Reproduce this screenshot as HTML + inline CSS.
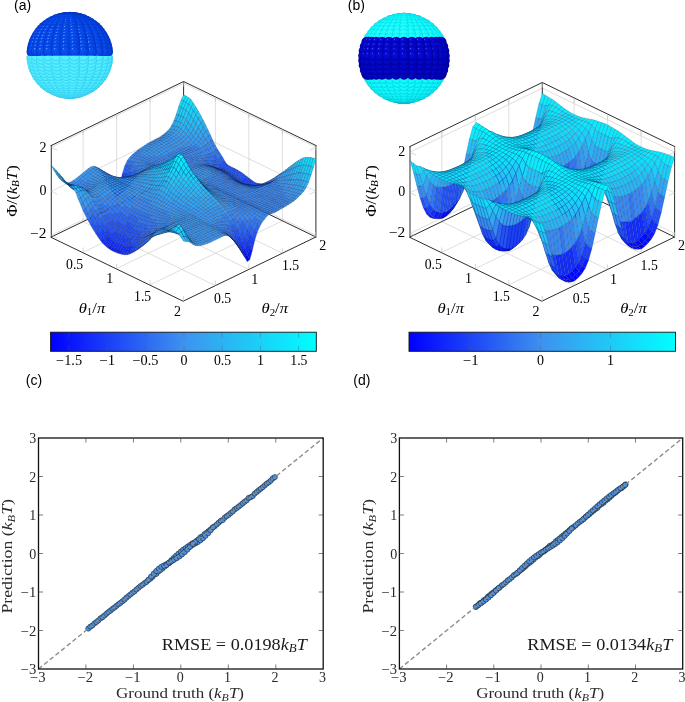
<!DOCTYPE html>
<html><head><meta charset="utf-8"><title>figure</title>
<style>html,body{margin:0;padding:0;background:#fff}svg{display:block}</style>
</head><body>
<svg width="685" height="702" viewBox="0 0 685 702">
<rect width="685" height="702" fill="#fff"/>
<text x="14.0" y="9.7" font-size="14" text-anchor="start" font-family='"Liberation Sans","DejaVu Sans",sans-serif' fill="#000">(a)</text>
<text x="347.8" y="9.7" font-size="14" text-anchor="start" font-family='"Liberation Sans","DejaVu Sans",sans-serif' fill="#000">(b)</text>
<text x="25.8" y="384.7" font-size="14" text-anchor="start" font-family='"Liberation Sans","DejaVu Sans",sans-serif' fill="#000">(c)</text>
<text x="353.3" y="384.7" font-size="14" text-anchor="start" font-family='"Liberation Sans","DejaVu Sans",sans-serif' fill="#000">(d)</text>
<g stroke="#c8c8c8" stroke-width="0.6" fill="none">
<path d="M83.1 252.4L215.4 188.4" />
<path d="M83.1 221.6L215.4 285.6" />
<path d="M83.1 221.6L83.1 130.1" />
<path d="M215.4 188.4L215.4 96.9" />
<path d="M116.6 268.6L248.9 204.6" />
<path d="M116.6 205.4L248.9 269.4" />
<path d="M116.6 205.4L116.6 113.9" />
<path d="M248.9 204.6L248.9 113.1" />
<path d="M150.1 284.8L282.4 220.8" />
<path d="M150.1 189.2L282.4 253.2" />
<path d="M150.1 189.2L150.1 97.7" />
<path d="M282.4 220.8L282.4 129.3" />
<path d="M51.3 235.2L183.6 171.3" />
<path d="M183.6 171.3L315.9 235.2" />
<path d="M51.3 191.2L183.6 127.3" />
<path d="M183.6 127.3L315.9 191.2" />
<path d="M51.3 147.2L183.6 83.3" />
<path d="M183.6 83.3L315.9 147.2" />
</g>
<g stroke="#222" stroke-width="0.95" fill="none" stroke-linecap="square">
<path d="M51.3 145.5L183.6 81.5L315.9 145.5"/>
<path d="M51.3 237.0L183.6 173.0L315.9 237.0L183.6 301.0z"/>
<path d="M51.3 237.0L51.3 145.5" />
<path d="M183.6 96.9L183.6 81.5" />
<path d="M315.9 237.0L315.9 145.5" />
</g>
<g stroke="#c2c2c2" stroke-width="0.65" fill="none">
<path d="M83.1 252.4v-5"/>
<path d="M215.4 285.6v-5"/>
<path d="M83.1 130.1v5"/>
<path d="M215.4 96.9v5"/>
<path d="M116.6 268.6v-5"/>
<path d="M248.9 269.4v-5"/>
<path d="M116.6 113.9v5"/>
<path d="M248.9 113.1v5"/>
<path d="M150.1 284.8v-5"/>
<path d="M282.4 253.2v-5"/>
<path d="M150.1 97.7v5"/>
<path d="M282.4 129.3v5"/>
<path d="M183.6 301.0v-5"/>
<path d="M315.9 237.0v-5"/>
<path d="M183.6 81.5v5"/>
<path d="M315.9 145.5v5"/>
<path d="M51.3 235.2L57.3 238.2" />
<path d="M315.9 235.2L309.9 238.2" />
<path d="M51.3 191.2L57.3 194.2" />
<path d="M315.9 191.2L309.9 194.2" />
<path d="M51.3 147.2L57.3 150.2" />
<path d="M315.9 147.2L309.9 150.2" />
</g>
<g stroke="#04184a" stroke-opacity="0.68" stroke-width="0.33" stroke-linejoin="round">
<g fill="#0cebfc"><path d="M181.1 100l2.5 1.1 2.5-5-2.5-1.4z"/></g>
<g fill="#13ddfa"><path d="M178.7 106.6l2.4 0.9 2.5-6.4-2.5-1.1z"/></g>
<g fill="#1bcff8"><path d="M176.2 114.5l2.5 0.6 2.4-7.6-2.4-0.9z"/></g>
<g fill="#2bb4f3"><path d="M173.8 120.9l2.4 0.2 2.5-6-2.5-0.6z"/><path d="M171.3 125.9l2.5 0.1 2.4-4.9-2.4-0.2z"/></g>
<g fill="#32a6f1"><path d="M168.9 129.4l2.4 0.1 2.5-3.5-2.5-0.1z"/><path d="M166.4 132.1l2.5 0 2.4-2.6-2.4-0.1z"/></g>
<g fill="#3a99ef"><path d="M164 134.1l2.4 0 2.5-2-2.5 0z"/><path d="M161.5 135.9l2.5 0 2.4-1.8-2.4 0z"/><path d="M159.1 137.4l2.4 0.1 2.5-1.6-2.5 0z"/><path d="M156.6 138.7l2.5 0.1 2.4-1.3-2.4-0.1z"/><path d="M154.2 140l2.4 0.2 2.5-1.4-2.5-0.1z"/><path d="M151.7 141.2l2.5 0.3 2.4-1.3-2.4-0.2z"/><path d="M149.3 142.5l2.4 0.4 2.5-1.4-2.5-0.3z"/><path d="M146.8 143.9l2.5 0.5 2.4-1.5-2.4-0.4z"/><path d="M144.4 145.6l2.4 0.4 2.5-1.6-2.5-0.5z"/><path d="M141.9 147.3l2.5 0.5 2.4-1.8-2.4-0.4z"/><path d="M139.5 149l2.4 0.5 2.5-1.7-2.5-0.5z"/></g>
<g fill="#3a89ef"><path d="M137 150.7l2.5 0.6 2.4-1.8-2.4-0.5z"/><path d="M134.6 152.7l2.4 0.6 2.5-2-2.5-0.6z"/><path d="M132.1 154.8l2.5 0.6 2.4-2.1-2.4-0.6z"/><path d="M129.7 157.3l2.4 0.6 2.5-2.5-2.5-0.6z"/><path d="M127.2 160.6l2.5 0.5 2.4-3.2-2.4-0.6z"/></g>
<g fill="#3277f1"><path d="M124.8 165.8l2.4 0.2 2.5-4.9-2.5-0.5z"/></g>
<g fill="#2b64f3"><path d="M122.3 173.8l2.5-0.1 2.4-7.7-2.4-0.2z"/></g>
<g fill="#1b40f8"><path d="M119.9 185.8l2.4-0.6 2.5-11.5-2.5 0.1z"/></g>
<g fill="#0c1bfc"><path d="M117.4 194.6l2.5-1.1 2.4-8.3-2.4 0.6z"/></g>
<g fill="#0409fe"><path d="M115 196.4l2.4-1 2.5-1.9-2.5 1.1z"/></g>
<g fill="#0c1bfc"><path d="M112.5 192.3l2.5-0.6 2.4 3.7-2.4 1z"/></g>
<g fill="#132efa"><path d="M110.1 188.3l2.4-0.2 2.5 3.6-2.5 0.6z"/></g>
<g fill="#1b40f8"><path d="M107.6 183.9l2.5 0.1 2.4 4.1-2.4 0.2z"/></g>
<g fill="#2352f5"><path d="M105.2 179.8l2.4 0.4 2.5 3.8-2.5-0.1z"/></g>
<g fill="#2b64f3"><path d="M102.7 175.7l2.5 0.7 2.4 3.8-2.4-0.4z"/></g>
<g fill="#3277f1"><path d="M100.3 171.8l2.4 0.9 2.5 3.7-2.5-0.7z"/></g>
<g fill="#3a89ef"><path d="M97.8 168.2l2.5 1.2 2.4 3.3-2.4-0.9z"/></g>
<g fill="#3a99ef"><path d="M95.4 166.5l2.4 1.4 2.5 1.5-2.5-1.2z"/><path d="M92.9 166.2l2.5 1.4 2.4 0.3-2.4-1.4z"/></g>
<g fill="#32a6f1"><path d="M90.5 167.1l2.4 1.6 2.5-1.1-2.5-1.4z"/><path d="M88 168.8l2.5 1.7 2.4-1.8-2.4-1.6z"/></g>
<g fill="#3a99ef"><path d="M85.6 170.8l2.4 1.8 2.5-2.1-2.5-1.7z"/><path d="M83.1 172.8l2.5 2 2.4-2.2-2.4-1.8z"/><path d="M80.7 174.8l2.4 2.1 2.5-2.1-2.5-2z"/><path d="M78.2 176.8l2.5 2.2 2.4-2.1-2.4-2.1z"/><path d="M75.8 178.7l2.4 2.3 2.5-2-2.5-2.2z"/><path d="M73.3 180.4l2.5 2.4 2.4-1.8-2.4-2.3z"/></g>
<g fill="#3a89ef"><path d="M70.9 182l2.4 2.4 2.5-1.6-2.5-2.4z"/><path d="M68.4 182.8l2.5 2.6 2.4-1-2.4-2.4z"/></g>
<g fill="#3a99ef"><path d="M66 182.6l2.4 2.7 2.5 0.1-2.5-2.6z"/><path d="M63.5 179.9l2.5 2.9 2.4 2.5-2.4-2.7z"/></g>
<g fill="#32a6f1"><path d="M61.1 176l2.4 3.2 2.5 3.6-2.5-2.9z"/></g>
<g fill="#2bb4f3"><path d="M58.6 173l2.5 3.6 2.4 2.6-2.4-3.2z"/></g>
<g fill="#23c2f5"><path d="M56.2 170.3l2.4 4 2.5 2.3-2.5-3.6z"/><path d="M53.7 167.8l2.5 4.5 2.4 2-2.4-4z"/></g>
<g fill="#1bcff8"><path d="M51.3 165.2l2.4 4.8 2.5 2.3-2.5-4.5z"/></g>
<g fill="#0cebfc"><path d="M183.6 101.1l2.5 1.3 2.4-4.8-2.4-1.5z"/></g>
<g fill="#13ddfa"><path d="M181.1 107.5l2.5 1.1 2.5-6.2-2.5-1.3z"/></g>
<g fill="#1bcff8"><path d="M178.7 115.1l2.4 0.8 2.5-7.3-2.5-1.1z"/></g>
<g fill="#23c2f5"><path d="M176.2 121.1l2.5 0.6 2.4-5.8-2.4-0.8z"/></g>
<g fill="#2bb4f3"><path d="M173.8 126l2.4 0.5 2.5-4.8-2.5-0.6z"/></g>
<g fill="#32a6f1"><path d="M171.3 129.5l2.5 0.3 2.4-3.3-2.4-0.5z"/><path d="M168.9 132.1l2.4 0.3 2.5-2.6-2.5-0.3z"/><path d="M166.4 134.1l2.5 0.4 2.4-2.1-2.4-0.3z"/></g>
<g fill="#3a99ef"><path d="M164 135.9l2.4 0.4 2.5-1.8-2.5-0.4z"/><path d="M161.5 137.5l2.5 0.4 2.4-1.6-2.4-0.4z"/><path d="M159.1 138.8l2.4 0.5 2.5-1.4-2.5-0.4z"/><path d="M156.6 140.2l2.5 0.5 2.4-1.4-2.4-0.5z"/><path d="M154.2 141.5l2.4 0.6 2.5-1.4-2.5-0.5z"/><path d="M151.7 142.9l2.5 0.6 2.4-1.4-2.4-0.6z"/><path d="M149.3 144.4l2.4 0.6 2.5-1.5-2.5-0.6z"/><path d="M146.8 146l2.5 0.7 2.4-1.7-2.4-0.6z"/><path d="M144.4 147.8l2.4 0.7 2.5-1.8-2.5-0.7z"/><path d="M141.9 149.5l2.5 0.8 2.4-1.8-2.4-0.7z"/><path d="M139.5 151.3l2.4 0.8 2.5-1.8-2.5-0.8z"/></g>
<g fill="#3a89ef"><path d="M137 153.3l2.5 0.7 2.4-1.9-2.4-0.8z"/><path d="M134.6 155.4l2.4 0.6 2.5-2-2.5-0.7z"/><path d="M132.1 157.9l2.5 0.6 2.4-2.5-2.4-0.6z"/><path d="M129.7 161.1l2.4 0.4 2.5-3-2.5-0.6z"/></g>
<g fill="#3277f1"><path d="M127.2 166l2.5 0.2 2.4-4.7-2.4-0.4z"/></g>
<g fill="#2b64f3"><path d="M124.8 173.7l2.4-0.3 2.5-7.2-2.5-0.2z"/></g>
<g fill="#1b40f8"><path d="M122.3 185.2l2.5-0.9 2.4-10.9-2.4 0.3z"/></g>
<g fill="#132efa"><path d="M119.9 193.5l2.4-1.4 2.5-7.8-2.5 0.9z"/></g>
<g fill="#0c1bfc"><path d="M117.4 195.4l2.5-1.3 2.4-2-2.4 1.4z"/><path d="M115 191.7l2.4-1 2.5 3.4-2.5 1.3z"/></g>
<g fill="#132efa"><path d="M112.5 188.1l2.5-0.6 2.4 3.2-2.4 1z"/></g>
<g fill="#1b40f8"><path d="M110.1 184l2.4-0.1 2.5 3.6-2.5 0.6z"/></g>
<g fill="#2352f5"><path d="M107.6 180.2l2.5 0.2 2.4 3.5-2.4 0.1z"/></g>
<g fill="#2b64f3"><path d="M105.2 176.4l2.4 0.6 2.5 3.4-2.5-0.2z"/></g>
<g fill="#3277f1"><path d="M102.7 172.7l2.5 1 2.4 3.3-2.4-0.6z"/></g>
<g fill="#3a89ef"><path d="M100.3 169.4l2.4 1.4 2.5 2.9-2.5-1z"/></g>
<g fill="#3a99ef"><path d="M97.8 167.9l2.5 1.5 2.4 1.4-2.4-1.4z"/><path d="M95.4 167.6l2.4 1.7 2.5 0.1-2.5-1.5z"/><path d="M92.9 168.7l2.5 1.7 2.4-1.1-2.4-1.7z"/><path d="M90.5 170.5l2.4 1.8 2.5-1.9-2.5-1.7z"/><path d="M88 172.6l2.5 1.8 2.4-2.1-2.4-1.8z"/><path d="M85.6 174.8l2.4 1.8 2.5-2.2-2.5-1.8z"/><path d="M83.1 176.9l2.5 1.9 2.4-2.2-2.4-1.8z"/><path d="M80.7 179l2.4 1.9 2.5-2.1-2.5-1.9z"/></g>
<g fill="#3a89ef"><path d="M78.2 181l2.5 2 2.4-2.1-2.4-1.9z"/><path d="M75.8 182.8l2.4 2 2.5-1.8-2.5-2z"/><path d="M73.3 184.4l2.5 2.1 2.4-1.7-2.4-2z"/><path d="M70.9 185.4l2.4 2.2 2.5-1.1-2.5-2.1z"/><path d="M68.4 185.3l2.5 2.3 2.4 0-2.4-2.2z"/></g>
<g fill="#3a99ef"><path d="M66 182.8l2.4 2.5 2.5 2.3-2.5-2.3z"/></g>
<g fill="#32a6f1"><path d="M63.5 179.2l2.5 2.7 2.4 3.4-2.4-2.5z"/></g>
<g fill="#2bb4f3"><path d="M61.1 176.6l2.4 3 2.5 2.3-2.5-2.7z"/><path d="M58.6 174.3l2.5 3.3 2.4 2-2.4-3z"/></g>
<g fill="#23c2f5"><path d="M56.2 172.3l2.4 3.7 2.5 1.6-2.5-3.3z"/></g>
<g fill="#1bcff8"><path d="M53.7 170l2.5 4.1 2.4 1.9-2.4-3.7z"/></g>
<g fill="#0cebfc"><path d="M186.1 102.4l2.4 1.7 2.5-4.6-2.5-1.9z"/></g>
<g fill="#13ddfa"><path d="M183.6 108.6l2.5 1.6 2.4-6.1-2.4-1.7z"/></g>
<g fill="#1bcff8"><path d="M181.1 115.9l2.5 1.3 2.5-7-2.5-1.6z"/></g>
<g fill="#23c2f5"><path d="M178.7 121.7l2.4 1 2.5-5.5-2.5-1.3z"/></g>
<g fill="#2bb4f3"><path d="M176.2 126.5l2.5 0.9 2.4-4.7-2.4-1z"/></g>
<g fill="#32a6f1"><path d="M173.8 129.8l2.4 0.8 2.5-3.2-2.5-0.9z"/><path d="M171.3 132.4l2.5 0.8 2.4-2.6-2.4-0.8z"/><path d="M168.9 134.5l2.4 0.7 2.5-2-2.5-0.8z"/></g>
<g fill="#3a99ef"><path d="M166.4 136.3l2.5 0.7 2.4-1.8-2.4-0.7z"/><path d="M164 137.9l2.4 0.7 2.5-1.6-2.5-0.7z"/><path d="M161.5 139.3l2.5 0.7 2.4-1.4-2.4-0.7z"/><path d="M159.1 140.7l2.4 0.7 2.5-1.4-2.5-0.7z"/><path d="M156.6 142.1l2.5 0.8 2.4-1.5-2.4-0.7z"/><path d="M154.2 143.5l2.4 0.8 2.5-1.4-2.5-0.8z"/><path d="M151.7 145l2.5 0.9 2.4-1.6-2.4-0.8z"/><path d="M149.3 146.7l2.4 0.9 2.5-1.7-2.5-0.9z"/><path d="M146.8 148.5l2.5 0.9 2.4-1.8-2.4-0.9z"/><path d="M144.4 150.3l2.4 0.9 2.5-1.8-2.5-0.9z"/><path d="M141.9 152.1l2.5 0.9 2.4-1.8-2.4-0.9z"/><path d="M139.5 154l2.4 0.8 2.5-1.8-2.5-0.9z"/></g>
<g fill="#3a89ef"><path d="M137 156l2.5 0.8 2.4-2-2.4-0.8z"/><path d="M134.6 158.5l2.4 0.6 2.5-2.3-2.5-0.8z"/><path d="M132.1 161.5l2.5 0.4 2.4-2.8-2.4-0.6z"/></g>
<g fill="#3277f1"><path d="M129.7 166.2l2.4 0 2.5-4.3-2.5-0.4z"/></g>
<g fill="#2b64f3"><path d="M127.2 173.4l2.5-0.5 2.4-6.7-2.4 0z"/></g>
<g fill="#2352f5"><path d="M124.8 184.3l2.4-1.3 2.5-10.1-2.5 0.5z"/></g>
<g fill="#132efa"><path d="M122.3 192.1l2.5-1.9 2.4-7.2-2.4 1.3z"/></g>
<g fill="#0c1bfc"><path d="M119.9 194.1l2.4-1.9 2.5-2-2.5 1.9z"/></g>
<g fill="#132efa"><path d="M117.4 190.7l2.5-1.4 2.4 2.9-2.4 1.9z"/></g>
<g fill="#1b40f8"><path d="M115 187.5l2.4-1 2.5 2.8-2.5 1.4z"/></g>
<g fill="#2352f5"><path d="M112.5 183.9l2.5-0.5 2.4 3.1-2.4 1z"/><path d="M110.1 180.4l2.4 0.1 2.5 2.9-2.5 0.5z"/></g>
<g fill="#2b64f3"><path d="M107.6 177l2.5 0.5 2.4 3-2.4-0.1z"/></g>
<g fill="#3277f1"><path d="M105.2 173.7l2.4 1 2.5 2.8-2.5-0.5z"/></g>
<g fill="#3a89ef"><path d="M102.7 170.8l2.5 1.4 2.4 2.5-2.4-1z"/></g>
<g fill="#3a99ef"><path d="M100.3 169.4l2.4 1.8 2.5 1-2.5-1.4z"/><path d="M97.8 169.3l2.5 1.8 2.4 0.1-2.4-1.8z"/><path d="M95.4 170.4l2.4 1.8 2.5-1.1-2.5-1.8z"/><path d="M92.9 172.3l2.5 1.8 2.4-1.9-2.4-1.8z"/><path d="M90.5 174.4l2.4 1.8 2.5-2.1-2.5-1.8z"/><path d="M88 176.6l2.5 1.7 2.4-2.1-2.4-1.8z"/><path d="M85.6 178.8l2.4 1.7 2.5-2.2-2.5-1.7z"/><path d="M83.1 180.9l2.5 1.7 2.4-2.1-2.4-1.7z"/></g>
<g fill="#3a89ef"><path d="M80.7 183l2.4 1.7 2.5-2.1-2.5-1.7z"/><path d="M78.2 184.8l2.5 1.8 2.4-1.9-2.4-1.7z"/><path d="M75.8 186.5l2.4 1.8 2.5-1.7-2.5-1.8z"/><path d="M73.3 187.6l2.5 1.8 2.4-1.1-2.4-1.8z"/><path d="M70.9 187.6l2.4 1.9 2.5-0.1-2.5-1.8z"/></g>
<g fill="#3a99ef"><path d="M68.4 185.3l2.5 2.1 2.4 2.1-2.4-1.9z"/><path d="M66 181.9l2.4 2.3 2.5 3.2-2.5-2.1z"/></g>
<g fill="#32a6f1"><path d="M63.5 179.6l2.5 2.5 2.4 2.1-2.4-2.3z"/></g>
<g fill="#2bb4f3"><path d="M61.1 177.6l2.4 2.9 2.5 1.6-2.5-2.5z"/><path d="M58.6 176l2.5 3.3 2.4 1.2-2.4-2.9z"/></g>
<g fill="#23c2f5"><path d="M56.2 174.1l2.4 3.5 2.5 1.7-2.5-3.3z"/></g>
<g fill="#13ddfa"><path d="M188.5 104.1l2.5 3.2 2.4-4.2-2.4-3.6z"/><path d="M186.1 110.2l2.4 2.9 2.5-5.8-2.5-3.2z"/></g>
<g fill="#1bcff8"><path d="M183.6 117.2l2.5 2.5 2.4-6.6-2.4-2.9z"/></g>
<g fill="#23c2f5"><path d="M181.1 122.7l2.5 2.3 2.5-5.3-2.5-2.5z"/></g>
<g fill="#2bb4f3"><path d="M178.7 127.4l2.4 2 2.5-4.4-2.5-2.3z"/></g>
<g fill="#32a6f1"><path d="M176.2 130.6l2.5 1.8 2.4-3-2.4-2z"/><path d="M173.8 133.2l2.4 1.7 2.5-2.5-2.5-1.8z"/><path d="M171.3 135.2l2.5 1.6 2.4-1.9-2.4-1.7z"/></g>
<g fill="#3a99ef"><path d="M168.9 137l2.4 1.6 2.5-1.8-2.5-1.6z"/><path d="M166.4 138.6l2.5 1.6 2.4-1.6-2.4-1.6z"/><path d="M164 140l2.4 1.6 2.5-1.4-2.5-1.6z"/><path d="M161.5 141.4l2.5 1.5 2.4-1.3-2.4-1.6z"/><path d="M159.1 142.9l2.4 1.5 2.5-1.5-2.5-1.5z"/><path d="M156.6 144.3l2.5 1.5 2.4-1.4-2.4-1.5z"/><path d="M154.2 145.9l2.4 1.4 2.5-1.5-2.5-1.5z"/><path d="M151.7 147.6l2.5 1.4 2.4-1.7-2.4-1.4z"/><path d="M149.3 149.4l2.4 1.4 2.5-1.8-2.5-1.4z"/><path d="M146.8 151.2l2.5 1.3 2.4-1.7-2.4-1.4z"/><path d="M144.4 153l2.4 1.3 2.5-1.8-2.5-1.3z"/><path d="M141.9 154.8l2.5 1.2 2.4-1.7-2.4-1.3z"/></g>
<g fill="#3a89ef"><path d="M139.5 156.8l2.4 1 2.5-1.8-2.5-1.2z"/><path d="M137 159.1l2.5 0.8 2.4-2.1-2.4-1z"/><path d="M134.6 161.9l2.4 0.5 2.5-2.5-2.5-0.8z"/><path d="M132.1 166.2l2.5 0.1 2.4-3.9-2.4-0.5z"/></g>
<g fill="#3277f1"><path d="M129.7 172.9l2.4-0.6 2.5-6-2.5-0.1z"/></g>
<g fill="#2352f5"><path d="M127.2 183l2.5-1.6 2.4-9.1-2.4 0.6z"/></g>
<g fill="#1b40f8"><path d="M124.8 190.2l2.4-2.5 2.5-6.3-2.5 1.6z"/></g>
<g fill="#132efa"><path d="M122.3 192.2l2.5-2.4 2.4-2.1-2.4 2.5z"/><path d="M119.9 189.3l2.4-1.9 2.5 2.4-2.5 2.4z"/></g>
<g fill="#1b40f8"><path d="M117.4 186.5l2.5-1.4 2.4 2.3-2.4 1.9z"/></g>
<g fill="#2352f5"><path d="M115 183.4l2.4-0.9 2.5 2.6-2.5 1.4z"/></g>
<g fill="#2b64f3"><path d="M112.5 180.5l2.5-0.4 2.4 2.4-2.4 0.9z"/></g>
<g fill="#3277f1"><path d="M110.1 177.5l2.4 0.2 2.5 2.4-2.5 0.4z"/><path d="M107.6 174.7l2.5 0.8 2.4 2.2-2.4-0.2z"/></g>
<g fill="#3a89ef"><path d="M105.2 172.2l2.4 1.3 2.5 2-2.5-0.8z"/></g>
<g fill="#3a99ef"><path d="M102.7 171.2l2.5 1.6 2.4 0.7-2.4-1.3z"/><path d="M100.3 171.1l2.4 1.7 2.5 0-2.5-1.6z"/><path d="M97.8 172.2l2.5 1.6 2.4-1-2.4-1.7z"/><path d="M95.4 174.1l2.4 1.4 2.5-1.7-2.5-1.6z"/><path d="M92.9 176.2l2.5 1.3 2.4-2-2.4-1.4z"/><path d="M90.5 178.3l2.4 1.2 2.5-2-2.5-1.3z"/><path d="M88 180.5l2.5 1 2.4-2-2.4-1.2z"/></g>
<g fill="#3a89ef"><path d="M85.6 182.6l2.4 1 2.5-2.1-2.5-1z"/><path d="M83.1 184.7l2.5 0.9 2.4-2-2.4-1z"/><path d="M80.7 186.6l2.4 0.9 2.5-1.9-2.5-0.9z"/><path d="M78.2 188.3l2.5 0.9 2.4-1.7-2.4-0.9z"/><path d="M75.8 189.4l2.4 0.9 2.5-1.1-2.5-0.9z"/><path d="M73.3 189.5l2.5 0.9 2.4-0.1-2.4-0.9z"/></g>
<g fill="#3a99ef"><path d="M70.9 187.4l2.4 1 2.5 2-2.5-0.9z"/><path d="M68.4 184.2l2.5 1.3 2.4 2.9-2.4-1z"/></g>
<g fill="#32a6f1"><path d="M66 182.1l2.4 1.6 2.5 1.8-2.5-1.3z"/></g>
<g fill="#2bb4f3"><path d="M63.5 180.5l2.5 1.8 2.4 1.4-2.4-1.6z"/><path d="M61.1 179.3l2.4 2.2 2.5 0.8-2.5-1.8z"/></g>
<g fill="#23c2f5"><path d="M58.6 177.6l2.5 2.5 2.4 1.4-2.4-2.2z"/></g>
<g fill="#13ddfa"><path d="M191 107.3l2.4 3.6 2.5-3.8-2.5-4z"/></g>
<g fill="#1bcff8"><path d="M188.5 113.1l2.5 3.4 2.4-5.6-2.4-3.6z"/></g>
<g fill="#23c2f5"><path d="M186.1 119.7l2.4 3 2.5-6.2-2.5-3.4z"/></g>
<g fill="#2bb4f3"><path d="M183.6 125l2.5 2.5 2.4-4.8-2.4-3z"/><path d="M181.1 129.4l2.5 2.3 2.5-4.2-2.5-2.5z"/></g>
<g fill="#32a6f1"><path d="M178.7 132.4l2.4 2.2 2.5-2.9-2.5-2.3z"/><path d="M176.2 134.9l2.5 2 2.4-2.3-2.4-2.2z"/></g>
<g fill="#3a99ef"><path d="M173.8 136.8l2.4 2 2.5-1.9-2.5-2z"/><path d="M171.3 138.6l2.5 1.9 2.4-1.7-2.4-2z"/><path d="M168.9 140.2l2.4 1.8 2.5-1.5-2.5-1.9z"/><path d="M166.4 141.6l2.5 1.8 2.4-1.4-2.4-1.8z"/><path d="M164 142.9l2.4 1.8 2.5-1.3-2.5-1.8z"/><path d="M161.5 144.4l2.5 1.7 2.4-1.4-2.4-1.8z"/><path d="M159.1 145.8l2.4 1.7 2.5-1.4-2.5-1.7z"/><path d="M156.6 147.3l2.5 1.7 2.4-1.5-2.4-1.7z"/><path d="M154.2 149l2.4 1.7 2.5-1.7-2.5-1.7z"/><path d="M151.7 150.8l2.5 1.6 2.4-1.7-2.4-1.7z"/><path d="M149.3 152.5l2.4 1.5 2.5-1.6-2.5-1.6z"/><path d="M146.8 154.3l2.5 1.4 2.4-1.7-2.4-1.5z"/><path d="M144.4 156l2.4 1.3 2.5-1.6-2.5-1.4z"/></g>
<g fill="#3a89ef"><path d="M141.9 157.8l2.5 1.1 2.4-1.6-2.4-1.3z"/><path d="M139.5 159.9l2.4 0.8 2.5-1.8-2.5-1.1z"/><path d="M137 162.4l2.5 0.5 2.4-2.2-2.4-0.8z"/><path d="M134.6 166.3l2.4 0 2.5-3.4-2.5-0.5z"/></g>
<g fill="#3277f1"><path d="M132.1 172.3l2.5-0.8 2.4-5.2-2.4 0z"/></g>
<g fill="#2b64f3"><path d="M129.7 181.4l2.4-1.8 2.5-8.1-2.5 0.8z"/></g>
<g fill="#1b40f8"><path d="M127.2 187.7l2.5-2.6 2.4-5.5-2.4 1.8z"/><path d="M124.8 189.8l2.4-2.7 2.5-2-2.5 2.6z"/><path d="M122.3 187.4l2.5-2.2 2.4 1.9-2.4 2.7z"/></g>
<g fill="#2352f5"><path d="M119.9 185.1l2.4-1.7 2.5 1.8-2.5 2.2z"/></g>
<g fill="#2b64f3"><path d="M117.4 182.5l2.5-1 2.4 1.9-2.4 1.7z"/><path d="M115 180.1l2.4-0.4 2.5 1.8-2.5 1z"/></g>
<g fill="#3277f1"><path d="M112.5 177.7l2.5 0.1 2.4 1.9-2.4 0.4z"/></g>
<g fill="#3a89ef"><path d="M110.1 175.5l2.4 0.7 2.5 1.6-2.5-0.1z"/><path d="M107.6 173.5l2.5 1.4 2.4 1.3-2.4-0.7z"/></g>
<g fill="#3a99ef"><path d="M105.2 172.8l2.4 1.6 2.5 0.5-2.5-1.4z"/><path d="M102.7 172.8l2.5 1.6 2.4 0-2.4-1.6z"/><path d="M100.3 173.8l2.4 1.6 2.5-1-2.5-1.6z"/><path d="M97.8 175.5l2.5 1.4 2.4-1.5-2.4-1.6z"/><path d="M95.4 177.5l2.4 1.2 2.5-1.8-2.5-1.4z"/><path d="M92.9 179.5l2.5 1 2.4-1.8-2.4-1.2z"/><path d="M90.5 181.5l2.4 0.9 2.5-1.9-2.5-1z"/><path d="M88 183.6l2.5 0.7 2.4-1.9-2.4-0.9z"/></g>
<g fill="#3a89ef"><path d="M85.6 185.6l2.4 0.6 2.5-1.9-2.5-0.7z"/><path d="M83.1 187.5l2.5 0.5 2.4-1.8-2.4-0.6z"/><path d="M80.7 189.2l2.4 0.5 2.5-1.7-2.5-0.5z"/><path d="M78.2 190.3l2.5 0.5 2.4-1.1-2.4-0.5z"/><path d="M75.8 190.4l2.4 0.6 2.5-0.2-2.5-0.5z"/></g>
<g fill="#3a99ef"><path d="M73.3 188.4l2.5 0.7 2.4 1.9-2.4-0.6z"/><path d="M70.9 185.5l2.4 0.8 2.5 2.8-2.5-0.7z"/></g>
<g fill="#32a6f1"><path d="M68.4 183.7l2.5 1.1 2.4 1.5-2.4-0.8z"/></g>
<g fill="#2bb4f3"><path d="M66 182.3l2.4 1.4 2.5 1.1-2.5-1.1z"/><path d="M63.5 181.5l2.5 1.8 2.4 0.4-2.4-1.4z"/></g>
<g fill="#23c2f5"><path d="M61.1 180.1l2.4 2 2.5 1.2-2.5-1.8z"/></g>
<g fill="#1bcff8"><path d="M193.4 110.9l2.5 3.7 2.4-3.5-2.4-4z"/><path d="M191 116.5l2.4 3.5 2.5-5.4-2.5-3.7z"/></g>
<g fill="#23c2f5"><path d="M188.5 122.7l2.5 3.1 2.4-5.8-2.4-3.5z"/></g>
<g fill="#2bb4f3"><path d="M186.1 127.5l2.4 2.8 2.5-4.5-2.5-3.1z"/></g>
<g fill="#32a6f1"><path d="M183.6 131.7l2.5 2.6 2.4-4-2.4-2.8z"/><path d="M181.1 134.6l2.5 2.4 2.5-2.7-2.5-2.6z"/></g>
<g fill="#3a99ef"><path d="M178.7 136.9l2.4 2.3 2.5-2.2-2.5-2.4z"/><path d="M176.2 138.8l2.5 2.1 2.4-1.7-2.4-2.3z"/><path d="M173.8 140.5l2.4 2.1 2.5-1.7-2.5-2.1z"/><path d="M171.3 142l2.5 2.1 2.4-1.5-2.4-2.1z"/><path d="M168.9 143.4l2.4 2 2.5-1.3-2.5-2.1z"/><path d="M166.4 144.7l2.5 1.9 2.4-1.2-2.4-2z"/><path d="M164 146.1l2.4 1.9 2.5-1.4-2.5-1.9z"/><path d="M161.5 147.5l2.5 1.8 2.4-1.3-2.4-1.9z"/><path d="M159.1 149l2.4 1.8 2.5-1.5-2.5-1.8z"/><path d="M156.6 150.7l2.5 1.7 2.4-1.6-2.4-1.8z"/><path d="M154.2 152.4l2.4 1.7 2.5-1.7-2.5-1.7z"/><path d="M151.7 154l2.5 1.6 2.4-1.5-2.4-1.7z"/><path d="M149.3 155.7l2.4 1.5 2.5-1.6-2.5-1.6z"/></g>
<g fill="#3a89ef"><path d="M146.8 157.3l2.5 1.3 2.4-1.4-2.4-1.5z"/><path d="M144.4 158.9l2.4 1.1 2.5-1.4-2.5-1.3z"/><path d="M141.9 160.7l2.5 0.9 2.4-1.6-2.4-1.1z"/><path d="M139.5 162.9l2.4 0.4 2.5-1.7-2.5-0.9z"/><path d="M137 166.3l2.5-0.2 2.4-2.8-2.4-0.4z"/></g>
<g fill="#3277f1"><path d="M134.6 171.5l2.4-0.9 2.5-4.5-2.5 0.2z"/></g>
<g fill="#2b64f3"><path d="M132.1 179.6l2.5-2.1 2.4-6.9-2.4 0.9z"/></g>
<g fill="#2352f5"><path d="M129.7 185.1l2.4-3.2 2.5-4.4-2.5 2.1z"/><path d="M127.2 187.1l2.5-3.1 2.4-2.1-2.4 3.2z"/><path d="M124.8 185.2l2.4-2.6 2.5 1.4-2.5 3.1z"/></g>
<g fill="#2b64f3"><path d="M122.3 183.4l2.5-2 2.4 1.2-2.4 2.6z"/><path d="M119.9 181.5l2.4-1.3 2.5 1.2-2.5 2z"/></g>
<g fill="#3277f1"><path d="M117.4 179.7l2.5-0.7 2.4 1.2-2.4 1.3z"/><path d="M115 177.8l2.4 0 2.5 1.2-2.5 0.7z"/></g>
<g fill="#3a89ef"><path d="M112.5 176.2l2.5 0.6 2.4 1-2.4 0z"/><path d="M110.1 174.9l2.4 1.2 2.5 0.7-2.5-0.6z"/></g>
<g fill="#3a99ef"><path d="M107.6 174.4l2.5 1.6 2.4 0.1-2.4-1.2z"/><path d="M105.2 174.4l2.4 1.7 2.5-0.1-2.5-1.6z"/><path d="M102.7 175.4l2.5 1.5 2.4-0.8-2.4-1.7z"/><path d="M100.3 176.9l2.4 1.3 2.5-1.3-2.5-1.5z"/><path d="M97.8 178.7l2.5 1.1 2.4-1.6-2.4-1.3z"/><path d="M95.4 180.5l2.4 0.9 2.5-1.6-2.5-1.1z"/><path d="M92.9 182.4l2.5 0.7 2.4-1.7-2.4-0.9z"/><path d="M90.5 184.3l2.4 0.6 2.5-1.8-2.5-0.7z"/></g>
<g fill="#3a89ef"><path d="M88 186.2l2.5 0.5 2.4-1.8-2.4-0.6z"/><path d="M85.6 188l2.4 0.5 2.5-1.8-2.5-0.5z"/><path d="M83.1 189.7l2.5 0.4 2.4-1.6-2.4-0.5z"/><path d="M80.7 190.8l2.4 0.4 2.5-1.1-2.5-0.4z"/><path d="M78.2 191l2.5 0.4 2.4-0.2-2.4-0.4z"/></g>
<g fill="#3a99ef"><path d="M75.8 189.1l2.4 0.5 2.5 1.8-2.5-0.4z"/><path d="M73.3 186.3l2.5 0.7 2.4 2.6-2.4-0.5z"/></g>
<g fill="#32a6f1"><path d="M70.9 184.8l2.4 0.8 2.5 1.4-2.5-0.7z"/></g>
<g fill="#2bb4f3"><path d="M68.4 183.7l2.5 1 2.4 0.9-2.4-0.8z"/><path d="M66 183.3l2.4 1.3 2.5 0.1-2.5-1z"/><path d="M63.5 182.1l2.5 1.6 2.4 0.9-2.4-1.3z"/></g>
<g fill="#1bcff8"><path d="M195.9 114.6l2.4 4.1 2.5-3.2-2.5-4.4z"/></g>
<g fill="#23c2f5"><path d="M193.4 120l2.5 3.8 2.4-5.1-2.4-4.1z"/></g>
<g fill="#2bb4f3"><path d="M191 125.8l2.4 3.5 2.5-5.5-2.5-3.8z"/><path d="M188.5 130.3l2.5 3.1 2.4-4.1-2.4-3.5z"/></g>
<g fill="#32a6f1"><path d="M186.1 134.3l2.4 2.9 2.5-3.8-2.5-3.1z"/></g>
<g fill="#3a99ef"><path d="M183.6 137l2.5 2.7 2.4-2.5-2.4-2.9z"/><path d="M181.1 139.2l2.5 2.6 2.5-2.1-2.5-2.7z"/><path d="M178.7 140.9l2.4 2.5 2.5-1.6-2.5-2.6z"/><path d="M176.2 142.6l2.5 2.4 2.4-1.6-2.4-2.5z"/><path d="M173.8 144.1l2.4 2.3 2.5-1.4-2.5-2.4z"/><path d="M171.3 145.4l2.5 2.2 2.4-1.2-2.4-2.3z"/><path d="M168.9 146.6l2.4 2.2 2.5-1.2-2.5-2.2z"/><path d="M166.4 148l2.5 2.1 2.4-1.3-2.4-2.2z"/><path d="M164 149.3l2.4 2.1 2.5-1.3-2.5-2.1z"/><path d="M161.5 150.8l2.5 2 2.4-1.4-2.4-2.1z"/><path d="M159.1 152.4l2.4 2 2.5-1.6-2.5-2z"/><path d="M156.6 154.1l2.5 1.9 2.4-1.6-2.4-2z"/><path d="M154.2 155.6l2.4 1.8 2.5-1.4-2.5-1.9z"/></g>
<g fill="#3a89ef"><path d="M151.7 157.2l2.5 1.6 2.4-1.4-2.4-1.8z"/><path d="M149.3 158.6l2.4 1.5 2.5-1.3-2.5-1.6z"/><path d="M146.8 160l2.5 1.2 2.4-1.1-2.4-1.5z"/><path d="M144.4 161.6l2.4 0.9 2.5-1.3-2.5-1.2z"/><path d="M141.9 163.3l2.5 0.5 2.4-1.3-2.4-0.9z"/><path d="M139.5 166.1l2.4-0.1 2.5-2.2-2.5-0.5z"/><path d="M137 170.6l2.5-1 2.4-3.6-2.4 0.1z"/></g>
<g fill="#3277f1"><path d="M134.6 177.5l2.4-2.2 2.5-5.7-2.5 1z"/></g>
<g fill="#2b64f3"><path d="M132.1 181.9l2.5-3.2 2.4-3.4-2.4 2.2z"/><path d="M129.7 184l2.4-3.3 2.5-2-2.5 3.2z"/><path d="M127.2 182.6l2.5-2.7 2.4 0.8-2.4 3.3z"/><path d="M124.8 181.4l2.4-2.1 2.5 0.6-2.5 2.7z"/></g>
<g fill="#3277f1"><path d="M122.3 180.2l2.5-1.5 2.4 0.6-2.4 2.1z"/><path d="M119.9 179l2.4-0.9 2.5 0.6-2.5 1.5z"/></g>
<g fill="#3a89ef"><path d="M117.4 177.8l2.5-0.2 2.4 0.5-2.4 0.9z"/><path d="M115 176.8l2.4 0.5 2.5 0.3-2.5 0.2z"/><path d="M112.5 176.1l2.5 1 2.4 0.2-2.4-0.5z"/></g>
<g fill="#3a99ef"><path d="M110.1 176l2.4 1.4 2.5-0.3-2.5-1z"/><path d="M107.6 176.1l2.5 1.4 2.4-0.1-2.4-1.4z"/><path d="M105.2 176.9l2.4 1.2 2.5-0.6-2.5-1.4z"/><path d="M102.7 178.2l2.5 1.1 2.4-1.2-2.4-1.2z"/><path d="M100.3 179.8l2.4 0.8 2.5-1.3-2.5-1.1z"/><path d="M97.8 181.4l2.5 0.6 2.4-1.4-2.4-0.8z"/><path d="M95.4 183.1l2.4 0.4 2.5-1.5-2.5-0.6z"/><path d="M92.9 184.9l2.5 0.2 2.4-1.6-2.4-0.4z"/><path d="M90.5 186.7l2.4 0.2 2.5-1.8-2.5-0.2z"/><path d="M88 188.5l2.5 0 2.4-1.6-2.4-0.2z"/></g>
<g fill="#3a89ef"><path d="M85.6 190.1l2.4 0 2.5-1.6-2.5 0z"/><path d="M83.1 191.2l2.5-0.1 2.4-1-2.4 0z"/></g>
<g fill="#3a99ef"><path d="M80.7 191.4l2.4-0.1 2.5-0.2-2.5 0.1z"/><path d="M78.2 189.6l2.5 0 2.4 1.7-2.4 0.1z"/></g>
<g fill="#32a6f1"><path d="M75.8 187l2.4 0.1 2.5 2.5-2.5 0z"/><path d="M73.3 185.6l2.5 0.3 2.4 1.2-2.4-0.1z"/></g>
<g fill="#2bb4f3"><path d="M70.9 184.7l2.4 0.5 2.5 0.7-2.5-0.3z"/><path d="M68.4 184.6l2.5 0.8 2.4-0.2-2.4-0.5z"/><path d="M66 183.7l2.4 0.9 2.5 0.8-2.5-0.8z"/></g>
<g fill="#23c2f5"><path d="M198.3 118.7l2.5 4.3 2.4-2.9-2.4-4.6z"/><path d="M195.9 123.8l2.4 4 2.5-4.8-2.5-4.3z"/></g>
<g fill="#2bb4f3"><path d="M193.4 129.3l2.5 3.6 2.4-5.1-2.4-4z"/></g>
<g fill="#32a6f1"><path d="M191 133.4l2.4 3.3 2.5-3.8-2.5-3.6z"/></g>
<g fill="#3a99ef"><path d="M188.5 137.2l2.5 3.1 2.4-3.6-2.4-3.3z"/><path d="M186.1 139.7l2.4 2.9 2.5-2.3-2.5-3.1z"/><path d="M183.6 141.8l2.5 2.7 2.4-1.9-2.4-2.9z"/><path d="M181.1 143.4l2.5 2.7 2.5-1.6-2.5-2.7z"/><path d="M178.7 145l2.4 2.6 2.5-1.5-2.5-2.7z"/><path d="M176.2 146.4l2.5 2.4 2.4-1.2-2.4-2.6z"/><path d="M173.8 147.6l2.4 2.4 2.5-1.2-2.5-2.4z"/><path d="M171.3 148.8l2.5 2.3 2.4-1.1-2.4-2.4z"/><path d="M168.9 150.1l2.4 2.2 2.5-1.2-2.5-2.3z"/><path d="M166.4 151.4l2.5 2.2 2.4-1.3-2.4-2.2z"/><path d="M164 152.8l2.4 2.1 2.5-1.3-2.5-2.2z"/><path d="M161.5 154.4l2.5 2 2.4-1.5-2.4-2.1z"/></g>
<g fill="#3a89ef"><path d="M159.1 156l2.4 1.9 2.5-1.5-2.5-2z"/><path d="M156.6 157.4l2.5 1.8 2.4-1.3-2.4-1.9z"/><path d="M154.2 158.8l2.4 1.7 2.5-1.3-2.5-1.8z"/><path d="M151.7 160.1l2.5 1.5 2.4-1.1-2.4-1.7z"/><path d="M149.3 161.2l2.4 1.4 2.5-1-2.5-1.5z"/><path d="M146.8 162.5l2.5 1 2.4-0.9-2.4-1.4z"/><path d="M144.4 163.8l2.4 0.6 2.5-0.9-2.5-1z"/><path d="M141.9 166l2.5 0.1 2.4-1.7-2.4-0.6z"/><path d="M139.5 169.6l2.4-0.7 2.5-2.8-2.5-0.1z"/></g>
<g fill="#3277f1"><path d="M137 175.3l2.5-1.8 2.4-4.6-2.4 0.7z"/><path d="M134.6 178.7l2.4-2.7 2.5-2.5-2.5 1.8z"/><path d="M132.1 180.7l2.5-2.8 2.4-1.9-2.4 2.7z"/><path d="M129.7 179.9l2.4-2.3 2.5 0.3-2.5 2.8z"/><path d="M127.2 179.3l2.5-1.9 2.4 0.2-2.4 2.3z"/><path d="M124.8 178.7l2.4-1.3 2.5 0-2.5 1.9z"/></g>
<g fill="#3a89ef"><path d="M122.3 178.1l2.5-0.7 2.4 0-2.4 1.3z"/><path d="M119.9 177.6l2.4-0.2 2.5 0-2.5 0.7z"/><path d="M117.4 177.3l2.5 0.3 2.4-0.2-2.4 0.2z"/><path d="M115 177.1l2.4 1 2.5-0.5-2.5-0.3z"/></g>
<g fill="#3a99ef"><path d="M112.5 177.4l2.5 1.2 2.4-0.5-2.4-1z"/><path d="M110.1 177.5l2.4 1.2 2.5-0.1-2.5-1.2z"/><path d="M107.6 178.1l2.5 1.1 2.4-0.5-2.4-1.2z"/><path d="M105.2 179.3l2.4 0.8 2.5-0.9-2.5-1.1z"/><path d="M102.7 180.6l2.5 0.6 2.4-1.1-2.4-0.8z"/><path d="M100.3 182l2.4 0.5 2.5-1.3-2.5-0.6z"/><path d="M97.8 183.5l2.5 0.3 2.4-1.3-2.4-0.5z"/><path d="M95.4 185.1l2.4 0.2 2.5-1.5-2.5-0.3z"/><path d="M92.9 186.9l2.5 0 2.4-1.6-2.4-0.2z"/><path d="M90.5 188.5l2.4 0 2.5-1.6-2.5 0z"/><path d="M88 190.1l2.5-0.1 2.4-1.5-2.4 0z"/><path d="M85.6 191.1l2.4-0.1 2.5-1-2.5 0.1z"/><path d="M83.1 191.3l2.5-0.1 2.4-0.2-2.4 0.1z"/><path d="M80.7 189.6l2.4-0.1 2.5 1.7-2.5 0.1z"/></g>
<g fill="#32a6f1"><path d="M78.2 187.1l2.5 0 2.4 2.4-2.4 0.1z"/></g>
<g fill="#2bb4f3"><path d="M75.8 185.9l2.4 0.2 2.5 1-2.5 0z"/><path d="M73.3 185.2l2.5 0.4 2.4 0.5-2.4-0.2z"/><path d="M70.9 185.4l2.4 0.6 2.5-0.4-2.5-0.4z"/></g>
<g fill="#23c2f5"><path d="M68.4 184.6l2.5 0.8 2.4 0.6-2.4-0.6z"/></g>
<g fill="#2bb4f3"><path d="M200.8 123l2.4 4.3 2.5-2.3-2.5-4.9z"/><path d="M198.3 127.8l2.5 4 2.4-4.5-2.4-4.3z"/></g>
<g fill="#32a6f1"><path d="M195.9 132.9l2.4 3.4 2.5-4.5-2.5-4z"/><path d="M193.4 136.7l2.5 2.8 2.4-3.2-2.4-3.4z"/></g>
<g fill="#3a99ef"><path d="M191 140.3l2.4 2.5 2.5-3.3-2.5-2.8z"/><path d="M188.5 142.6l2.5 2.2 2.4-2-2.4-2.5z"/><path d="M186.1 144.5l2.4 2.1 2.5-1.8-2.5-2.2z"/><path d="M183.6 146.1l2.5 1.9 2.4-1.4-2.4-2.1z"/></g>
<g fill="#3a89ef"><path d="M181.1 147.6l2.5 1.8 2.5-1.4-2.5-1.9z"/><path d="M178.7 148.8l2.4 1.9 2.5-1.3-2.5-1.8z"/><path d="M176.2 150l2.5 1.8 2.4-1.1-2.4-1.9z"/><path d="M173.8 151.1l2.4 1.8 2.5-1.1-2.5-1.8z"/><path d="M171.3 152.3l2.5 1.7 2.4-1.1-2.4-1.8z"/><path d="M168.9 153.6l2.4 1.6 2.5-1.2-2.5-1.7z"/><path d="M166.4 154.9l2.5 1.6 2.4-1.3-2.4-1.6z"/><path d="M164 156.4l2.4 1.6 2.5-1.5-2.5-1.6z"/><path d="M161.5 157.9l2.5 1.6 2.4-1.5-2.4-1.6z"/><path d="M159.1 159.2l2.4 1.5 2.5-1.2-2.5-1.6z"/><path d="M156.6 160.5l2.5 1.4 2.4-1.2-2.4-1.5z"/><path d="M154.2 161.6l2.4 1.3 2.5-1-2.5-1.4z"/><path d="M151.7 162.6l2.5 1 2.4-0.7-2.4-1.3z"/><path d="M149.3 163.5l2.4 0.9 2.5-0.8-2.5-1z"/><path d="M146.8 164.4l2.5 0.6 2.4-0.6-2.4-0.9z"/><path d="M144.4 166.1l2.4 0.1 2.5-1.2-2.5-0.6z"/><path d="M141.9 168.9l2.5-0.7 2.4-2-2.4-0.1z"/><path d="M139.5 173.5l2.4-1.6 2.5-3.7-2.5 0.7z"/></g>
<g fill="#3277f1"><path d="M137 176l2.5-2.6 2.4-1.5-2.4 1.6z"/><path d="M134.6 177.9l2.4-2.5 2.5-2-2.5 2.6z"/><path d="M132.1 177.6l2.5-2.1 2.4-0.1-2.4 2.5z"/></g>
<g fill="#3a89ef"><path d="M129.7 177.4l2.4-1.5 2.5-0.4-2.5 2.1z"/><path d="M127.2 177.4l2.5-1 2.4-0.5-2.4 1.5z"/><path d="M124.8 177.4l2.4-0.5 2.5-0.5-2.5 1z"/><path d="M122.3 177.4l2.5 0 2.4-0.5-2.4 0.5z"/><path d="M119.9 177.6l2.4 0.6 2.5-0.8-2.5 0z"/></g>
<g fill="#3a99ef"><path d="M117.4 178.1l2.5 1 2.4-0.9-2.4-0.6z"/><path d="M115 178.6l2.4 1.3 2.5-0.8-2.5-1z"/><path d="M112.5 178.7l2.5 1.3 2.4-0.1-2.4-1.3z"/><path d="M110.1 179.2l2.4 1.3 2.5-0.5-2.5-1.3z"/><path d="M107.6 180.1l2.5 1.2 2.4-0.8-2.4-1.3z"/><path d="M105.2 181.2l2.4 1.1 2.5-1-2.5-1.2z"/><path d="M102.7 182.5l2.5 0.9 2.4-1.1-2.4-1.1z"/><path d="M100.3 183.8l2.4 0.8 2.5-1.2-2.5-0.9z"/><path d="M97.8 185.3l2.5 0.7 2.4-1.4-2.4-0.8z"/><path d="M95.4 186.9l2.4 0.7 2.5-1.6-2.5-0.7z"/><path d="M92.9 188.5l2.5 0.6 2.4-1.5-2.4-0.7z"/><path d="M90.5 190l2.4 0.6 2.5-1.5-2.5-0.6z"/><path d="M88 191l2.5 0.6 2.4-1-2.4-0.6z"/><path d="M85.6 191.2l2.4 0.7 2.5-0.3-2.5-0.6z"/><path d="M83.1 189.5l2.5 0.9 2.4 1.5-2.4-0.7z"/></g>
<g fill="#32a6f1"><path d="M80.7 187.1l2.4 1.1 2.5 2.2-2.5-0.9z"/></g>
<g fill="#2bb4f3"><path d="M78.2 186.1l2.5 1.5 2.4 0.6-2.4-1.1z"/><path d="M75.8 185.6l2.4 1.9 2.5 0.1-2.5-1.5z"/><path d="M73.3 186l2.5 2.6 2.4-1.1-2.4-1.9z"/><path d="M70.9 185.4l2.4 2.9 2.5 0.3-2.5-2.6z"/><path d="M203.2 127.3l2.5 4.3 2.4-1.6-2.4-5z"/></g>
<g fill="#32a6f1"><path d="M200.8 131.8l2.4 3.8 2.5-4-2.5-4.3z"/><path d="M198.3 136.3l2.5 3.1 2.4-3.8-2.4-3.8z"/></g>
<g fill="#3a99ef"><path d="M195.9 139.5l2.4 2.5 2.5-2.6-2.5-3.1z"/><path d="M193.4 142.8l2.5 2 2.4-2.8-2.4-2.5z"/><path d="M191 144.8l2.4 1.8 2.5-1.8-2.5-2z"/></g>
<g fill="#3a89ef"><path d="M188.5 146.6l2.5 1.6 2.4-1.6-2.4-1.8z"/><path d="M186.1 148l2.4 1.5 2.5-1.3-2.5-1.6z"/><path d="M183.6 149.4l2.5 1.5 2.4-1.4-2.4-1.5z"/><path d="M181.1 150.7l2.5 1.3 2.5-1.1-2.5-1.5z"/><path d="M178.7 151.8l2.4 1.3 2.5-1.1-2.5-1.3z"/><path d="M176.2 152.9l2.5 1.3 2.4-1.1-2.4-1.3z"/><path d="M173.8 154l2.4 1.4 2.5-1.2-2.5-1.3z"/><path d="M171.3 155.2l2.5 1.3 2.4-1.1-2.4-1.4z"/><path d="M168.9 156.5l2.4 1.3 2.5-1.3-2.5-1.3z"/><path d="M166.4 158l2.5 1.3 2.4-1.5-2.4-1.3z"/><path d="M164 159.5l2.4 1.2 2.5-1.4-2.5-1.3z"/><path d="M161.5 160.7l2.5 1.3 2.4-1.3-2.4-1.2z"/><path d="M159.1 161.9l2.4 1.2 2.5-1.1-2.5-1.3z"/><path d="M156.6 162.9l2.5 1.1 2.4-0.9-2.4-1.2z"/><path d="M154.2 163.6l2.4 1 2.5-0.6-2.5-1.1z"/><path d="M151.7 164.4l2.5 0.8 2.4-0.6-2.4-1z"/></g>
<g fill="#3a99ef"><path d="M149.3 165l2.4 0.5 2.5-0.3-2.5-0.8z"/><path d="M146.8 166.2l2.5 0.1 2.4-0.8-2.4-0.5z"/><path d="M144.4 168.2l2.4-0.5 2.5-1.4-2.5-0.1z"/></g>
<g fill="#3a89ef"><path d="M141.9 171.9l2.5-1.4 2.4-2.8-2.4 0.5z"/><path d="M139.5 173.4l2.4-2.1 2.5-0.8-2.5 1.4z"/><path d="M137 175.4l2.5-2.1 2.4-2-2.4 2.1z"/><path d="M134.6 175.5l2.4-1.7 2.5-0.5-2.5 2.1z"/><path d="M132.1 175.9l2.5-1.2 2.4-0.9-2.4 1.7z"/><path d="M129.7 176.4l2.4-0.7 2.5-1-2.5 1.2z"/><path d="M127.2 176.9l2.5-0.2 2.4-1-2.4 0.7z"/></g>
<g fill="#3a99ef"><path d="M124.8 177.4l2.4 0.3 2.5-1-2.5 0.2z"/><path d="M122.3 178.2l2.5 0.7 2.4-1.2-2.4-0.3z"/><path d="M119.9 179.1l2.4 1.2 2.5-1.4-2.5-0.7z"/><path d="M117.4 179.9l2.5 1.4 2.4-1-2.4-1.2z"/><path d="M115 180l2.4 1.5 2.5-0.2-2.5-1.4z"/><path d="M112.5 180.5l2.5 1.4 2.4-0.4-2.4-1.5z"/><path d="M110.1 181.3l2.4 1.4 2.5-0.8-2.5-1.4z"/><path d="M107.6 182.3l2.5 1.3 2.4-0.9-2.4-1.4z"/><path d="M105.2 183.4l2.4 1.2 2.5-1-2.5-1.3z"/><path d="M102.7 184.6l2.5 1.2 2.4-1.2-2.4-1.2z"/><path d="M100.3 186l2.4 1.2 2.5-1.4-2.5-1.2z"/><path d="M97.8 187.6l2.5 1.1 2.4-1.5-2.4-1.2z"/><path d="M95.4 189.1l2.4 1.2 2.5-1.6-2.5-1.1z"/><path d="M92.9 190.6l2.5 1.2 2.4-1.5-2.4-1.2z"/><path d="M90.5 191.6l2.4 1.3 2.5-1.1-2.5-1.2z"/><path d="M88 191.9l2.5 1.4 2.4-0.4-2.4-1.3z"/><path d="M85.6 190.4l2.4 1.6 2.5 1.3-2.5-1.4z"/></g>
<g fill="#32a6f1"><path d="M83.1 188.2l2.5 2 2.4 1.8-2.4-1.6z"/><path d="M80.7 187.6l2.4 2.5 2.5 0.1-2.5-2z"/></g>
<g fill="#2bb4f3"><path d="M78.2 187.5l2.5 3 2.4-0.4-2.4-2.5z"/><path d="M75.8 188.6l2.4 3.8 2.5-1.9-2.5-3z"/><path d="M73.3 188.3l2.5 4.3 2.4-0.2-2.4-3.8z"/></g>
<g fill="#32a6f1"><path d="M205.7 131.6l2.4 4.4 2.5-0.7-2.5-5.3z"/><path d="M203.2 135.6l2.5 3.8 2.4-3.4-2.4-4.4z"/></g>
<g fill="#3a99ef"><path d="M200.8 139.4l2.4 2.7 2.5-2.7-2.5-3.8z"/><path d="M198.3 142l2.5 1.9 2.4-1.8-2.4-2.7z"/><path d="M195.9 144.8l2.4 1.5 2.5-2.4-2.5-1.9z"/></g>
<g fill="#3a89ef"><path d="M193.4 146.6l2.5 1.2 2.4-1.5-2.4-1.5z"/><path d="M191 148.2l2.4 0.9 2.5-1.3-2.5-1.2z"/><path d="M188.5 149.5l2.5 0.9 2.4-1.3-2.4-0.9z"/><path d="M186.1 150.9l2.4 0.7 2.5-1.2-2.5-0.9z"/><path d="M183.6 152l2.5 0.8 2.4-1.2-2.4-0.7z"/><path d="M181.1 153.1l2.5 0.8 2.5-1.1-2.5-0.8z"/><path d="M178.7 154.2l2.4 0.8 2.5-1.1-2.5-0.8z"/><path d="M176.2 155.4l2.5 0.7 2.4-1.1-2.4-0.8z"/><path d="M173.8 156.5l2.4 0.9 2.5-1.3-2.5-0.7z"/><path d="M171.3 157.8l2.5 0.9 2.4-1.3-2.4-0.9z"/><path d="M168.9 159.3l2.4 0.8 2.5-1.4-2.5-0.9z"/><path d="M166.4 160.7l2.5 0.9 2.4-1.5-2.4-0.8z"/><path d="M164 162l2.4 0.9 2.5-1.3-2.5-0.9z"/><path d="M161.5 163.1l2.5 0.9 2.4-1.1-2.4-0.9z"/><path d="M159.1 164l2.4 0.9 2.5-0.9-2.5-0.9z"/><path d="M156.6 164.6l2.5 0.8 2.4-0.5-2.4-0.9z"/></g>
<g fill="#3a99ef"><path d="M154.2 165.2l2.4 0.6 2.5-0.4-2.5-0.8z"/><path d="M151.7 165.5l2.5 0.5 2.4-0.2-2.4-0.6z"/><path d="M149.3 166.3l2.4 0.1 2.5-0.4-2.5-0.5z"/><path d="M146.8 167.7l2.5-0.3 2.4-1-2.4-0.1z"/><path d="M144.4 170.5l2.4-1 2.5-2.1-2.5 0.3z"/><path d="M141.9 171.3l2.5-1.5 2.4-0.3-2.4 1z"/><path d="M139.5 173.3l2.4-1.5 2.5-2-2.5 1.5z"/><path d="M137 173.8l2.5-1.1 2.4-0.9-2.4 1.5z"/><path d="M134.6 174.7l2.4-0.7 2.5-1.3-2.5 1.1z"/><path d="M132.1 175.7l2.5-0.3 2.4-1.4-2.4 0.7z"/><path d="M129.7 176.7l2.4 0 2.5-1.3-2.5 0.3z"/><path d="M127.2 177.7l2.5 0.3 2.4-1.3-2.4 0z"/><path d="M124.8 178.9l2.4 0.7 2.5-1.6-2.5-0.3z"/><path d="M122.3 180.3l2.5 1 2.4-1.7-2.4-0.7z"/><path d="M119.9 181.3l2.4 1.2 2.5-1.2-2.5-1z"/><path d="M117.4 181.5l2.5 1.4 2.4-0.4-2.4-1.2z"/><path d="M115 181.9l2.4 1.6 2.5-0.6-2.5-1.4z"/><path d="M112.5 182.7l2.5 1.7 2.4-0.9-2.4-1.6z"/><path d="M110.1 183.6l2.4 1.7 2.5-0.9-2.5-1.7z"/><path d="M107.6 184.6l2.5 1.7 2.4-1-2.4-1.7z"/><path d="M105.2 185.8l2.4 1.7 2.5-1.2-2.5-1.7z"/><path d="M102.7 187.2l2.5 1.7 2.4-1.4-2.4-1.7z"/><path d="M100.3 188.7l2.4 1.8 2.5-1.6-2.5-1.7z"/><path d="M97.8 190.3l2.5 1.8 2.4-1.6-2.4-1.8z"/><path d="M95.4 191.8l2.4 1.9 2.5-1.6-2.5-1.8z"/><path d="M92.9 192.9l2.5 2 2.4-1.2-2.4-1.9z"/><path d="M90.5 193.3l2.4 2.2 2.5-0.6-2.5-2z"/><path d="M88 192l2.5 2.6 2.4 0.9-2.4-2.2z"/></g>
<g fill="#32a6f1"><path d="M85.6 190.2l2.4 3 2.5 1.4-2.5-2.6z"/><path d="M83.1 190.1l2.5 3.7 2.4-0.6-2.4-3z"/><path d="M80.7 190.5l2.4 4.6 2.5-1.3-2.5-3.7z"/><path d="M78.2 192.4l2.5 5.7 2.4-3-2.4-4.6z"/><path d="M75.8 192.6l2.4 6.4 2.5-0.9-2.5-5.7z"/></g>
<g fill="#3a99ef"><path d="M208.1 136l2.5 4.6 2.4 0.2-2.4-5.5z"/><path d="M205.7 139.4l2.4 4 2.5-2.8-2.5-4.6z"/><path d="M203.2 142.1l2.5 3.2 2.4-1.9-2.4-4z"/><path d="M200.8 143.9l2.4 2.4 2.5-1-2.5-3.2z"/><path d="M198.3 146.3l2.5 2 2.4-2-2.4-2.4z"/></g>
<g fill="#3a89ef"><path d="M195.9 147.8l2.4 1.6 2.5-1.1-2.5-2z"/><path d="M193.4 149.1l2.5 1.4 2.4-1.1-2.4-1.6z"/><path d="M191 150.4l2.4 1.2 2.5-1.1-2.5-1.4z"/><path d="M188.5 151.6l2.5 1.2 2.4-1.2-2.4-1.2z"/><path d="M186.1 152.8l2.4 1.1 2.5-1.1-2.5-1.2z"/><path d="M183.6 153.9l2.5 1 2.4-1-2.4-1.1z"/><path d="M181.1 155l2.5 1 2.5-1.1-2.5-1z"/><path d="M178.7 156.1l2.4 1.1 2.5-1.2-2.5-1z"/><path d="M176.2 157.4l2.5 1 2.4-1.2-2.4-1.1z"/><path d="M173.8 158.7l2.4 1 2.5-1.3-2.5-1z"/><path d="M171.3 160.1l2.5 1.1 2.4-1.5-2.4-1z"/><path d="M168.9 161.6l2.4 1.1 2.5-1.5-2.5-1.1z"/><path d="M166.4 162.9l2.5 1 2.4-1.2-2.4-1.1z"/><path d="M164 164l2.4 1 2.5-1.1-2.5-1z"/><path d="M161.5 164.9l2.5 0.9 2.4-0.8-2.4-1z"/><path d="M159.1 165.4l2.4 0.9 2.5-0.5-2.5-0.9z"/></g>
<g fill="#3a99ef"><path d="M156.6 165.8l2.5 0.8 2.4-0.3-2.4-0.9z"/><path d="M154.2 166l2.4 0.6 2.5 0-2.5-0.8z"/><path d="M151.7 166.4l2.5 0.4 2.4-0.2-2.4-0.6z"/><path d="M149.3 167.4l2.4 0 2.5-0.6-2.5-0.4z"/><path d="M146.8 169.5l2.5-0.6 2.4-1.5-2.4 0z"/><path d="M144.4 169.8l2.4-1.1 2.5 0.2-2.5 0.6z"/><path d="M141.9 171.8l2.5-1.1 2.4-2-2.4 1.1z"/><path d="M139.5 172.7l2.4-0.8 2.5-1.2-2.5 1.1z"/><path d="M137 174l2.5-0.5 2.4-1.6-2.4 0.8z"/><path d="M134.6 175.4l2.4-0.3 2.5-1.6-2.5 0.5z"/><path d="M132.1 176.7l2.5 0 2.4-1.6-2.4 0.3z"/><path d="M129.7 178l2.4 0.2 2.5-1.5-2.5 0z"/><path d="M127.2 179.6l2.5 0.5 2.4-1.9-2.4-0.2z"/><path d="M124.8 181.3l2.4 0.7 2.5-1.9-2.5-0.5z"/><path d="M122.3 182.5l2.5 1 2.4-1.5-2.4-0.7z"/><path d="M119.9 182.9l2.4 1.2 2.5-0.6-2.5-1z"/><path d="M117.4 183.5l2.5 1.3 2.4-0.7-2.4-1.2z"/><path d="M115 184.4l2.4 1.4 2.5-1-2.5-1.3z"/><path d="M112.5 185.3l2.5 1.4 2.4-0.9-2.4-1.4z"/><path d="M110.1 186.3l2.4 1.5 2.5-1.1-2.5-1.4z"/><path d="M107.6 187.5l2.5 1.5 2.4-1.2-2.4-1.5z"/><path d="M105.2 188.9l2.4 1.5 2.5-1.4-2.5-1.5z"/><path d="M102.7 190.5l2.5 1.5 2.4-1.6-2.4-1.5z"/><path d="M100.3 192.1l2.4 1.6 2.5-1.7-2.5-1.5z"/><path d="M97.8 193.7l2.5 1.7 2.4-1.7-2.4-1.6z"/><path d="M95.4 194.9l2.4 1.8 2.5-1.3-2.5-1.7z"/><path d="M92.9 195.5l2.5 2 2.4-0.8-2.4-1.8z"/><path d="M90.5 194.6l2.4 2.4 2.5 0.5-2.5-2z"/><path d="M88 193.2l2.5 2.8 2.4 1-2.4-2.4z"/></g>
<g fill="#32a6f1"><path d="M85.6 193.8l2.4 3.5 2.5-1.3-2.5-2.8z"/><path d="M83.1 195.1l2.5 4.1 2.4-1.9-2.4-3.5z"/></g>
<g fill="#3a99ef"><path d="M80.7 198.1l2.4 5.2 2.5-4.1-2.5-4.1z"/><path d="M78.2 199l2.5 5.8 2.4-1.5-2.4-5.2z"/></g>
<g fill="#3a89ef"><path d="M210.6 140.6l2.4 5 2.5 0.1-2.5-4.9z"/><path d="M208.1 143.4l2.5 4.9 2.4-2.7-2.4-5z"/><path d="M205.7 145.3l2.4 4.6 2.5-1.6-2.5-4.9z"/><path d="M203.2 146.3l2.5 4.2 2.4-0.6-2.4-4.6z"/><path d="M200.8 148.3l2.4 3.8 2.5-1.6-2.5-4.2z"/><path d="M198.3 149.4l2.5 3.4 2.4-0.7-2.4-3.8z"/><path d="M195.9 150.5l2.4 3 2.5-0.7-2.5-3.4z"/><path d="M193.4 151.6l2.5 2.6 2.4-0.7-2.4-3z"/><path d="M191 152.8l2.4 2.2 2.5-0.8-2.5-2.6z"/><path d="M188.5 153.9l2.5 1.9 2.4-0.8-2.4-2.2z"/><path d="M186.1 154.9l2.4 1.7 2.5-0.8-2.5-1.9z"/><path d="M183.6 156l2.5 1.5 2.4-0.9-2.4-1.7z"/><path d="M181.1 157.2l2.5 1.3 2.5-1-2.5-1.5z"/><path d="M178.7 158.4l2.4 1.3 2.5-1.2-2.5-1.3z"/><path d="M176.2 159.7l2.5 1.2 2.4-1.2-2.4-1.3z"/><path d="M173.8 161.2l2.4 1.2 2.5-1.5-2.5-1.2z"/><path d="M171.3 162.7l2.5 1.1 2.4-1.4-2.4-1.2z"/><path d="M168.9 163.9l2.4 1.1 2.5-1.2-2.5-1.1z"/><path d="M166.4 165l2.5 1.1 2.4-1.1-2.4-1.1z"/><path d="M164 165.8l2.4 1 2.5-0.7-2.5-1.1z"/><path d="M161.5 166.3l2.5 0.9 2.4-0.4-2.4-1z"/></g>
<g fill="#3a99ef"><path d="M159.1 166.6l2.4 0.9 2.5-0.3-2.5-0.9z"/><path d="M156.6 166.6l2.5 0.7 2.4 0.2-2.4-0.9z"/><path d="M154.2 166.8l2.4 0.5 2.5 0-2.5-0.7z"/><path d="M151.7 167.4l2.5 0.1 2.4-0.2-2.4-0.5z"/><path d="M149.3 168.9l2.4-0.5 2.5-0.9-2.5-0.1z"/></g>
<g fill="#32a6f1"><path d="M146.8 168.7l2.5-1 2.4 0.7-2.4 0.5z"/><path d="M144.4 170.7l2.4-0.9 2.5-2.1-2.5 1z"/><path d="M141.9 171.9l2.5-0.7 2.4-1.4-2.4 0.9z"/></g>
<g fill="#3a99ef"><path d="M139.5 173.5l2.4-0.4 2.5-1.9-2.5 0.7z"/><path d="M137 175.1l2.5-0.1 2.4-1.9-2.4 0.4z"/><path d="M134.6 176.7l2.4 0 2.5-1.7-2.5 0.1z"/><path d="M132.1 178.2l2.5 0.3 2.4-1.8-2.4 0z"/><path d="M129.7 180.1l2.4 0.5 2.5-2.1-2.5-0.3z"/><path d="M127.2 182l2.5 0.8 2.4-2.2-2.4-0.5z"/><path d="M124.8 183.5l2.4 1 2.5-1.7-2.5-0.8z"/><path d="M122.3 184.1l2.5 1.2 2.4-0.8-2.4-1z"/><path d="M119.9 184.8l2.4 1.5 2.5-1-2.5-1.2z"/><path d="M117.4 185.8l2.5 1.6 2.4-1.1-2.4-1.5z"/><path d="M115 186.7l2.4 1.9 2.5-1.2-2.5-1.6z"/><path d="M112.5 187.8l2.5 2 2.4-1.2-2.4-1.9z"/><path d="M110.1 189l2.4 2.2 2.5-1.4-2.5-2z"/><path d="M107.6 190.4l2.5 2.5 2.4-1.7-2.4-2.2z"/><path d="M105.2 192l2.4 2.8 2.5-1.9-2.5-2.5z"/><path d="M102.7 193.7l2.5 3 2.4-1.9-2.4-2.8z"/><path d="M100.3 195.4l2.4 3.4 2.5-2.1-2.5-3z"/></g>
<g fill="#3a89ef"><path d="M97.8 196.7l2.5 3.8 2.4-1.7-2.4-3.4z"/><path d="M95.4 197.5l2.4 4.1 2.5-1.1-2.5-3.8z"/></g>
<g fill="#3a99ef"><path d="M92.9 197l2.5 4.6 2.4 0-2.4-4.1z"/><path d="M90.5 196l2.4 5 2.5 0.6-2.5-4.6z"/><path d="M88 197.3l2.5 5.3 2.4-1.6-2.4-5z"/><path d="M85.6 199.2l2.4 5.7 2.5-2.3-2.5-5.3z"/><path d="M83.1 203.3l2.5 5.8 2.4-4.2-2.4-5.7z"/></g>
<g fill="#3a89ef"><path d="M80.7 204.8l2.4 6 2.5-1.7-2.5-5.8z"/><path d="M213 145.6l2.5 4.1 2.4 0.1-2.4-4.1z"/><path d="M210.6 148.3l2.4 4 2.5-2.6-2.5-4.1z"/><path d="M208.1 149.9l2.5 3.8 2.4-1.4-2.4-4z"/><path d="M205.7 150.5l2.4 3.6 2.5-0.4-2.5-3.8z"/><path d="M203.2 152.1l2.5 3.2 2.4-1.2-2.4-3.6z"/><path d="M200.8 152.8l2.4 2.8 2.5-0.3-2.5-3.2z"/><path d="M198.3 153.5l2.5 2.5 2.4-0.4-2.4-2.8z"/><path d="M195.9 154.2l2.4 2.2 2.5-0.4-2.5-2.5z"/><path d="M193.4 155l2.5 2 2.4-0.6-2.4-2.2z"/><path d="M191 155.8l2.4 1.7 2.5-0.5-2.5-2z"/><path d="M188.5 156.6l2.5 1.6 2.4-0.7-2.4-1.7z"/><path d="M186.1 157.5l2.4 1.4 2.5-0.7-2.5-1.6z"/><path d="M183.6 158.5l2.5 1.3 2.4-0.9-2.4-1.4z"/><path d="M181.1 159.7l2.5 1.2 2.5-1.1-2.5-1.3z"/><path d="M178.7 160.9l2.4 1.2 2.5-1.2-2.5-1.2z"/><path d="M176.2 162.4l2.5 1.1 2.4-1.4-2.4-1.2z"/><path d="M173.8 163.8l2.4 1.1 2.5-1.4-2.5-1.1z"/><path d="M171.3 165l2.5 1.1 2.4-1.2-2.4-1.1z"/><path d="M168.9 166.1l2.4 1 2.5-1-2.5-1.1z"/><path d="M166.4 166.8l2.5 1.1 2.4-0.8-2.4-1z"/></g>
<g fill="#3a99ef"><path d="M164 167.2l2.4 1 2.5-0.3-2.5-1.1z"/><path d="M161.5 167.5l2.5 0.8 2.4-0.1-2.4-1z"/><path d="M159.1 167.3l2.4 0.7 2.5 0.3-2.5-0.8z"/><path d="M156.6 167.3l2.5 0.4 2.4 0.3-2.4-0.7z"/></g>
<g fill="#32a6f1"><path d="M154.2 167.5l2.4 0.1 2.5 0.1-2.5-0.4z"/><path d="M151.7 168.4l2.5-0.4 2.4-0.4-2.4-0.1z"/><path d="M149.3 167.7l2.4-0.9 2.5 1.2-2.5 0.4z"/><path d="M146.8 169.8l2.5-0.9 2.4-2.1-2.4 0.9z"/><path d="M144.4 171.2l2.4-0.6 2.5-1.7-2.5 0.9z"/><path d="M141.9 173.1l2.5-0.3 2.4-2.2-2.4 0.6z"/><path d="M139.5 175l2.4-0.1 2.5-2.1-2.5 0.3z"/><path d="M137 176.7l2.5 0.2 2.4-2-2.4 0.1z"/></g>
<g fill="#3a99ef"><path d="M134.6 178.5l2.4 0.4 2.5-2-2.5-0.2z"/><path d="M132.1 180.6l2.5 0.6 2.4-2.3-2.4-0.4z"/><path d="M129.7 182.8l2.4 0.7 2.5-2.3-2.5-0.6z"/><path d="M127.2 184.5l2.5 1 2.4-2-2.4-0.7z"/><path d="M124.8 185.3l2.4 1.2 2.5-1-2.5-1z"/><path d="M122.3 186.3l2.5 1.4 2.4-1.2-2.4-1.2z"/><path d="M119.9 187.4l2.4 1.6 2.5-1.3-2.5-1.4z"/><path d="M117.4 188.6l2.5 1.7 2.4-1.3-2.4-1.6z"/><path d="M115 189.8l2.4 1.9 2.5-1.4-2.5-1.7z"/><path d="M112.5 191.2l2.5 2.1 2.4-1.6-2.4-1.9z"/><path d="M110.1 192.9l2.4 2.2 2.5-1.8-2.5-2.1z"/></g>
<g fill="#3a89ef"><path d="M107.6 194.8l2.5 2.4 2.4-2.1-2.4-2.2z"/><path d="M105.2 196.7l2.4 2.7 2.5-2.2-2.5-2.4z"/><path d="M102.7 198.8l2.5 2.9 2.4-2.3-2.4-2.7z"/><path d="M100.3 200.5l2.4 3.2 2.5-2-2.5-2.9z"/><path d="M97.8 201.6l2.5 3.6 2.4-1.5-2.4-3.2z"/><path d="M95.4 201.6l2.4 3.9 2.5-0.3-2.5-3.6z"/><path d="M92.9 201l2.5 4.2 2.4 0.3-2.4-3.9z"/><path d="M90.5 202.6l2.4 4.5 2.5-1.9-2.5-4.2z"/><path d="M88 204.9l2.5 4.7 2.4-2.5-2.4-4.5z"/><path d="M85.6 209.1l2.4 4.9 2.5-4.4-2.5-4.7z"/></g>
<g fill="#3277f1"><path d="M83.1 210.8l2.5 5 2.4-1.8-2.4-4.9z"/><path d="M215.5 149.7l2.4 3.8 2.5 0-2.5-3.7z"/><path d="M213 152.3l2.5 3.7 2.4-2.5-2.4-3.8z"/><path d="M210.6 153.7l2.4 3.5 2.5-1.2-2.5-3.7z"/><path d="M208.1 154.1l2.5 3.2 2.4-0.1-2.4-3.5z"/><path d="M205.7 155.3l2.4 2.9 2.5-0.9-2.5-3.2z"/><path d="M203.2 155.6l2.5 2.7 2.4-0.1-2.4-2.9z"/></g>
<g fill="#3a89ef"><path d="M200.8 156l2.4 2.4 2.5-0.1-2.5-2.7z"/><path d="M198.3 156.4l2.5 2.1 2.4-0.1-2.4-2.4z"/><path d="M195.9 157l2.4 1.8 2.5-0.3-2.5-2.1z"/><path d="M193.4 157.5l2.5 1.7 2.4-0.4-2.4-1.8z"/><path d="M191 158.2l2.4 1.5 2.5-0.5-2.5-1.7z"/><path d="M188.5 158.9l2.5 1.4 2.4-0.6-2.4-1.5z"/><path d="M186.1 159.8l2.4 1.3 2.5-0.8-2.5-1.4z"/><path d="M183.6 160.9l2.5 1.2 2.4-1-2.4-1.3z"/><path d="M181.1 162.1l2.5 1.2 2.5-1.2-2.5-1.2z"/><path d="M178.7 163.5l2.4 1.2 2.5-1.4-2.5-1.2z"/><path d="M176.2 164.9l2.5 1.2 2.4-1.4-2.4-1.2z"/><path d="M173.8 166.1l2.4 1.1 2.5-1.1-2.5-1.2z"/><path d="M171.3 167.1l2.5 1.1 2.4-1-2.4-1.1z"/><path d="M168.9 167.9l2.4 1 2.5-0.7-2.5-1.1z"/></g>
<g fill="#3a99ef"><path d="M166.4 168.2l2.5 0.9 2.4-0.2-2.4-1z"/><path d="M164 168.3l2.4 0.9 2.5-0.1-2.5-0.9z"/><path d="M161.5 168l2.5 0.7 2.4 0.5-2.4-0.9z"/><path d="M159.1 167.7l2.4 0.6 2.5 0.4-2.5-0.7z"/></g>
<g fill="#32a6f1"><path d="M156.6 167.6l2.5 0.2 2.4 0.5-2.4-0.6z"/><path d="M154.2 168l2.4-0.3 2.5 0.1-2.5-0.2z"/><path d="M151.7 166.8l2.5-0.7 2.4 1.6-2.4 0.3z"/></g>
<g fill="#2bb4f3"><path d="M149.3 168.9l2.4-0.7 2.5-2.1-2.5 0.7z"/></g>
<g fill="#32a6f1"><path d="M146.8 170.6l2.5-0.4 2.4-2-2.4 0.7z"/><path d="M144.4 172.8l2.4-0.2 2.5-2.4-2.5 0.4z"/><path d="M141.9 174.9l2.5 0 2.4-2.3-2.4 0.2z"/><path d="M139.5 176.9l2.4 0.2 2.5-2.2-2.5 0z"/><path d="M137 178.9l2.5 0.4 2.4-2.2-2.4-0.2z"/></g>
<g fill="#3a99ef"><path d="M134.6 181.2l2.4 0.6 2.5-2.5-2.5-0.4z"/><path d="M132.1 183.5l2.5 0.8 2.4-2.5-2.4-0.6z"/><path d="M129.7 185.5l2.4 0.9 2.5-2.1-2.5-0.8z"/><path d="M127.2 186.5l2.5 1.2 2.4-1.3-2.4-0.9z"/><path d="M124.8 187.7l2.4 1.4 2.5-1.4-2.5-1.2z"/><path d="M122.3 189l2.5 1.5 2.4-1.4-2.4-1.4z"/><path d="M119.9 190.3l2.4 1.7 2.5-1.5-2.5-1.5z"/><path d="M117.4 191.7l2.5 1.8 2.4-1.5-2.4-1.7z"/><path d="M115 193.3l2.4 1.9 2.5-1.7-2.5-1.8z"/></g>
<g fill="#3a89ef"><path d="M112.5 195.1l2.5 2.1 2.4-2-2.4-1.9z"/><path d="M110.1 197.2l2.4 2.3 2.5-2.3-2.5-2.1z"/><path d="M107.6 199.4l2.5 2.5 2.4-2.4-2.4-2.3z"/><path d="M105.2 201.7l2.4 2.8 2.5-2.6-2.5-2.5z"/><path d="M102.7 203.7l2.5 3 2.4-2.2-2.4-2.8z"/></g>
<g fill="#3277f1"><path d="M100.3 205.2l2.4 3.3 2.5-1.8-2.5-3z"/><path d="M97.8 205.5l2.5 3.5 2.4-0.5-2.4-3.3z"/></g>
<g fill="#3a89ef"><path d="M95.4 205.2l2.4 3.9 2.5-0.1-2.5-3.5z"/><path d="M92.9 207.1l2.5 4.2 2.4-2.2-2.4-3.9z"/></g>
<g fill="#3277f1"><path d="M90.5 209.6l2.4 4.4 2.5-2.7-2.5-4.2z"/><path d="M88 214l2.5 4.5 2.4-4.5-2.4-4.4z"/><path d="M85.6 215.8l2.4 4.6 2.5-1.9-2.5-4.5z"/><path d="M217.9 153.5l2.5 3.9 2.4 0-2.4-3.9z"/><path d="M215.5 156l2.4 3.8 2.5-2.4-2.5-3.9z"/></g>
<g fill="#2b64f3"><path d="M213 157.2l2.5 3.7 2.4-1.1-2.4-3.8z"/></g>
<g fill="#3277f1"><path d="M210.6 157.3l2.4 3.5 2.5 0.1-2.5-3.7z"/><path d="M208.1 158.2l2.5 3.2 2.4-0.6-2.4-3.5z"/><path d="M205.7 158.3l2.4 2.8 2.5 0.3-2.5-3.2z"/><path d="M203.2 158.4l2.5 2.5 2.4 0.2-2.4-2.8z"/><path d="M200.8 158.5l2.4 2.2 2.5 0.2-2.5-2.5z"/></g>
<g fill="#3a89ef"><path d="M198.3 158.8l2.5 2 2.4-0.1-2.4-2.2z"/><path d="M195.9 159.2l2.4 1.8 2.5-0.2-2.5-2z"/><path d="M193.4 159.7l2.5 1.6 2.4-0.3-2.4-1.8z"/><path d="M191 160.3l2.4 1.5 2.5-0.5-2.5-1.6z"/><path d="M188.5 161.1l2.5 1.4 2.4-0.7-2.4-1.5z"/><path d="M186.1 162.1l2.4 1.3 2.5-0.9-2.5-1.4z"/><path d="M183.6 163.3l2.5 1.3 2.4-1.2-2.4-1.3z"/><path d="M181.1 164.7l2.5 1.2 2.5-1.3-2.5-1.3z"/><path d="M178.7 166.1l2.4 1.2 2.5-1.4-2.5-1.2z"/><path d="M176.2 167.2l2.5 1.1 2.4-1-2.4-1.2z"/><path d="M173.8 168.2l2.4 1.1 2.5-1-2.5-1.1z"/><path d="M171.3 168.9l2.5 1 2.4-0.6-2.4-1.1z"/></g>
<g fill="#3a99ef"><path d="M168.9 169.1l2.4 1 2.5-0.2-2.5-1z"/><path d="M166.4 169.2l2.5 0.9 2.4 0-2.4-1z"/><path d="M164 168.7l2.4 0.8 2.5 0.6-2.5-0.9z"/></g>
<g fill="#32a6f1"><path d="M161.5 168.3l2.5 0.5 2.4 0.7-2.4-0.8z"/><path d="M159.1 167.8l2.4 0.2 2.5 0.8-2.5-0.5z"/><path d="M156.6 167.7l2.5-0.3 2.4 0.6-2.4-0.2z"/></g>
<g fill="#2bb4f3"><path d="M154.2 166.1l2.4-0.7 2.5 2-2.5 0.3z"/><path d="M151.7 168.2l2.5-0.7 2.4-2.1-2.4 0.7z"/><path d="M149.3 170.2l2.4-0.5 2.5-2.2-2.5 0.7z"/></g>
<g fill="#32a6f1"><path d="M146.8 172.6l2.5-0.3 2.4-2.6-2.4 0.5z"/><path d="M144.4 174.9l2.4 0 2.5-2.6-2.5 0.3z"/><path d="M141.9 177.1l2.5 0.1 2.4-2.3-2.4 0z"/><path d="M139.5 179.3l2.4 0.3 2.5-2.4-2.5-0.1z"/></g>
<g fill="#3a99ef"><path d="M137 181.8l2.5 0.5 2.4-2.7-2.4-0.3z"/><path d="M134.6 184.3l2.4 0.7 2.5-2.7-2.5-0.5z"/><path d="M132.1 186.4l2.5 0.9 2.4-2.3-2.4-0.7z"/><path d="M129.7 187.7l2.4 1.1 2.5-1.5-2.5-0.9z"/><path d="M127.2 189.1l2.5 1.2 2.4-1.5-2.4-1.1z"/><path d="M124.8 190.5l2.4 1.5 2.5-1.7-2.5-1.2z"/><path d="M122.3 192l2.5 1.6 2.4-1.6-2.4-1.5z"/><path d="M119.9 193.5l2.4 1.8 2.5-1.7-2.5-1.6z"/></g>
<g fill="#3a89ef"><path d="M117.4 195.2l2.5 1.9 2.4-1.8-2.4-1.8z"/><path d="M115 197.2l2.4 2 2.5-2.1-2.5-1.9z"/><path d="M112.5 199.5l2.5 2.2 2.4-2.5-2.4-2z"/><path d="M110.1 201.9l2.4 2.4 2.5-2.6-2.5-2.2z"/><path d="M107.6 204.5l2.5 2.6 2.4-2.8-2.4-2.4z"/></g>
<g fill="#3277f1"><path d="M105.2 206.7l2.4 2.9 2.5-2.5-2.5-2.6z"/><path d="M102.7 208.5l2.5 3.1 2.4-2-2.4-2.9z"/><path d="M100.3 209l2.4 3.5 2.5-0.9-2.5-3.1z"/><path d="M97.8 209.1l2.5 3.8 2.4-0.4-2.4-3.5z"/><path d="M95.4 211.3l2.4 4 2.5-2.4-2.5-3.8z"/><path d="M92.9 214l2.5 4.2 2.4-2.9-2.4-4z"/></g>
<g fill="#2b64f3"><path d="M90.5 218.5l2.4 4.3 2.5-4.6-2.5-4.2z"/><path d="M88 220.4l2.5 4.4 2.4-2-2.4-4.3z"/><path d="M220.4 157.4l2.4 4.7 2.5 0-2.5-4.7z"/><path d="M217.9 159.8l2.5 4.7 2.4-2.4-2.4-4.7z"/><path d="M215.5 160.9l2.4 4.4 2.5-0.8-2.5-4.7z"/><path d="M213 160.8l2.5 4.1 2.4 0.4-2.4-4.4z"/><path d="M210.6 161.4l2.4 3.7 2.5-0.2-2.5-4.1z"/></g>
<g fill="#3277f1"><path d="M208.1 161.1l2.5 3.4 2.4 0.6-2.4-3.7z"/><path d="M205.7 160.9l2.4 3 2.5 0.6-2.5-3.4z"/><path d="M203.2 160.7l2.5 2.7 2.4 0.5-2.4-3z"/><path d="M200.8 160.8l2.4 2.5 2.5 0.1-2.5-2.7z"/></g>
<g fill="#3a89ef"><path d="M198.3 161l2.5 2.2 2.4 0.1-2.4-2.5z"/><path d="M195.9 161.3l2.4 1.9 2.5 0-2.5-2.2z"/><path d="M193.4 161.8l2.5 1.8 2.4-0.4-2.4-1.9z"/><path d="M191 162.5l2.4 1.7 2.5-0.6-2.5-1.8z"/><path d="M188.5 163.4l2.5 1.6 2.4-0.8-2.4-1.7z"/><path d="M186.1 164.6l2.4 1.4 2.5-1-2.5-1.6z"/><path d="M183.6 165.9l2.5 1.4 2.4-1.3-2.4-1.4z"/><path d="M181.1 167.3l2.5 1.3 2.5-1.3-2.5-1.4z"/><path d="M178.7 168.3l2.4 1.4 2.5-1.1-2.5-1.3z"/><path d="M176.2 169.3l2.5 1.3 2.4-0.9-2.4-1.4z"/><path d="M173.8 169.9l2.4 1.2 2.5-0.5-2.5-1.3z"/></g>
<g fill="#3a99ef"><path d="M171.3 170.1l2.5 1.1 2.4-0.1-2.4-1.2z"/><path d="M168.9 170.1l2.4 1 2.5 0.1-2.5-1.1z"/><path d="M166.4 169.5l2.5 0.8 2.4 0.8-2.4-1z"/></g>
<g fill="#32a6f1"><path d="M164 168.8l2.4 0.6 2.5 0.9-2.5-0.8z"/><path d="M161.5 168l2.5 0.2 2.4 1.2-2.4-0.6z"/><path d="M159.1 167.4l2.4-0.3 2.5 1.1-2.5-0.2z"/></g>
<g fill="#2bb4f3"><path d="M156.6 165.4l2.5-0.7 2.4 2.4-2.4 0.3z"/><path d="M154.2 167.5l2.4-0.7 2.5-2.1-2.5 0.7z"/><path d="M151.7 169.7l2.5-0.5 2.4-2.4-2.4 0.7z"/><path d="M149.3 172.3l2.4-0.2 2.5-2.9-2.5 0.5z"/><path d="M146.8 174.9l2.5-0.1 2.4-2.7-2.4 0.2z"/></g>
<g fill="#32a6f1"><path d="M144.4 177.2l2.4 0.1 2.5-2.5-2.5 0.1z"/><path d="M141.9 179.6l2.5 0.2 2.4-2.5-2.4-0.1z"/><path d="M139.5 182.3l2.4 0.4 2.5-2.9-2.5-0.2z"/></g>
<g fill="#3a99ef"><path d="M137 185l2.5 0.6 2.4-2.9-2.4-0.4z"/><path d="M134.6 187.3l2.4 0.8 2.5-2.5-2.5-0.6z"/><path d="M132.1 188.8l2.5 0.9 2.4-1.6-2.4-0.8z"/><path d="M129.7 190.3l2.4 1.1 2.5-1.7-2.5-0.9z"/><path d="M127.2 192l2.5 1.2 2.4-1.8-2.4-1.1z"/><path d="M124.8 193.6l2.4 1.4 2.5-1.8-2.5-1.2z"/></g>
<g fill="#3a89ef"><path d="M122.3 195.3l2.5 1.5 2.4-1.8-2.4-1.4z"/><path d="M119.9 197.1l2.4 1.6 2.5-1.9-2.5-1.5z"/><path d="M117.4 199.2l2.5 1.9 2.4-2.4-2.4-1.6z"/><path d="M115 201.7l2.4 2 2.5-2.6-2.5-1.9z"/><path d="M112.5 204.3l2.5 2.3 2.4-2.9-2.4-2z"/></g>
<g fill="#3277f1"><path d="M110.1 207.1l2.4 2.5 2.5-3-2.5-2.3z"/><path d="M107.6 209.6l2.5 2.7 2.4-2.7-2.4-2.5z"/><path d="M105.2 211.6l2.4 3 2.5-2.3-2.5-2.7z"/><path d="M102.7 212.5l2.5 3.3 2.4-1.2-2.4-3z"/><path d="M100.3 212.9l2.4 3.6 2.5-0.7-2.5-3.3z"/><path d="M97.8 215.3l2.5 3.9 2.4-2.7-2.4-3.6z"/></g>
<g fill="#2b64f3"><path d="M95.4 218.2l2.4 4.1 2.5-3.1-2.5-3.9z"/><path d="M92.9 222.8l2.5 4.2 2.4-4.7-2.4-4.1z"/></g>
<g fill="#2352f5"><path d="M90.5 224.8l2.4 4.3 2.5-2.1-2.5-4.2z"/><path d="M222.8 162.1l2.5 3 2.4-0.1-2.4-2.9z"/><path d="M220.4 164.5l2.4 2.9 2.5-2.3-2.5-3z"/><path d="M217.9 165.3l2.5 2.8 2.4-0.7-2.4-2.9z"/></g>
<g fill="#2b64f3"><path d="M215.5 164.9l2.4 2.6 2.5 0.6-2.5-2.8z"/><path d="M213 165.1l2.5 2.4 2.4 0-2.4-2.6z"/><path d="M210.6 164.5l2.4 2.2 2.5 0.8-2.5-2.4z"/></g>
<g fill="#3277f1"><path d="M208.1 163.9l2.5 2 2.4 0.8-2.4-2.2z"/><path d="M205.7 163.4l2.4 1.8 2.5 0.7-2.5-2z"/><path d="M203.2 163.3l2.5 1.5 2.4 0.4-2.4-1.8z"/></g>
<g fill="#3a89ef"><path d="M200.8 163.2l2.4 1.4 2.5 0.2-2.5-1.5z"/><path d="M198.3 163.2l2.5 1.4 2.4 0-2.4-1.4z"/><path d="M195.9 163.6l2.4 1.2 2.5-0.2-2.5-1.4z"/><path d="M193.4 164.2l2.5 1.2 2.4-0.6-2.4-1.2z"/><path d="M191 165l2.4 1.1 2.5-0.7-2.5-1.2z"/><path d="M188.5 166l2.5 1.2 2.4-1.1-2.4-1.1z"/><path d="M186.1 167.3l2.4 1.1 2.5-1.2-2.5-1.2z"/><path d="M183.6 168.6l2.5 1.1 2.4-1.3-2.4-1.1z"/><path d="M181.1 169.7l2.5 1 2.5-1-2.5-1.1z"/><path d="M178.7 170.6l2.4 1 2.5-0.9-2.5-1z"/><path d="M176.2 171.1l2.5 1 2.4-0.5-2.4-1z"/></g>
<g fill="#3a99ef"><path d="M173.8 171.2l2.4 1 2.5-0.1-2.5-1z"/><path d="M171.3 171.1l2.5 0.9 2.4 0.2-2.4-1z"/><path d="M168.9 170.3l2.4 0.7 2.5 1-2.5-0.9z"/></g>
<g fill="#32a6f1"><path d="M166.4 169.4l2.5 0.5 2.4 1.1-2.4-0.7z"/><path d="M164 168.2l2.4 0.2 2.5 1.5-2.5-0.5z"/></g>
<g fill="#2bb4f3"><path d="M161.5 167.1l2.5-0.4 2.4 1.7-2.4-0.2z"/><path d="M159.1 164.7l2.4-0.8 2.5 2.8-2.5 0.4z"/></g>
<g fill="#23c2f5"><path d="M156.6 166.8l2.5-0.8 2.4-2.1-2.4 0.8z"/></g>
<g fill="#2bb4f3"><path d="M154.2 169.2l2.4-0.5 2.5-2.7-2.5 0.8z"/><path d="M151.7 172.1l2.5-0.3 2.4-3.1-2.4 0.5z"/><path d="M149.3 174.8l2.4-0.1 2.5-2.9-2.5 0.3z"/></g>
<g fill="#32a6f1"><path d="M146.8 177.3l2.5 0.2 2.4-2.8-2.4 0.1z"/><path d="M144.4 179.8l2.4 0.4 2.5-2.7-2.5-0.2z"/><path d="M141.9 182.7l2.5 0.6 2.4-3.1-2.4-0.4z"/></g>
<g fill="#3a99ef"><path d="M139.5 185.6l2.4 0.8 2.5-3.1-2.5-0.6z"/><path d="M137 188.1l2.5 0.9 2.4-2.6-2.4-0.8z"/><path d="M134.6 189.7l2.4 1.1 2.5-1.8-2.5-0.9z"/><path d="M132.1 191.4l2.5 1.4 2.4-2-2.4-1.1z"/><path d="M129.7 193.2l2.4 1.5 2.5-1.9-2.5-1.4z"/><path d="M127.2 195l2.5 1.6 2.4-1.9-2.4-1.5z"/></g>
<g fill="#3a89ef"><path d="M124.8 196.8l2.4 1.7 2.5-1.9-2.5-1.6z"/><path d="M122.3 198.7l2.5 1.9 2.4-2.1-2.4-1.7z"/><path d="M119.9 201.1l2.4 2 2.5-2.5-2.5-1.9z"/><path d="M117.4 203.7l2.5 2.2 2.4-2.8-2.4-2z"/></g>
<g fill="#3277f1"><path d="M115 206.6l2.4 2.3 2.5-3-2.5-2.2z"/><path d="M112.5 209.6l2.5 2.4 2.4-3.1-2.4-2.3z"/><path d="M110.1 212.3l2.4 2.7 2.5-3-2.5-2.4z"/></g>
<g fill="#2b64f3"><path d="M107.6 214.6l2.5 2.9 2.4-2.5-2.4-2.7z"/><path d="M105.2 215.8l2.4 3.2 2.5-1.5-2.5-2.9z"/><path d="M102.7 216.5l2.5 3.4 2.4-0.9-2.4-3.2z"/><path d="M100.3 219.2l2.4 3.6 2.5-2.9-2.5-3.4z"/><path d="M97.8 222.3l2.5 3.7 2.4-3.2-2.4-3.6z"/></g>
<g fill="#2352f5"><path d="M95.4 227l2.4 3.9 2.5-4.9-2.5-3.7z"/><path d="M92.9 229.1l2.5 4 2.4-2.2-2.4-3.9z"/><path d="M225.3 165.1l2.4 1.3 2.5-0.2-2.5-1.2z"/><path d="M222.8 167.4l2.5 1.4 2.4-2.4-2.4-1.3z"/><path d="M220.4 168.1l2.4 1.3 2.5-0.6-2.5-1.4z"/><path d="M217.9 167.5l2.5 1.3 2.4 0.6-2.4-1.3z"/></g>
<g fill="#2b64f3"><path d="M215.5 167.5l2.4 1.2 2.5 0.1-2.5-1.3z"/><path d="M213 166.7l2.5 1 2.4 1-2.4-1.2z"/><path d="M210.6 165.9l2.4 0.9 2.5 0.9-2.5-1z"/></g>
<g fill="#3277f1"><path d="M208.1 165.2l2.5 0.9 2.4 0.7-2.4-0.9z"/><path d="M205.7 164.8l2.4 0.9 2.5 0.4-2.5-0.9z"/></g>
<g fill="#3a89ef"><path d="M203.2 164.6l2.5 0.8 2.4 0.3-2.4-0.9z"/><path d="M200.8 164.6l2.4 0.7 2.5 0.1-2.5-0.8z"/><path d="M198.3 164.8l2.5 0.7 2.4-0.2-2.4-0.7z"/><path d="M195.9 165.4l2.4 0.7 2.5-0.6-2.5-0.7z"/><path d="M193.4 166.1l2.5 0.8 2.4-0.8-2.4-0.7z"/><path d="M191 167.2l2.4 0.7 2.5-1-2.5-0.8z"/><path d="M188.5 168.4l2.5 0.8 2.4-1.3-2.4-0.7z"/><path d="M186.1 169.7l2.4 0.8 2.5-1.3-2.5-0.8z"/><path d="M183.6 170.7l2.5 0.8 2.4-1-2.4-0.8z"/><path d="M181.1 171.6l2.5 0.8 2.5-0.9-2.5-0.8z"/></g>
<g fill="#3a99ef"><path d="M178.7 172.1l2.4 0.8 2.5-0.5-2.5-0.8z"/><path d="M176.2 172.2l2.5 0.7 2.4 0-2.4-0.8z"/><path d="M173.8 172l2.4 0.6 2.5 0.3-2.5-0.7z"/><path d="M171.3 171l2.5 0.6 2.4 1-2.4-0.6z"/></g>
<g fill="#32a6f1"><path d="M168.9 169.9l2.4 0.4 2.5 1.3-2.5-0.6z"/><path d="M166.4 168.4l2.5 0 2.4 1.9-2.4-0.4z"/></g>
<g fill="#2bb4f3"><path d="M164 166.7l2.4-0.5 2.5 2.2-2.5 0z"/></g>
<g fill="#23c2f5"><path d="M161.5 163.9l2.5-1 2.4 3.3-2.4 0.5z"/><path d="M159.1 166l2.4-0.9 2.5-2.2-2.5 1z"/><path d="M156.6 168.7l2.5-0.7 2.4-2.9-2.4 0.9z"/></g>
<g fill="#2bb4f3"><path d="M154.2 171.8l2.4-0.3 2.5-3.5-2.5 0.7z"/><path d="M151.7 174.7l2.5 0 2.4-3.2-2.4 0.3z"/><path d="M149.3 177.5l2.4 0.2 2.5-3-2.5 0z"/></g>
<g fill="#32a6f1"><path d="M146.8 180.2l2.5 0.4 2.4-2.9-2.4-0.2z"/><path d="M144.4 183.3l2.4 0.6 2.5-3.3-2.5-0.4z"/><path d="M141.9 186.4l2.5 0.9 2.4-3.4-2.4-0.6z"/></g>
<g fill="#3a99ef"><path d="M139.5 189l2.4 1.1 2.5-2.8-2.5-0.9z"/><path d="M137 190.8l2.5 1.4 2.4-2.1-2.4-1.1z"/><path d="M134.6 192.8l2.4 1.5 2.5-2.1-2.5-1.4z"/><path d="M132.1 194.7l2.5 1.7 2.4-2.1-2.4-1.5z"/></g>
<g fill="#3a89ef"><path d="M129.7 196.6l2.4 1.9 2.5-2.1-2.5-1.7z"/><path d="M127.2 198.5l2.5 2 2.4-2-2.4-1.9z"/><path d="M124.8 200.6l2.4 2.1 2.5-2.2-2.5-2z"/><path d="M122.3 203.1l2.5 2.1 2.4-2.5-2.4-2.1z"/><path d="M119.9 205.9l2.4 2.2 2.5-2.9-2.5-2.1z"/></g>
<g fill="#3277f1"><path d="M117.4 208.9l2.5 2.4 2.4-3.2-2.4-2.2z"/><path d="M115 212l2.4 2.6 2.5-3.3-2.5-2.4z"/></g>
<g fill="#2b64f3"><path d="M112.5 215l2.5 2.7 2.4-3.1-2.4-2.6z"/><path d="M110.1 217.5l2.4 2.9 2.5-2.7-2.5-2.7z"/><path d="M107.6 219l2.5 3 2.4-1.6-2.4-2.9z"/><path d="M105.2 219.9l2.4 3.3 2.5-1.2-2.5-3z"/><path d="M102.7 222.8l2.5 3.4 2.4-3-2.4-3.3z"/></g>
<g fill="#2352f5"><path d="M100.3 226l2.4 3.6 2.5-3.4-2.5-3.4z"/><path d="M97.8 230.9l2.5 3.7 2.4-5-2.4-3.6z"/></g>
<g fill="#1b40f8"><path d="M95.4 233.1l2.4 3.7 2.5-2.2-2.5-3.7z"/></g>
<g fill="#2352f5"><path d="M227.7 166.4l2.5 1.4 2.4-0.3-2.4-1.3z"/><path d="M225.3 168.8l2.4 1.3 2.5-2.3-2.5-1.4z"/><path d="M222.8 169.4l2.5 1.3 2.4-0.6-2.4-1.3z"/><path d="M220.4 168.8l2.4 1.2 2.5 0.7-2.5-1.3z"/></g>
<g fill="#2b64f3"><path d="M217.9 168.7l2.5 1.2 2.4 0.1-2.4-1.2z"/><path d="M215.5 167.7l2.4 1.1 2.5 1.1-2.5-1.2z"/><path d="M213 166.8l2.5 1.1 2.4 0.9-2.4-1.1z"/></g>
<g fill="#3277f1"><path d="M210.6 166.1l2.4 1 2.5 0.8-2.5-1.1z"/><path d="M208.1 165.7l2.5 0.9 2.4 0.5-2.4-1z"/></g>
<g fill="#3a89ef"><path d="M205.7 165.4l2.4 0.9 2.5 0.3-2.5-0.9z"/><path d="M203.2 165.3l2.5 0.9 2.4 0.1-2.4-0.9z"/><path d="M200.8 165.5l2.4 0.8 2.5-0.1-2.5-0.9z"/><path d="M198.3 166.1l2.5 0.8 2.4-0.6-2.4-0.8z"/><path d="M195.9 166.9l2.4 0.8 2.5-0.8-2.5-0.8z"/><path d="M193.4 167.9l2.5 0.8 2.4-1-2.4-0.8z"/><path d="M191 169.2l2.4 0.8 2.5-1.3-2.5-0.8z"/><path d="M188.5 170.5l2.5 0.9 2.4-1.4-2.4-0.8z"/><path d="M186.1 171.5l2.4 0.9 2.5-1-2.5-0.9z"/></g>
<g fill="#3a99ef"><path d="M183.6 172.4l2.5 0.9 2.4-0.9-2.4-0.9z"/><path d="M181.1 172.9l2.5 0.9 2.5-0.5-2.5-0.9z"/><path d="M178.7 172.9l2.4 0.8 2.5 0.1-2.5-0.9z"/><path d="M176.2 172.6l2.5 0.7 2.4 0.4-2.4-0.8z"/><path d="M173.8 171.6l2.4 0.5 2.5 1.2-2.5-0.7z"/></g>
<g fill="#32a6f1"><path d="M171.3 170.3l2.5 0.3 2.4 1.5-2.4-0.5z"/></g>
<g fill="#2bb4f3"><path d="M168.9 168.4l2.4-0.1 2.5 2.3-2.5-0.3z"/><path d="M166.4 166.2l2.5-0.7 2.4 2.8-2.4 0.1z"/></g>
<g fill="#23c2f5"><path d="M164 162.9l2.4-1.1 2.5 3.7-2.5 0.7z"/></g>
<g fill="#1bcff8"><path d="M161.5 165.1l2.5-1.1 2.4-2.2-2.4 1.1z"/></g>
<g fill="#23c2f5"><path d="M159.1 168l2.4-0.8 2.5-3.2-2.5 1.1z"/><path d="M156.6 171.5l2.5-0.4 2.4-3.9-2.4 0.8z"/></g>
<g fill="#2bb4f3"><path d="M154.2 174.7l2.4-0.2 2.5-3.4-2.5 0.4z"/><path d="M151.7 177.7l2.5 0 2.4-3.2-2.4 0.2z"/><path d="M149.3 180.6l2.4 0.3 2.5-3.2-2.5 0z"/></g>
<g fill="#32a6f1"><path d="M146.8 183.9l2.5 0.6 2.4-3.6-2.4-0.3z"/><path d="M144.4 187.3l2.4 0.7 2.5-3.5-2.5-0.6z"/></g>
<g fill="#3a99ef"><path d="M141.9 190.1l2.5 1 2.4-3.1-2.4-0.7z"/><path d="M139.5 192.2l2.4 1.2 2.5-2.3-2.5-1z"/><path d="M137 194.3l2.5 1.5 2.4-2.4-2.4-1.2z"/><path d="M134.6 196.4l2.4 1.6 2.5-2.2-2.5-1.5z"/></g>
<g fill="#3a89ef"><path d="M132.1 198.5l2.5 1.7 2.4-2.2-2.4-1.6z"/><path d="M129.7 200.5l2.4 1.9 2.5-2.2-2.5-1.7z"/><path d="M127.2 202.7l2.5 1.9 2.4-2.2-2.4-1.9z"/><path d="M124.8 205.2l2.4 2.1 2.5-2.7-2.5-1.9z"/></g>
<g fill="#3277f1"><path d="M122.3 208.1l2.5 2.2 2.4-3-2.4-2.1z"/><path d="M119.9 211.3l2.4 2.2 2.5-3.2-2.5-2.2z"/></g>
<g fill="#2b64f3"><path d="M117.4 214.6l2.5 2.3 2.4-3.4-2.4-2.2z"/><path d="M115 217.7l2.4 2.4 2.5-3.2-2.5-2.3z"/><path d="M112.5 220.4l2.5 2.6 2.4-2.9-2.4-2.4z"/></g>
<g fill="#2352f5"><path d="M110.1 222l2.4 2.8 2.5-1.8-2.5-2.6z"/><path d="M107.6 223.2l2.5 2.9 2.4-1.3-2.4-2.8z"/><path d="M105.2 226.2l2.4 3.1 2.5-3.2-2.5-2.9z"/><path d="M102.7 229.6l2.5 3.2 2.4-3.5-2.4-3.1z"/></g>
<g fill="#1b40f8"><path d="M100.3 234.6l2.4 3.3 2.5-5.1-2.5-3.2z"/><path d="M97.8 236.8l2.5 3.4 2.4-2.3-2.4-3.3z"/></g>
<g fill="#2352f5"><path d="M230.2 167.8l2.4 1.3 2.5-0.4-2.5-1.2z"/><path d="M227.7 170.1l2.5 1.4 2.4-2.4-2.4-1.3z"/><path d="M225.3 170.7l2.4 1.4 2.5-0.6-2.5-1.4z"/><path d="M222.8 170l2.5 1.3 2.4 0.8-2.4-1.4z"/></g>
<g fill="#2b64f3"><path d="M220.4 169.9l2.4 1.2 2.5 0.2-2.5-1.3z"/><path d="M217.9 168.8l2.5 1.2 2.4 1.1-2.4-1.2z"/></g>
<g fill="#3277f1"><path d="M215.5 167.9l2.4 1.1 2.5 1-2.5-1.2z"/><path d="M213 167.1l2.5 1 2.4 0.9-2.4-1.1z"/><path d="M210.6 166.6l2.4 1 2.5 0.5-2.5-1z"/></g>
<g fill="#3a89ef"><path d="M208.1 166.3l2.5 0.9 2.4 0.4-2.4-1z"/><path d="M205.7 166.2l2.4 0.9 2.5 0.1-2.5-0.9z"/><path d="M203.2 166.3l2.5 1 2.4-0.2-2.4-0.9z"/><path d="M200.8 166.9l2.4 0.9 2.5-0.5-2.5-1z"/><path d="M198.3 167.7l2.5 0.9 2.4-0.8-2.4-0.9z"/></g>
<g fill="#3a99ef"><path d="M195.9 168.7l2.4 1 2.5-1.1-2.5-0.9z"/><path d="M193.4 170l2.5 1 2.4-1.3-2.4-1z"/><path d="M191 171.4l2.4 0.9 2.5-1.3-2.5-1z"/><path d="M188.5 172.4l2.5 0.9 2.4-1-2.4-0.9z"/><path d="M186.1 173.3l2.4 0.9 2.5-0.9-2.5-0.9z"/><path d="M183.6 173.8l2.5 0.9 2.4-0.5-2.4-0.9z"/><path d="M181.1 173.7l2.5 0.8 2.5 0.2-2.5-0.9z"/><path d="M178.7 173.3l2.4 0.8 2.5 0.4-2.5-0.8z"/></g>
<g fill="#32a6f1"><path d="M176.2 172.1l2.5 0.6 2.4 1.4-2.4-0.8z"/><path d="M173.8 170.6l2.4 0.3 2.5 1.8-2.5-0.6z"/></g>
<g fill="#2bb4f3"><path d="M171.3 168.3l2.5-0.2 2.4 2.8-2.4-0.3z"/></g>
<g fill="#23c2f5"><path d="M168.9 165.5l2.4-0.7 2.5 3.3-2.5 0.2z"/></g>
<g fill="#1bcff8"><path d="M166.4 161.8l2.5-1.3 2.4 4.3-2.4 0.7z"/><path d="M164 164l2.4-1.3 2.5-2.2-2.5 1.3z"/><path d="M161.5 167.2l2.5-0.9 2.4-3.6-2.4 1.3z"/></g>
<g fill="#23c2f5"><path d="M159.1 171.1l2.4-0.6 2.5-4.2-2.5 0.9z"/><path d="M156.6 174.5l2.5-0.3 2.4-3.7-2.4 0.6z"/></g>
<g fill="#2bb4f3"><path d="M154.2 177.7l2.4 0 2.5-3.5-2.5 0.3z"/><path d="M151.7 180.9l2.5 0.2 2.4-3.4-2.4 0z"/></g>
<g fill="#32a6f1"><path d="M149.3 184.5l2.4 0.4 2.5-3.8-2.5-0.2z"/><path d="M146.8 188l2.5 0.7 2.4-3.8-2.4-0.4z"/></g>
<g fill="#3a99ef"><path d="M144.4 191.1l2.4 0.9 2.5-3.3-2.5-0.7z"/><path d="M141.9 193.4l2.5 1.1 2.4-2.5-2.4-0.9z"/><path d="M139.5 195.8l2.4 1.3 2.5-2.6-2.5-1.1z"/></g>
<g fill="#3a89ef"><path d="M137 198l2.5 1.5 2.4-2.4-2.4-1.3z"/><path d="M134.6 200.2l2.4 1.6 2.5-2.3-2.5-1.5z"/><path d="M132.1 202.4l2.5 1.7 2.4-2.3-2.4-1.6z"/><path d="M129.7 204.6l2.4 1.8 2.5-2.3-2.5-1.7z"/><path d="M127.2 207.3l2.5 1.8 2.4-2.7-2.4-1.8z"/></g>
<g fill="#3277f1"><path d="M124.8 210.3l2.4 1.9 2.5-3.1-2.5-1.8z"/><path d="M122.3 213.5l2.5 2 2.4-3.3-2.4-1.9z"/></g>
<g fill="#2b64f3"><path d="M119.9 216.9l2.4 2.1 2.5-3.5-2.5-2z"/><path d="M117.4 220.1l2.5 2.2 2.4-3.3-2.4-2.1z"/></g>
<g fill="#2352f5"><path d="M115 223l2.4 2.3 2.5-3-2.5-2.2z"/><path d="M112.5 224.8l2.5 2.5 2.4-2-2.4-2.3z"/><path d="M110.1 226.1l2.4 2.6 2.5-1.4-2.5-2.5z"/><path d="M107.6 229.3l2.5 2.7 2.4-3.3-2.4-2.6z"/></g>
<g fill="#1b40f8"><path d="M105.2 232.8l2.4 2.8 2.5-3.6-2.5-2.7z"/><path d="M102.7 237.9l2.5 2.9 2.4-5.2-2.4-2.8z"/></g>
<g fill="#132efa"><path d="M100.3 240.2l2.4 3 2.5-2.4-2.5-2.9z"/></g>
<g fill="#2352f5"><path d="M232.6 169.1l2.5 1.5 2.4-0.5-2.4-1.4z"/><path d="M230.2 171.5l2.4 1.5 2.5-2.4-2.5-1.5z"/><path d="M227.7 172.1l2.5 1.4 2.4-0.5-2.4-1.5z"/><path d="M225.3 171.3l2.4 1.4 2.5 0.8-2.5-1.4z"/></g>
<g fill="#2b64f3"><path d="M222.8 171.1l2.5 1.3 2.4 0.3-2.4-1.4z"/><path d="M220.4 170l2.4 1.2 2.5 1.2-2.5-1.3z"/></g>
<g fill="#3277f1"><path d="M217.9 169l2.5 1.1 2.4 1.1-2.4-1.2z"/><path d="M215.5 168.1l2.4 1.1 2.5 0.9-2.5-1.1z"/><path d="M213 167.6l2.5 1.1 2.4 0.5-2.4-1.1z"/></g>
<g fill="#3a89ef"><path d="M210.6 167.2l2.4 1.1 2.5 0.4-2.5-1.1z"/><path d="M208.1 167.1l2.5 1 2.4 0.2-2.4-1.1z"/><path d="M205.7 167.3l2.4 1 2.5-0.2-2.5-1z"/><path d="M203.2 167.8l2.5 1 2.4-0.5-2.4-1z"/></g>
<g fill="#3a99ef"><path d="M200.8 168.6l2.4 1 2.5-0.8-2.5-1z"/><path d="M198.3 169.7l2.5 1 2.4-1.1-2.4-1z"/><path d="M195.9 171l2.4 1 2.5-1.3-2.5-1z"/><path d="M193.4 172.3l2.5 1 2.4-1.3-2.4-1z"/><path d="M191 173.3l2.4 1 2.5-1-2.5-1z"/><path d="M188.5 174.2l2.5 1 2.4-0.9-2.4-1z"/><path d="M186.1 174.7l2.4 0.9 2.5-0.4-2.5-1z"/><path d="M183.6 174.5l2.5 0.9 2.4 0.2-2.4-0.9z"/><path d="M181.1 174.1l2.5 0.7 2.5 0.6-2.5-0.9z"/></g>
<g fill="#32a6f1"><path d="M178.7 172.7l2.4 0.6 2.5 1.5-2.5-0.7z"/><path d="M176.2 170.9l2.5 0.3 2.4 2.1-2.4-0.6z"/></g>
<g fill="#2bb4f3"><path d="M173.8 168.1l2.4-0.1 2.5 3.2-2.5-0.3z"/></g>
<g fill="#23c2f5"><path d="M171.3 164.8l2.5-0.7 2.4 3.9-2.4 0.1z"/></g>
<g fill="#1bcff8"><path d="M168.9 160.5l2.4-1.2 2.5 4.8-2.5 0.7z"/></g>
<g fill="#13ddfa"><path d="M166.4 162.7l2.5-1.2 2.4-2.2-2.4 1.2z"/></g>
<g fill="#1bcff8"><path d="M164 166.3l2.4-0.9 2.5-3.9-2.5 1.2z"/><path d="M161.5 170.5l2.5-0.6 2.4-4.5-2.4 0.9z"/></g>
<g fill="#23c2f5"><path d="M159.1 174.2l2.4-0.3 2.5-4-2.5 0.6z"/><path d="M156.6 177.7l2.5-0.1 2.4-3.7-2.4 0.3z"/></g>
<g fill="#2bb4f3"><path d="M154.2 181.1l2.4 0.2 2.5-3.7-2.5 0.1z"/></g>
<g fill="#32a6f1"><path d="M151.7 184.9l2.5 0.4 2.4-4-2.4-0.2z"/><path d="M149.3 188.7l2.4 0.6 2.5-4-2.5-0.4z"/></g>
<g fill="#3a99ef"><path d="M146.8 192l2.5 0.9 2.4-3.6-2.4-0.6z"/><path d="M144.4 194.5l2.4 1.1 2.5-2.7-2.5-0.9z"/><path d="M141.9 197.1l2.5 1.3 2.4-2.8-2.4-1.1z"/></g>
<g fill="#3a89ef"><path d="M139.5 199.5l2.4 1.4 2.5-2.5-2.5-1.3z"/><path d="M137 201.8l2.5 1.5 2.4-2.4-2.4-1.4z"/><path d="M134.6 204.1l2.4 1.6 2.5-2.4-2.5-1.5z"/><path d="M132.1 206.4l2.5 1.6 2.4-2.3-2.4-1.6z"/></g>
<g fill="#3277f1"><path d="M129.7 209.1l2.4 1.7 2.5-2.8-2.5-1.6z"/><path d="M127.2 212.2l2.5 1.8 2.4-3.2-2.4-1.7z"/><path d="M124.8 215.5l2.4 1.8 2.5-3.3-2.5-1.8z"/></g>
<g fill="#2b64f3"><path d="M122.3 219l2.5 1.9 2.4-3.6-2.4-1.8z"/><path d="M119.9 222.3l2.4 2 2.5-3.4-2.5-1.9z"/></g>
<g fill="#2352f5"><path d="M117.4 225.3l2.5 2.1 2.4-3.1-2.4-2z"/><path d="M115 227.3l2.4 2.2 2.5-2.1-2.5-2.1z"/><path d="M112.5 228.7l2.5 2.4 2.4-1.6-2.4-2.2z"/><path d="M110.1 232l2.4 2.5 2.5-3.4-2.5-2.4z"/></g>
<g fill="#1b40f8"><path d="M107.6 235.6l2.5 2.6 2.4-3.7-2.4-2.5z"/></g>
<g fill="#132efa"><path d="M105.2 240.8l2.4 2.6 2.5-5.2-2.5-2.6z"/><path d="M102.7 243.2l2.5 2.6 2.4-2.4-2.4-2.6z"/></g>
<g fill="#2352f5"><path d="M235.1 170.6l2.4 1.5 2.5-0.6-2.5-1.4z"/><path d="M232.6 173l2.5 1.5 2.4-2.4-2.4-1.5z"/><path d="M230.2 173.5l2.4 1.5 2.5-0.5-2.5-1.5z"/><path d="M227.7 172.7l2.5 1.5 2.4 0.8-2.4-1.5z"/></g>
<g fill="#2b64f3"><path d="M225.3 172.4l2.4 1.4 2.5 0.4-2.5-1.5z"/><path d="M222.8 171.2l2.5 1.4 2.4 1.2-2.4-1.4z"/><path d="M220.4 170.1l2.4 1.3 2.5 1.2-2.5-1.4z"/></g>
<g fill="#3277f1"><path d="M217.9 169.2l2.5 1.3 2.4 0.9-2.4-1.3z"/><path d="M215.5 168.7l2.4 1.2 2.5 0.6-2.5-1.3z"/></g>
<g fill="#3a89ef"><path d="M213 168.3l2.5 1.2 2.4 0.4-2.4-1.2z"/><path d="M210.6 168.1l2.4 1.2 2.5 0.2-2.5-1.2z"/><path d="M208.1 168.3l2.5 1.2 2.4-0.2-2.4-1.2z"/><path d="M205.7 168.8l2.4 1.2 2.5-0.5-2.5-1.2z"/></g>
<g fill="#3a99ef"><path d="M203.2 169.6l2.5 1.2 2.4-0.8-2.4-1.2z"/><path d="M200.8 170.7l2.4 1.2 2.5-1.1-2.5-1.2z"/><path d="M198.3 172l2.5 1.2 2.4-1.3-2.4-1.2z"/><path d="M195.9 173.3l2.4 1.2 2.5-1.3-2.5-1.2z"/><path d="M193.4 174.3l2.5 1.2 2.4-1-2.4-1.2z"/><path d="M191 175.2l2.4 1.1 2.5-0.8-2.5-1.2z"/><path d="M188.5 175.6l2.5 1 2.4-0.3-2.4-1.1z"/><path d="M186.1 175.4l2.4 1 2.5 0.2-2.5-1z"/><path d="M183.6 174.8l2.5 0.8 2.4 0.8-2.4-1z"/></g>
<g fill="#32a6f1"><path d="M181.1 173.3l2.5 0.6 2.5 1.7-2.5-0.8z"/><path d="M178.7 171.2l2.4 0.3 2.5 2.4-2.5-0.6z"/></g>
<g fill="#2bb4f3"><path d="M176.2 168l2.5 0 2.4 3.5-2.4-0.3z"/></g>
<g fill="#23c2f5"><path d="M173.8 164.1l2.4-0.7 2.5 4.6-2.5 0z"/></g>
<g fill="#13ddfa"><path d="M171.3 159.3l2.5-1.3 2.4 5.4-2.4 0.7z"/><path d="M168.9 161.5l2.4-1.2 2.5-2.3-2.5 1.3z"/><path d="M166.4 165.4l2.5-0.9 2.4-4.2-2.4 1.2z"/></g>
<g fill="#1bcff8"><path d="M164 169.9l2.4-0.6 2.5-4.8-2.5 0.9z"/></g>
<g fill="#23c2f5"><path d="M161.5 173.9l2.5-0.4 2.4-4.2-2.4 0.6z"/><path d="M159.1 177.6l2.4-0.1 2.5-4-2.5 0.4z"/></g>
<g fill="#2bb4f3"><path d="M156.6 181.3l2.5 0.1 2.4-3.9-2.4 0.1z"/><path d="M154.2 185.3l2.4 0.3 2.5-4.2-2.5-0.1z"/></g>
<g fill="#32a6f1"><path d="M151.7 189.3l2.5 0.5 2.4-4.2-2.4-0.3z"/></g>
<g fill="#3a99ef"><path d="M149.3 192.9l2.4 0.7 2.5-3.8-2.5-0.5z"/><path d="M146.8 195.6l2.5 0.9 2.4-2.9-2.4-0.7z"/><path d="M144.4 198.4l2.4 1.1 2.5-3-2.5-0.9z"/></g>
<g fill="#3a89ef"><path d="M141.9 200.9l2.5 1.3 2.4-2.7-2.4-1.1z"/><path d="M139.5 203.3l2.4 1.3 2.5-2.4-2.5-1.3z"/><path d="M137 205.7l2.5 1.3 2.4-2.4-2.4-1.3z"/><path d="M134.6 208l2.4 1.4 2.5-2.4-2.5-1.3z"/></g>
<g fill="#3277f1"><path d="M132.1 210.8l2.5 1.4 2.4-2.8-2.4-1.4z"/><path d="M129.7 214l2.4 1.4 2.5-3.2-2.5-1.4z"/></g>
<g fill="#2b64f3"><path d="M127.2 217.3l2.5 1.5 2.4-3.4-2.4-1.4z"/><path d="M124.8 220.9l2.4 1.5 2.5-3.6-2.5-1.5z"/><path d="M122.3 224.3l2.5 1.5 2.4-3.4-2.4-1.5z"/></g>
<g fill="#2352f5"><path d="M119.9 227.4l2.4 1.5 2.5-3.1-2.5-1.5z"/><path d="M117.4 229.5l2.5 1.6 2.4-2.2-2.4-1.5z"/><path d="M115 231.1l2.4 1.7 2.5-1.7-2.5-1.6z"/></g>
<g fill="#1b40f8"><path d="M112.5 234.5l2.5 1.8 2.4-3.5-2.4-1.7z"/><path d="M110.1 238.2l2.4 1.8 2.5-3.7-2.5-1.8z"/></g>
<g fill="#132efa"><path d="M107.6 243.4l2.5 1.9 2.4-5.3-2.4-1.8z"/><path d="M105.2 245.8l2.4 1.9 2.5-2.4-2.5-1.9z"/></g>
<g fill="#2352f5"><path d="M237.5 172.1l2.5 1.6 2.4-0.6-2.4-1.6z"/><path d="M235.1 174.5l2.4 1.7 2.5-2.5-2.5-1.6z"/><path d="M232.6 175l2.5 1.7 2.4-0.5-2.4-1.7z"/><path d="M230.2 174.2l2.4 1.6 2.5 0.9-2.5-1.7z"/></g>
<g fill="#2b64f3"><path d="M227.7 173.8l2.5 1.6 2.4 0.4-2.4-1.6z"/><path d="M225.3 172.6l2.4 1.5 2.5 1.3-2.5-1.6z"/><path d="M222.8 171.4l2.5 1.5 2.4 1.2-2.4-1.5z"/></g>
<g fill="#3277f1"><path d="M220.4 170.5l2.4 1.4 2.5 1-2.5-1.5z"/><path d="M217.9 169.9l2.5 1.4 2.4 0.6-2.4-1.4z"/></g>
<g fill="#3a89ef"><path d="M215.5 169.5l2.4 1.4 2.5 0.4-2.5-1.4z"/><path d="M213 169.3l2.5 1.4 2.4 0.2-2.4-1.4z"/><path d="M210.6 169.5l2.4 1.3 2.5-0.1-2.5-1.4z"/><path d="M208.1 170l2.5 1.3 2.4-0.5-2.4-1.3z"/></g>
<g fill="#3a99ef"><path d="M205.7 170.8l2.4 1.3 2.5-0.8-2.5-1.3z"/><path d="M203.2 171.9l2.5 1.2 2.4-1-2.4-1.3z"/><path d="M200.8 173.2l2.4 1.2 2.5-1.3-2.5-1.2z"/><path d="M198.3 174.5l2.5 1.3 2.4-1.4-2.4-1.2z"/><path d="M195.9 175.5l2.4 1.2 2.5-0.9-2.5-1.3z"/><path d="M193.4 176.3l2.5 1.1 2.4-0.7-2.4-1.2z"/><path d="M191 176.6l2.4 1.1 2.5-0.3-2.5-1.1z"/><path d="M188.5 176.4l2.5 0.9 2.4 0.4-2.4-1.1z"/><path d="M186.1 175.6l2.4 0.9 2.5 0.8-2.5-0.9z"/></g>
<g fill="#32a6f1"><path d="M183.6 173.9l2.5 0.7 2.4 1.9-2.4-0.9z"/></g>
<g fill="#2bb4f3"><path d="M181.1 171.5l2.5 0.4 2.5 2.7-2.5-0.7z"/></g>
<g fill="#23c2f5"><path d="M178.7 168l2.4-0.2 2.5 4.1-2.5-0.4z"/></g>
<g fill="#1bcff8"><path d="M176.2 163.4l2.5-0.9 2.4 5.3-2.4 0.2z"/></g>
<g fill="#13ddfa"><path d="M173.8 158l2.4-1.4 2.5 5.9-2.5 0.9z"/></g>
<g fill="#0cebfc"><path d="M171.3 160.3l2.5-1.5 2.4-2.2-2.4 1.4z"/></g>
<g fill="#13ddfa"><path d="M168.9 164.5l2.4-1.2 2.5-4.5-2.5 1.5z"/></g>
<g fill="#1bcff8"><path d="M166.4 169.3l2.5-0.8 2.4-5.2-2.4 1.2z"/><path d="M164 173.5l2.4-0.6 2.5-4.4-2.5 0.8z"/></g>
<g fill="#23c2f5"><path d="M161.5 177.5l2.5-0.4 2.4-4.2-2.4 0.6z"/><path d="M159.1 181.4l2.4-0.1 2.5-4.2-2.5 0.4z"/></g>
<g fill="#2bb4f3"><path d="M156.6 185.6l2.5 0.2 2.4-4.5-2.4 0.1z"/></g>
<g fill="#32a6f1"><path d="M154.2 189.8l2.4 0.4 2.5-4.4-2.5-0.2z"/><path d="M151.7 193.6l2.5 0.5 2.4-3.9-2.4-0.4z"/></g>
<g fill="#3a99ef"><path d="M149.3 196.5l2.4 0.8 2.5-3.2-2.5-0.5z"/><path d="M146.8 199.5l2.5 0.9 2.4-3.1-2.4-0.8z"/></g>
<g fill="#3a89ef"><path d="M144.4 202.2l2.4 1.1 2.5-2.9-2.5-0.9z"/><path d="M141.9 204.6l2.5 1.2 2.4-2.5-2.4-1.1z"/><path d="M139.5 207l2.4 1.2 2.5-2.4-2.5-1.2z"/><path d="M137 209.4l2.5 1.3 2.4-2.5-2.4-1.2z"/></g>
<g fill="#3277f1"><path d="M134.6 212.2l2.4 1.3 2.5-2.8-2.5-1.3z"/><path d="M132.1 215.4l2.5 1.3 2.4-3.2-2.4-1.3z"/></g>
<g fill="#2b64f3"><path d="M129.7 218.8l2.4 1.3 2.5-3.4-2.5-1.3z"/><path d="M127.2 222.4l2.5 1.3 2.4-3.6-2.4-1.3z"/></g>
<g fill="#2352f5"><path d="M124.8 225.8l2.4 1.4 2.5-3.5-2.5-1.3z"/><path d="M122.3 228.9l2.5 1.4 2.4-3.1-2.4-1.4z"/><path d="M119.9 231.1l2.4 1.5 2.5-2.3-2.5-1.4z"/><path d="M117.4 232.8l2.5 1.6 2.4-1.8-2.4-1.5z"/></g>
<g fill="#1b40f8"><path d="M115 236.3l2.4 1.6 2.5-3.5-2.5-1.6z"/><path d="M112.5 240l2.5 1.7 2.4-3.8-2.4-1.6z"/></g>
<g fill="#132efa"><path d="M110.1 245.3l2.4 1.6 2.5-5.2-2.5-1.7z"/></g>
<g fill="#0c1bfc"><path d="M107.6 247.7l2.5 1.7 2.4-2.5-2.4-1.6z"/></g>
<g fill="#2352f5"><path d="M240 173.7l2.4 1.9 2.5-0.7-2.5-1.8z"/><path d="M237.5 176.2l2.5 1.9 2.4-2.5-2.4-1.9z"/><path d="M235.1 176.7l2.4 1.9 2.5-0.5-2.5-1.9z"/><path d="M232.6 175.8l2.5 1.9 2.4 0.9-2.4-1.9z"/><path d="M230.2 175.4l2.4 1.7 2.5 0.6-2.5-1.9z"/></g>
<g fill="#2b64f3"><path d="M227.7 174.1l2.5 1.7 2.4 1.3-2.4-1.7z"/><path d="M225.3 172.9l2.4 1.7 2.5 1.2-2.5-1.7z"/></g>
<g fill="#3277f1"><path d="M222.8 171.9l2.5 1.6 2.4 1.1-2.4-1.7z"/><path d="M220.4 171.3l2.4 1.5 2.5 0.7-2.5-1.6z"/></g>
<g fill="#3a89ef"><path d="M217.9 170.9l2.5 1.5 2.4 0.4-2.4-1.5z"/><path d="M215.5 170.7l2.4 1.4 2.5 0.3-2.5-1.5z"/><path d="M213 170.8l2.5 1.4 2.4-0.1-2.4-1.4z"/><path d="M210.6 171.3l2.4 1.4 2.5-0.5-2.5-1.4z"/></g>
<g fill="#3a99ef"><path d="M208.1 172.1l2.5 1.4 2.4-0.8-2.4-1.4z"/><path d="M205.7 173.1l2.4 1.4 2.5-1-2.5-1.4z"/><path d="M203.2 174.4l2.5 1.4 2.4-1.3-2.4-1.4z"/><path d="M200.8 175.8l2.4 1.3 2.5-1.3-2.5-1.4z"/><path d="M198.3 176.7l2.5 1.3 2.4-0.9-2.4-1.3z"/><path d="M195.9 177.4l2.4 1.3 2.5-0.7-2.5-1.3z"/><path d="M193.4 177.7l2.5 1.1 2.4-0.1-2.4-1.3z"/><path d="M191 177.3l2.4 1 2.5 0.5-2.5-1.1z"/><path d="M188.5 176.5l2.5 0.7 2.4 1.1-2.4-1z"/></g>
<g fill="#32a6f1"><path d="M186.1 174.6l2.4 0.4 2.5 2.2-2.5-0.7z"/></g>
<g fill="#2bb4f3"><path d="M183.6 171.9l2.5-0.1 2.4 3.2-2.4-0.4z"/></g>
<g fill="#23c2f5"><path d="M181.1 167.8l2.5-0.7 2.5 4.7-2.5 0.1z"/></g>
<g fill="#1bcff8"><path d="M178.7 162.5l2.4-1.7 2.5 6.3-2.5 0.7z"/></g>
<g fill="#0cebfc"><path d="M176.2 156.6l2.5-2.6 2.4 6.8-2.4 1.7z"/><path d="M173.8 158.8l2.4-2.5 2.5-2.3-2.5 2.6z"/><path d="M171.3 163.3l2.5-2.1 2.4-4.9-2.4 2.5z"/></g>
<g fill="#13ddfa"><path d="M168.9 168.5l2.4-1.6 2.5-5.7-2.5 2.1z"/></g>
<g fill="#1bcff8"><path d="M166.4 172.9l2.5-1.2 2.4-4.8-2.4 1.6z"/><path d="M164 177.1l2.4-0.9 2.5-4.5-2.5 1.2z"/></g>
<g fill="#23c2f5"><path d="M161.5 181.3l2.5-0.6 2.4-4.5-2.4 0.9z"/></g>
<g fill="#2bb4f3"><path d="M159.1 185.8l2.4-0.3 2.5-4.8-2.5 0.6z"/></g>
<g fill="#32a6f1"><path d="M156.6 190.2l2.5 0 2.4-4.7-2.4 0.3z"/><path d="M154.2 194.1l2.4 0.3 2.5-4.2-2.5 0z"/></g>
<g fill="#3a99ef"><path d="M151.7 197.3l2.5 0.6 2.4-3.5-2.4-0.3z"/><path d="M149.3 200.4l2.4 0.9 2.5-3.4-2.5-0.6z"/></g>
<g fill="#3a89ef"><path d="M146.8 203.3l2.5 0.9 2.4-2.9-2.4-0.9z"/><path d="M144.4 205.8l2.4 1.1 2.5-2.7-2.5-0.9z"/><path d="M141.9 208.2l2.5 1.2 2.4-2.5-2.4-1.1z"/><path d="M139.5 210.7l2.4 1.1 2.5-2.4-2.5-1.2z"/></g>
<g fill="#3277f1"><path d="M137 213.5l2.5 1.1 2.4-2.8-2.4-1.1z"/><path d="M134.6 216.7l2.4 1.1 2.5-3.2-2.5-1.1z"/></g>
<g fill="#2b64f3"><path d="M132.1 220.1l2.5 1.1 2.4-3.4-2.4-1.1z"/><path d="M129.7 223.7l2.4 1.2 2.5-3.7-2.5-1.1z"/></g>
<g fill="#2352f5"><path d="M127.2 227.2l2.5 1.2 2.4-3.5-2.4-1.2z"/><path d="M124.8 230.3l2.4 1.2 2.5-3.1-2.5-1.2z"/><path d="M122.3 232.6l2.5 1.3 2.4-2.4-2.4-1.2z"/><path d="M119.9 234.4l2.4 1.4 2.5-1.9-2.5-1.3z"/></g>
<g fill="#1b40f8"><path d="M117.4 237.9l2.5 1.4 2.4-3.5-2.4-1.4z"/><path d="M115 241.7l2.4 1.4 2.5-3.8-2.5-1.4z"/></g>
<g fill="#132efa"><path d="M112.5 246.9l2.5 1.5 2.4-5.3-2.4-1.4z"/></g>
<g fill="#0c1bfc"><path d="M110.1 249.4l2.4 1.5 2.5-2.5-2.5-1.5z"/></g>
<g fill="#2352f5"><path d="M242.4 175.6l2.5 2 2.4-0.8-2.4-1.9z"/><path d="M240 178.1l2.4 1.9 2.5-2.4-2.5-2z"/><path d="M237.5 178.6l2.5 1.9 2.4-0.5-2.4-1.9z"/><path d="M235.1 177.7l2.4 1.8 2.5 1-2.5-1.9z"/><path d="M232.6 177.1l2.5 1.8 2.4 0.6-2.4-1.8z"/></g>
<g fill="#2b64f3"><path d="M230.2 175.8l2.4 1.7 2.5 1.4-2.5-1.8z"/><path d="M227.7 174.6l2.5 1.6 2.4 1.3-2.4-1.7z"/></g>
<g fill="#3277f1"><path d="M225.3 173.5l2.4 1.7 2.5 1-2.5-1.6z"/><path d="M222.8 172.8l2.5 1.7 2.4 0.7-2.4-1.7z"/></g>
<g fill="#3a89ef"><path d="M220.4 172.4l2.4 1.5 2.5 0.6-2.5-1.7z"/><path d="M217.9 172.1l2.5 1.6 2.4 0.2-2.4-1.5z"/><path d="M215.5 172.2l2.4 1.6 2.5-0.1-2.5-1.6z"/><path d="M213 172.7l2.5 1.5 2.4-0.4-2.4-1.6z"/><path d="M210.6 173.5l2.4 1.5 2.5-0.8-2.5-1.5z"/></g>
<g fill="#3a99ef"><path d="M208.1 174.5l2.5 1.5 2.4-1-2.4-1.5z"/><path d="M205.7 175.8l2.4 1.4 2.5-1.2-2.5-1.5z"/><path d="M203.2 177.1l2.5 1.4 2.4-1.3-2.4-1.4z"/><path d="M200.8 178l2.4 1.3 2.5-0.8-2.5-1.4z"/><path d="M198.3 178.7l2.5 1.3 2.4-0.7-2.4-1.3z"/><path d="M195.9 178.8l2.4 1.3 2.5-0.1-2.5-1.3z"/><path d="M193.4 178.3l2.5 1.2 2.4 0.6-2.4-1.3z"/><path d="M191 177.2l2.4 1.2 2.5 1.1-2.5-1.2z"/></g>
<g fill="#32a6f1"><path d="M188.5 175l2.5 1.1 2.4 2.3-2.4-1.2z"/></g>
<g fill="#2bb4f3"><path d="M186.1 171.8l2.4 1 2.5 3.3-2.5-1.1z"/></g>
<g fill="#23c2f5"><path d="M183.6 167.1l2.5 0.8 2.4 4.9-2.4-1z"/></g>
<g fill="#1bcff8"><path d="M181.1 160.8l2.5 0.6 2.5 6.5-2.5-0.8z"/></g>
<g fill="#0cebfc"><path d="M178.7 154l2.4 0.5 2.5 6.9-2.5-0.6z"/></g>
<g fill="#04f8fe"><path d="M176.2 156.3l2.5 0.4 2.4-2.2-2.4-0.5z"/></g>
<g fill="#0cebfc"><path d="M173.8 161.2l2.4 0.5 2.5-5-2.5-0.4z"/></g>
<g fill="#13ddfa"><path d="M171.3 166.9l2.5 0.5 2.4-5.7-2.4-0.5z"/><path d="M168.9 171.7l2.4 0.6 2.5-4.9-2.5-0.5z"/></g>
<g fill="#1bcff8"><path d="M166.4 176.2l2.5 0.7 2.4-4.6-2.4-0.6z"/></g>
<g fill="#23c2f5"><path d="M164 180.7l2.4 0.7 2.5-4.5-2.5-0.7z"/></g>
<g fill="#2bb4f3"><path d="M161.5 185.5l2.5 0.7 2.4-4.8-2.4-0.7z"/><path d="M159.1 190.2l2.4 0.8 2.5-4.8-2.5-0.7z"/></g>
<g fill="#32a6f1"><path d="M156.6 194.4l2.5 0.9 2.4-4.3-2.4-0.8z"/></g>
<g fill="#3a99ef"><path d="M154.2 197.9l2.4 0.9 2.5-3.5-2.5-0.9z"/><path d="M151.7 201.3l2.5 0.9 2.4-3.4-2.4-0.9z"/><path d="M149.3 204.2l2.4 1 2.5-3-2.5-0.9z"/></g>
<g fill="#3a89ef"><path d="M146.8 206.9l2.5 1 2.4-2.7-2.4-1z"/><path d="M144.4 209.4l2.4 1 2.5-2.5-2.5-1z"/><path d="M141.9 211.8l2.5 1 2.4-2.4-2.4-1z"/></g>
<g fill="#3277f1"><path d="M139.5 214.6l2.4 1 2.5-2.8-2.5-1z"/><path d="M137 217.8l2.5 1 2.4-3.2-2.4-1z"/></g>
<g fill="#2b64f3"><path d="M134.6 221.2l2.4 1 2.5-3.4-2.5-1z"/><path d="M132.1 224.9l2.5 1 2.4-3.7-2.4-1z"/></g>
<g fill="#2352f5"><path d="M129.7 228.4l2.4 1 2.5-3.5-2.5-1z"/><path d="M127.2 231.5l2.5 1.1 2.4-3.2-2.4-1z"/><path d="M124.8 233.9l2.4 1.1 2.5-2.4-2.5-1.1z"/></g>
<g fill="#1b40f8"><path d="M122.3 235.8l2.5 1.1 2.4-1.9-2.4-1.1z"/><path d="M119.9 239.3l2.4 1.2 2.5-3.6-2.5-1.1z"/><path d="M117.4 243.1l2.5 1.3 2.4-3.9-2.4-1.2z"/></g>
<g fill="#132efa"><path d="M115 248.4l2.4 1.2 2.5-5.2-2.5-1.3z"/></g>
<g fill="#0c1bfc"><path d="M112.5 250.9l2.5 1.2 2.4-2.5-2.4-1.2z"/></g>
<g fill="#2352f5"><path d="M244.9 177.6l2.4 1.9 2.5-0.8-2.5-1.9z"/></g>
<g fill="#1b40f8"><path d="M242.4 180l2.5 2 2.4-2.5-2.4-1.9z"/><path d="M240 180.5l2.4 1.9 2.5-0.4-2.5-2z"/></g>
<g fill="#2352f5"><path d="M237.5 179.5l2.5 1.9 2.4 1-2.4-1.9z"/><path d="M235.1 178.9l2.4 1.9 2.5 0.6-2.5-1.9z"/></g>
<g fill="#2b64f3"><path d="M232.6 177.5l2.5 1.8 2.4 1.5-2.4-1.9z"/><path d="M230.2 176.2l2.4 1.8 2.5 1.3-2.5-1.8z"/></g>
<g fill="#3277f1"><path d="M227.7 175.2l2.5 1.7 2.4 1.1-2.4-1.8z"/><path d="M225.3 174.5l2.4 1.6 2.5 0.8-2.5-1.7z"/><path d="M222.8 173.9l2.5 1.7 2.4 0.5-2.4-1.6z"/></g>
<g fill="#3a89ef"><path d="M220.4 173.7l2.4 1.6 2.5 0.3-2.5-1.7z"/><path d="M217.9 173.8l2.5 1.5 2.4 0-2.4-1.6z"/><path d="M215.5 174.2l2.4 1.6 2.5-0.5-2.5-1.5z"/><path d="M213 175l2.5 1.5 2.4-0.7-2.4-1.6z"/><path d="M210.6 176l2.4 1.5 2.5-1-2.5-1.5z"/><path d="M208.1 177.2l2.5 1.5 2.4-1.2-2.4-1.5z"/><path d="M205.7 178.5l2.4 1.4 2.5-1.2-2.5-1.5z"/><path d="M203.2 179.3l2.5 1.4 2.4-0.8-2.4-1.4z"/></g>
<g fill="#3a99ef"><path d="M200.8 180l2.4 1.3 2.5-0.6-2.5-1.4z"/><path d="M198.3 180.1l2.5 1.4 2.4-0.2-2.4-1.3z"/><path d="M195.9 179.5l2.4 1.5 2.5 0.5-2.5-1.4z"/><path d="M193.4 178.4l2.5 1.6 2.4 1-2.4-1.5z"/></g>
<g fill="#32a6f1"><path d="M191 176.1l2.4 1.7 2.5 2.2-2.5-1.6z"/></g>
<g fill="#2bb4f3"><path d="M188.5 172.8l2.5 1.9 2.4 3.1-2.4-1.7z"/></g>
<g fill="#23c2f5"><path d="M186.1 167.9l2.4 2.1 2.5 4.7-2.5-1.9z"/></g>
<g fill="#1bcff8"><path d="M183.6 161.4l2.5 2.5 2.4 6.1-2.4-2.1z"/></g>
<g fill="#0cebfc"><path d="M181.1 154.5l2.5 2.7 2.5 6.7-2.5-2.5z"/></g>
<g fill="#04f8fe"><path d="M178.7 156.7l2.4 2.7 2.5-2.2-2.5-2.7z"/></g>
<g fill="#0cebfc"><path d="M176.2 161.7l2.5 2.5 2.4-4.8-2.4-2.7z"/></g>
<g fill="#13ddfa"><path d="M173.8 167.4l2.4 2.3 2.5-5.5-2.5-2.5z"/><path d="M171.3 172.3l2.5 2.1 2.4-4.7-2.4-2.3z"/></g>
<g fill="#1bcff8"><path d="M168.9 176.9l2.4 1.9 2.5-4.4-2.5-2.1z"/></g>
<g fill="#23c2f5"><path d="M166.4 181.4l2.5 1.8 2.4-4.4-2.4-1.9z"/></g>
<g fill="#2bb4f3"><path d="M164 186.2l2.4 1.7 2.5-4.7-2.5-1.8z"/><path d="M161.5 191l2.5 1.5 2.4-4.6-2.4-1.7z"/></g>
<g fill="#32a6f1"><path d="M159.1 195.3l2.4 1.3 2.5-4.1-2.5-1.5z"/></g>
<g fill="#3a99ef"><path d="M156.6 198.8l2.5 1.2 2.4-3.4-2.4-1.3z"/><path d="M154.2 202.2l2.4 1.1 2.5-3.3-2.5-1.2z"/><path d="M151.7 205.2l2.5 1 2.4-2.9-2.4-1.1z"/></g>
<g fill="#3a89ef"><path d="M149.3 207.9l2.4 1 2.5-2.7-2.5-1z"/><path d="M146.8 210.4l2.5 0.9 2.4-2.4-2.4-1z"/><path d="M144.4 212.8l2.4 0.9 2.5-2.4-2.5-0.9z"/></g>
<g fill="#3277f1"><path d="M141.9 215.6l2.5 0.9 2.4-2.8-2.4-0.9z"/><path d="M139.5 218.8l2.4 0.9 2.5-3.2-2.5-0.9z"/><path d="M137 222.2l2.5 0.9 2.4-3.4-2.4-0.9z"/></g>
<g fill="#2b64f3"><path d="M134.6 225.9l2.4 0.8 2.5-3.6-2.5-0.9z"/><path d="M132.1 229.4l2.5 0.8 2.4-3.5-2.4-0.8z"/></g>
<g fill="#2352f5"><path d="M129.7 232.6l2.4 0.8 2.5-3.2-2.5-0.8z"/><path d="M127.2 235l2.5 0.8 2.4-2.4-2.4-0.8z"/><path d="M124.8 236.9l2.4 0.9 2.5-2-2.5-0.8z"/></g>
<g fill="#1b40f8"><path d="M122.3 240.5l2.5 0.9 2.4-3.6-2.4-0.9z"/><path d="M119.9 244.4l2.4 0.9 2.5-3.9-2.5-0.9z"/></g>
<g fill="#132efa"><path d="M117.4 249.6l2.5 1 2.4-5.3-2.4-0.9z"/></g>
<g fill="#0c1bfc"><path d="M115 252.1l2.4 0.9 2.5-2.4-2.5-1z"/></g>
<g fill="#1b40f8"><path d="M247.3 179.5l2.5 2 2.4-0.9-2.4-1.9z"/><path d="M244.9 182l2.4 2 2.5-2.5-2.5-2z"/><path d="M242.4 182.4l2.5 2 2.4-0.4-2.4-2z"/></g>
<g fill="#2352f5"><path d="M240 181.4l2.4 2 2.5 1-2.5-2z"/><path d="M237.5 180.8l2.5 1.8 2.4 0.8-2.4-2z"/><path d="M235.1 179.3l2.4 1.9 2.5 1.4-2.5-1.8z"/></g>
<g fill="#2b64f3"><path d="M232.6 178l2.5 1.8 2.4 1.4-2.4-1.9z"/></g>
<g fill="#3277f1"><path d="M230.2 176.9l2.4 1.8 2.5 1.1-2.5-1.8z"/><path d="M227.7 176.1l2.5 1.8 2.4 0.8-2.4-1.8z"/><path d="M225.3 175.6l2.4 1.7 2.5 0.6-2.5-1.8z"/></g>
<g fill="#3a89ef"><path d="M222.8 175.3l2.5 1.7 2.4 0.3-2.4-1.7z"/><path d="M220.4 175.3l2.4 1.7 2.5 0-2.5-1.7z"/><path d="M217.9 175.8l2.5 1.6 2.4-0.4-2.4-1.7z"/><path d="M215.5 176.5l2.4 1.6 2.5-0.7-2.5-1.6z"/><path d="M213 177.5l2.5 1.5 2.4-0.9-2.4-1.6z"/><path d="M210.6 178.7l2.4 1.5 2.5-1.2-2.5-1.5z"/><path d="M208.1 179.9l2.5 1.5 2.4-1.2-2.4-1.5z"/><path d="M205.7 180.7l2.4 1.5 2.5-0.8-2.5-1.5z"/></g>
<g fill="#3a99ef"><path d="M203.2 181.3l2.5 1.5 2.4-0.6-2.4-1.5z"/><path d="M200.8 181.5l2.4 1.5 2.5-0.2-2.5-1.5z"/><path d="M198.3 181l2.5 1.6 2.4 0.4-2.4-1.5z"/><path d="M195.9 180l2.4 1.8 2.5 0.8-2.5-1.6z"/></g>
<g fill="#32a6f1"><path d="M193.4 177.8l2.5 2.1 2.4 1.9-2.4-1.8z"/></g>
<g fill="#2bb4f3"><path d="M191 174.7l2.4 2.5 2.5 2.7-2.5-2.1z"/></g>
<g fill="#23c2f5"><path d="M188.5 170l2.5 3.1 2.4 4.1-2.4-2.5z"/></g>
<g fill="#1bcff8"><path d="M186.1 163.9l2.4 3.8 2.5 5.4-2.5-3.1z"/></g>
<g fill="#0cebfc"><path d="M183.6 157.2l2.5 4.6 2.4 5.9-2.4-3.8z"/><path d="M181.1 159.4l2.5 4.6 2.5-2.2-2.5-4.6z"/><path d="M178.7 164.2l2.4 4.1 2.5-4.3-2.5-4.6z"/></g>
<g fill="#13ddfa"><path d="M176.2 169.7l2.5 3.7 2.4-5.1-2.4-4.1z"/></g>
<g fill="#1bcff8"><path d="M173.8 174.4l2.4 3.3 2.5-4.3-2.5-3.7z"/><path d="M171.3 178.8l2.5 3 2.4-4.1-2.4-3.3z"/></g>
<g fill="#23c2f5"><path d="M168.9 183.2l2.4 2.6 2.5-4-2.5-3z"/></g>
<g fill="#2bb4f3"><path d="M166.4 187.9l2.5 2.3 2.4-4.4-2.4-2.6z"/><path d="M164 192.5l2.4 2 2.5-4.3-2.5-2.3z"/></g>
<g fill="#32a6f1"><path d="M161.5 196.6l2.5 1.8 2.4-3.9-2.4-2z"/></g>
<g fill="#3a99ef"><path d="M159.1 200l2.4 1.4 2.5-3-2.5-1.8z"/><path d="M156.6 203.3l2.5 1.2 2.4-3.1-2.4-1.4z"/><path d="M154.2 206.2l2.4 1.1 2.5-2.8-2.5-1.2z"/></g>
<g fill="#3a89ef"><path d="M151.7 208.9l2.5 0.9 2.4-2.5-2.4-1.1z"/><path d="M149.3 211.3l2.4 0.9 2.5-2.4-2.5-0.9z"/><path d="M146.8 213.7l2.5 0.9 2.4-2.4-2.4-0.9z"/></g>
<g fill="#3277f1"><path d="M144.4 216.5l2.4 0.9 2.5-2.8-2.5-0.9z"/><path d="M141.9 219.7l2.5 0.8 2.4-3.1-2.4-0.9z"/><path d="M139.5 223.1l2.4 0.7 2.5-3.3-2.5-0.8z"/></g>
<g fill="#2b64f3"><path d="M137 226.7l2.5 0.7 2.4-3.6-2.4-0.7z"/><path d="M134.6 230.2l2.4 0.7 2.5-3.5-2.5-0.7z"/></g>
<g fill="#2352f5"><path d="M132.1 233.4l2.5 0.7 2.4-3.2-2.4-0.7z"/><path d="M129.7 235.8l2.4 0.8 2.5-2.5-2.5-0.7z"/><path d="M127.2 237.8l2.5 0.8 2.4-2-2.4-0.8z"/></g>
<g fill="#1b40f8"><path d="M124.8 241.4l2.4 0.8 2.5-3.6-2.5-0.8z"/><path d="M122.3 245.3l2.5 0.8 2.4-3.9-2.4-0.8z"/></g>
<g fill="#132efa"><path d="M119.9 250.6l2.4 0.7 2.5-5.2-2.5-0.8z"/></g>
<g fill="#0c1bfc"><path d="M117.4 253l2.5 0.8 2.4-2.5-2.4-0.7z"/></g>
<g fill="#1b40f8"><path d="M249.8 181.5l2.4 1.6 2.5-0.9-2.5-1.6z"/><path d="M247.3 184l2.5 1.7 2.4-2.6-2.4-1.6z"/><path d="M244.9 184.4l2.4 1.6 2.5-0.3-2.5-1.7z"/><path d="M242.4 183.4l2.5 1.6 2.4 1-2.4-1.6z"/></g>
<g fill="#2352f5"><path d="M240 182.6l2.4 1.7 2.5 0.7-2.5-1.6z"/><path d="M237.5 181.2l2.5 1.6 2.4 1.5-2.4-1.7z"/></g>
<g fill="#2b64f3"><path d="M235.1 179.8l2.4 1.6 2.5 1.4-2.5-1.6z"/><path d="M232.6 178.7l2.5 1.6 2.4 1.1-2.4-1.6z"/></g>
<g fill="#3277f1"><path d="M230.2 177.9l2.4 1.6 2.5 0.8-2.5-1.6z"/><path d="M227.7 177.3l2.5 1.6 2.4 0.6-2.4-1.6z"/></g>
<g fill="#3a89ef"><path d="M225.3 177l2.4 1.5 2.5 0.4-2.5-1.6z"/><path d="M222.8 177l2.5 1.5 2.4 0-2.4-1.5z"/><path d="M220.4 177.4l2.4 1.5 2.5-0.4-2.5-1.5z"/><path d="M217.9 178.1l2.5 1.5 2.4-0.7-2.4-1.5z"/><path d="M215.5 179l2.4 1.5 2.5-0.9-2.5-1.5z"/><path d="M213 180.2l2.5 1.5 2.4-1.2-2.4-1.5z"/><path d="M210.6 181.4l2.4 1.5 2.5-1.2-2.5-1.5z"/><path d="M208.1 182.2l2.5 1.4 2.4-0.7-2.4-1.5z"/><path d="M205.7 182.8l2.4 1.4 2.5-0.6-2.5-1.4z"/></g>
<g fill="#3a99ef"><path d="M203.2 183l2.5 1.5 2.4-0.3-2.4-1.4z"/><path d="M200.8 182.6l2.4 1.6 2.5 0.3-2.5-1.5z"/><path d="M198.3 181.8l2.5 1.7 2.4 0.7-2.4-1.6z"/></g>
<g fill="#32a6f1"><path d="M195.9 179.9l2.4 2 2.5 1.6-2.5-1.7z"/><path d="M193.4 177.2l2.5 2.4 2.4 2.3-2.4-2z"/></g>
<g fill="#2bb4f3"><path d="M191 173.1l2.4 2.9 2.5 3.6-2.5-2.4z"/></g>
<g fill="#1bcff8"><path d="M188.5 167.7l2.5 3.6 2.4 4.7-2.4-2.9z"/></g>
<g fill="#13ddfa"><path d="M186.1 161.8l2.4 4.2 2.5 5.3-2.5-3.6z"/></g>
<g fill="#0cebfc"><path d="M183.6 164l2.5 4.2 2.4-2.2-2.4-4.2z"/></g>
<g fill="#13ddfa"><path d="M181.1 168.3l2.5 3.8 2.5-3.9-2.5-4.2z"/></g>
<g fill="#1bcff8"><path d="M178.7 173.4l2.4 3.4 2.5-4.7-2.5-3.8z"/><path d="M176.2 177.7l2.5 3.1 2.4-4-2.4-3.4z"/></g>
<g fill="#23c2f5"><path d="M173.8 181.8l2.4 2.7 2.5-3.7-2.5-3.1z"/><path d="M171.3 185.8l2.5 2.5 2.4-3.8-2.4-2.7z"/></g>
<g fill="#2bb4f3"><path d="M168.9 190.2l2.4 2.1 2.5-4-2.5-2.5z"/></g>
<g fill="#32a6f1"><path d="M166.4 194.5l2.5 1.9 2.4-4.1-2.4-2.1z"/><path d="M164 198.4l2.4 1.6 2.5-3.6-2.5-1.9z"/></g>
<g fill="#3a99ef"><path d="M161.5 201.4l2.5 1.4 2.4-2.8-2.4-1.6z"/><path d="M159.1 204.5l2.4 1.2 2.5-2.9-2.5-1.4z"/><path d="M156.6 207.3l2.5 1 2.4-2.6-2.4-1.2z"/></g>
<g fill="#3a89ef"><path d="M154.2 209.8l2.4 0.9 2.5-2.4-2.5-1z"/><path d="M151.7 212.2l2.5 0.9 2.4-2.4-2.4-0.9z"/><path d="M149.3 214.6l2.4 0.8 2.5-2.3-2.5-0.9z"/></g>
<g fill="#3277f1"><path d="M146.8 217.4l2.5 0.8 2.4-2.8-2.4-0.8z"/><path d="M144.4 220.5l2.4 0.8 2.5-3.1-2.5-0.8z"/><path d="M141.9 223.8l2.5 0.8 2.4-3.3-2.4-0.8z"/></g>
<g fill="#2b64f3"><path d="M139.5 227.4l2.4 0.7 2.5-3.5-2.5-0.8z"/><path d="M137 230.9l2.5 0.7 2.4-3.5-2.4-0.7z"/></g>
<g fill="#2352f5"><path d="M134.6 234.1l2.4 0.6 2.5-3.1-2.5-0.7z"/><path d="M132.1 236.6l2.5 0.6 2.4-2.5-2.4-0.6z"/><path d="M129.7 238.6l2.4 0.7 2.5-2.1-2.5-0.6z"/></g>
<g fill="#1b40f8"><path d="M127.2 242.2l2.5 0.7 2.4-3.6-2.4-0.7z"/><path d="M124.8 246.1l2.4 0.6 2.5-3.8-2.5-0.7z"/></g>
<g fill="#132efa"><path d="M122.3 251.3l2.5 0.6 2.4-5.2-2.4-0.6z"/><path d="M119.9 253.8l2.4 0.6 2.5-2.5-2.5-0.6z"/></g>
<g fill="#1b40f8"><path d="M252.2 183.1l2.5 1 2.4-0.9-2.4-1z"/><path d="M249.8 185.7l2.4 1 2.5-2.6-2.5-1z"/><path d="M247.3 186l2.5 1.1 2.4-0.4-2.4-1z"/><path d="M244.9 185l2.4 1.2 2.5 0.9-2.5-1.1z"/></g>
<g fill="#2352f5"><path d="M242.4 184.3l2.5 1.1 2.4 0.8-2.4-1.2z"/><path d="M240 182.8l2.4 1.2 2.5 1.4-2.5-1.1z"/></g>
<g fill="#2b64f3"><path d="M237.5 181.4l2.5 1.2 2.4 1.4-2.4-1.2z"/><path d="M235.1 180.3l2.4 1.2 2.5 1.1-2.5-1.2z"/></g>
<g fill="#3277f1"><path d="M232.6 179.5l2.5 1.3 2.4 0.7-2.4-1.2z"/><path d="M230.2 178.9l2.4 1.3 2.5 0.6-2.5-1.3z"/></g>
<g fill="#3a89ef"><path d="M227.7 178.5l2.5 1.4 2.4 0.3-2.4-1.3z"/><path d="M225.3 178.5l2.4 1.4 2.5 0-2.5-1.4z"/><path d="M222.8 178.9l2.5 1.4 2.4-0.4-2.4-1.4z"/><path d="M220.4 179.6l2.4 1.4 2.5-0.7-2.5-1.4z"/><path d="M217.9 180.5l2.5 1.4 2.4-0.9-2.4-1.4z"/><path d="M215.5 181.7l2.4 1.4 2.5-1.2-2.5-1.4z"/><path d="M213 182.9l2.5 1.3 2.4-1.1-2.4-1.4z"/><path d="M210.6 183.6l2.4 1.4 2.5-0.8-2.5-1.3z"/><path d="M208.1 184.2l2.5 1.3 2.4-0.5-2.4-1.4z"/></g>
<g fill="#3a99ef"><path d="M205.7 184.5l2.4 1.4 2.5-0.4-2.5-1.3z"/><path d="M203.2 184.2l2.5 1.5 2.4 0.2-2.4-1.4z"/><path d="M200.8 183.5l2.4 1.7 2.5 0.5-2.5-1.5z"/></g>
<g fill="#32a6f1"><path d="M198.3 181.9l2.5 1.9 2.4 1.4-2.4-1.7z"/><path d="M195.9 179.6l2.4 2.1 2.5 2.1-2.5-1.9z"/></g>
<g fill="#2bb4f3"><path d="M193.4 176l2.5 2.6 2.4 3.1-2.4-2.1z"/></g>
<g fill="#23c2f5"><path d="M191 171.3l2.4 3.3 2.5 4-2.5-2.6z"/></g>
<g fill="#1bcff8"><path d="M188.5 166l2.5 3.8 2.4 4.8-2.4-3.3z"/></g>
<g fill="#13ddfa"><path d="M186.1 168.2l2.4 3.7 2.5-2.1-2.5-3.8z"/><path d="M183.6 172.1l2.5 3.5 2.4-3.7-2.4-3.7z"/></g>
<g fill="#1bcff8"><path d="M181.1 176.8l2.5 3 2.5-4.2-2.5-3.5z"/></g>
<g fill="#23c2f5"><path d="M178.7 180.8l2.4 2.7 2.5-3.7-2.5-3z"/><path d="M176.2 184.5l2.5 2.6 2.4-3.6-2.4-2.7z"/></g>
<g fill="#2bb4f3"><path d="M173.8 188.3l2.4 2.3 2.5-3.5-2.5-2.6z"/><path d="M171.3 192.3l2.5 2.1 2.4-3.8-2.4-2.3z"/></g>
<g fill="#32a6f1"><path d="M168.9 196.4l2.4 1.9 2.5-3.9-2.5-2.1z"/><path d="M166.4 200l2.5 1.6 2.4-3.3-2.4-1.9z"/></g>
<g fill="#3a99ef"><path d="M164 202.8l2.4 1.4 2.5-2.6-2.5-1.6z"/><path d="M161.5 205.7l2.5 1.2 2.4-2.7-2.4-1.4z"/><path d="M159.1 208.3l2.4 1.1 2.5-2.5-2.5-1.2z"/></g>
<g fill="#3a89ef"><path d="M156.6 210.7l2.5 1 2.4-2.3-2.4-1.1z"/><path d="M154.2 213.1l2.4 0.9 2.5-2.3-2.5-1z"/><path d="M151.7 215.4l2.5 0.9 2.4-2.3-2.4-0.9z"/><path d="M149.3 218.2l2.4 0.8 2.5-2.7-2.5-0.9z"/></g>
<g fill="#3277f1"><path d="M146.8 221.3l2.5 0.7 2.4-3-2.4-0.8z"/><path d="M144.4 224.6l2.4 0.7 2.5-3.3-2.5-0.7z"/></g>
<g fill="#2b64f3"><path d="M141.9 228.1l2.5 0.6 2.4-3.4-2.4-0.7z"/><path d="M139.5 231.6l2.4 0.5 2.5-3.4-2.5-0.6z"/></g>
<g fill="#2352f5"><path d="M137 234.7l2.5 0.5 2.4-3.1-2.4-0.5z"/><path d="M134.6 237.2l2.4 0.5 2.5-2.5-2.5-0.5z"/><path d="M132.1 239.3l2.5 0.4 2.4-2-2.4-0.5z"/><path d="M129.7 242.9l2.4 0.4 2.5-3.6-2.5-0.4z"/></g>
<g fill="#1b40f8"><path d="M127.2 246.7l2.5 0.4 2.4-3.8-2.4-0.4z"/></g>
<g fill="#132efa"><path d="M124.8 251.9l2.4 0.4 2.5-5.2-2.5-0.4z"/><path d="M122.3 254.4l2.5 0.3 2.4-2.4-2.4-0.4z"/></g>
<g fill="#1b40f8"><path d="M254.7 184.1l2.4 0.6 2.5-1.1-2.5-0.4z"/><path d="M252.2 186.7l2.5 0.6 2.4-2.6-2.4-0.6z"/><path d="M249.8 187.1l2.4 0.7 2.5-0.5-2.5-0.6z"/><path d="M247.3 186.2l2.5 0.7 2.4 0.9-2.4-0.7z"/></g>
<g fill="#2352f5"><path d="M244.9 185.4l2.4 0.8 2.5 0.7-2.5-0.7z"/><path d="M242.4 184l2.5 0.9 2.4 1.3-2.4-0.8z"/></g>
<g fill="#2b64f3"><path d="M240 182.6l2.4 1 2.5 1.3-2.5-0.9z"/><path d="M237.5 181.5l2.5 1.1 2.4 1-2.4-1z"/></g>
<g fill="#3277f1"><path d="M235.1 180.8l2.4 1.1 2.5 0.7-2.5-1.1z"/><path d="M232.6 180.2l2.5 1.3 2.4 0.4-2.4-1.1z"/></g>
<g fill="#3a89ef"><path d="M230.2 179.9l2.4 1.3 2.5 0.3-2.5-1.3z"/><path d="M227.7 179.9l2.5 1.4 2.4-0.1-2.4-1.3z"/><path d="M225.3 180.3l2.4 1.4 2.5-0.4-2.5-1.4z"/><path d="M222.8 181l2.5 1.4 2.4-0.7-2.4-1.4z"/><path d="M220.4 181.9l2.4 1.4 2.5-0.9-2.5-1.4z"/><path d="M217.9 183.1l2.5 1.3 2.4-1.1-2.4-1.4z"/><path d="M215.5 184.2l2.4 1.4 2.5-1.2-2.5-1.3z"/><path d="M213 185l2.5 1.3 2.4-0.7-2.4-1.4z"/><path d="M210.6 185.5l2.4 1.4 2.5-0.6-2.5-1.3z"/></g>
<g fill="#3a99ef"><path d="M208.1 185.9l2.5 1.4 2.4-0.4-2.4-1.4z"/><path d="M205.7 185.7l2.4 1.5 2.5 0.1-2.5-1.4z"/><path d="M203.2 185.2l2.5 1.6 2.4 0.4-2.4-1.5z"/></g>
<g fill="#32a6f1"><path d="M200.8 183.8l2.4 1.8 2.5 1.2-2.5-1.6z"/><path d="M198.3 181.7l2.5 2.1 2.4 1.8-2.4-1.8z"/></g>
<g fill="#2bb4f3"><path d="M195.9 178.6l2.4 2.5 2.5 2.7-2.5-2.1z"/></g>
<g fill="#23c2f5"><path d="M193.4 174.6l2.5 3 2.4 3.5-2.4-2.5z"/></g>
<g fill="#1bcff8"><path d="M191 169.8l2.4 3.5 2.5 4.3-2.5-3z"/><path d="M188.5 171.9l2.5 3.6 2.4-2.2-2.4-3.5z"/><path d="M186.1 175.6l2.4 3.2 2.5-3.3-2.5-3.6z"/><path d="M183.6 179.8l2.5 2.9 2.4-3.9-2.4-3.2z"/></g>
<g fill="#23c2f5"><path d="M181.1 183.5l2.5 2.7 2.5-3.5-2.5-2.9z"/></g>
<g fill="#2bb4f3"><path d="M178.7 187.1l2.4 2.4 2.5-3.3-2.5-2.7z"/><path d="M176.2 190.6l2.5 2.2 2.4-3.3-2.4-2.4z"/><path d="M173.8 194.4l2.4 2 2.5-3.6-2.5-2.2z"/></g>
<g fill="#32a6f1"><path d="M171.3 198.3l2.5 1.7 2.4-3.6-2.4-2z"/><path d="M168.9 201.6l2.4 1.6 2.5-3.2-2.5-1.7z"/></g>
<g fill="#3a99ef"><path d="M166.4 204.2l2.5 1.3 2.4-2.3-2.4-1.6z"/><path d="M164 206.9l2.4 1.1 2.5-2.5-2.5-1.3z"/><path d="M161.5 209.4l2.5 1 2.4-2.4-2.4-1.1z"/></g>
<g fill="#3a89ef"><path d="M159.1 211.7l2.4 1 2.5-2.3-2.5-1z"/><path d="M156.6 214l2.5 0.9 2.4-2.2-2.4-1z"/><path d="M154.2 216.3l2.4 0.8 2.5-2.2-2.5-0.9z"/><path d="M151.7 219l2.5 0.7 2.4-2.6-2.4-0.8z"/></g>
<g fill="#3277f1"><path d="M149.3 222l2.4 0.7 2.5-3-2.5-0.7z"/><path d="M146.8 225.3l2.5 0.5 2.4-3.1-2.4-0.7z"/></g>
<g fill="#2b64f3"><path d="M144.4 228.7l2.4 0.5 2.5-3.4-2.5-0.5z"/><path d="M141.9 232.1l2.5 0.3 2.4-3.2-2.4-0.5z"/><path d="M139.5 235.2l2.4 0.3 2.5-3.1-2.5-0.3z"/></g>
<g fill="#2352f5"><path d="M137 237.7l2.5 0.2 2.4-2.4-2.4-0.3z"/><path d="M134.6 239.7l2.4 0.2 2.5-2-2.5-0.2z"/><path d="M132.1 243.3l2.5 0.1 2.4-3.5-2.4-0.2z"/></g>
<g fill="#1b40f8"><path d="M129.7 247.1l2.4 0 2.5-3.7-2.5-0.1z"/></g>
<g fill="#132efa"><path d="M127.2 252.3l2.5 0 2.4-5.2-2.4 0z"/><path d="M124.8 254.7l2.4 0 2.5-2.4-2.5 0z"/></g>
<g fill="#2352f5"><path d="M257.1 184.7l2.5 0.2 2.4-1.1-2.4-0.2z"/></g>
<g fill="#1b40f8"><path d="M254.7 187.3l2.4 0.4 2.5-2.8-2.5-0.2z"/><path d="M252.2 187.8l2.5 0.4 2.4-0.5-2.4-0.4z"/></g>
<g fill="#2352f5"><path d="M249.8 186.9l2.4 0.5 2.5 0.8-2.5-0.4z"/><path d="M247.3 186.2l2.5 0.7 2.4 0.5-2.4-0.5z"/><path d="M244.9 184.9l2.4 0.7 2.5 1.3-2.5-0.7z"/></g>
<g fill="#2b64f3"><path d="M242.4 183.6l2.5 0.9 2.4 1.1-2.4-0.7z"/><path d="M240 182.6l2.4 1 2.5 0.9-2.5-0.9z"/></g>
<g fill="#3277f1"><path d="M237.5 181.9l2.5 1.2 2.4 0.5-2.4-1z"/><path d="M235.1 181.5l2.4 1.2 2.5 0.4-2.5-1.2z"/></g>
<g fill="#3a89ef"><path d="M232.6 181.2l2.5 1.3 2.4 0.2-2.4-1.2z"/><path d="M230.2 181.3l2.4 1.3 2.5-0.1-2.5-1.3z"/><path d="M227.7 181.7l2.5 1.4 2.4-0.5-2.4-1.3z"/><path d="M225.3 182.4l2.4 1.4 2.5-0.7-2.5-1.4z"/><path d="M222.8 183.3l2.5 1.4 2.4-0.9-2.4-1.4z"/><path d="M220.4 184.4l2.4 1.4 2.5-1.1-2.5-1.4z"/><path d="M217.9 185.6l2.5 1.4 2.4-1.2-2.4-1.4z"/><path d="M215.5 186.3l2.4 1.4 2.5-0.7-2.5-1.4z"/><path d="M213 186.9l2.5 1.3 2.4-0.5-2.4-1.4z"/></g>
<g fill="#3a99ef"><path d="M210.6 187.3l2.4 1.4 2.5-0.5-2.5-1.3z"/><path d="M208.1 187.2l2.5 1.5 2.4 0-2.4-1.4z"/><path d="M205.7 186.8l2.4 1.6 2.5 0.3-2.5-1.5z"/><path d="M203.2 185.6l2.5 1.8 2.4 1-2.4-1.6z"/></g>
<g fill="#32a6f1"><path d="M200.8 183.8l2.4 2.1 2.5 1.5-2.5-1.8z"/></g>
<g fill="#2bb4f3"><path d="M198.3 181.1l2.5 2.4 2.4 2.4-2.4-2.1z"/><path d="M195.9 177.6l2.4 2.9 2.5 3-2.5-2.4z"/></g>
<g fill="#23c2f5"><path d="M193.4 173.3l2.5 3.4 2.4 3.8-2.4-2.9z"/></g>
<g fill="#1bcff8"><path d="M191 175.5l2.4 3.3 2.5-2.1-2.5-3.4z"/><path d="M188.5 178.8l2.5 3.1 2.4-3.1-2.4-3.3z"/></g>
<g fill="#23c2f5"><path d="M186.1 182.7l2.4 2.8 2.5-3.6-2.5-3.1z"/><path d="M183.6 186.2l2.5 2.5 2.4-3.2-2.4-2.8z"/></g>
<g fill="#2bb4f3"><path d="M181.1 189.5l2.5 2.3 2.5-3.1-2.5-2.5z"/><path d="M178.7 192.8l2.4 2 2.5-3-2.5-2.3z"/></g>
<g fill="#32a6f1"><path d="M176.2 196.4l2.5 1.8 2.4-3.4-2.4-2z"/><path d="M173.8 200l2.4 1.7 2.5-3.5-2.5-1.8z"/></g>
<g fill="#3a99ef"><path d="M171.3 203.2l2.5 1.5 2.4-3-2.4-1.7z"/><path d="M168.9 205.5l2.4 1.3 2.5-2.1-2.5-1.5z"/><path d="M166.4 208l2.5 1.1 2.4-2.3-2.4-1.3z"/><path d="M164 210.4l2.4 1 2.5-2.3-2.5-1.1z"/></g>
<g fill="#3a89ef"><path d="M161.5 212.7l2.5 0.8 2.4-2.1-2.4-1z"/><path d="M159.1 214.9l2.4 0.7 2.5-2.1-2.5-0.8z"/><path d="M156.6 217.1l2.5 0.7 2.4-2.2-2.4-0.7z"/><path d="M154.2 219.7l2.4 0.6 2.5-2.5-2.5-0.7z"/></g>
<g fill="#3277f1"><path d="M151.7 222.7l2.5 0.4 2.4-2.8-2.4-0.6z"/><path d="M149.3 225.8l2.4 0.3 2.5-3-2.5-0.4z"/><path d="M146.8 229.2l2.5 0.1 2.4-3.2-2.4-0.3z"/></g>
<g fill="#2b64f3"><path d="M144.4 232.4l2.4 0 2.5-3.1-2.5-0.1z"/><path d="M141.9 235.5l2.5-0.2 2.4-2.9-2.4 0z"/></g>
<g fill="#2352f5"><path d="M139.5 237.9l2.4-0.3 2.5-2.3-2.5 0.2z"/><path d="M137 239.9l2.5-0.3 2.4-2-2.4 0.3z"/><path d="M134.6 243.4l2.4-0.4 2.5-3.4-2.5 0.3z"/></g>
<g fill="#1b40f8"><path d="M132.1 247.1l2.5-0.4 2.4-3.7-2.4 0.4z"/><path d="M129.7 252.3l2.4-0.6 2.5-5-2.5 0.4z"/></g>
<g fill="#132efa"><path d="M127.2 254.7l2.5-0.6 2.4-2.4-2.4 0.6z"/></g>
<g fill="#2352f5"><path d="M259.6 184.9l2.4-0.5 2.5-1.3-2.5 0.7z"/><path d="M257.1 187.7l2.5-0.5 2.4-2.8-2.4 0.5z"/><path d="M254.7 188.2l2.4-0.3 2.5-0.7-2.5 0.5z"/><path d="M252.2 187.4l2.5-0.1 2.4 0.6-2.4 0.3z"/><path d="M249.8 186.9l2.4 0 2.5 0.4-2.5 0.1z"/></g>
<g fill="#2b64f3"><path d="M247.3 185.6l2.5 0.3 2.4 1-2.4 0z"/><path d="M244.9 184.5l2.4 0.5 2.5 0.9-2.5-0.3z"/></g>
<g fill="#3277f1"><path d="M242.4 183.6l2.5 0.7 2.4 0.7-2.4-0.5z"/><path d="M240 183.1l2.4 0.8 2.5 0.4-2.5-0.7z"/><path d="M237.5 182.7l2.5 1 2.4 0.2-2.4-0.8z"/></g>
<g fill="#3a89ef"><path d="M235.1 182.5l2.4 1.1 2.5 0.1-2.5-1z"/><path d="M232.6 182.6l2.5 1.2 2.4-0.2-2.4-1.1z"/><path d="M230.2 183.1l2.4 1.2 2.5-0.5-2.5-1.2z"/><path d="M227.7 183.8l2.5 1.3 2.4-0.8-2.4-1.2z"/><path d="M225.3 184.7l2.4 1.3 2.5-0.9-2.5-1.3z"/><path d="M222.8 185.8l2.5 1.4 2.4-1.2-2.4-1.3z"/><path d="M220.4 187l2.4 1.3 2.5-1.1-2.5-1.4z"/><path d="M217.9 187.7l2.5 1.3 2.4-0.7-2.4-1.3z"/><path d="M215.5 188.2l2.4 1.3 2.5-0.5-2.5-1.3z"/><path d="M213 188.7l2.5 1.3 2.4-0.5-2.4-1.3z"/></g>
<g fill="#3a99ef"><path d="M210.6 188.7l2.4 1.4 2.5-0.1-2.5-1.3z"/><path d="M208.1 188.4l2.5 1.6 2.4 0.1-2.4-1.4z"/><path d="M205.7 187.4l2.4 1.7 2.5 0.9-2.5-1.6z"/></g>
<g fill="#32a6f1"><path d="M203.2 185.9l2.5 2 2.4 1.2-2.4-1.7z"/><path d="M200.8 183.5l2.4 2.4 2.5 2-2.5-2z"/></g>
<g fill="#2bb4f3"><path d="M198.3 180.5l2.5 2.8 2.4 2.6-2.4-2.4z"/></g>
<g fill="#23c2f5"><path d="M195.9 176.7l2.4 3.2 2.5 3.4-2.5-2.8z"/></g>
<g fill="#1bcff8"><path d="M193.4 178.8l2.5 3.2 2.4-2.1-2.4-3.2z"/></g>
<g fill="#23c2f5"><path d="M191 181.9l2.4 2.9 2.5-2.8-2.5-3.2z"/><path d="M188.5 185.5l2.5 2.6 2.4-3.3-2.4-2.9z"/></g>
<g fill="#2bb4f3"><path d="M186.1 188.7l2.4 2.5 2.5-3.1-2.5-2.6z"/><path d="M183.6 191.8l2.5 2.2 2.4-2.8-2.4-2.5z"/><path d="M181.1 194.8l2.5 2 2.5-2.8-2.5-2.2z"/></g>
<g fill="#32a6f1"><path d="M178.7 198.2l2.4 1.9 2.5-3.3-2.5-2z"/><path d="M176.2 201.7l2.5 1.6 2.4-3.2-2.4-1.9z"/></g>
<g fill="#3a99ef"><path d="M173.8 204.7l2.4 1.4 2.5-2.8-2.5-1.6z"/><path d="M171.3 206.8l2.5 1.3 2.4-2-2.4-1.4z"/><path d="M168.9 209.1l2.4 1.1 2.5-2.1-2.5-1.3z"/><path d="M166.4 211.4l2.5 0.9 2.4-2.1-2.4-1.1z"/></g>
<g fill="#3a89ef"><path d="M164 213.5l2.4 0.8 2.5-2-2.5-0.9z"/><path d="M161.5 215.6l2.5 0.7 2.4-2-2.4-0.8z"/><path d="M159.1 217.8l2.4 0.6 2.5-2.1-2.5-0.7z"/><path d="M156.6 220.3l2.5 0.4 2.4-2.3-2.4-0.6z"/><path d="M154.2 223.1l2.4 0.3 2.5-2.7-2.5-0.4z"/></g>
<g fill="#3277f1"><path d="M151.7 226.1l2.5 0.1 2.4-2.8-2.4-0.3z"/><path d="M149.3 229.3l2.4-0.1 2.5-3-2.5-0.1z"/></g>
<g fill="#2b64f3"><path d="M146.8 232.4l2.5-0.3 2.4-2.9-2.4 0.1z"/><path d="M144.4 235.3l2.4-0.5 2.5-2.7-2.5 0.3z"/><path d="M141.9 237.6l2.5-0.6 2.4-2.2-2.4 0.5z"/><path d="M139.5 239.6l2.4-0.8 2.5-1.8-2.5 0.6z"/></g>
<g fill="#2352f5"><path d="M137 243l2.5-0.9 2.4-3.3-2.4 0.8z"/><path d="M134.6 246.7l2.4-1.1 2.5-3.5-2.5 0.9z"/></g>
<g fill="#1b40f8"><path d="M132.1 251.7l2.5-1.1 2.4-5-2.4 1.1z"/><path d="M129.7 254.1l2.4-1.2 2.5-2.3-2.5 1.1z"/></g>
<g fill="#2352f5"><path d="M262 184.4l2.5-1 2.4-1.4-2.4 1.1z"/><path d="M259.6 187.2l2.4-0.8 2.5-3-2.5 1z"/><path d="M257.1 187.9l2.5-0.7 2.4-0.8-2.4 0.8z"/><path d="M254.7 187.3l2.4-0.5 2.5 0.4-2.5 0.7z"/><path d="M252.2 186.9l2.5-0.3 2.4 0.2-2.4 0.5z"/></g>
<g fill="#2b64f3"><path d="M249.8 185.9l2.4-0.1 2.5 0.8-2.5 0.3z"/><path d="M247.3 185l2.5 0.2 2.4 0.6-2.4 0.1z"/></g>
<g fill="#3277f1"><path d="M244.9 184.3l2.4 0.4 2.5 0.5-2.5-0.2z"/><path d="M242.4 183.9l2.5 0.6 2.4 0.2-2.4-0.4z"/><path d="M240 183.7l2.4 0.8 2.5 0-2.5-0.6z"/></g>
<g fill="#3a89ef"><path d="M237.5 183.6l2.5 0.9 2.4 0-2.4-0.8z"/><path d="M235.1 183.8l2.4 1.1 2.5-0.4-2.5-0.9z"/><path d="M232.6 184.3l2.5 1.2 2.4-0.6-2.4-1.1z"/><path d="M230.2 185.1l2.4 1.2 2.5-0.8-2.5-1.2z"/><path d="M227.7 186l2.5 1.3 2.4-1-2.4-1.2z"/><path d="M225.3 187.2l2.4 1.2 2.5-1.1-2.5-1.3z"/><path d="M222.8 188.3l2.5 1.3 2.4-1.2-2.4-1.2z"/><path d="M220.4 189l2.4 1.3 2.5-0.7-2.5-1.3z"/><path d="M217.9 189.5l2.5 1.3 2.4-0.5-2.4-1.3z"/><path d="M215.5 190l2.4 1.3 2.5-0.5-2.5-1.3z"/></g>
<g fill="#3a99ef"><path d="M213 190.1l2.5 1.4 2.4-0.2-2.4-1.3z"/><path d="M210.6 190l2.4 1.5 2.5 0-2.5-1.4z"/><path d="M208.1 189.1l2.5 1.7 2.4 0.7-2.4-1.5z"/></g>
<g fill="#32a6f1"><path d="M205.7 187.9l2.4 1.9 2.5 1-2.5-1.7z"/><path d="M203.2 185.9l2.5 2.2 2.4 1.7-2.4-1.9z"/></g>
<g fill="#2bb4f3"><path d="M200.8 183.3l2.4 2.6 2.5 2.2-2.5-2.2z"/></g>
<g fill="#23c2f5"><path d="M198.3 179.9l2.5 3 2.4 3-2.4-2.6z"/><path d="M195.9 182l2.4 3 2.5-2.1-2.5-3z"/><path d="M193.4 184.8l2.5 2.8 2.4-2.6-2.4-3z"/></g>
<g fill="#2bb4f3"><path d="M191 188.1l2.4 2.6 2.5-3.1-2.5-2.8z"/><path d="M188.5 191.2l2.5 2.3 2.4-2.8-2.4-2.6z"/><path d="M186.1 194l2.4 2.2 2.5-2.7-2.5-2.3z"/></g>
<g fill="#32a6f1"><path d="M183.6 196.8l2.5 2 2.4-2.6-2.4-2.2z"/><path d="M181.1 200.1l2.5 1.7 2.5-3-2.5-2z"/><path d="M178.7 203.3l2.4 1.6 2.5-3.1-2.5-1.7z"/></g>
<g fill="#3a99ef"><path d="M176.2 206.1l2.5 1.5 2.4-2.7-2.4-1.6z"/><path d="M173.8 208.1l2.4 1.2 2.5-1.7-2.5-1.5z"/><path d="M171.3 210.2l2.5 1.1 2.4-2-2.4-1.2z"/><path d="M168.9 212.3l2.4 1 2.5-2-2.5-1.1z"/><path d="M166.4 214.3l2.5 0.9 2.4-1.9-2.4-1z"/></g>
<g fill="#3a89ef"><path d="M164 216.3l2.4 0.8 2.5-1.9-2.5-0.9z"/><path d="M161.5 218.4l2.5 0.6 2.4-1.9-2.4-0.8z"/><path d="M159.1 220.7l2.4 0.5 2.5-2.2-2.5-0.6z"/><path d="M156.6 223.4l2.5 0.3 2.4-2.5-2.4-0.5z"/></g>
<g fill="#3277f1"><path d="M154.2 226.2l2.4 0.1 2.5-2.6-2.5-0.3z"/><path d="M151.7 229.2l2.5-0.1 2.4-2.8-2.4-0.1z"/><path d="M149.3 232.1l2.4-0.3 2.5-2.7-2.5 0.1z"/></g>
<g fill="#2b64f3"><path d="M146.8 234.8l2.5-0.5 2.4-2.5-2.4 0.3z"/><path d="M144.4 237l2.4-0.7 2.5-2-2.5 0.5z"/><path d="M141.9 238.8l2.5-0.9 2.4-1.6-2.4 0.7z"/><path d="M139.5 242.1l2.4-1.1 2.5-3.1-2.5 0.9z"/></g>
<g fill="#2352f5"><path d="M137 245.6l2.5-1.1 2.4-3.5-2.4 1.1z"/><path d="M134.6 250.6l2.4-1.3 2.5-4.8-2.5 1.1z"/></g>
<g fill="#1b40f8"><path d="M132.1 252.9l2.5-1.3 2.4-2.3-2.4 1.3z"/></g>
<g fill="#2b64f3"><path d="M264.5 183.4l2.4-1.1 2.5-1.4-2.5 1.1z"/><path d="M262 186.4l2.5-0.9 2.4-3.2-2.4 1.1z"/></g>
<g fill="#2352f5"><path d="M259.6 187.2l2.4-0.7 2.5-1-2.5 0.9z"/></g>
<g fill="#2b64f3"><path d="M257.1 186.8l2.5-0.5 2.4 0.2-2.4 0.7z"/><path d="M254.7 186.6l2.4-0.3 2.5 0-2.5 0.5z"/><path d="M252.2 185.8l2.5 0 2.4 0.5-2.4 0.3z"/></g>
<g fill="#3277f1"><path d="M249.8 185.2l2.4 0.2 2.5 0.4-2.5 0z"/><path d="M247.3 184.7l2.5 0.5 2.4 0.2-2.4-0.2z"/><path d="M244.9 184.5l2.4 0.7 2.5 0-2.5-0.5z"/><path d="M242.4 184.5l2.5 0.8 2.4-0.1-2.4-0.7z"/></g>
<g fill="#3a89ef"><path d="M240 184.5l2.4 1.1 2.5-0.3-2.5-0.8z"/><path d="M237.5 184.9l2.5 1.1 2.4-0.4-2.4-1.1z"/><path d="M235.1 185.5l2.4 1.2 2.5-0.7-2.5-1.1z"/><path d="M232.6 186.3l2.5 1.2 2.4-0.8-2.4-1.2z"/><path d="M230.2 187.3l2.4 1.3 2.5-1.1-2.5-1.2z"/><path d="M227.7 188.4l2.5 1.3 2.4-1.1-2.4-1.3z"/><path d="M225.3 189.6l2.4 1.3 2.5-1.2-2.5-1.3z"/><path d="M222.8 190.3l2.5 1.3 2.4-0.7-2.4-1.3z"/><path d="M220.4 190.8l2.4 1.3 2.5-0.5-2.5-1.3z"/><path d="M217.9 191.3l2.5 1.4 2.4-0.6-2.4-1.3z"/></g>
<g fill="#3a99ef"><path d="M215.5 191.5l2.4 1.5 2.5-0.3-2.5-1.4z"/><path d="M213 191.5l2.5 1.5 2.4 0-2.4-1.5z"/><path d="M210.6 190.8l2.4 1.7 2.5 0.5-2.5-1.5z"/></g>
<g fill="#32a6f1"><path d="M208.1 189.8l2.5 1.8 2.4 0.9-2.4-1.7z"/><path d="M205.7 188.1l2.4 2.1 2.5 1.4-2.5-1.8z"/></g>
<g fill="#2bb4f3"><path d="M203.2 185.9l2.5 2.6 2.4 1.7-2.4-2.1z"/><path d="M200.8 182.9l2.4 2.9 2.5 2.7-2.5-2.6z"/></g>
<g fill="#23c2f5"><path d="M198.3 185l2.5 2.9 2.4-2.1-2.4-2.9z"/><path d="M195.9 187.6l2.4 2.7 2.5-2.4-2.5-2.9z"/></g>
<g fill="#2bb4f3"><path d="M193.4 190.7l2.5 2.4 2.4-2.8-2.4-2.7z"/><path d="M191 193.5l2.4 2.3 2.5-2.7-2.5-2.4z"/><path d="M188.5 196.2l2.5 2 2.4-2.4-2.4-2.3z"/></g>
<g fill="#32a6f1"><path d="M186.1 198.8l2.4 1.9 2.5-2.5-2.5-2z"/><path d="M183.6 201.8l2.5 1.8 2.4-2.9-2.4-1.9z"/><path d="M181.1 204.9l2.5 1.6 2.5-2.9-2.5-1.8z"/></g>
<g fill="#3a99ef"><path d="M178.7 207.6l2.4 1.3 2.5-2.4-2.5-1.6z"/><path d="M176.2 209.3l2.5 1.2 2.4-1.6-2.4-1.3z"/><path d="M173.8 211.3l2.4 1 2.5-1.8-2.5-1.2z"/><path d="M171.3 213.3l2.5 0.9 2.4-1.9-2.4-1z"/><path d="M168.9 215.2l2.4 0.8 2.5-1.8-2.5-0.9z"/></g>
<g fill="#3a89ef"><path d="M166.4 217.1l2.5 0.6 2.4-1.7-2.4-0.8z"/><path d="M164 219l2.4 0.5 2.5-1.8-2.5-0.6z"/><path d="M161.5 221.2l2.5 0.4 2.4-2.1-2.4-0.5z"/><path d="M159.1 223.7l2.4 0.2 2.5-2.3-2.5-0.4z"/><path d="M156.6 226.3l2.5 0 2.4-2.4-2.4-0.2z"/></g>
<g fill="#3277f1"><path d="M154.2 229.1l2.4-0.2 2.5-2.6-2.5 0z"/><path d="M151.7 231.8l2.5-0.5 2.4-2.4-2.4 0.2z"/><path d="M149.3 234.3l2.4-0.8 2.5-2.2-2.5 0.5z"/><path d="M146.8 236.3l2.5-1 2.4-1.8-2.4 0.8z"/></g>
<g fill="#2b64f3"><path d="M144.4 237.9l2.4-1.1 2.5-1.5-2.5 1z"/><path d="M141.9 241l2.5-1.2 2.4-3-2.4 1.1z"/><path d="M139.5 244.5l2.4-1.5 2.5-3.2-2.5 1.2z"/></g>
<g fill="#2352f5"><path d="M137 249.3l2.5-1.5 2.4-4.8-2.4 1.5z"/><path d="M134.6 251.6l2.4-1.6 2.5-2.2-2.5 1.5z"/></g>
<g fill="#2b64f3"><path d="M266.9 182.3l2.5-1.3 2.4-1.5-2.4 1.4z"/><path d="M264.5 185.5l2.4-1.1 2.5-3.4-2.5 1.3z"/><path d="M262 186.5l2.5-1 2.4-1.1-2.4 1.1z"/><path d="M259.6 186.3l2.4-0.7 2.5-0.1-2.5 1z"/><path d="M257.1 186.3l2.5-0.4 2.4-0.3-2.4 0.7z"/><path d="M254.7 185.8l2.4-0.2 2.5 0.3-2.5 0.4z"/></g>
<g fill="#3277f1"><path d="M252.2 185.4l2.5 0.1 2.4 0.1-2.4 0.2z"/><path d="M249.8 185.2l2.4 0.3 2.5 0-2.5-0.1z"/><path d="M247.3 185.2l2.5 0.6 2.4-0.3-2.4-0.3z"/><path d="M244.9 185.3l2.4 0.8 2.5-0.3-2.5-0.6z"/></g>
<g fill="#3a89ef"><path d="M242.4 185.6l2.5 0.9 2.4-0.4-2.4-0.8z"/><path d="M240 186l2.4 1.1 2.5-0.6-2.5-0.9z"/><path d="M237.5 186.7l2.5 1.1 2.4-0.7-2.4-1.1z"/><path d="M235.1 187.5l2.4 1.3 2.5-1-2.5-1.1z"/><path d="M232.6 188.6l2.5 1.2 2.4-1-2.4-1.3z"/><path d="M230.2 189.7l2.4 1.3 2.5-1.2-2.5-1.2z"/><path d="M227.7 190.9l2.5 1.3 2.4-1.2-2.4-1.3z"/><path d="M225.3 191.6l2.4 1.3 2.5-0.7-2.5-1.3z"/><path d="M222.8 192.1l2.5 1.3 2.4-0.5-2.4-1.3z"/><path d="M220.4 192.7l2.4 1.3 2.5-0.6-2.5-1.3z"/></g>
<g fill="#3a99ef"><path d="M217.9 193l2.5 1.4 2.4-0.4-2.4-1.3z"/><path d="M215.5 193l2.4 1.5 2.5-0.1-2.5-1.4z"/><path d="M213 192.5l2.5 1.6 2.4 0.4-2.4-1.5z"/><path d="M210.6 191.6l2.4 1.9 2.5 0.6-2.5-1.6z"/></g>
<g fill="#32a6f1"><path d="M208.1 190.2l2.5 2.1 2.4 1.2-2.4-1.9z"/><path d="M205.7 188.5l2.4 2.4 2.5 1.4-2.5-2.1z"/></g>
<g fill="#2bb4f3"><path d="M203.2 185.8l2.5 2.8 2.4 2.3-2.4-2.4z"/><path d="M200.8 187.9l2.4 2.8 2.5-2.1-2.5-2.8z"/><path d="M198.3 190.3l2.5 2.5 2.4-2.1-2.4-2.8z"/><path d="M195.9 193.1l2.4 2.4 2.5-2.7-2.5-2.5z"/><path d="M193.4 195.8l2.5 2.1 2.4-2.4-2.4-2.4z"/></g>
<g fill="#32a6f1"><path d="M191 198.2l2.4 2 2.5-2.3-2.5-2.1z"/><path d="M188.5 200.7l2.5 1.9 2.4-2.4-2.4-2z"/><path d="M186.1 203.6l2.4 1.6 2.5-2.6-2.5-1.9z"/></g>
<g fill="#3a99ef"><path d="M183.6 206.5l2.5 1.5 2.4-2.8-2.4-1.6z"/><path d="M181.1 208.9l2.5 1.4 2.5-2.3-2.5-1.5z"/><path d="M178.7 210.5l2.4 1.2 2.5-1.4-2.5-1.4z"/><path d="M176.2 212.3l2.5 1 2.4-1.6-2.4-1.2z"/><path d="M173.8 214.2l2.4 0.9 2.5-1.8-2.5-1z"/><path d="M171.3 216l2.5 0.7 2.4-1.6-2.4-0.9z"/><path d="M168.9 217.7l2.4 0.7 2.5-1.7-2.5-0.7z"/></g>
<g fill="#3a89ef"><path d="M166.4 219.5l2.5 0.5 2.4-1.6-2.4-0.7z"/><path d="M164 221.6l2.4 0.3 2.5-1.9-2.5-0.5z"/><path d="M161.5 223.9l2.5 0.1 2.4-2.1-2.4-0.3z"/><path d="M159.1 226.3l2.4-0.1 2.5-2.2-2.5-0.1z"/><path d="M156.6 228.9l2.5-0.4 2.4-2.3-2.4 0.1z"/></g>
<g fill="#3277f1"><path d="M154.2 231.3l2.4-0.6 2.5-2.2-2.5 0.4z"/><path d="M151.7 233.5l2.5-0.8 2.4-2-2.4 0.6z"/><path d="M149.3 235.3l2.4-1 2.5-1.6-2.5 0.8z"/><path d="M146.8 236.8l2.5-1.2 2.4-1.3-2.4 1z"/><path d="M144.4 239.8l2.4-1.4 2.5-2.8-2.5 1.2z"/></g>
<g fill="#2b64f3"><path d="M141.9 243l2.5-1.5 2.4-3.1-2.4 1.4z"/><path d="M139.5 247.8l2.4-1.7 2.5-4.6-2.5 1.5z"/></g>
<g fill="#2352f5"><path d="M137 250l2.5-1.8 2.4-2.1-2.4 1.7z"/></g>
<g fill="#3277f1"><path d="M269.4 181l2.4-1.4 2.5-1.7-2.5 1.6z"/></g>
<g fill="#2b64f3"><path d="M266.9 184.4l2.5-1.3 2.4-3.5-2.4 1.4z"/><path d="M264.5 185.5l2.4-1.1 2.5-1.3-2.5 1.3z"/><path d="M262 185.6l2.5-0.9 2.4-0.3-2.4 1.1z"/></g>
<g fill="#3277f1"><path d="M259.6 185.9l2.4-0.6 2.5-0.6-2.5 0.9z"/><path d="M257.1 185.6l2.5-0.3 2.4 0-2.4 0.6z"/><path d="M254.7 185.5l2.4-0.1 2.5-0.1-2.5 0.3z"/><path d="M252.2 185.5l2.5 0.3 2.4-0.4-2.4 0.1z"/><path d="M249.8 185.8l2.4 0.5 2.5-0.5-2.5-0.3z"/></g>
<g fill="#3a89ef"><path d="M247.3 186.1l2.5 0.7 2.4-0.5-2.4-0.5z"/><path d="M244.9 186.5l2.4 0.9 2.5-0.6-2.5-0.7z"/><path d="M242.4 187.1l2.5 1 2.4-0.7-2.4-0.9z"/><path d="M240 187.8l2.4 1.2 2.5-0.9-2.5-1z"/><path d="M237.5 188.8l2.5 1.2 2.4-1-2.4-1.2z"/><path d="M235.1 189.8l2.4 1.3 2.5-1.1-2.5-1.2z"/><path d="M232.6 191l2.5 1.3 2.4-1.2-2.4-1.3z"/><path d="M230.2 192.2l2.4 1.3 2.5-1.2-2.5-1.3z"/><path d="M227.7 192.9l2.5 1.2 2.4-0.6-2.4-1.3z"/><path d="M225.3 193.4l2.4 1.2 2.5-0.5-2.5-1.2z"/><path d="M222.8 194l2.5 1.3 2.4-0.7-2.4-1.2z"/></g>
<g fill="#3a99ef"><path d="M220.4 194.4l2.4 1.3 2.5-0.4-2.5-1.3z"/><path d="M217.9 194.5l2.5 1.4 2.4-0.2-2.4-1.3z"/><path d="M215.5 194.1l2.4 1.6 2.5 0.2-2.5-1.4z"/><path d="M213 193.5l2.5 1.7 2.4 0.5-2.4-1.6z"/></g>
<g fill="#32a6f1"><path d="M210.6 192.3l2.4 2.1 2.5 0.8-2.5-1.7z"/><path d="M208.1 190.9l2.5 2.4 2.4 1.1-2.4-2.1z"/></g>
<g fill="#2bb4f3"><path d="M205.7 188.6l2.4 2.7 2.5 2-2.5-2.4z"/><path d="M203.2 190.7l2.5 2.6 2.4-2-2.4-2.7z"/><path d="M200.8 192.8l2.4 2.5 2.5-2-2.5-2.6z"/><path d="M198.3 195.5l2.5 2.2 2.4-2.4-2.4-2.5z"/></g>
<g fill="#32a6f1"><path d="M195.9 197.9l2.4 2.1 2.5-2.3-2.5-2.2z"/><path d="M193.4 200.2l2.5 2 2.4-2.2-2.4-2.1z"/><path d="M191 202.6l2.4 1.7 2.5-2.1-2.5-2z"/><path d="M188.5 205.2l2.5 1.7 2.4-2.6-2.4-1.7z"/></g>
<g fill="#3a99ef"><path d="M186.1 208l2.4 1.5 2.5-2.6-2.5-1.7z"/><path d="M183.6 210.3l2.5 1.4 2.4-2.2-2.4-1.5z"/><path d="M181.1 211.7l2.5 1.2 2.5-1.2-2.5-1.4z"/><path d="M178.7 213.3l2.4 1.1 2.5-1.5-2.5-1.2z"/><path d="M176.2 215.1l2.5 0.9 2.4-1.6-2.4-1.1z"/><path d="M173.8 216.7l2.4 0.8 2.5-1.5-2.5-0.9z"/><path d="M171.3 218.4l2.5 0.6 2.4-1.5-2.4-0.8z"/><path d="M168.9 220l2.4 0.5 2.5-1.5-2.5-0.6z"/></g>
<g fill="#3a89ef"><path d="M166.4 221.9l2.5 0.4 2.4-1.8-2.4-0.5z"/><path d="M164 224l2.4 0.1 2.5-1.8-2.5-0.4z"/><path d="M161.5 226.2l2.5-0.1 2.4-2-2.4-0.1z"/><path d="M159.1 228.5l2.4-0.3 2.5-2.1-2.5 0.1z"/><path d="M156.6 230.7l2.5-0.6 2.4-1.9-2.4 0.3z"/><path d="M154.2 232.7l2.4-0.9 2.5-1.7-2.5 0.6z"/></g>
<g fill="#3277f1"><path d="M151.7 234.3l2.5-1.1 2.4-1.4-2.4 0.9z"/><path d="M149.3 235.6l2.4-1.3 2.5-1.1-2.5 1.1z"/><path d="M146.8 238.4l2.5-1.5 2.4-2.6-2.4 1.3z"/><path d="M144.4 241.5l2.4-1.7 2.5-2.9-2.5 1.5z"/></g>
<g fill="#2b64f3"><path d="M141.9 246.1l2.5-1.8 2.4-4.5-2.4 1.7z"/><path d="M139.5 248.2l2.4-1.8 2.5-2.1-2.5 1.8z"/></g>
<g fill="#3277f1"><path d="M271.8 179.6l2.5-1.5 2.4-1.8-2.4 1.6z"/><path d="M269.4 183.1l2.4-1.4 2.5-3.6-2.5 1.5z"/><path d="M266.9 184.4l2.5-1.2 2.4-1.5-2.4 1.4z"/><path d="M264.5 184.7l2.4-0.9 2.5-0.6-2.5 1.2z"/><path d="M262 185.3l2.5-0.6 2.4-0.9-2.4 0.9z"/><path d="M259.6 185.3l2.4-0.3 2.5-0.3-2.5 0.6z"/><path d="M257.1 185.4l2.5 0 2.4-0.4-2.4 0.3z"/><path d="M254.7 185.8l2.4 0.2 2.5-0.6-2.5 0z"/></g>
<g fill="#3a89ef"><path d="M252.2 186.3l2.5 0.5 2.4-0.8-2.4-0.2z"/><path d="M249.8 186.8l2.4 0.8 2.5-0.8-2.5-0.5z"/><path d="M247.3 187.4l2.5 0.9 2.4-0.7-2.4-0.8z"/><path d="M244.9 188.1l2.4 1 2.5-0.8-2.5-0.9z"/><path d="M242.4 189l2.5 1.1 2.4-1-2.4-1z"/><path d="M240 190l2.4 1.2 2.5-1.1-2.5-1.1z"/><path d="M237.5 191.1l2.5 1.2 2.4-1.1-2.4-1.2z"/><path d="M235.1 192.3l2.4 1.3 2.5-1.3-2.5-1.2z"/><path d="M232.6 193.5l2.5 1.3 2.4-1.2-2.4-1.3z"/><path d="M230.2 194.1l2.4 1.3 2.5-0.6-2.5-1.3z"/><path d="M227.7 194.6l2.5 1.3 2.4-0.5-2.4-1.3z"/><path d="M225.3 195.3l2.4 1.3 2.5-0.7-2.5-1.3z"/><path d="M222.8 195.7l2.5 1.4 2.4-0.5-2.4-1.3z"/></g>
<g fill="#3a99ef"><path d="M220.4 195.9l2.4 1.5 2.5-0.3-2.5-1.4z"/><path d="M217.9 195.7l2.5 1.6 2.4 0.1-2.4-1.5z"/><path d="M215.5 195.2l2.4 1.8 2.5 0.3-2.5-1.6z"/></g>
<g fill="#32a6f1"><path d="M213 194.4l2.5 1.9 2.4 0.7-2.4-1.8z"/><path d="M210.6 193.3l2.4 2.3 2.5 0.7-2.5-1.9z"/></g>
<g fill="#2bb4f3"><path d="M208.1 191.3l2.5 2.5 2.4 1.8-2.4-2.3z"/><path d="M205.7 193.3l2.4 2.6 2.5-2.1-2.5-2.5z"/><path d="M203.2 195.3l2.5 2.4 2.4-1.8-2.4-2.6z"/></g>
<g fill="#32a6f1"><path d="M200.8 197.7l2.4 2.2 2.5-2.2-2.5-2.4z"/><path d="M198.3 200l2.5 2 2.4-2.1-2.4-2.2z"/><path d="M195.9 202.2l2.4 1.9 2.5-2.1-2.5-2z"/><path d="M193.4 204.3l2.5 1.8 2.4-2-2.4-1.9z"/><path d="M191 206.9l2.4 1.6 2.5-2.4-2.5-1.8z"/></g>
<g fill="#3a99ef"><path d="M188.5 209.5l2.5 1.4 2.4-2.4-2.4-1.6z"/><path d="M186.1 211.7l2.4 1.3 2.5-2.1-2.5-1.4z"/><path d="M183.6 212.9l2.5 1.2 2.4-1.1-2.4-1.3z"/><path d="M181.1 214.4l2.5 1 2.5-1.3-2.5-1.2z"/><path d="M178.7 216l2.4 0.9 2.5-1.5-2.5-1z"/><path d="M176.2 217.5l2.5 0.8 2.4-1.4-2.4-0.9z"/><path d="M173.8 219l2.4 0.6 2.5-1.3-2.5-0.8z"/><path d="M171.3 220.5l2.5 0.5 2.4-1.4-2.4-0.6z"/><path d="M168.9 222.3l2.4 0.2 2.5-1.5-2.5-0.5z"/><path d="M166.4 224.1l2.5 0.1 2.4-1.7-2.4-0.2z"/></g>
<g fill="#3a89ef"><path d="M164 226.1l2.4-0.2 2.5-1.7-2.5-0.1z"/><path d="M161.5 228.2l2.5-0.5 2.4-1.8-2.4 0.2z"/><path d="M159.1 230.1l2.4-0.7 2.5-1.7-2.5 0.5z"/><path d="M156.6 231.8l2.5-0.9 2.4-1.5-2.4 0.7z"/><path d="M154.2 233.2l2.4-1.2 2.5-1.1-2.5 0.9z"/><path d="M151.7 234.3l2.5-1.4 2.4-0.9-2.4 1.2z"/><path d="M149.3 236.9l2.4-1.6 2.5-2.4-2.5 1.4z"/><path d="M146.8 239.8l2.5-1.8 2.4-2.7-2.4 1.6z"/></g>
<g fill="#3277f1"><path d="M144.4 244.3l2.4-1.9 2.5-4.4-2.5 1.8z"/><path d="M141.9 246.4l2.5-2 2.4-2-2.4 1.9z"/></g>
<g fill="#3a89ef"><path d="M274.3 178.1l2.4-1.6 2.5-1.9-2.5 1.7z"/><path d="M271.8 181.7l2.5-1.4 2.4-3.8-2.4 1.6z"/></g>
<g fill="#3277f1"><path d="M269.4 183.2l2.4-1.1 2.5-1.8-2.5 1.4z"/><path d="M266.9 183.8l2.5-0.9 2.4-0.8-2.4 1.1z"/><path d="M264.5 184.7l2.4-0.7 2.5-1.1-2.5 0.9z"/><path d="M262 185l2.5-0.4 2.4-0.6-2.4 0.7z"/></g>
<g fill="#3a89ef"><path d="M259.6 185.4l2.4 0 2.5-0.8-2.5 0.4z"/><path d="M257.1 186l2.5 0.3 2.4-0.9-2.4 0z"/><path d="M254.7 186.8l2.4 0.6 2.5-1.1-2.5-0.3z"/><path d="M252.2 187.6l2.5 0.7 2.4-0.9-2.4-0.6z"/><path d="M249.8 188.3l2.4 0.9 2.5-0.9-2.5-0.7z"/><path d="M247.3 189.1l2.5 1.1 2.4-1-2.4-0.9z"/><path d="M244.9 190.1l2.4 1.2 2.5-1.1-2.5-1.1z"/><path d="M242.4 191.2l2.5 1.2 2.4-1.1-2.4-1.2z"/><path d="M240 192.3l2.4 1.4 2.5-1.3-2.5-1.2z"/><path d="M237.5 193.6l2.5 1.3 2.4-1.2-2.4-1.4z"/><path d="M235.1 194.8l2.4 1.3 2.5-1.2-2.5-1.3z"/><path d="M232.6 195.4l2.5 1.3 2.4-0.6-2.4-1.3z"/><path d="M230.2 195.9l2.4 1.3 2.5-0.5-2.5-1.3z"/><path d="M227.7 196.6l2.5 1.3 2.4-0.7-2.4-1.3z"/><path d="M225.3 197.1l2.4 1.4 2.5-0.6-2.5-1.3z"/></g>
<g fill="#3a99ef"><path d="M222.8 197.4l2.5 1.5 2.4-0.4-2.4-1.4z"/><path d="M220.4 197.3l2.4 1.6 2.5 0-2.5-1.5z"/><path d="M217.9 197l2.5 1.7 2.4 0.2-2.4-1.6z"/><path d="M215.5 196.3l2.4 2 2.5 0.4-2.5-1.7z"/></g>
<g fill="#32a6f1"><path d="M213 195.6l2.5 2.2 2.4 0.5-2.4-2z"/><path d="M210.6 193.8l2.4 2.5 2.5 1.5-2.5-2.2z"/><path d="M208.1 195.9l2.5 2.4 2.4-2-2.4-2.5z"/><path d="M205.7 197.7l2.4 2.2 2.5-1.6-2.5-2.4z"/><path d="M203.2 199.9l2.5 2.1 2.4-2.1-2.4-2.2z"/><path d="M200.8 202l2.4 2 2.5-2-2.5-2.1z"/><path d="M198.3 204.1l2.5 1.8 2.4-1.9-2.4-2z"/><path d="M195.9 206.1l2.4 1.6 2.5-1.8-2.5-1.8z"/></g>
<g fill="#3a99ef"><path d="M193.4 208.5l2.5 1.5 2.4-2.3-2.4-1.6z"/><path d="M191 210.9l2.4 1.4 2.5-2.3-2.5-1.5z"/><path d="M188.5 213l2.5 1.2 2.4-1.9-2.4-1.4z"/><path d="M186.1 214.1l2.4 1.1 2.5-1-2.5-1.2z"/><path d="M183.6 215.4l2.5 0.9 2.4-1.1-2.4-1.1z"/><path d="M181.1 216.9l2.5 0.8 2.5-1.4-2.5-0.9z"/><path d="M178.7 218.3l2.4 0.6 2.5-1.2-2.5-0.8z"/><path d="M176.2 219.6l2.5 0.6 2.4-1.3-2.4-0.6z"/><path d="M173.8 221l2.4 0.4 2.5-1.2-2.5-0.6z"/><path d="M171.3 222.5l2.5 0.2 2.4-1.3-2.4-0.4z"/><path d="M168.9 224.2l2.4 0 2.5-1.5-2.5-0.2z"/><path d="M166.4 225.9l2.5-0.3 2.4-1.4-2.4 0z"/><path d="M164 227.7l2.4-0.6 2.5-1.5-2.5 0.3z"/></g>
<g fill="#3a89ef"><path d="M161.5 229.4l2.5-0.9 2.4-1.4-2.4 0.6z"/><path d="M159.1 230.9l2.4-1.2 2.5-1.2-2.5 0.9z"/><path d="M156.6 232l2.5-1.4 2.4-0.9-2.4 1.2z"/><path d="M154.2 232.9l2.4-1.6 2.5-0.7-2.5 1.4z"/><path d="M151.7 235.3l2.5-1.9 2.4-2.1-2.4 1.6z"/><path d="M149.3 238l2.4-2 2.5-2.6-2.5 1.9z"/><path d="M146.8 242.4l2.5-2.2 2.4-4.2-2.4 2z"/></g>
<g fill="#3277f1"><path d="M144.4 244.4l2.4-2.3 2.5-1.9-2.5 2.2z"/></g>
<g fill="#3a99ef"><path d="M276.7 176.5l2.5-1.6 2.4-2.1-2.4 1.8z"/></g>
<g fill="#3a89ef"><path d="M274.3 180.3l2.4-1.5 2.5-3.9-2.5 1.6z"/><path d="M271.8 182.1l2.5-1.3 2.4-2-2.4 1.5z"/><path d="M269.4 182.9l2.4-1 2.5-1.1-2.5 1.3z"/><path d="M266.9 184l2.5-0.6 2.4-1.5-2.4 1z"/><path d="M264.5 184.6l2.4-0.3 2.5-0.9-2.5 0.6z"/><path d="M262 185.4l2.5 0 2.4-1.1-2.4 0.3z"/><path d="M259.6 186.3l2.4 0.4 2.5-1.3-2.5 0z"/><path d="M257.1 187.4l2.5 0.6 2.4-1.3-2.4-0.4z"/><path d="M254.7 188.3l2.4 0.9 2.5-1.2-2.5-0.6z"/><path d="M252.2 189.2l2.5 1.1 2.4-1.1-2.4-0.9z"/><path d="M249.8 190.2l2.4 1.2 2.5-1.1-2.5-1.1z"/><path d="M247.3 191.3l2.5 1.3 2.4-1.2-2.4-1.2z"/><path d="M244.9 192.4l2.4 1.4 2.5-1.2-2.5-1.3z"/><path d="M242.4 193.7l2.5 1.4 2.4-1.3-2.4-1.4z"/><path d="M240 194.9l2.4 1.5 2.5-1.3-2.5-1.4z"/><path d="M237.5 196.1l2.5 1.4 2.4-1.1-2.4-1.5z"/><path d="M235.1 196.7l2.4 1.5 2.5-0.7-2.5-1.4z"/><path d="M232.6 197.2l2.5 1.4 2.4-0.4-2.4-1.5z"/><path d="M230.2 197.9l2.4 1.5 2.5-0.8-2.5-1.4z"/><path d="M227.7 198.5l2.5 1.5 2.4-0.6-2.4-1.5z"/></g>
<g fill="#3a99ef"><path d="M225.3 198.9l2.4 1.5 2.5-0.4-2.5-1.5z"/><path d="M222.8 198.9l2.5 1.6 2.4-0.1-2.4-1.5z"/><path d="M220.4 198.7l2.4 1.8 2.5 0-2.5-1.6z"/><path d="M217.9 198.3l2.5 2 2.4 0.2-2.4-1.8z"/></g>
<g fill="#32a6f1"><path d="M215.5 197.8l2.4 2.2 2.5 0.3-2.5-2z"/><path d="M213 196.3l2.5 2.5 2.4 1.2-2.4-2.2z"/><path d="M210.6 198.3l2.4 2.5 2.5-2-2.5-2.5z"/><path d="M208.1 199.9l2.5 2.3 2.4-1.4-2.4-2.5z"/><path d="M205.7 202l2.4 2.1 2.5-1.9-2.5-2.3z"/><path d="M203.2 204l2.5 1.9 2.4-1.8-2.4-2.1z"/><path d="M200.8 205.9l2.4 1.7 2.5-1.7-2.5-1.9z"/><path d="M198.3 207.7l2.5 1.6 2.4-1.7-2.4-1.7z"/></g>
<g fill="#3a99ef"><path d="M195.9 210l2.4 1.5 2.5-2.2-2.5-1.6z"/><path d="M193.4 212.3l2.5 1.3 2.4-2.1-2.4-1.5z"/><path d="M191 214.2l2.4 1.2 2.5-1.8-2.5-1.3z"/><path d="M188.5 215.2l2.5 0.9 2.4-0.7-2.4-1.2z"/><path d="M186.1 216.3l2.4 0.8 2.5-1-2.5-0.9z"/><path d="M183.6 217.7l2.5 0.6 2.4-1.2-2.4-0.8z"/><path d="M181.1 218.9l2.5 0.5 2.5-1.1-2.5-0.6z"/><path d="M178.7 220.2l2.4 0.3 2.5-1.1-2.5-0.5z"/><path d="M176.2 221.4l2.5 0.1 2.4-1-2.4-0.3z"/><path d="M173.8 222.7l2.4-0.1 2.5-1.1-2.5-0.1z"/><path d="M171.3 224.2l2.5-0.4 2.4-1.2-2.4 0.1z"/><path d="M168.9 225.6l2.4-0.6 2.5-1.2-2.5 0.4z"/><path d="M166.4 227.1l2.5-0.9 2.4-1.2-2.4 0.6z"/><path d="M164 228.5l2.4-1.3 2.5-1-2.5 0.9z"/><path d="M161.5 229.7l2.5-1.7 2.4-0.8-2.4 1.3z"/><path d="M159.1 230.6l2.4-1.9 2.5-0.7-2.5 1.7z"/><path d="M156.6 231.3l2.5-2.2 2.4-0.4-2.4 1.9z"/><path d="M154.2 233.4l2.4-2.4 2.5-1.9-2.5 2.2z"/><path d="M151.7 236l2.5-2.7 2.4-2.3-2.4 2.4z"/></g>
<g fill="#3a89ef"><path d="M149.3 240.2l2.4-2.9 2.5-4-2.5 2.7z"/><path d="M146.8 242.1l2.5-2.9 2.4-1.9-2.4 2.9z"/></g>
<g fill="#3a99ef"><path d="M279.2 174.9l2.4-1.1 2.5-2.8-2.5 1.8z"/><path d="M276.7 178.8l2.5-0.6 2.4-4.4-2.4 1.1z"/></g>
<g fill="#3a89ef"><path d="M274.3 180.8l2.4 0 2.5-2.6-2.5 0.6z"/><path d="M271.8 181.9l2.5 0.6 2.4-1.7-2.4 0z"/><path d="M269.4 183.4l2.4 0.8 2.5-1.7-2.5-0.6z"/><path d="M266.9 184.3l2.5 1.1 2.4-1.2-2.4-0.8z"/><path d="M264.5 185.4l2.4 1.2 2.5-1.2-2.5-1.1z"/><path d="M262 186.7l2.5 1.3 2.4-1.4-2.4-1.2z"/><path d="M259.6 188l2.4 1.4 2.5-1.4-2.5-1.3z"/><path d="M257.1 189.2l2.5 1.4 2.4-1.2-2.4-1.4z"/><path d="M254.7 190.3l2.4 1.4 2.5-1.1-2.5-1.4z"/><path d="M252.2 191.4l2.5 1.5 2.4-1.2-2.4-1.4z"/><path d="M249.8 192.6l2.4 1.5 2.5-1.2-2.5-1.5z"/><path d="M247.3 193.8l2.5 1.5 2.4-1.2-2.4-1.5z"/><path d="M244.9 195.1l2.4 1.4 2.5-1.2-2.5-1.5z"/><path d="M242.4 196.4l2.5 1.3 2.4-1.2-2.4-1.4z"/><path d="M240 197.5l2.4 1.4 2.5-1.2-2.5-1.3z"/><path d="M237.5 198.2l2.5 1.3 2.4-0.6-2.4-1.4z"/><path d="M235.1 198.6l2.4 1.3 2.5-0.4-2.5-1.3z"/><path d="M232.6 199.4l2.5 1.3 2.4-0.8-2.4-1.3z"/><path d="M230.2 200l2.4 1.4 2.5-0.7-2.5-1.3z"/><path d="M227.7 200.4l2.5 1.5 2.4-0.5-2.4-1.4z"/></g>
<g fill="#3a99ef"><path d="M225.3 200.5l2.4 1.6 2.5-0.2-2.5-1.5z"/><path d="M222.8 200.5l2.5 1.7 2.4-0.1-2.4-1.6z"/><path d="M220.4 200.3l2.4 1.9 2.5 0-2.5-1.7z"/><path d="M217.9 200l2.5 2.3 2.4-0.1-2.4-1.9z"/></g>
<g fill="#32a6f1"><path d="M215.5 198.8l2.4 2.6 2.5 0.9-2.5-2.3z"/><path d="M213 200.8l2.5 2.6 2.4-2-2.4-2.6z"/><path d="M210.6 202.2l2.4 2.4 2.5-1.2-2.5-2.6z"/><path d="M208.1 204.1l2.5 2.2 2.4-1.7-2.4-2.4z"/><path d="M205.7 205.9l2.4 2.1 2.5-1.7-2.5-2.2z"/><path d="M203.2 207.6l2.5 1.9 2.4-1.5-2.4-2.1z"/></g>
<g fill="#3a99ef"><path d="M200.8 209.3l2.4 1.8 2.5-1.6-2.5-1.9z"/><path d="M198.3 211.5l2.5 1.6 2.4-2-2.4-1.8z"/><path d="M195.9 213.6l2.4 1.5 2.5-2-2.5-1.6z"/><path d="M193.4 215.4l2.5 1.3 2.4-1.6-2.4-1.5z"/><path d="M191 216.1l2.4 1.3 2.5-0.7-2.5-1.3z"/><path d="M188.5 217.1l2.5 1.2 2.4-0.9-2.4-1.3z"/><path d="M186.1 218.3l2.4 1.1 2.5-1.1-2.5-1.2z"/><path d="M183.6 219.4l2.5 1.1 2.4-1.1-2.4-1.1z"/><path d="M181.1 220.5l2.5 1 2.5-1-2.5-1.1z"/><path d="M178.7 221.5l2.4 1 2.5-1-2.5-1z"/><path d="M176.2 222.6l2.5 1 2.4-1.1-2.4-1z"/><path d="M173.8 223.8l2.4 0.9 2.5-1.1-2.5-1z"/><path d="M171.3 225l2.5 0.8 2.4-1.1-2.4-0.9z"/><path d="M168.9 226.2l2.4 0.7 2.5-1.1-2.5-0.8z"/><path d="M166.4 227.2l2.5 0.6 2.4-0.9-2.4-0.7z"/><path d="M164 228l2.4 0.6 2.5-0.8-2.5-0.6z"/><path d="M161.5 228.7l2.5 0.3 2.4-0.4-2.4-0.6z"/></g>
<g fill="#32a6f1"><path d="M159.1 229.1l2.4 0.1 2.5-0.2-2.5-0.3z"/><path d="M156.6 231l2.5-0.3 2.4-1.5-2.4-0.1z"/></g>
<g fill="#3a99ef"><path d="M154.2 233.3l2.4-0.7 2.5-1.9-2.5 0.3z"/><path d="M151.7 237.3l2.5-1.4 2.4-3.3-2.4 0.7z"/><path d="M149.3 239.2l2.4-1.9 2.5-1.4-2.5 1.4z"/></g>
<g fill="#32a6f1"><path d="M281.6 173.8l2.5-1.2 2.4-3.4-2.4 1.8z"/></g>
<g fill="#3a99ef"><path d="M279.2 178.2l2.4-0.7 2.5-4.9-2.5 1.2z"/><path d="M276.7 180.8l2.5-0.1 2.4-3.2-2.4 0.7z"/></g>
<g fill="#3a89ef"><path d="M274.3 182.5l2.4 0.4 2.5-2.2-2.5 0.1z"/><path d="M271.8 184.2l2.5 0.7 2.4-2-2.4-0.4z"/><path d="M269.4 185.4l2.4 0.9 2.5-1.4-2.5-0.7z"/><path d="M266.9 186.6l2.5 1.1 2.4-1.4-2.4-0.9z"/><path d="M264.5 188l2.4 1.1 2.5-1.4-2.5-1.1z"/><path d="M262 189.4l2.5 1.2 2.4-1.5-2.4-1.1z"/><path d="M259.6 190.6l2.4 1.2 2.5-1.2-2.5-1.2z"/><path d="M257.1 191.7l2.5 1.3 2.4-1.2-2.4-1.2z"/><path d="M254.7 192.9l2.4 1.2 2.5-1.1-2.5-1.3z"/><path d="M252.2 194.1l2.5 1.2 2.4-1.2-2.4-1.2z"/><path d="M249.8 195.3l2.4 1.2 2.5-1.2-2.5-1.2z"/><path d="M247.3 196.5l2.5 1.3 2.4-1.3-2.4-1.2z"/><path d="M244.9 197.7l2.4 1.3 2.5-1.2-2.5-1.3z"/><path d="M242.4 198.9l2.5 1.3 2.4-1.2-2.4-1.3z"/><path d="M240 199.5l2.4 1.3 2.5-0.6-2.5-1.3z"/><path d="M237.5 199.9l2.5 1.3 2.4-0.4-2.4-1.3z"/><path d="M235.1 200.7l2.4 1.3 2.5-0.8-2.5-1.3z"/><path d="M232.6 201.4l2.5 1.3 2.4-0.7-2.4-1.3z"/><path d="M230.2 201.9l2.4 1.4 2.5-0.6-2.5-1.3z"/></g>
<g fill="#3a99ef"><path d="M227.7 202.1l2.5 1.5 2.4-0.3-2.4-1.4z"/><path d="M225.3 202.2l2.4 1.8 2.5-0.4-2.5-1.5z"/><path d="M222.8 202.2l2.5 2 2.4-0.2-2.4-1.8z"/><path d="M220.4 202.3l2.4 2.3 2.5-0.4-2.5-2z"/></g>
<g fill="#32a6f1"><path d="M217.9 201.4l2.5 2.6 2.4 0.6-2.4-2.3z"/><path d="M215.5 203.4l2.4 2.5 2.5-1.9-2.5-2.6z"/><path d="M213 204.6l2.5 2.4 2.4-1.1-2.4-2.5z"/><path d="M210.6 206.3l2.4 2.1 2.5-1.4-2.5-2.4z"/></g>
<g fill="#3a99ef"><path d="M208.1 208l2.5 2 2.4-1.6-2.4-2.1z"/><path d="M205.7 209.5l2.4 1.9 2.5-1.4-2.5-2z"/><path d="M203.2 211.1l2.5 1.8 2.4-1.5-2.4-1.9z"/><path d="M200.8 213.1l2.4 1.6 2.5-1.8-2.5-1.8z"/><path d="M198.3 215.1l2.5 1.6 2.4-2-2.4-1.6z"/><path d="M195.9 216.7l2.4 1.5 2.5-1.5-2.5-1.6z"/><path d="M193.4 217.4l2.5 1.3 2.4-0.5-2.4-1.5z"/><path d="M191 218.3l2.4 1.2 2.5-0.8-2.5-1.3z"/><path d="M188.5 219.4l2.5 1.2 2.4-1.1-2.4-1.2z"/><path d="M186.1 220.5l2.4 1.1 2.5-1-2.5-1.2z"/><path d="M183.6 221.5l2.5 1.1 2.4-1-2.4-1.1z"/><path d="M181.1 222.5l2.5 1.1 2.5-1-2.5-1.1z"/><path d="M178.7 223.6l2.4 1.1 2.5-1.1-2.5-1.1z"/><path d="M176.2 224.7l2.5 1.1 2.4-1.1-2.4-1.1z"/><path d="M173.8 225.8l2.4 1 2.5-1-2.5-1.1z"/><path d="M171.3 226.9l2.5 1 2.4-1.1-2.4-1z"/><path d="M168.9 227.8l2.4 1 2.5-0.9-2.5-1z"/><path d="M166.4 228.6l2.5 0.8 2.4-0.6-2.4-1z"/></g>
<g fill="#32a6f1"><path d="M164 229l2.4 0.7 2.5-0.3-2.5-0.8z"/><path d="M161.5 229.2l2.5 0.5 2.4 0-2.4-0.7z"/><path d="M159.1 230.7l2.4 0.1 2.5-1.1-2.5-0.5z"/><path d="M156.6 232.6l2.5-0.3 2.4-1.5-2.4-0.1z"/><path d="M154.2 235.9l2.4-1 2.5-2.6-2.5 0.3z"/></g>
<g fill="#3a99ef"><path d="M151.7 237.3l2.5-1.4 2.4-1-2.4 1z"/></g>
<g fill="#32a6f1"><path d="M284.1 172.6l2.4-1.2 2.5-4.1-2.5 1.9z"/><path d="M281.6 177.5l2.5-0.7 2.4-5.4-2.4 1.2z"/></g>
<g fill="#3a99ef"><path d="M279.2 180.7l2.4-0.1 2.5-3.8-2.5 0.7z"/><path d="M276.7 182.9l2.5 0.4 2.4-2.7-2.4 0.1z"/></g>
<g fill="#3a89ef"><path d="M274.3 184.9l2.4 0.6 2.5-2.2-2.5-0.4z"/><path d="M271.8 186.3l2.5 0.8 2.4-1.6-2.4-0.6z"/><path d="M269.4 187.7l2.4 0.9 2.5-1.5-2.5-0.8z"/><path d="M266.9 189.1l2.5 1.1 2.4-1.6-2.4-0.9z"/><path d="M264.5 190.6l2.4 1.1 2.5-1.5-2.5-1.1z"/><path d="M262 191.8l2.5 1.2 2.4-1.3-2.4-1.1z"/><path d="M259.6 193l2.4 1.2 2.5-1.2-2.5-1.2z"/><path d="M257.1 194.1l2.5 1.3 2.4-1.2-2.4-1.2z"/><path d="M254.7 195.3l2.4 1.2 2.5-1.1-2.5-1.3z"/><path d="M252.2 196.5l2.5 1.2 2.4-1.2-2.4-1.2z"/><path d="M249.8 197.8l2.4 1.2 2.5-1.3-2.5-1.2z"/><path d="M247.3 199l2.5 1.2 2.4-1.2-2.4-1.2z"/><path d="M244.9 200.2l2.4 1.2 2.5-1.2-2.5-1.2z"/><path d="M242.4 200.8l2.5 1.1 2.4-0.5-2.4-1.2z"/><path d="M240 201.2l2.4 1.2 2.5-0.5-2.5-1.1z"/><path d="M237.5 202l2.5 1.2 2.4-0.8-2.4-1.2z"/><path d="M235.1 202.7l2.4 1.3 2.5-0.8-2.5-1.2z"/><path d="M232.6 203.3l2.5 1.4 2.4-0.7-2.4-1.3z"/></g>
<g fill="#3a99ef"><path d="M230.2 203.6l2.4 1.6 2.5-0.5-2.5-1.4z"/><path d="M227.7 204l2.5 1.7 2.4-0.5-2.4-1.6z"/><path d="M225.3 204.2l2.4 2 2.5-0.5-2.5-1.7z"/><path d="M222.8 204.6l2.5 2.3 2.4-0.7-2.4-2z"/><path d="M220.4 204l2.4 2.6 2.5 0.3-2.5-2.3z"/><path d="M217.9 205.9l2.5 2.6 2.4-1.9-2.4-2.6z"/><path d="M215.5 207l2.4 2.4 2.5-0.9-2.5-2.6z"/><path d="M213 208.4l2.5 2.3 2.4-1.3-2.4-2.4z"/><path d="M210.6 210l2.4 2.1 2.5-1.4-2.5-2.3z"/><path d="M208.1 211.4l2.5 2 2.4-1.3-2.4-2.1z"/><path d="M205.7 212.9l2.4 1.8 2.5-1.3-2.5-2z"/><path d="M203.2 214.7l2.5 1.8 2.4-1.8-2.4-1.8z"/><path d="M200.8 216.7l2.4 1.6 2.5-1.8-2.5-1.8z"/><path d="M198.3 218.2l2.5 1.5 2.4-1.4-2.4-1.6z"/><path d="M195.9 218.7l2.4 1.4 2.5-0.4-2.5-1.5z"/><path d="M193.4 219.5l2.5 1.3 2.4-0.7-2.4-1.4z"/><path d="M191 220.6l2.4 1.3 2.5-1.1-2.5-1.3z"/><path d="M188.5 221.6l2.5 1.3 2.4-1-2.4-1.3z"/><path d="M186.1 222.6l2.4 1.3 2.5-1-2.5-1.3z"/><path d="M183.6 223.6l2.5 1.3 2.4-1-2.4-1.3z"/><path d="M181.1 224.7l2.5 1.2 2.5-1-2.5-1.3z"/><path d="M178.7 225.8l2.4 1.2 2.5-1.1-2.5-1.2z"/><path d="M176.2 226.8l2.5 1.2 2.4-1-2.4-1.2z"/><path d="M173.8 227.9l2.4 1.1 2.5-1-2.5-1.2z"/><path d="M171.3 228.8l2.5 1 2.4-0.8-2.4-1.1z"/><path d="M168.9 229.4l2.4 0.9 2.5-0.5-2.5-1z"/></g>
<g fill="#32a6f1"><path d="M166.4 229.7l2.5 0.8 2.4-0.2-2.4-0.9z"/><path d="M164 229.7l2.4 0.7 2.5 0.1-2.5-0.8z"/><path d="M161.5 230.8l2.5 0.3 2.4-0.7-2.4-0.7z"/><path d="M159.1 232.3l2.4-0.1 2.5-1.1-2.5-0.3z"/><path d="M156.6 234.9l2.5-0.7 2.4-2-2.4 0.1z"/><path d="M154.2 235.9l2.4-1.1 2.5-0.6-2.5 0.7z"/></g>
<g fill="#2bb4f3"><path d="M286.5 171.4l2.5-1.2 2.4-4.8-2.4 1.9z"/></g>
<g fill="#32a6f1"><path d="M284.1 176.8l2.4-0.8 2.5-5.8-2.5 1.2z"/></g>
<g fill="#3a99ef"><path d="M281.6 180.6l2.5-0.3 2.4-4.3-2.4 0.8z"/><path d="M279.2 183.3l2.4 0.3 2.5-3.3-2.5 0.3z"/></g>
<g fill="#3a89ef"><path d="M276.7 185.5l2.5 0.5 2.4-2.4-2.4-0.3z"/><path d="M274.3 187.1l2.4 0.7 2.5-1.8-2.5-0.5z"/><path d="M271.8 188.6l2.5 0.9 2.4-1.7-2.4-0.7z"/><path d="M269.4 190.2l2.4 0.9 2.5-1.6-2.5-0.9z"/><path d="M266.9 191.7l2.5 1 2.4-1.6-2.4-0.9z"/><path d="M264.5 193l2.4 1.1 2.5-1.4-2.5-1z"/><path d="M262 194.2l2.5 1.1 2.4-1.2-2.4-1.1z"/><path d="M259.6 195.4l2.4 1.1 2.5-1.2-2.5-1.1z"/><path d="M257.1 196.5l2.5 1.2 2.4-1.2-2.4-1.1z"/><path d="M254.7 197.7l2.4 1.2 2.5-1.2-2.5-1.2z"/><path d="M252.2 199l2.5 1.1 2.4-1.2-2.4-1.2z"/><path d="M249.8 200.2l2.4 1.2 2.5-1.3-2.5-1.1z"/><path d="M247.3 201.4l2.5 1.1 2.4-1.1-2.4-1.2z"/><path d="M244.9 201.9l2.4 1.2 2.5-0.6-2.5-1.1z"/><path d="M242.4 202.4l2.5 1.1 2.4-0.4-2.4-1.2z"/><path d="M240 203.2l2.4 1.2 2.5-0.9-2.5-1.1z"/><path d="M237.5 204l2.5 1.3 2.4-0.9-2.4-1.2z"/><path d="M235.1 204.7l2.4 1.4 2.5-0.8-2.5-1.3z"/><path d="M232.6 205.2l2.5 1.5 2.4-0.6-2.4-1.4z"/></g>
<g fill="#3a99ef"><path d="M230.2 205.7l2.4 1.8 2.5-0.8-2.5-1.5z"/><path d="M227.7 206.2l2.5 2.1 2.4-0.8-2.4-1.8z"/><path d="M225.3 206.9l2.4 2.4 2.5-1-2.5-2.1z"/><path d="M222.8 206.6l2.5 2.8 2.4-0.1-2.4-2.4z"/><path d="M220.4 208.5l2.4 2.9 2.5-2-2.5-2.8z"/><path d="M217.9 209.4l2.5 2.7 2.4-0.7-2.4-2.9z"/><path d="M215.5 210.7l2.4 2.4 2.5-1-2.5-2.7z"/><path d="M213 212.1l2.5 2.3 2.4-1.3-2.4-2.4z"/><path d="M210.6 213.4l2.4 2.1 2.5-1.1-2.5-2.3z"/><path d="M208.1 214.7l2.5 2 2.4-1.2-2.4-2.1z"/><path d="M205.7 216.5l2.4 1.8 2.5-1.6-2.5-2z"/><path d="M203.2 218.3l2.5 1.7 2.4-1.7-2.4-1.8z"/><path d="M200.8 219.7l2.4 1.6 2.5-1.3-2.5-1.7z"/><path d="M198.3 220.1l2.5 1.5 2.4-0.3-2.4-1.6z"/><path d="M195.9 220.8l2.4 1.4 2.5-0.6-2.5-1.5z"/><path d="M193.4 221.9l2.5 1.3 2.4-1-2.4-1.4z"/><path d="M191 222.9l2.4 1.3 2.5-1-2.5-1.3z"/><path d="M188.5 223.9l2.5 1.2 2.4-0.9-2.4-1.3z"/><path d="M186.1 224.9l2.4 1.3 2.5-1.1-2.5-1.2z"/><path d="M183.6 225.9l2.5 1.3 2.4-1-2.4-1.3z"/><path d="M181.1 227l2.5 1.3 2.5-1.1-2.5-1.3z"/><path d="M178.7 228l2.4 1.2 2.5-0.9-2.5-1.3z"/><path d="M176.2 229l2.5 1.2 2.4-1-2.4-1.2z"/><path d="M173.8 229.8l2.4 1.1 2.5-0.7-2.5-1.2z"/><path d="M171.3 230.3l2.5 1.1 2.4-0.5-2.4-1.1z"/></g>
<g fill="#32a6f1"><path d="M168.9 230.5l2.4 1 2.5-0.1-2.5-1.1z"/><path d="M166.4 230.4l2.5 0.8 2.4 0.3-2.4-1z"/><path d="M164 231.1l2.4 0.4 2.5-0.3-2.5-0.8z"/><path d="M161.5 232.2l2.5 0 2.4-0.7-2.4-0.4z"/><path d="M159.1 234.2l2.4-0.6 2.5-1.4-2.5 0z"/><path d="M156.6 234.8l2.5-0.9 2.4-0.3-2.4 0.6z"/></g>
<g fill="#2bb4f3"><path d="M289 170.2l2.4-1.2 2.5-5.4-2.5 1.8z"/></g>
<g fill="#32a6f1"><path d="M286.5 176l2.5-0.8 2.4-6.2-2.4 1.2z"/><path d="M284.1 180.3l2.4-0.2 2.5-4.9-2.5 0.8z"/></g>
<g fill="#3a99ef"><path d="M281.6 183.6l2.5 0.3 2.4-3.8-2.4 0.2z"/><path d="M279.2 186l2.4 0.6 2.5-2.7-2.5-0.3z"/></g>
<g fill="#3a89ef"><path d="M276.7 187.8l2.5 0.8 2.4-2-2.4-0.6z"/><path d="M274.3 189.5l2.4 0.9 2.5-1.8-2.5-0.8z"/><path d="M271.8 191.1l2.5 1 2.4-1.7-2.4-0.9z"/><path d="M269.4 192.7l2.4 1 2.5-1.6-2.5-1z"/><path d="M266.9 194.1l2.5 1.1 2.4-1.5-2.4-1z"/><path d="M264.5 195.3l2.4 1.1 2.5-1.2-2.5-1.1z"/><path d="M262 196.5l2.5 1.1 2.4-1.2-2.4-1.1z"/><path d="M259.6 197.7l2.4 1.1 2.5-1.2-2.5-1.1z"/><path d="M257.1 198.9l2.5 1.2 2.4-1.3-2.4-1.1z"/><path d="M254.7 200.1l2.4 1.2 2.5-1.2-2.5-1.2z"/><path d="M252.2 201.4l2.5 1.1 2.4-1.2-2.4-1.2z"/><path d="M249.8 202.5l2.4 1.2 2.5-1.2-2.5-1.1z"/><path d="M247.3 203.1l2.5 1.2 2.4-0.6-2.4-1.2z"/><path d="M244.9 203.5l2.4 1.2 2.5-0.4-2.5-1.2z"/><path d="M242.4 204.4l2.5 1.2 2.4-0.9-2.4-1.2z"/><path d="M240 205.3l2.4 1.3 2.5-1-2.5-1.2z"/><path d="M237.5 206.1l2.5 1.4 2.4-0.9-2.4-1.3z"/><path d="M235.1 206.7l2.4 1.6 2.5-0.8-2.5-1.4z"/></g>
<g fill="#3a99ef"><path d="M232.6 207.5l2.5 1.8 2.4-1-2.4-1.6z"/><path d="M230.2 208.3l2.4 2.1 2.5-1.1-2.5-1.8z"/><path d="M227.7 209.3l2.5 2.6 2.4-1.5-2.4-2.1z"/><path d="M225.3 209.4l2.4 2.9 2.5-0.4-2.5-2.6z"/><path d="M222.8 211.4l2.5 2.9 2.4-2-2.4-2.9z"/><path d="M220.4 212.1l2.4 2.7 2.5-0.5-2.5-2.9z"/><path d="M217.9 213.1l2.5 2.5 2.4-0.8-2.4-2.7z"/><path d="M215.5 214.4l2.4 2.3 2.5-1.1-2.5-2.5z"/><path d="M213 215.5l2.5 2.2 2.4-1-2.4-2.3z"/><path d="M210.6 216.7l2.4 2 2.5-1-2.5-2.2z"/><path d="M208.1 218.3l2.5 1.8 2.4-1.4-2.4-2z"/><path d="M205.7 220l2.4 1.7 2.5-1.6-2.5-1.8z"/><path d="M203.2 221.3l2.5 1.5 2.4-1.1-2.4-1.7z"/><path d="M200.8 221.6l2.4 1.4 2.5-0.2-2.5-1.5z"/><path d="M198.3 222.2l2.5 1.4 2.4-0.6-2.4-1.4z"/><path d="M195.9 223.2l2.4 1.3 2.5-0.9-2.5-1.4z"/><path d="M193.4 224.2l2.5 1.2 2.4-0.9-2.4-1.3z"/><path d="M191 225.1l2.4 1.3 2.5-1-2.5-1.2z"/><path d="M188.5 226.2l2.5 1.2 2.4-1-2.4-1.3z"/><path d="M186.1 227.2l2.4 1.3 2.5-1.1-2.5-1.2z"/><path d="M183.6 228.3l2.5 1.2 2.4-1-2.4-1.3z"/><path d="M181.1 229.2l2.5 1.2 2.5-0.9-2.5-1.2z"/><path d="M178.7 230.2l2.4 1.1 2.5-0.9-2.5-1.2z"/><path d="M176.2 230.9l2.5 1.1 2.4-0.7-2.4-1.1z"/></g>
<g fill="#32a6f1"><path d="M173.8 231.4l2.4 1 2.5-0.4-2.5-1.1z"/><path d="M171.3 231.5l2.5 0.8 2.4 0.1-2.4-1z"/><path d="M168.9 231.2l2.4 0.6 2.5 0.5-2.5-0.8z"/><path d="M166.4 231.5l2.5 0.3 2.4 0-2.4-0.6z"/><path d="M164 232.2l2.4-0.2 2.5-0.2-2.5-0.3z"/></g>
<g fill="#2bb4f3"><path d="M161.5 233.6l2.5-0.7 2.4-0.9-2.4 0.2z"/><path d="M159.1 233.9l2.4-1.1 2.5 0.1-2.5 0.7z"/></g>
<g fill="#23c2f5"><path d="M291.4 169l2.5-1.1 2.4-6.1-2.4 1.8z"/></g>
<g fill="#2bb4f3"><path d="M289 175.2l2.4-0.7 2.5-6.6-2.5 1.1z"/></g>
<g fill="#32a6f1"><path d="M286.5 180.1l2.5-0.1 2.4-5.5-2.4 0.7z"/></g>
<g fill="#3a99ef"><path d="M284.1 183.9l2.4 0.3 2.5-4.2-2.5 0.1z"/><path d="M281.6 186.6l2.5 0.5 2.4-2.9-2.4-0.3z"/></g>
<g fill="#3a89ef"><path d="M279.2 188.6l2.4 0.8 2.5-2.3-2.5-0.5z"/><path d="M276.7 190.4l2.5 0.9 2.4-1.9-2.4-0.8z"/><path d="M274.3 192.1l2.4 1 2.5-1.8-2.5-0.9z"/><path d="M271.8 193.7l2.5 1.1 2.4-1.7-2.4-1z"/><path d="M269.4 195.2l2.4 1.1 2.5-1.5-2.5-1.1z"/><path d="M266.9 196.4l2.5 1.2 2.4-1.3-2.4-1.1z"/><path d="M264.5 197.6l2.4 1.2 2.5-1.2-2.5-1.2z"/><path d="M262 198.8l2.5 1.2 2.4-1.2-2.4-1.2z"/><path d="M259.6 200.1l2.4 1.1 2.5-1.2-2.5-1.2z"/><path d="M257.1 201.3l2.5 1.2 2.4-1.3-2.4-1.1z"/><path d="M254.7 202.5l2.4 1.2 2.5-1.2-2.5-1.2z"/><path d="M252.2 203.7l2.5 1.2 2.4-1.2-2.4-1.2z"/><path d="M249.8 204.3l2.4 1.1 2.5-0.5-2.5-1.2z"/><path d="M247.3 204.7l2.5 1.1 2.4-0.4-2.4-1.1z"/><path d="M244.9 205.6l2.4 1.2 2.5-1-2.5-1.1z"/><path d="M242.4 206.6l2.5 1.3 2.4-1.1-2.4-1.2z"/><path d="M240 207.5l2.4 1.5 2.5-1.1-2.5-1.3z"/><path d="M237.5 208.3l2.5 1.7 2.4-1-2.4-1.5z"/><path d="M235.1 209.3l2.4 1.9 2.5-1.2-2.5-1.7z"/><path d="M232.6 210.4l2.5 2.3 2.4-1.5-2.4-1.9z"/><path d="M230.2 211.9l2.4 2.8 2.5-2-2.5-2.3z"/><path d="M227.7 212.3l2.5 3.3 2.4-0.9-2.4-2.8z"/><path d="M225.3 214.3l2.4 3.3 2.5-2-2.5-3.3z"/><path d="M222.8 214.8l2.5 3 2.4-0.2-2.4-3.3z"/><path d="M220.4 215.6l2.4 2.7 2.5-0.5-2.5-3z"/></g>
<g fill="#3a99ef"><path d="M217.9 216.7l2.5 2.4 2.4-0.8-2.4-2.7z"/><path d="M215.5 217.7l2.4 2.1 2.5-0.7-2.5-2.4z"/><path d="M213 218.7l2.5 1.9 2.4-0.8-2.4-2.1z"/><path d="M210.6 220.1l2.4 1.6 2.5-1.1-2.5-1.9z"/><path d="M208.1 221.7l2.5 1.4 2.4-1.4-2.4-1.6z"/><path d="M205.7 222.8l2.4 1.3 2.5-1-2.5-1.4z"/><path d="M203.2 223l2.5 1.3 2.4-0.2-2.4-1.3z"/><path d="M200.8 223.6l2.4 1.2 2.5-0.5-2.5-1.3z"/><path d="M198.3 224.5l2.5 1.2 2.4-0.9-2.4-1.2z"/><path d="M195.9 225.4l2.4 1.3 2.5-1-2.5-1.2z"/><path d="M193.4 226.4l2.5 1.3 2.4-1-2.4-1.3z"/><path d="M191 227.4l2.4 1.3 2.5-1-2.5-1.3z"/><path d="M188.5 228.5l2.5 1.2 2.4-1-2.4-1.3z"/><path d="M186.1 229.5l2.4 1.2 2.5-1-2.5-1.2z"/><path d="M183.6 230.4l2.5 1.2 2.4-0.9-2.4-1.2z"/><path d="M181.1 231.3l2.5 1.2 2.5-0.9-2.5-1.2z"/><path d="M178.7 232l2.4 1.1 2.5-0.6-2.5-1.2z"/></g>
<g fill="#32a6f1"><path d="M176.2 232.4l2.5 1 2.4-0.3-2.4-1.1z"/><path d="M173.8 232.3l2.4 0.9 2.5 0.2-2.5-1z"/><path d="M171.3 231.8l2.5 0.6 2.4 0.8-2.4-0.9z"/><path d="M168.9 231.8l2.4-0.1 2.5 0.7-2.5-0.6z"/></g>
<g fill="#2bb4f3"><path d="M166.4 232l2.5-0.6 2.4 0.3-2.4 0.1z"/><path d="M164 232.9l2.4-1 2.5-0.5-2.5 0.6z"/><path d="M161.5 232.8l2.5-1 2.4 0.1-2.4 1z"/></g>
<g fill="#23c2f5"><path d="M293.9 167.9l2.4-1 2.5-6.6-2.5 1.5z"/></g>
<g fill="#2bb4f3"><path d="M291.4 174.5l2.5-0.6 2.4-7-2.4 1z"/></g>
<g fill="#32a6f1"><path d="M289 180l2.4-0.1 2.5-6-2.5 0.6z"/></g>
<g fill="#3a99ef"><path d="M286.5 184.2l2.5 0.3 2.4-4.6-2.4 0.1z"/><path d="M284.1 187.1l2.4 0.5 2.5-3.1-2.5-0.3z"/><path d="M281.6 189.4l2.5 0.6 2.4-2.4-2.4-0.5z"/></g>
<g fill="#3a89ef"><path d="M279.2 191.3l2.4 0.8 2.5-2.1-2.5-0.6z"/><path d="M276.7 193.1l2.5 0.9 2.4-1.9-2.4-0.8z"/><path d="M274.3 194.8l2.4 0.9 2.5-1.7-2.5-0.9z"/><path d="M271.8 196.3l2.5 1 2.4-1.6-2.4-0.9z"/><path d="M269.4 197.6l2.4 1 2.5-1.3-2.5-1z"/><path d="M266.9 198.8l2.5 1 2.4-1.2-2.4-1z"/><path d="M264.5 200l2.4 1.1 2.5-1.3-2.5-1z"/><path d="M262 201.2l2.5 1.1 2.4-1.2-2.4-1.1z"/><path d="M259.6 202.5l2.4 1.1 2.5-1.3-2.5-1.1z"/><path d="M257.1 203.7l2.5 1.1 2.4-1.2-2.4-1.1z"/><path d="M254.7 204.9l2.4 1.1 2.5-1.2-2.5-1.1z"/><path d="M252.2 205.4l2.5 1.1 2.4-0.5-2.4-1.1z"/><path d="M249.8 205.8l2.4 1.2 2.5-0.5-2.5-1.1z"/><path d="M247.3 206.8l2.5 1.2 2.4-1-2.4-1.2z"/><path d="M244.9 207.9l2.4 1.4 2.5-1.3-2.5-1.2z"/><path d="M242.4 209l2.5 1.5 2.4-1.2-2.4-1.4z"/><path d="M240 210l2.4 1.8 2.5-1.3-2.5-1.5z"/><path d="M237.5 211.2l2.5 2.2 2.4-1.6-2.4-1.8z"/><path d="M235.1 212.7l2.4 2.6 2.5-1.9-2.5-2.2z"/><path d="M232.6 214.7l2.5 3.3 2.4-2.7-2.4-2.6z"/><path d="M230.2 215.6l2.4 3.9 2.5-1.5-2.5-3.3z"/><path d="M227.7 217.6l2.5 3.8 2.4-1.9-2.4-3.9z"/><path d="M225.3 217.8l2.4 3.5 2.5 0.1-2.5-3.8z"/><path d="M222.8 218.3l2.5 3.2 2.4-0.2-2.4-3.5z"/><path d="M220.4 219.1l2.4 2.8 2.5-0.4-2.5-3.2z"/><path d="M217.9 219.8l2.5 2.4 2.4-0.3-2.4-2.8z"/><path d="M215.5 220.6l2.4 2.1 2.5-0.5-2.5-2.4z"/></g>
<g fill="#3a99ef"><path d="M213 221.7l2.5 1.8 2.4-0.8-2.4-2.1z"/><path d="M210.6 223.1l2.4 1.5 2.5-1.1-2.5-1.8z"/><path d="M208.1 224.1l2.5 1.3 2.4-0.8-2.4-1.5z"/><path d="M205.7 224.3l2.4 1.2 2.5-0.1-2.5-1.3z"/><path d="M203.2 224.8l2.5 1.3 2.4-0.6-2.4-1.2z"/><path d="M200.8 225.7l2.4 1.4 2.5-1-2.5-1.3z"/><path d="M198.3 226.7l2.5 1.4 2.4-1-2.4-1.4z"/><path d="M195.9 227.7l2.4 1.3 2.5-0.9-2.5-1.4z"/><path d="M193.4 228.7l2.5 1.4 2.4-1.1-2.4-1.3z"/><path d="M191 229.7l2.4 1.4 2.5-1-2.5-1.4z"/><path d="M188.5 230.7l2.5 1.4 2.4-1-2.4-1.4z"/><path d="M186.1 231.6l2.4 1.4 2.5-0.9-2.5-1.4z"/><path d="M183.6 232.5l2.5 1.3 2.4-0.8-2.4-1.4z"/><path d="M181.1 233.1l2.5 1.2 2.5-0.5-2.5-1.3z"/></g>
<g fill="#32a6f1"><path d="M178.7 233.4l2.4 1.2 2.5-0.3-2.5-1.2z"/><path d="M176.2 233.2l2.5 1 2.4 0.4-2.4-1.2z"/><path d="M173.8 232.4l2.4 0.4 2.5 1.4-2.5-1z"/></g>
<g fill="#2bb4f3"><path d="M171.3 231.7l2.5-0.5 2.4 1.6-2.4-0.4z"/><path d="M168.9 231.4l2.4-1.1 2.5 0.9-2.5 0.5z"/><path d="M166.4 231.9l2.5-1.2 2.4-0.4-2.4 1.1z"/></g>
<g fill="#23c2f5"><path d="M164 231.8l2.4-0.8 2.5-0.3-2.5 1.2z"/></g>
<g fill="#1bcff8"><path d="M296.3 166.9l2.5-1 2.4-7.1-2.4 1.5z"/></g>
<g fill="#23c2f5"><path d="M293.9 173.9l2.4-0.6 2.5-7.4-2.5 1z"/></g>
<g fill="#2bb4f3"><path d="M291.4 179.9l2.5-0.3 2.4-6.3-2.4 0.6z"/></g>
<g fill="#32a6f1"><path d="M289 184.5l2.4 0.1 2.5-5-2.5 0.3z"/></g>
<g fill="#3a99ef"><path d="M286.5 187.6l2.5 0.3 2.4-3.3-2.4-0.1z"/><path d="M284.1 190l2.4 0.4 2.5-2.5-2.5-0.3z"/><path d="M281.6 192.1l2.5 0.5 2.4-2.2-2.4-0.4z"/></g>
<g fill="#3a89ef"><path d="M279.2 194l2.4 0.6 2.5-2-2.5-0.5z"/><path d="M276.7 195.7l2.5 0.7 2.4-1.8-2.4-0.6z"/><path d="M274.3 197.3l2.4 0.7 2.5-1.6-2.5-0.7z"/><path d="M271.8 198.6l2.5 0.8 2.4-1.4-2.4-0.7z"/><path d="M269.4 199.8l2.4 0.9 2.5-1.3-2.5-0.8z"/><path d="M266.9 201.1l2.5 0.8 2.4-1.2-2.4-0.9z"/><path d="M264.5 202.3l2.4 0.9 2.5-1.3-2.5-0.8z"/><path d="M262 203.6l2.5 0.9 2.4-1.3-2.4-0.9z"/><path d="M259.6 204.8l2.4 0.9 2.5-1.2-2.5-0.9z"/><path d="M257.1 206l2.5 0.9 2.4-1.2-2.4-0.9z"/><path d="M254.7 206.5l2.4 1 2.5-0.6-2.5-0.9z"/><path d="M252.2 207l2.5 1 2.4-0.5-2.4-1z"/><path d="M249.8 208l2.4 1.2 2.5-1.2-2.5-1z"/><path d="M247.3 209.3l2.5 1.3 2.4-1.4-2.4-1.2z"/><path d="M244.9 210.5l2.4 1.6 2.5-1.5-2.5-1.3z"/><path d="M242.4 211.8l2.5 1.9 2.4-1.6-2.4-1.6z"/><path d="M240 213.4l2.4 2.3 2.5-2-2.5-1.9z"/><path d="M237.5 215.3l2.5 3 2.4-2.6-2.4-2.3z"/><path d="M235.1 218l2.4 3.9 2.5-3.6-2.5-3z"/></g>
<g fill="#3277f1"><path d="M232.6 219.5l2.5 4.6 2.4-2.2-2.4-3.9z"/><path d="M230.2 221.4l2.4 4.7 2.5-2-2.5-4.6z"/><path d="M227.7 221.3l2.5 4.2 2.4 0.6-2.4-4.7z"/></g>
<g fill="#3a89ef"><path d="M225.3 221.5l2.4 3.8 2.5 0.2-2.5-4.2z"/><path d="M222.8 221.9l2.5 3.3 2.4 0.1-2.4-3.8z"/><path d="M220.4 222.2l2.4 2.9 2.5 0.1-2.5-3.3z"/><path d="M217.9 222.7l2.5 2.4 2.4 0-2.4-2.9z"/><path d="M215.5 223.5l2.4 2.1 2.5-0.5-2.5-2.4z"/><path d="M213 224.6l2.5 1.6 2.4-0.6-2.4-2.1z"/><path d="M210.6 225.4l2.4 1.5 2.5-0.7-2.5-1.6z"/></g>
<g fill="#3a99ef"><path d="M208.1 225.5l2.5 1.5 2.4-0.1-2.4-1.5z"/><path d="M205.7 226.1l2.4 1.5 2.5-0.6-2.5-1.5z"/><path d="M203.2 227.1l2.5 1.5 2.4-1-2.4-1.5z"/><path d="M200.8 228.1l2.4 1.5 2.5-1-2.5-1.5z"/><path d="M198.3 229l2.5 1.6 2.4-1-2.4-1.5z"/><path d="M195.9 230.1l2.4 1.6 2.5-1.1-2.5-1.6z"/><path d="M193.4 231.1l2.5 1.6 2.4-1-2.4-1.6z"/><path d="M191 232.1l2.4 1.6 2.5-1-2.5-1.6z"/><path d="M188.5 233l2.5 1.6 2.4-0.9-2.4-1.6z"/><path d="M186.1 233.8l2.4 1.6 2.5-0.8-2.5-1.6z"/><path d="M183.6 234.3l2.5 1.6 2.4-0.5-2.4-1.6z"/></g>
<g fill="#32a6f1"><path d="M181.1 234.6l2.5 1.5 2.5-0.2-2.5-1.6z"/><path d="M178.7 234.2l2.4 1.2 2.5 0.7-2.5-1.5z"/><path d="M176.2 232.8l2.5 0.4 2.4 2.2-2.4-1.2z"/></g>
<g fill="#2bb4f3"><path d="M173.8 231.2l2.4-1 2.5 3-2.5-0.4z"/></g>
<g fill="#23c2f5"><path d="M171.3 230.3l2.5-2 2.4 1.9-2.4 1z"/><path d="M168.9 230.7l2.4-1.6 2.5-0.8-2.5 2z"/><path d="M166.4 231l2.5-0.6 2.4-1.3-2.4 1.6z"/></g>
<g fill="#1bcff8"><path d="M298.8 165.9l2.4-0.6 2.5-7.6-2.5 1.1z"/></g>
<g fill="#23c2f5"><path d="M296.3 173.3l2.5-0.4 2.4-7.6-2.4 0.6z"/></g>
<g fill="#2bb4f3"><path d="M293.9 179.6l2.4-0.1 2.5-6.6-2.5 0.4z"/></g>
<g fill="#32a6f1"><path d="M291.4 184.6l2.5 0.2 2.4-5.3-2.4 0.1z"/></g>
<g fill="#3a99ef"><path d="M289 187.9l2.4 0.4 2.5-3.5-2.5-0.2z"/><path d="M286.5 190.4l2.5 0.6 2.4-2.7-2.4-0.4z"/><path d="M284.1 192.6l2.4 0.6 2.5-2.2-2.5-0.6z"/></g>
<g fill="#3a89ef"><path d="M281.6 194.6l2.5 0.7 2.4-2.1-2.4-0.6z"/><path d="M279.2 196.4l2.4 0.8 2.5-1.9-2.5-0.7z"/><path d="M276.7 198l2.5 0.8 2.4-1.6-2.4-0.8z"/><path d="M274.3 199.4l2.4 0.8 2.5-1.4-2.5-0.8z"/><path d="M271.8 200.7l2.5 0.8 2.4-1.3-2.4-0.8z"/><path d="M269.4 201.9l2.4 0.9 2.5-1.3-2.5-0.8z"/><path d="M266.9 203.2l2.5 0.9 2.4-1.3-2.4-0.9z"/><path d="M264.5 204.5l2.4 0.9 2.5-1.3-2.5-0.9z"/><path d="M262 205.7l2.5 1 2.4-1.3-2.4-0.9z"/><path d="M259.6 206.9l2.4 1 2.5-1.2-2.5-1z"/><path d="M257.1 207.5l2.5 1 2.4-0.6-2.4-1z"/><path d="M254.7 208l2.4 1 2.5-0.5-2.5-1z"/><path d="M252.2 209.2l2.5 1.1 2.4-1.3-2.4-1z"/><path d="M249.8 210.6l2.4 1.4 2.5-1.7-2.5-1.1z"/><path d="M247.3 212.1l2.5 1.6 2.4-1.7-2.4-1.4z"/><path d="M244.9 213.7l2.4 2.1 2.5-2.1-2.5-1.6z"/><path d="M242.4 215.7l2.5 2.7 2.4-2.6-2.4-2.1z"/><path d="M240 218.3l2.4 3.5 2.5-3.4-2.5-2.7z"/></g>
<g fill="#3277f1"><path d="M237.5 221.9l2.5 4.5 2.4-4.6-2.4-3.5z"/><path d="M235.1 224.1l2.4 5.5 2.5-3.2-2.5-4.5z"/></g>
<g fill="#2b64f3"><path d="M232.6 226.1l2.5 5.5 2.4-2-2.4-5.5z"/><path d="M230.2 225.5l2.4 5 2.5 1.1-2.5-5.5z"/></g>
<g fill="#3277f1"><path d="M227.7 225.3l2.5 4.3 2.4 0.9-2.4-5z"/><path d="M225.3 225.2l2.4 3.7 2.5 0.7-2.5-4.3z"/></g>
<g fill="#3a89ef"><path d="M222.8 225.1l2.5 3.2 2.4 0.6-2.4-3.7z"/><path d="M220.4 225.1l2.4 2.7 2.5 0.5-2.5-3.2z"/><path d="M217.9 225.6l2.5 2.2 2.4 0-2.4-2.7z"/><path d="M215.5 226.2l2.4 1.7 2.5-0.1-2.5-2.2z"/><path d="M213 226.9l2.5 1.4 2.4-0.4-2.4-1.7z"/></g>
<g fill="#3a99ef"><path d="M210.6 227l2.4 1.4 2.5-0.1-2.5-1.4z"/><path d="M208.1 227.6l2.5 1.4 2.4-0.6-2.4-1.4z"/><path d="M205.7 228.6l2.4 1.4 2.5-1-2.5-1.4z"/><path d="M203.2 229.6l2.5 1.5 2.4-1.1-2.4-1.4z"/><path d="M200.8 230.6l2.4 1.5 2.5-1-2.5-1.5z"/><path d="M198.3 231.7l2.5 1.5 2.4-1.1-2.4-1.5z"/><path d="M195.9 232.7l2.4 1.6 2.5-1.1-2.5-1.5z"/><path d="M193.4 233.7l2.5 1.6 2.4-1-2.4-1.6z"/><path d="M191 234.6l2.4 1.5 2.5-0.8-2.5-1.6z"/><path d="M188.5 235.4l2.5 1.5 2.4-0.8-2.4-1.5z"/><path d="M186.1 235.9l2.4 1.5 2.5-0.5-2.5-1.5z"/><path d="M183.6 236.1l2.5 1.4 2.4-0.1-2.4-1.5z"/></g>
<g fill="#32a6f1"><path d="M181.1 235.4l2.5 1.1 2.5 1-2.5-1.4z"/><path d="M178.7 233.2l2.4 0.1 2.5 3.2-2.5-1.1z"/></g>
<g fill="#2bb4f3"><path d="M176.2 230.2l2.5-1.6 2.4 4.7-2.4-0.1z"/></g>
<g fill="#23c2f5"><path d="M173.8 228.3l2.4-2.6 2.5 2.9-2.5 1.6z"/></g>
<g fill="#1bcff8"><path d="M171.3 229.1l2.5-1.9 2.4-1.5-2.4 2.6z"/><path d="M168.9 230.4l2.4-0.5 2.5-2.7-2.5 1.9z"/></g>
<g fill="#13ddfa"><path d="M301.2 165.3l2.5-0.1 2.4-7.9-2.4 0.4z"/></g>
<g fill="#23c2f5"><path d="M298.8 172.9l2.4 0.1 2.5-7.8-2.5 0.1z"/></g>
<g fill="#2bb4f3"><path d="M296.3 179.5l2.5 0.3 2.4-6.8-2.4-0.1z"/></g>
<g fill="#32a6f1"><path d="M293.9 184.8l2.4 0.5 2.5-5.5-2.5-0.3z"/></g>
<g fill="#3a99ef"><path d="M291.4 188.3l2.5 0.6 2.4-3.6-2.4-0.5z"/><path d="M289 191l2.4 0.6 2.5-2.7-2.5-0.6z"/><path d="M286.5 193.2l2.5 0.8 2.4-2.4-2.4-0.6z"/><path d="M284.1 195.3l2.4 0.8 2.5-2.1-2.5-0.8z"/></g>
<g fill="#3a89ef"><path d="M281.6 197.2l2.5 0.8 2.4-1.9-2.4-0.8z"/><path d="M279.2 198.8l2.4 0.9 2.5-1.7-2.5-0.8z"/><path d="M276.7 200.2l2.5 0.9 2.4-1.4-2.4-0.9z"/><path d="M274.3 201.5l2.4 1 2.5-1.4-2.5-0.9z"/><path d="M271.8 202.8l2.5 1 2.4-1.3-2.4-1z"/><path d="M269.4 204.1l2.4 1 2.5-1.3-2.5-1z"/><path d="M266.9 205.4l2.5 1 2.4-1.3-2.4-1z"/><path d="M264.5 206.7l2.4 1 2.5-1.3-2.5-1z"/><path d="M262 207.9l2.5 1 2.4-1.2-2.4-1z"/><path d="M259.6 208.5l2.4 1.1 2.5-0.7-2.5-1z"/><path d="M257.1 209l2.5 1.1 2.4-0.5-2.4-1.1z"/><path d="M254.7 210.3l2.4 1.3 2.5-1.5-2.5-1.1z"/><path d="M252.2 212l2.5 1.5 2.4-1.9-2.4-1.3z"/><path d="M249.8 213.7l2.4 1.9 2.5-2.1-2.5-1.5z"/><path d="M247.3 215.8l2.5 2.4 2.4-2.6-2.4-1.9z"/><path d="M244.9 218.4l2.4 3.1 2.5-3.3-2.5-2.4z"/></g>
<g fill="#3277f1"><path d="M242.4 221.8l2.5 4.2 2.4-4.5-2.4-3.1z"/></g>
<g fill="#2b64f3"><path d="M240 226.4l2.4 5.6 2.5-6-2.5-4.2z"/><path d="M237.5 229.6l2.5 6.9 2.4-4.5-2.4-5.6z"/></g>
<g fill="#2352f5"><path d="M235.1 231.6l2.4 6.8 2.5-1.9-2.5-6.9z"/><path d="M232.6 230.5l2.5 6.1 2.4 1.8-2.4-6.8z"/></g>
<g fill="#2b64f3"><path d="M230.2 229.6l2.4 5.4 2.5 1.6-2.5-6.1z"/></g>
<g fill="#3277f1"><path d="M227.7 228.9l2.5 4.5 2.4 1.6-2.4-5.4z"/><path d="M225.3 228.3l2.4 3.8 2.5 1.3-2.5-4.5z"/><path d="M222.8 227.8l2.5 3.1 2.4 1.2-2.4-3.8z"/></g>
<g fill="#3a89ef"><path d="M220.4 227.8l2.4 2.4 2.5 0.7-2.5-3.1z"/><path d="M217.9 227.9l2.5 1.8 2.4 0.5-2.4-2.4z"/><path d="M215.5 228.3l2.4 1.5 2.5-0.1-2.5-1.8z"/></g>
<g fill="#3a99ef"><path d="M213 228.4l2.5 1.3 2.4 0.1-2.4-1.5z"/><path d="M210.6 229l2.4 1.4 2.5-0.7-2.5-1.3z"/><path d="M208.1 230l2.5 1.5 2.4-1.1-2.4-1.4z"/><path d="M205.7 231.1l2.4 1.4 2.5-1-2.5-1.5z"/><path d="M203.2 232.1l2.5 1.5 2.4-1.1-2.4-1.4z"/><path d="M200.8 233.2l2.4 1.5 2.5-1.1-2.5-1.5z"/><path d="M198.3 234.3l2.5 1.5 2.4-1.1-2.4-1.5z"/><path d="M195.9 235.3l2.4 1.4 2.5-0.9-2.5-1.5z"/><path d="M193.4 236.1l2.5 1.5 2.4-0.9-2.4-1.4z"/><path d="M191 236.9l2.4 1.5 2.5-0.8-2.5-1.5z"/><path d="M188.5 237.4l2.5 1.5 2.4-0.5-2.4-1.5z"/><path d="M186.1 237.5l2.4 1.4 2.5 0-2.5-1.5z"/></g>
<g fill="#32a6f1"><path d="M183.6 236.5l2.5 1.2 2.4 1.2-2.4-1.4z"/><path d="M181.1 233.3l2.5 0.6 2.5 3.8-2.5-1.2z"/></g>
<g fill="#23c2f5"><path d="M178.7 228.6l2.4-0.7 2.5 6-2.5-0.6z"/></g>
<g fill="#1bcff8"><path d="M176.2 225.7l2.5-1.4 2.4 3.6-2.4 0.7z"/><path d="M173.8 227.2l2.4-0.9 2.5-2-2.5 1.4z"/><path d="M171.3 229.9l2.5 0.1 2.4-3.7-2.4 0.9z"/></g>
<g fill="#13ddfa"><path d="M303.7 165.2l2.4 0.1 2.5-8-2.5 0z"/></g>
<g fill="#1bcff8"><path d="M301.2 173l2.5 0.3 2.4-8-2.4-0.1z"/></g>
<g fill="#2bb4f3"><path d="M298.8 179.8l2.4 0.5 2.5-7-2.5-0.3z"/></g>
<g fill="#32a6f1"><path d="M296.3 185.3l2.5 0.6 2.4-5.6-2.4-0.5z"/><path d="M293.9 188.9l2.4 0.6 2.5-3.6-2.5-0.6z"/></g>
<g fill="#3a99ef"><path d="M291.4 191.6l2.5 0.7 2.4-2.8-2.4-0.6z"/><path d="M289 194l2.4 0.7 2.5-2.4-2.5-0.7z"/><path d="M286.5 196.1l2.5 0.8 2.4-2.2-2.4-0.7z"/></g>
<g fill="#3a89ef"><path d="M284.1 198l2.4 0.8 2.5-1.9-2.5-0.8z"/><path d="M281.6 199.7l2.5 0.8 2.4-1.7-2.4-0.8z"/><path d="M279.2 201.1l2.4 0.9 2.5-1.5-2.5-0.8z"/><path d="M276.7 202.5l2.5 0.9 2.4-1.4-2.4-0.9z"/><path d="M274.3 203.8l2.4 0.9 2.5-1.3-2.5-0.9z"/><path d="M271.8 205.1l2.5 0.9 2.4-1.3-2.4-0.9z"/><path d="M269.4 206.4l2.4 1 2.5-1.4-2.5-0.9z"/><path d="M266.9 207.7l2.5 1 2.4-1.3-2.4-1z"/><path d="M264.5 208.9l2.4 1 2.5-1.2-2.5-1z"/><path d="M262 209.6l2.5 1 2.4-0.7-2.4-1z"/><path d="M259.6 210.1l2.4 1.1 2.5-0.6-2.5-1z"/><path d="M257.1 211.6l2.5 1.3 2.4-1.7-2.4-1.1z"/><path d="M254.7 213.5l2.4 1.6 2.5-2.2-2.5-1.3z"/><path d="M252.2 215.6l2.5 1.9 2.4-2.4-2.4-1.6z"/><path d="M249.8 218.2l2.4 2.4 2.5-3.1-2.5-1.9z"/></g>
<g fill="#3277f1"><path d="M247.3 221.5l2.5 3.2 2.4-4.1-2.4-2.4z"/><path d="M244.9 226l2.4 4.2 2.5-5.5-2.5-3.2z"/></g>
<g fill="#2b64f3"><path d="M242.4 232l2.5 5.6 2.4-7.4-2.4-4.2z"/></g>
<g fill="#2352f5"><path d="M240 236.5l2.4 6.9 2.5-5.8-2.5-5.6z"/></g>
<g fill="#1b40f8"><path d="M237.5 238.4l2.5 6.9 2.4-1.9-2.4-6.9z"/><path d="M235.1 236.6l2.4 6.1 2.5 2.6-2.5-6.9z"/></g>
<g fill="#2352f5"><path d="M232.6 235l2.5 5.4 2.4 2.3-2.4-6.1z"/></g>
<g fill="#2b64f3"><path d="M230.2 233.4l2.4 4.6 2.5 2.4-2.5-5.4z"/><path d="M227.7 232.1l2.5 3.8 2.4 2.1-2.4-4.6z"/></g>
<g fill="#3277f1"><path d="M225.3 230.9l2.4 3.1 2.5 1.9-2.5-3.8z"/><path d="M222.8 230.2l2.5 2.4 2.4 1.4-2.4-3.1z"/></g>
<g fill="#3a89ef"><path d="M220.4 229.7l2.4 1.8 2.5 1.1-2.5-2.4z"/><path d="M217.9 229.8l2.5 1.4 2.4 0.3-2.4-1.8z"/></g>
<g fill="#3a99ef"><path d="M215.5 229.7l2.4 1.4 2.5 0.1-2.5-1.4z"/><path d="M213 230.4l2.5 1.4 2.4-0.7-2.4-1.4z"/><path d="M210.6 231.5l2.4 1.4 2.5-1.1-2.5-1.4z"/><path d="M208.1 232.5l2.5 1.5 2.4-1.1-2.4-1.4z"/><path d="M205.7 233.6l2.4 1.5 2.5-1.1-2.5-1.5z"/><path d="M203.2 234.7l2.5 1.5 2.4-1.1-2.4-1.5z"/><path d="M200.8 235.8l2.4 1.5 2.5-1.1-2.5-1.5z"/><path d="M198.3 236.7l2.5 1.6 2.4-1-2.4-1.5z"/><path d="M195.9 237.6l2.4 1.5 2.5-0.8-2.5-1.6z"/><path d="M193.4 238.4l2.5 1.5 2.4-0.8-2.4-1.5z"/><path d="M191 238.9l2.4 1.5 2.5-0.5-2.5-1.5z"/><path d="M188.5 238.9l2.5 1.6 2.4-0.1-2.4-1.5z"/></g>
<g fill="#32a6f1"><path d="M186.1 237.7l2.4 1.6 2.5 1.2-2.5-1.6z"/><path d="M183.6 233.9l2.5 1.6 2.4 3.8-2.4-1.6z"/></g>
<g fill="#23c2f5"><path d="M181.1 227.9l2.5 1.7 2.5 5.9-2.5-1.6z"/></g>
<g fill="#1bcff8"><path d="M178.7 224.3l2.4 1.7 2.5 3.6-2.5-1.7z"/><path d="M176.2 226.3l2.5 1.6 2.4-1.9-2.4-1.7z"/><path d="M173.8 230l2.4 1.5 2.5-3.6-2.5-1.6z"/></g>
<g fill="#13ddfa"><path d="M306.1 165.3l2.5 0.5 2.4-8.2-2.4-0.3z"/></g>
<g fill="#1bcff8"><path d="M303.7 173.3l2.4 0.5 2.5-8-2.5-0.5z"/></g>
<g fill="#23c2f5"><path d="M301.2 180.3l2.5 0.6 2.4-7.1-2.4-0.5z"/></g>
<g fill="#32a6f1"><path d="M298.8 185.9l2.4 0.7 2.5-5.7-2.5-0.6z"/><path d="M296.3 189.5l2.5 0.7 2.4-3.6-2.4-0.7z"/></g>
<g fill="#3a99ef"><path d="M293.9 192.3l2.4 0.8 2.5-2.9-2.5-0.7z"/><path d="M291.4 194.7l2.5 0.8 2.4-2.4-2.4-0.8z"/><path d="M289 196.9l2.4 0.8 2.5-2.2-2.5-0.8z"/><path d="M286.5 198.8l2.5 0.8 2.4-1.9-2.4-0.8z"/></g>
<g fill="#3a89ef"><path d="M284.1 200.5l2.4 0.9 2.5-1.8-2.5-0.8z"/><path d="M281.6 202l2.5 0.9 2.4-1.5-2.4-0.9z"/><path d="M279.2 203.4l2.4 0.9 2.5-1.4-2.5-0.9z"/><path d="M276.7 204.7l2.5 0.9 2.4-1.3-2.4-0.9z"/><path d="M274.3 206l2.4 1 2.5-1.4-2.5-0.9z"/><path d="M271.8 207.4l2.5 1 2.4-1.4-2.4-1z"/><path d="M269.4 208.7l2.4 1 2.5-1.3-2.5-1z"/><path d="M266.9 209.9l2.5 1 2.4-1.2-2.4-1z"/><path d="M264.5 210.6l2.4 1 2.5-0.7-2.5-1z"/><path d="M262 211.2l2.5 1.1 2.4-0.7-2.4-1z"/><path d="M259.6 212.9l2.4 1.2 2.5-1.8-2.5-1.1z"/><path d="M257.1 215.1l2.5 1.4 2.4-2.4-2.4-1.2z"/><path d="M254.7 217.5l2.4 1.8 2.5-2.8-2.5-1.4z"/></g>
<g fill="#3277f1"><path d="M252.2 220.6l2.5 2.2 2.4-3.5-2.4-1.8z"/><path d="M249.8 224.7l2.4 2.8 2.5-4.7-2.5-2.2z"/></g>
<g fill="#2b64f3"><path d="M247.3 230.2l2.5 3.7 2.4-6.4-2.4-2.8z"/></g>
<g fill="#2352f5"><path d="M244.9 237.6l2.4 4.9 2.5-8.6-2.5-3.7z"/></g>
<g fill="#1b40f8"><path d="M242.4 243.4l2.5 5.9 2.4-6.8-2.4-4.9z"/></g>
<g fill="#132efa"><path d="M240 245.3l2.4 5.9 2.5-1.9-2.5-5.9z"/><path d="M237.5 242.7l2.5 5.3 2.4 3.2-2.4-5.9z"/></g>
<g fill="#1b40f8"><path d="M235.1 240.4l2.4 4.6 2.5 3-2.5-5.3z"/></g>
<g fill="#2352f5"><path d="M232.6 238l2.5 3.9 2.4 3.1-2.4-4.6z"/></g>
<g fill="#2b64f3"><path d="M230.2 235.9l2.4 3.3 2.5 2.7-2.5-3.9z"/></g>
<g fill="#3277f1"><path d="M227.7 234l2.5 2.8 2.4 2.4-2.4-3.3z"/><path d="M225.3 232.6l2.4 2.3 2.5 1.9-2.5-2.8z"/></g>
<g fill="#3a89ef"><path d="M222.8 231.5l2.5 1.7 2.4 1.7-2.4-2.3z"/><path d="M220.4 231.2l2.4 1.5 2.5 0.5-2.5-1.7z"/><path d="M217.9 231.1l2.5 1.4 2.4 0.2-2.4-1.5z"/></g>
<g fill="#3a99ef"><path d="M215.5 231.8l2.4 1.4 2.5-0.7-2.5-1.4z"/><path d="M213 232.9l2.5 1.4 2.4-1.1-2.4-1.4z"/><path d="M210.6 234l2.4 1.4 2.5-1.1-2.5-1.4z"/><path d="M208.1 235.1l2.5 1.5 2.4-1.2-2.4-1.4z"/><path d="M205.7 236.2l2.4 1.5 2.5-1.1-2.5-1.5z"/><path d="M203.2 237.3l2.5 1.5 2.4-1.1-2.4-1.5z"/><path d="M200.8 238.3l2.4 1.5 2.5-1-2.5-1.5z"/><path d="M198.3 239.1l2.5 1.6 2.4-0.9-2.4-1.5z"/><path d="M195.9 239.9l2.4 1.5 2.5-0.7-2.5-1.6z"/><path d="M193.4 240.4l2.5 1.5 2.4-0.5-2.4-1.5z"/><path d="M191 240.5l2.4 1.6 2.5-0.2-2.5-1.5z"/></g>
<g fill="#32a6f1"><path d="M188.5 239.3l2.5 1.9 2.4 0.9-2.4-1.6z"/><path d="M186.1 235.5l2.4 2.7 2.5 3-2.5-1.9z"/></g>
<g fill="#2bb4f3"><path d="M183.6 229.6l2.5 3.9 2.4 4.7-2.4-2.7z"/></g>
<g fill="#1bcff8"><path d="M181.1 226l2.5 4.6 2.5 2.9-2.5-3.9z"/><path d="M178.7 227.9l2.4 3.8 2.5-1.1-2.5-4.6z"/><path d="M176.2 231.5l2.5 2.6 2.4-2.4-2.4-3.8z"/></g>
<g fill="#13ddfa"><path d="M308.6 165.8l2.4 0.6 2.5-8.3-2.5-0.5z"/></g>
<g fill="#1bcff8"><path d="M306.1 173.8l2.5 0.7 2.4-8.1-2.4-0.6z"/></g>
<g fill="#23c2f5"><path d="M303.7 180.9l2.4 0.6 2.5-7-2.5-0.7z"/></g>
<g fill="#2bb4f3"><path d="M301.2 186.6l2.5 0.6 2.4-5.7-2.4-0.6z"/></g>
<g fill="#32a6f1"><path d="M298.8 190.2l2.4 0.6 2.5-3.6-2.5-0.6z"/></g>
<g fill="#3a99ef"><path d="M296.3 193.1l2.5 0.6 2.4-2.9-2.4-0.6z"/><path d="M293.9 195.5l2.4 0.7 2.5-2.5-2.5-0.6z"/><path d="M291.4 197.7l2.5 0.7 2.4-2.2-2.4-0.7z"/><path d="M289 199.6l2.4 0.8 2.5-2-2.5-0.7z"/></g>
<g fill="#3a89ef"><path d="M286.5 201.4l2.5 0.8 2.4-1.8-2.4-0.8z"/><path d="M284.1 202.9l2.4 0.8 2.5-1.5-2.5-0.8z"/><path d="M281.6 204.3l2.5 0.8 2.4-1.4-2.4-0.8z"/><path d="M279.2 205.6l2.4 0.9 2.5-1.4-2.5-0.8z"/><path d="M276.7 207l2.5 0.9 2.4-1.4-2.4-0.9z"/><path d="M274.3 208.4l2.4 0.9 2.5-1.4-2.5-0.9z"/><path d="M271.8 209.7l2.5 0.9 2.4-1.3-2.4-0.9z"/><path d="M269.4 210.9l2.4 1 2.5-1.3-2.5-0.9z"/><path d="M266.9 211.6l2.5 1 2.4-0.7-2.4-1z"/><path d="M264.5 212.3l2.4 1 2.5-0.7-2.5-1z"/><path d="M262 214.1l2.5 1.1 2.4-1.9-2.4-1z"/><path d="M259.6 216.5l2.4 1.4 2.5-2.7-2.5-1.1z"/><path d="M257.1 219.3l2.5 1.7 2.4-3.1-2.4-1.4z"/></g>
<g fill="#3277f1"><path d="M254.7 222.8l2.4 2.1 2.5-3.9-2.5-1.7z"/><path d="M252.2 227.5l2.5 2.6 2.4-5.2-2.4-2.1z"/></g>
<g fill="#2b64f3"><path d="M249.8 233.9l2.4 3.4 2.5-7.2-2.5-2.6z"/></g>
<g fill="#1b40f8"><path d="M247.3 242.5l2.5 4.5 2.4-9.7-2.4-3.4z"/></g>
<g fill="#132efa"><path d="M244.9 249.3l2.4 5.5 2.5-7.8-2.5-4.5z"/></g>
<g fill="#0c1bfc"><path d="M242.4 251.2l2.5 5.4 2.4-1.8-2.4-5.5z"/><path d="M240 248l2.4 4.9 2.5 3.7-2.5-5.4z"/></g>
<g fill="#132efa"><path d="M237.5 245l2.5 4.4 2.4 3.5-2.4-4.9z"/></g>
<g fill="#1b40f8"><path d="M235.1 241.9l2.4 3.8 2.5 3.7-2.5-4.4z"/></g>
<g fill="#2352f5"><path d="M232.6 239.2l2.5 3.2 2.4 3.3-2.4-3.8z"/></g>
<g fill="#2b64f3"><path d="M230.2 236.8l2.4 2.7 2.5 2.9-2.5-3.2z"/></g>
<g fill="#3277f1"><path d="M227.7 234.9l2.5 2.2 2.4 2.4-2.4-2.7z"/></g>
<g fill="#3a89ef"><path d="M225.3 233.2l2.4 1.7 2.5 2.2-2.5-2.2z"/><path d="M222.8 232.7l2.5 1.5 2.4 0.7-2.4-1.7z"/><path d="M220.4 232.5l2.4 1.4 2.5 0.3-2.5-1.5z"/></g>
<g fill="#3a99ef"><path d="M217.9 233.2l2.5 1.5 2.4-0.8-2.4-1.4z"/><path d="M215.5 234.3l2.4 1.5 2.5-1.1-2.5-1.5z"/><path d="M213 235.4l2.5 1.6 2.4-1.2-2.4-1.5z"/><path d="M210.6 236.6l2.4 1.5 2.5-1.1-2.5-1.6z"/><path d="M208.1 237.7l2.5 1.6 2.4-1.2-2.4-1.5z"/><path d="M205.7 238.8l2.4 1.6 2.5-1.1-2.5-1.6z"/><path d="M203.2 239.8l2.5 1.6 2.4-1-2.4-1.6z"/><path d="M200.8 240.7l2.4 1.6 2.5-0.9-2.5-1.6z"/><path d="M198.3 241.4l2.5 1.7 2.4-0.8-2.4-1.6z"/><path d="M195.9 241.9l2.4 1.7 2.5-0.5-2.5-1.7z"/><path d="M193.4 242.1l2.5 1.7 2.4-0.2-2.4-1.7z"/><path d="M191 241.2l2.4 2.1 2.5 0.5-2.5-1.7z"/></g>
<g fill="#32a6f1"><path d="M188.5 238.2l2.5 3.2 2.4 1.9-2.4-2.1z"/></g>
<g fill="#2bb4f3"><path d="M186.1 233.5l2.4 4.8 2.5 3.1-2.5-3.2z"/></g>
<g fill="#23c2f5"><path d="M183.6 230.6l2.5 5.7 2.4 2-2.4-4.8z"/><path d="M181.1 231.7l2.5 4.8 2.5-0.2-2.5-5.7z"/><path d="M178.7 234.1l2.4 3.3 2.5-0.9-2.5-4.8z"/></g>
<g fill="#0cebfc"><path d="M311 166.4l2.5 0.8 2.4-8.3-2.4-0.8z"/></g>
<g fill="#1bcff8"><path d="M308.6 174.5l2.4 0.7 2.5-8-2.5-0.8z"/></g>
<g fill="#23c2f5"><path d="M306.1 181.5l2.5 0.7 2.4-7-2.4-0.7z"/></g>
<g fill="#2bb4f3"><path d="M303.7 187.2l2.4 0.6 2.5-5.6-2.5-0.7z"/></g>
<g fill="#32a6f1"><path d="M301.2 190.8l2.5 0.5 2.4-3.5-2.4-0.6z"/><path d="M298.8 193.7l2.4 0.5 2.5-2.9-2.5-0.5z"/></g>
<g fill="#3a99ef"><path d="M296.3 196.2l2.5 0.4 2.4-2.4-2.4-0.5z"/><path d="M293.9 198.4l2.4 0.5 2.5-2.3-2.5-0.4z"/><path d="M291.4 200.4l2.5 0.5 2.4-2-2.4-0.5z"/><path d="M289 202.2l2.4 0.5 2.5-1.8-2.5-0.5z"/><path d="M286.5 203.7l2.5 0.6 2.4-1.6-2.4-0.5z"/></g>
<g fill="#3a89ef"><path d="M284.1 205.1l2.4 0.7 2.5-1.5-2.5-0.6z"/><path d="M281.6 206.5l2.5 0.7 2.4-1.4-2.4-0.7z"/><path d="M279.2 207.9l2.4 0.7 2.5-1.4-2.5-0.7z"/><path d="M276.7 209.3l2.5 0.7 2.4-1.4-2.4-0.7z"/><path d="M274.3 210.6l2.4 0.8 2.5-1.4-2.5-0.7z"/><path d="M271.8 211.9l2.5 0.8 2.4-1.3-2.4-0.8z"/><path d="M269.4 212.6l2.4 0.9 2.5-0.8-2.5-0.8z"/><path d="M266.9 213.3l2.5 0.9 2.4-0.7-2.4-0.9z"/><path d="M264.5 215.2l2.4 1.1 2.5-2.1-2.5-0.9z"/><path d="M262 217.9l2.5 1.3 2.4-2.9-2.4-1.1z"/><path d="M259.6 221l2.4 1.5 2.5-3.3-2.5-1.3z"/></g>
<g fill="#3277f1"><path d="M257.1 224.9l2.5 1.9 2.4-4.3-2.4-1.5z"/></g>
<g fill="#2b64f3"><path d="M254.7 230.1l2.4 2.5 2.5-5.8-2.5-1.9z"/></g>
<g fill="#2352f5"><path d="M252.2 237.3l2.5 3.2 2.4-7.9-2.4-2.5z"/></g>
<g fill="#1b40f8"><path d="M249.8 247l2.4 4.1 2.5-10.6-2.5-3.2z"/></g>
<g fill="#0c1bfc"><path d="M247.3 254.8l2.5 5 2.4-8.7-2.4-4.1z"/></g>
<g fill="#0409fe"><path d="M244.9 256.6l2.4 5 2.5-1.8-2.5-5z"/></g>
<g fill="#0c1bfc"><path d="M242.4 252.9l2.5 4.6 2.4 4.1-2.4-5z"/></g>
<g fill="#132efa"><path d="M240 249.4l2.4 4.1 2.5 4-2.5-4.6z"/></g>
<g fill="#1b40f8"><path d="M237.5 245.7l2.5 3.5 2.4 4.3-2.4-4.1z"/></g>
<g fill="#2352f5"><path d="M235.1 242.4l2.4 3.1 2.5 3.7-2.5-3.5z"/></g>
<g fill="#2b64f3"><path d="M232.6 239.5l2.5 2.7 2.4 3.3-2.4-3.1z"/></g>
<g fill="#3277f1"><path d="M230.2 237.1l2.4 2.1 2.5 3-2.5-2.7z"/><path d="M227.7 234.9l2.5 1.8 2.4 2.5-2.4-2.1z"/></g>
<g fill="#3a89ef"><path d="M225.3 234.2l2.4 1.5 2.5 1-2.5-1.8z"/><path d="M222.8 233.9l2.5 1.6 2.4 0.2-2.4-1.5z"/></g>
<g fill="#3a99ef"><path d="M220.4 234.7l2.4 1.6 2.5-0.8-2.5-1.6z"/><path d="M217.9 235.8l2.5 1.7 2.4-1.2-2.4-1.6z"/><path d="M215.5 237l2.4 1.7 2.5-1.2-2.5-1.7z"/><path d="M213 238.1l2.5 1.7 2.4-1.1-2.4-1.7z"/><path d="M210.6 239.3l2.4 1.7 2.5-1.2-2.5-1.7z"/><path d="M208.1 240.4l2.5 1.8 2.4-1.2-2.4-1.7z"/><path d="M205.7 241.4l2.4 1.8 2.5-1-2.5-1.8z"/><path d="M203.2 242.3l2.5 1.8 2.4-0.9-2.4-1.8z"/><path d="M200.8 243.1l2.4 1.9 2.5-0.9-2.5-1.8z"/><path d="M198.3 243.6l2.5 1.9 2.4-0.5-2.4-1.9z"/><path d="M195.9 243.8l2.4 2 2.5-0.3-2.5-1.9z"/><path d="M193.4 243.3l2.5 2.4 2.4 0.1-2.4-2z"/></g>
<g fill="#32a6f1"><path d="M191 241.4l2.4 3.3 2.5 1-2.5-2.4z"/><path d="M188.5 238.3l2.5 4.7 2.4 1.7-2.4-3.3z"/></g>
<g fill="#2bb4f3"><path d="M186.1 236.3l2.4 5.4 2.5 1.3-2.5-4.7z"/><path d="M183.6 236.5l2.5 4.9 2.4 0.3-2.4-5.4z"/></g>
<g fill="#23c2f5"><path d="M181.1 237.4l2.5 3.8 2.5 0.2-2.5-4.9z"/></g>
</g>
<text x="74.6" y="268.7" font-size="14" text-anchor="middle" font-family='"Liberation Serif","DejaVu Serif",serif' textLength="17.2" lengthAdjust="spacingAndGlyphs" >0.5</text>
<text x="109.8" y="283.0" font-size="14" text-anchor="middle" font-family='"Liberation Serif","DejaVu Serif",serif' >1</text>
<text x="142.6" y="300.9" font-size="14" text-anchor="middle" font-family='"Liberation Serif","DejaVu Serif",serif' textLength="17.2" lengthAdjust="spacingAndGlyphs" >1.5</text>
<text x="177.4" y="315.8" font-size="14" text-anchor="middle" font-family='"Liberation Serif","DejaVu Serif",serif' >2</text>
<text x="222.6" y="302.9" font-size="14" text-anchor="middle" font-family='"Liberation Serif","DejaVu Serif",serif' textLength="17.2" lengthAdjust="spacingAndGlyphs" >0.5</text>
<text x="254.8" y="283.9" font-size="14" text-anchor="middle" font-family='"Liberation Serif","DejaVu Serif",serif' >1</text>
<text x="290.5" y="269.6" font-size="14" text-anchor="middle" font-family='"Liberation Serif","DejaVu Serif",serif' textLength="17.2" lengthAdjust="spacingAndGlyphs" >1.5</text>
<text x="322.8" y="250.3" font-size="14" text-anchor="middle" font-family='"Liberation Serif","DejaVu Serif",serif' >2</text>
<text x="46.6" y="151.5" font-size="14" text-anchor="end" font-family='"Liberation Serif","DejaVu Serif",serif' >2</text>
<text x="46.6" y="195.3" font-size="14" text-anchor="end" font-family='"Liberation Serif","DejaVu Serif",serif' >0</text>
<text x="46.6" y="238.4" font-size="14" text-anchor="end" font-family='"Liberation Serif","DejaVu Serif",serif' textLength="16.4" lengthAdjust="spacingAndGlyphs" >−2</text>
<text x="92.0" y="312.6" font-size="14.5" text-anchor="middle" font-family='"Liberation Serif","DejaVu Serif",serif' textLength="26.6" lengthAdjust="spacingAndGlyphs" ><tspan font-style="italic">θ</tspan><tspan font-size="9.5" dy="2.6">1</tspan><tspan dy="-2.6">/</tspan><tspan font-style="italic">π</tspan></text>
<text x="274.8" y="312.9" font-size="14.5" text-anchor="middle" font-family='"Liberation Serif","DejaVu Serif",serif' textLength="26.6" lengthAdjust="spacingAndGlyphs" ><tspan font-style="italic">θ</tspan><tspan font-size="9.5" dy="2.6">2</tspan><tspan dy="-2.6">/</tspan><tspan font-style="italic">π</tspan></text>
<text transform="translate(17.0 191) rotate(-90)" font-size="14.5" text-anchor="middle" textLength="51.5" lengthAdjust="spacingAndGlyphs" font-family='"Liberation Serif","DejaVu Serif",serif'>Φ/(<tspan font-style="italic">k</tspan><tspan font-style="italic" font-size="9.5" dy="2.4">B</tspan><tspan font-style="italic" dy="-2.4">T</tspan>)</text>
<g stroke="#c8c8c8" stroke-width="0.6" fill="none">
<path d="M441.8 252.4L574.1 188.4" />
<path d="M441.8 221.6L574.1 285.6" />
<path d="M441.8 221.6L441.8 131.1" />
<path d="M574.1 188.4L574.1 97.9" />
<path d="M475.3 268.6L607.6 204.6" />
<path d="M475.3 205.4L607.6 269.4" />
<path d="M475.3 205.4L475.3 114.9" />
<path d="M607.6 204.6L607.6 114.1" />
<path d="M508.8 284.8L641.1 220.8" />
<path d="M508.8 189.2L641.1 253.2" />
<path d="M508.8 189.2L508.8 98.7" />
<path d="M641.1 220.8L641.1 130.3" />
<path d="M410.0 233.4L542.3 169.4" />
<path d="M542.3 169.4L674.6 233.4" />
<path d="M410.0 192.8L542.3 128.8" />
<path d="M542.3 128.8L674.6 192.8" />
<path d="M410.0 152.2L542.3 88.2" />
<path d="M542.3 88.2L674.6 152.2" />
</g>
<g stroke="#222" stroke-width="0.95" fill="none" stroke-linecap="square">
<path d="M410.0 146.5L542.3 82.5L674.6 146.5"/>
<path d="M410.0 237.0L542.3 173.0L674.6 237.0L542.3 301.0z"/>
<path d="M410.0 237.0L410.0 146.5" />
<path d="M542.3 95.4L542.3 82.5" />
<path d="M674.6 237.0L674.6 146.5" />
</g>
<g stroke="#c2c2c2" stroke-width="0.65" fill="none">
<path d="M441.8 252.4v-5"/>
<path d="M574.1 285.6v-5"/>
<path d="M441.8 131.1v5"/>
<path d="M574.1 97.9v5"/>
<path d="M475.3 268.6v-5"/>
<path d="M607.6 269.4v-5"/>
<path d="M475.3 114.9v5"/>
<path d="M607.6 114.1v5"/>
<path d="M508.8 284.8v-5"/>
<path d="M641.1 253.2v-5"/>
<path d="M508.8 98.7v5"/>
<path d="M641.1 130.3v5"/>
<path d="M542.3 301.0v-5"/>
<path d="M674.6 237.0v-5"/>
<path d="M542.3 82.5v5"/>
<path d="M674.6 146.5v5"/>
<path d="M410.0 233.4L416.0 236.3" />
<path d="M674.6 233.4L668.6 236.3" />
<path d="M410.0 192.8L416.0 195.7" />
<path d="M674.6 192.8L668.6 195.7" />
<path d="M410.0 152.2L416.0 155.1" />
<path d="M674.6 152.2L668.6 155.1" />
</g>
<g stroke="#04184a" stroke-opacity="0.55" stroke-width="0.33" stroke-linejoin="round">
<g fill="#0cebfc"><path d="M539 103.4l3.3 1.7 3.3-9.8-3.3-1.9z"/></g>
<g fill="#1bcff8"><path d="M535.7 117.6l3.3 1.3 3.3-13.8-3.3-1.7z"/></g>
<g fill="#32a6f1"><path d="M532.4 132.8l3.3 1 3.3-14.9-3.3-1.3z"/></g>
<g fill="#3277f1"><path d="M529.1 147.8l3.3 0.6 3.3-14.6-3.3-1z"/></g>
<g fill="#2352f5"><path d="M525.8 160.2l3.3 0.4 3.3-12.2-3.3-0.6z"/></g>
<g fill="#132efa"><path d="M522.5 169.1l3.3 0.1 3.3-8.6-3.3-0.4z"/></g>
<g fill="#0c1bfc"><path d="M519.1 174.9l3.4 0 3.3-5.7-3.3-0.1z"/></g>
<g fill="#0409fe"><path d="M515.8 178.9l3.3-0.1 3.4-3.9-3.4 0z"/><path d="M512.5 182.1l3.3-0.1 3.3-3.2-3.3 0.1z"/></g>
<g fill="#0000ff"><path d="M509.2 184.7l3.3-0.1 3.3-2.6-3.3 0.1z"/><path d="M505.9 185.1l3.3-0.1 3.3-0.4-3.3 0.1z"/></g>
<g fill="#0409fe"><path d="M502.6 184.9l3.3 0 3.3 0.1-3.3 0.1z"/><path d="M499.3 183.9l3.3 0 3.3 1-3.3 0z"/></g>
<g fill="#0c1bfc"><path d="M496 180.9l3.3 0.1 3.3 2.9-3.3 0z"/></g>
<g fill="#132efa"><path d="M492.7 174.6l3.3 0.3 3.3 6.1-3.3-0.1z"/></g>
<g fill="#2352f5"><path d="M489.4 164.6l3.3 0.7 3.3 9.6-3.3-0.3z"/></g>
<g fill="#3a89ef"><path d="M486.1 152.4l3.3 1 3.3 11.9-3.3-0.7z"/></g>
<g fill="#2bb4f3"><path d="M482.8 140l3.3 1.4 3.3 12-3.3-1z"/></g>
<g fill="#1bcff8"><path d="M479.4 128.9l3.4 1.7 3.3 10.8-3.3-1.4z"/></g>
<g fill="#0cebfc"><path d="M476.1 122.6l3.3 1.9 3.4 6.1-3.4-1.7z"/></g>
<g fill="#04f8fe"><path d="M472.8 126.7l3.3 1.8 3.3-4-3.3-1.9z"/></g>
<g fill="#0cebfc"><path d="M469.5 138.7l3.3 1.6 3.3-11.8-3.3-1.8z"/></g>
<g fill="#23c2f5"><path d="M466.2 153.8l3.3 1.2 3.3-14.7-3.3-1.6z"/></g>
<g fill="#3a99ef"><path d="M462.9 169.5l3.3 0.8 3.3-15.3-3.3-1.2z"/></g>
<g fill="#3277f1"><path d="M459.6 184.3l3.3 0.5 3.3-14.5-3.3-0.8z"/></g>
<g fill="#1b40f8"><path d="M456.3 196l3.3 0.3 3.3-11.5-3.3-0.5z"/></g>
<g fill="#132efa"><path d="M453 204l3.3 0 3.3-7.7-3.3-0.3z"/></g>
<g fill="#0c1bfc"><path d="M449.7 209.2l3.3 0 3.3-5.2-3.3 0z"/></g>
<g fill="#0409fe"><path d="M446.4 213l3.3-0.1 3.3-3.7-3.3 0z"/><path d="M443.1 216l3.3-0.1 3.3-3-3.3 0.1z"/></g>
<g fill="#0000ff"><path d="M439.7 218.2l3.4-0.1 3.3-2.2-3.3 0.1z"/><path d="M436.4 218.6l3.3-0.1 3.4-0.4-3.4 0.1z"/></g>
<g fill="#0409fe"><path d="M433.1 218.4l3.3 0 3.3 0.1-3.3 0.1z"/><path d="M429.8 217.3l3.3 0 3.3 1.1-3.3 0z"/></g>
<g fill="#0c1bfc"><path d="M426.5 214l3.3 0.2 3.3 3.1-3.3 0z"/></g>
<g fill="#132efa"><path d="M423.2 207.5l3.3 0.4 3.3 6.3-3.3-0.2z"/></g>
<g fill="#2352f5"><path d="M419.9 197.4l3.3 0.7 3.3 9.8-3.3-0.4z"/></g>
<g fill="#3a89ef"><path d="M416.6 185l3.3 1.3 3.3 11.8-3.3-0.7z"/></g>
<g fill="#2bb4f3"><path d="M413.3 172l3.3 2 3.3 12.3-3.3-1.3z"/></g>
<g fill="#13ddfa"><path d="M410 160.5l3.3 2.7 3.3 10.8-3.3-2z"/></g>
<g fill="#0cebfc"><path d="M542.3 105.1l3.3 1.1 3.3-8.8-3.3-2.1z"/></g>
<g fill="#1bcff8"><path d="M539 118.9l3.3-0.3 3.3-12.4-3.3-1.1z"/></g>
<g fill="#32a6f1"><path d="M535.7 133.8l3.3-1.8 3.3-13.4-3.3 0.3z"/></g>
<g fill="#3a89ef"><path d="M532.4 148.4l3.3-3.3 3.3-13.1-3.3 1.8z"/></g>
<g fill="#2352f5"><path d="M529.1 160.6l3.3-4.5 3.3-11-3.3 3.3z"/></g>
<g fill="#1b40f8"><path d="M525.8 169.2l3.3-5.3 3.3-7.8-3.3 4.5z"/></g>
<g fill="#132efa"><path d="M522.5 174.9l3.3-5.8 3.3-5.2-3.3 5.3z"/></g>
<g fill="#0c1bfc"><path d="M519.1 178.8l3.4-6 3.3-3.7-3.3 5.8z"/><path d="M515.8 182l3.3-6.2 3.4-3-3.4 6z"/></g>
<g fill="#0409fe"><path d="M512.5 184.6l3.3-6.4 3.3-2.4-3.3 6.2z"/><path d="M509.2 185l3.3-6.2 3.3-0.6-3.3 6.4z"/></g>
<g fill="#0c1bfc"><path d="M505.9 184.9l3.3-6 3.3-0.1-3.3 6.2z"/><path d="M502.6 183.9l3.3-5.7 3.3 0.7-3.3 6z"/></g>
<g fill="#132efa"><path d="M499.3 181l3.3-5.2 3.3 2.4-3.3 5.7z"/></g>
<g fill="#1b40f8"><path d="M496 174.9l3.3-4.3 3.3 5.2-3.3 5.2z"/></g>
<g fill="#2b64f3"><path d="M492.7 165.3l3.3-3.1 3.3 8.4-3.3 4.3z"/></g>
<g fill="#3a89ef"><path d="M489.4 153.4l3.3-1.6 3.3 10.4-3.3 3.1z"/></g>
<g fill="#2bb4f3"><path d="M486.1 141.4l3.3-0.1 3.3 10.5-3.3 1.6z"/></g>
<g fill="#1bcff8"><path d="M482.8 130.6l3.3 1.3 3.3 9.4-3.3 0.1z"/></g>
<g fill="#0cebfc"><path d="M479.4 124.5l3.4 2.2 3.3 5.2-3.3-1.3z"/></g>
<g fill="#04f8fe"><path d="M476.1 128.5l3.3 1.9 3.4-3.7-3.4-2.2z"/></g>
<g fill="#0cebfc"><path d="M472.8 140.3l3.3 0.7 3.3-10.6-3.3-1.9z"/></g>
<g fill="#23c2f5"><path d="M469.5 155l3.3-0.7 3.3-13.3-3.3-0.7z"/></g>
<g fill="#32a6f1"><path d="M466.2 170.3l3.3-2.2 3.3-13.8-3.3 0.7z"/></g>
<g fill="#3277f1"><path d="M462.9 184.8l3.3-3.7 3.3-13-3.3 2.2z"/></g>
<g fill="#2352f5"><path d="M459.6 196.3l3.3-4.8 3.3-10.4-3.3 3.7z"/></g>
<g fill="#132efa"><path d="M456.3 204l3.3-5.4 3.3-7.1-3.3 4.8z"/></g>
<g fill="#0c1bfc"><path d="M453 209.2l3.3-5.9 3.3-4.7-3.3 5.4z"/><path d="M449.7 212.9l3.3-6.1 3.3-3.5-3.3 5.9z"/><path d="M446.4 215.9l3.3-6.3 3.3-2.8-3.3 6.1z"/></g>
<g fill="#0409fe"><path d="M443.1 218.1l3.3-6.3 3.3-2.2-3.3 6.3z"/><path d="M439.7 218.5l3.4-6.2 3.3-0.5-3.3 6.3z"/></g>
<g fill="#0c1bfc"><path d="M436.4 218.4l3.3-6 3.4-0.1-3.4 6.2z"/><path d="M433.1 217.3l3.3-5.7 3.3 0.8-3.3 6z"/></g>
<g fill="#132efa"><path d="M429.8 214.2l3.3-5.1 3.3 2.5-3.3 5.7z"/></g>
<g fill="#1b40f8"><path d="M426.5 207.9l3.3-4.2 3.3 5.4-3.3 5.1z"/></g>
<g fill="#2b64f3"><path d="M423.2 198.1l3.3-2.8 3.3 8.4-3.3 4.2z"/></g>
<g fill="#3a89ef"><path d="M419.9 186.3l3.3-1.1 3.3 10.1-3.3 2.8z"/></g>
<g fill="#2bb4f3"><path d="M416.6 174l3.3 0.8 3.3 10.4-3.3 1.1z"/></g>
<g fill="#13ddfa"><path d="M413.3 163.2l3.3 2.5 3.3 9.1-3.3-0.8z"/></g>
<g fill="#0cebfc"><path d="M545.6 106.2l3.3-1.2 3.3-5.7-3.3-1.9z"/></g>
<g fill="#1bcff8"><path d="M542.3 118.6l3.3-6 3.3-7.6-3.3 1.2z"/></g>
<g fill="#23c2f5"><path d="M539 132l3.3-11.1 3.3-8.3-3.3 6z"/></g>
<g fill="#32a6f1"><path d="M535.7 145.1l3.3-16.2 3.3-8-3.3 11.1z"/></g>
<g fill="#3a89ef"><path d="M532.4 156.1l3.3-20.3 3.3-6.9-3.3 16.2z"/></g>
<g fill="#3277f1"><path d="M529.1 163.9l3.3-23 3.3-5.1-3.3 20.3z"/></g>
<g fill="#2b64f3"><path d="M525.8 169.1l3.3-24.6 3.3-3.6-3.3 23z"/><path d="M522.5 172.8l3.3-25.5 3.3-2.8-3.3 24.6z"/></g>
<g fill="#2352f5"><path d="M519.1 175.8l3.4-26.1 3.3-2.4-3.3 25.5z"/><path d="M515.8 178.2l3.3-26.5 3.4-2-3.4 26.1z"/><path d="M512.5 178.8l3.3-26.1 3.3-1-3.3 26.5z"/><path d="M509.2 178.9l3.3-25.4 3.3-0.8-3.3 26.1z"/></g>
<g fill="#2b64f3"><path d="M505.9 178.2l3.3-24.5 3.3-0.2-3.3 25.4z"/><path d="M502.6 175.8l3.3-22.8 3.3 0.7-3.3 24.5z"/></g>
<g fill="#3277f1"><path d="M499.3 170.6l3.3-19.9 3.3 2.3-3.3 22.8z"/></g>
<g fill="#3a89ef"><path d="M496 162.2l3.3-15.7 3.3 4.2-3.3 19.9z"/></g>
<g fill="#32a6f1"><path d="M492.7 151.8l3.3-10.6 3.3 5.3-3.3 15.7z"/></g>
<g fill="#23c2f5"><path d="M489.4 141.3l3.3-5.5 3.3 5.4-3.3 10.6z"/></g>
<g fill="#13ddfa"><path d="M486.1 131.9l3.3-0.8 3.3 4.7-3.3 5.5z"/></g>
<g fill="#0cebfc"><path d="M482.8 126.7l3.3 2.1 3.3 2.3-3.3 0.8z"/></g>
<g fill="#04f8fe"><path d="M479.4 130.4l3.4 1.2 3.3-2.8-3.3-2.1z"/></g>
<g fill="#0cebfc"><path d="M476.1 141l3.3-2.6 3.4-6.8-3.4-1.2z"/></g>
<g fill="#1bcff8"><path d="M472.8 154.3l3.3-7.5 3.3-8.4-3.3 2.6z"/></g>
<g fill="#2bb4f3"><path d="M469.5 168.1l3.3-12.7 3.3-8.6-3.3 7.5z"/></g>
<g fill="#3a99ef"><path d="M466.2 181.1l3.3-17.6 3.3-8.1-3.3 12.7z"/></g>
<g fill="#3a89ef"><path d="M462.9 191.5l3.3-21.3 3.3-6.7-3.3 17.6z"/></g>
<g fill="#3277f1"><path d="M459.6 198.6l3.3-23.6 3.3-4.8-3.3 21.3z"/></g>
<g fill="#2b64f3"><path d="M456.3 203.3l3.3-24.9 3.3-3.4-3.3 23.6z"/></g>
<g fill="#2352f5"><path d="M453 206.8l3.3-25.7 3.3-2.7-3.3 24.9z"/><path d="M449.7 209.6l3.3-26.2 3.3-2.3-3.3 25.7z"/><path d="M446.4 211.8l3.3-26.5 3.3-1.9-3.3 26.2z"/><path d="M443.1 212.3l3.3-26 3.3-1-3.3 26.5z"/><path d="M439.7 212.4l3.4-25.3 3.3-0.8-3.3 26z"/></g>
<g fill="#2b64f3"><path d="M436.4 211.6l3.3-24.2 3.4-0.3-3.4 25.3z"/><path d="M433.1 209.1l3.3-22.4 3.3 0.7-3.3 24.2z"/></g>
<g fill="#3277f1"><path d="M429.8 203.7l3.3-19.3 3.3 2.3-3.3 22.4z"/></g>
<g fill="#3a89ef"><path d="M426.5 195.3l3.3-14.9 3.3 4-3.3 19.3z"/></g>
<g fill="#32a6f1"><path d="M423.2 185.2l3.3-9.7 3.3 4.9-3.3 14.9z"/></g>
<g fill="#23c2f5"><path d="M419.9 174.8l3.3-4.3 3.3 5-3.3 9.7z"/></g>
<g fill="#13ddfa"><path d="M416.6 165.7l3.3 0.6 3.3 4.2-3.3 4.3z"/></g>
<g fill="#0cebfc"><path d="M548.9 105l3.3 0.6 3.3-4-3.3-2.3z"/></g>
<g fill="#13ddfa"><path d="M545.6 112.6l3.3-1.8 3.3-5.2-3.3-0.6z"/></g>
<g fill="#1bcff8"><path d="M542.3 120.9l3.3-4.7 3.3-5.4-3.3 1.8z"/></g>
<g fill="#23c2f5"><path d="M539 128.9l3.3-7.3 3.3-5.4-3.3 4.7z"/></g>
<g fill="#2bb4f3"><path d="M535.7 135.8l3.3-9.5 3.3-4.7-3.3 7.3z"/></g>
<g fill="#32a6f1"><path d="M532.4 140.9l3.3-11 3.3-3.6-3.3 9.5z"/><path d="M529.1 144.5l3.3-11.8 3.3-2.8-3.3 11z"/><path d="M525.8 147.3l3.3-12.3 3.3-2.3-3.3 11.8z"/><path d="M522.5 149.7l3.3-12.6 3.3-2.1-3.3 12.3z"/></g>
<g fill="#3a99ef"><path d="M519.1 151.7l3.4-12.8 3.3-1.8-3.3 12.6z"/><path d="M515.8 152.7l3.3-12.6 3.4-1.2-3.4 12.8z"/></g>
<g fill="#32a6f1"><path d="M512.5 153.5l3.3-12.3 3.3-1.1-3.3 12.6z"/><path d="M509.2 153.7l3.3-11.7 3.3-0.8-3.3 12.3z"/><path d="M505.9 153l3.3-10.8 3.3-0.2-3.3 11.7z"/></g>
<g fill="#2bb4f3"><path d="M502.6 150.7l3.3-9.3 3.3 0.8-3.3 10.8z"/><path d="M499.3 146.5l3.3-7 3.3 1.9-3.3 9.3z"/></g>
<g fill="#23c2f5"><path d="M496 141.2l3.3-4.3 3.3 2.6-3.3 7z"/></g>
<g fill="#13ddfa"><path d="M492.7 135.8l3.3-1.5 3.3 2.6-3.3 4.3z"/></g>
<g fill="#0cebfc"><path d="M489.4 131.1l3.3 1 3.3 2.2-3.3 1.5z"/></g>
<g fill="#04f8fe"><path d="M486.1 128.8l3.3 2.5 3.3 0.8-3.3-1z"/><path d="M482.8 131.6l3.3 2 3.3-2.3-3.3-2.5z"/></g>
<g fill="#0cebfc"><path d="M479.4 138.4l3.4 0 3.3-4.8-3.3-2z"/></g>
<g fill="#13ddfa"><path d="M476.1 146.8l3.3-2.7 3.4-5.7-3.4 0z"/></g>
<g fill="#1bcff8"><path d="M472.8 155.4l3.3-5.5 3.3-5.8-3.3 2.7z"/></g>
<g fill="#23c2f5"><path d="M469.5 163.5l3.3-8 3.3-5.6-3.3 5.5z"/></g>
<g fill="#2bb4f3"><path d="M466.2 170.2l3.3-10 3.3-4.7-3.3 8z"/></g>
<g fill="#32a6f1"><path d="M462.9 175l3.3-11.3 3.3-3.5-3.3 10z"/><path d="M459.6 178.4l3.3-12 3.3-2.7-3.3 11.3z"/><path d="M456.3 181.1l3.3-12.4 3.3-2.3-3.3 12z"/><path d="M453 183.4l3.3-12.7 3.3-2-3.3 12.4z"/></g>
<g fill="#3a99ef"><path d="M449.7 185.3l3.3-12.8 3.3-1.8-3.3 12.7z"/><path d="M446.4 186.3l3.3-12.5 3.3-1.3-3.3 12.8z"/></g>
<g fill="#32a6f1"><path d="M443.1 187.1l3.3-12.2 3.3-1.1-3.3 12.5z"/><path d="M439.7 187.4l3.4-11.6 3.3-0.9-3.3 12.2z"/><path d="M436.4 186.7l3.3-10.7 3.4-0.2-3.4 11.6z"/></g>
<g fill="#2bb4f3"><path d="M433.1 184.4l3.3-9 3.3 0.6-3.3 10.7z"/><path d="M429.8 180.4l3.3-6.6 3.3 1.6-3.3 9z"/></g>
<g fill="#23c2f5"><path d="M426.5 175.5l3.3-3.8 3.3 2.1-3.3 6.6z"/></g>
<g fill="#1bcff8"><path d="M423.2 170.5l3.3-1 3.3 2.2-3.3 3.8z"/></g>
<g fill="#13ddfa"><path d="M419.9 166.3l3.3 1.5 3.3 1.7-3.3 1z"/></g>
<g fill="#0cebfc"><path d="M552.2 105.6l3.3 1.8 3.3-3.2-3.3-2.6z"/><path d="M548.9 110.8l3.3 0.6 3.3-4-3.3-1.8z"/></g>
<g fill="#13ddfa"><path d="M545.6 116.2l3.3-0.6 3.3-4.2-3.3-0.6z"/></g>
<g fill="#1bcff8"><path d="M542.3 121.6l3.3-1.9 3.3-4.1-3.3 0.6z"/><path d="M539 126.3l3.3-2.9 3.3-3.7-3.3 1.9z"/></g>
<g fill="#23c2f5"><path d="M535.7 129.9l3.3-3.6 3.3-2.9-3.3 2.9z"/><path d="M532.4 132.7l3.3-4 3.3-2.4-3.3 3.6z"/><path d="M529.1 135l3.3-4.2 3.3-2.1-3.3 4z"/><path d="M525.8 137.1l3.3-4.4 3.3-1.9-3.3 4.2z"/><path d="M522.5 138.9l3.3-4.5 3.3-1.7-3.3 4.4z"/><path d="M519.1 140.1l3.4-4.3 3.3-1.4-3.3 4.5z"/><path d="M515.8 141.2l3.3-4.2 3.4-1.2-3.4 4.3z"/><path d="M512.5 142l3.3-4 3.3-1-3.3 4.2z"/><path d="M509.2 142.2l3.3-3.5 3.3-0.7-3.3 4z"/><path d="M505.9 141.4l3.3-2.8 3.3 0.1-3.3 3.5z"/></g>
<g fill="#1bcff8"><path d="M502.6 139.5l3.3-1.8 3.3 0.9-3.3 2.8z"/></g>
<g fill="#13ddfa"><path d="M499.3 136.9l3.3-0.5 3.3 1.3-3.3 1.8z"/><path d="M496 134.3l3.3 0.8 3.3 1.3-3.3 0.5z"/></g>
<g fill="#0cebfc"><path d="M492.7 132.1l3.3 1.9 3.3 1.1-3.3-0.8z"/></g>
<g fill="#04f8fe"><path d="M489.4 131.3l3.3 2.6 3.3 0.1-3.3-1.9z"/><path d="M486.1 133.6l3.3 2.4 3.3-2.1-3.3-2.6z"/></g>
<g fill="#0cebfc"><path d="M482.8 138.4l3.3 1.4 3.3-3.8-3.3-2.4z"/><path d="M479.4 144.1l3.4 0.2 3.3-4.5-3.3-1.4z"/></g>
<g fill="#13ddfa"><path d="M476.1 149.9l3.3-1 3.4-4.6-3.4-0.2z"/></g>
<g fill="#1bcff8"><path d="M472.8 155.5l3.3-2.2 3.3-4.4-3.3 1z"/><path d="M469.5 160.2l3.3-3.2 3.3-3.7-3.3 2.2z"/></g>
<g fill="#23c2f5"><path d="M466.2 163.7l3.3-3.8 3.3-2.9-3.3 3.2z"/><path d="M462.9 166.4l3.3-4.1 3.3-2.4-3.3 3.8z"/><path d="M459.6 168.7l3.3-4.3 3.3-2.1-3.3 4.1z"/><path d="M456.3 170.7l3.3-4.4 3.3-1.9-3.3 4.3z"/><path d="M453 172.5l3.3-4.4 3.3-1.8-3.3 4.4z"/><path d="M449.7 173.8l3.3-4.4 3.3-1.3-3.3 4.4z"/><path d="M446.4 174.9l3.3-4.2 3.3-1.3-3.3 4.4z"/><path d="M443.1 175.8l3.3-4 3.3-1.1-3.3 4.2z"/><path d="M439.7 176l3.4-3.4 3.3-0.8-3.3 4z"/><path d="M436.4 175.4l3.3-2.7 3.4-0.1-3.4 3.4z"/></g>
<g fill="#1bcff8"><path d="M433.1 173.8l3.3-1.6 3.3 0.5-3.3 2.7z"/><path d="M429.8 171.7l3.3-0.3 3.3 0.8-3.3 1.6z"/></g>
<g fill="#13ddfa"><path d="M426.5 169.5l3.3 1 3.3 0.9-3.3 0.3z"/></g>
<g fill="#0cebfc"><path d="M423.2 167.8l3.3 2.2 3.3 0.5-3.3-1z"/><path d="M555.5 107.4l3.3 2.1 3.3-2.7-3.3-2.6z"/><path d="M552.2 111.4l3.3 1.2 3.3-3.1-3.3-2.1z"/></g>
<g fill="#13ddfa"><path d="M548.9 115.6l3.3 0.3 3.3-3.3-3.3-1.2z"/><path d="M545.6 119.7l3.3-0.5 3.3-3.3-3.3-0.3z"/></g>
<g fill="#1bcff8"><path d="M542.3 123.4l3.3-1.3 3.3-2.9-3.3 0.5z"/><path d="M539 126.3l3.3-1.7 3.3-2.5-3.3 1.3z"/><path d="M535.7 128.7l3.3-2 3.3-2.1-3.3 1.7z"/><path d="M532.4 130.8l3.3-2.2 3.3-1.9-3.3 2z"/><path d="M529.1 132.7l3.3-2.3 3.3-1.8-3.3 2.2z"/><path d="M525.8 134.4l3.3-2.3 3.3-1.7-3.3 2.3z"/><path d="M522.5 135.8l3.3-2.3 3.3-1.4-3.3 2.3z"/><path d="M519.1 137l3.4-2.1 3.3-1.4-3.3 2.3z"/><path d="M515.8 138l3.3-1.9 3.4-1.2-3.4 2.1z"/><path d="M512.5 138.7l3.3-1.7 3.3-0.9-3.3 1.9z"/><path d="M509.2 138.6l3.3-1.2 3.3-0.4-3.3 1.7z"/><path d="M505.9 137.7l3.3-0.4 3.3 0.1-3.3 1.2z"/></g>
<g fill="#13ddfa"><path d="M502.6 136.4l3.3 0.5 3.3 0.4-3.3 0.4z"/><path d="M499.3 135.1l3.3 1.3 3.3 0.5-3.3-0.5z"/></g>
<g fill="#0cebfc"><path d="M496 134l3.3 2.1 3.3 0.3-3.3-1.3z"/><path d="M492.7 133.9l3.3 2.6 3.3-0.4-3.3-2.1z"/><path d="M489.4 136l3.3 2.5 3.3-2-3.3-2.6z"/><path d="M486.1 139.8l3.3 1.8 3.3-3.1-3.3-2.5z"/><path d="M482.8 144.3l3.3 0.9 3.3-3.6-3.3-1.8z"/></g>
<g fill="#13ddfa"><path d="M479.4 148.9l3.4 0 3.3-3.7-3.3-0.9z"/><path d="M476.1 153.3l3.3-0.8 3.4-3.6-3.4 0z"/></g>
<g fill="#1bcff8"><path d="M472.8 157l3.3-1.4 3.3-3.1-3.3 0.8z"/><path d="M469.5 159.9l3.3-1.8 3.3-2.5-3.3 1.4z"/><path d="M466.2 162.3l3.3-2 3.3-2.2-3.3 1.8z"/><path d="M462.9 164.4l3.3-2.2 3.3-1.9-3.3 2z"/><path d="M459.6 166.3l3.3-2.3 3.3-1.8-3.3 2.2z"/><path d="M456.3 168.1l3.3-2.3 3.3-1.8-3.3 2.3z"/><path d="M453 169.4l3.3-2.2 3.3-1.4-3.3 2.3z"/><path d="M449.7 170.7l3.3-2.1 3.3-1.4-3.3 2.2z"/><path d="M446.4 171.8l3.3-1.9 3.3-1.3-3.3 2.1z"/><path d="M443.1 172.6l3.3-1.7 3.3-1-3.3 1.9z"/><path d="M439.7 172.7l3.4-1.1 3.3-0.7-3.3 1.7z"/><path d="M436.4 172.2l3.3-0.3 3.4-0.3-3.4 1.1z"/></g>
<g fill="#13ddfa"><path d="M433.1 171.4l3.3 0.5 3.3 0-3.3 0.3z"/><path d="M429.8 170.5l3.3 1.5 3.3-0.1-3.3-0.5z"/></g>
<g fill="#0cebfc"><path d="M426.5 170l3.3 2.2 3.3-0.2-3.3-1.5z"/><path d="M558.8 109.5l3.3 2 3.4-2.2-3.4-2.5z"/><path d="M555.5 112.6l3.3 1.5 3.3-2.6-3.3-2z"/></g>
<g fill="#13ddfa"><path d="M552.2 115.9l3.3 0.8 3.3-2.6-3.3-1.5z"/><path d="M548.9 119.2l3.3 0.1 3.3-2.6-3.3-0.8z"/><path d="M545.6 122.1l3.3-0.4 3.3-2.4-3.3-0.1z"/><path d="M542.3 124.6l3.3-0.7 3.3-2.2-3.3 0.4z"/></g>
<g fill="#1bcff8"><path d="M539 126.7l3.3-0.9 3.3-1.9-3.3 0.7z"/><path d="M535.7 128.6l3.3-1 3.3-1.8-3.3 0.9z"/><path d="M532.4 130.4l3.3-1.1 3.3-1.7-3.3 1z"/><path d="M529.1 132.1l3.3-1.2 3.3-1.6-3.3 1.1z"/><path d="M525.8 133.5l3.3-1.1 3.3-1.5-3.3 1.2z"/><path d="M522.5 134.9l3.3-1.1 3.3-1.4-3.3 1.1z"/><path d="M519.1 136.1l3.4-0.9 3.3-1.4-3.3 1.1z"/><path d="M515.8 137l3.3-0.7 3.4-1.1-3.4 0.9z"/></g>
<g fill="#13ddfa"><path d="M512.5 137.4l3.3-0.3 3.3-0.8-3.3 0.7z"/><path d="M509.2 137.3l3.3 0.2 3.3-0.4-3.3 0.3z"/><path d="M505.9 136.9l3.3 0.8 3.3-0.2-3.3-0.2z"/></g>
<g fill="#0cebfc"><path d="M502.6 136.4l3.3 1.5 3.3-0.2-3.3-0.8z"/><path d="M499.3 136.1l3.3 2.1 3.3-0.3-3.3-1.5z"/><path d="M496 136.5l3.3 2.5 3.3-0.8-3.3-2.1z"/><path d="M492.7 138.5l3.3 2.4 3.3-1.9-3.3-2.5z"/><path d="M489.4 141.6l3.3 1.9 3.3-2.6-3.3-2.4z"/><path d="M486.1 145.2l3.3 1.3 3.3-3-3.3-1.9z"/></g>
<g fill="#13ddfa"><path d="M482.8 148.9l3.3 0.6 3.3-3-3.3-1.3z"/><path d="M479.4 152.5l3.4 0 3.3-3-3.3-0.6z"/><path d="M476.1 155.6l3.3-0.5 3.4-2.6-3.4 0z"/><path d="M472.8 158.1l3.3-0.8 3.3-2.2-3.3 0.5z"/></g>
<g fill="#1bcff8"><path d="M469.5 160.3l3.3-1 3.3-2-3.3 0.8z"/><path d="M466.2 162.2l3.3-1.1 3.3-1.8-3.3 1z"/><path d="M462.9 164l3.3-1.1 3.3-1.8-3.3 1.1z"/><path d="M459.6 165.8l3.3-1.2 3.3-1.7-3.3 1.1z"/><path d="M456.3 167.2l3.3-1.1 3.3-1.5-3.3 1.2z"/><path d="M453 168.6l3.3-1 3.3-1.5-3.3 1.1z"/><path d="M449.7 169.9l3.3-0.9 3.3-1.4-3.3 1z"/><path d="M446.4 170.9l3.3-0.6 3.3-1.3-3.3 0.9z"/></g>
<g fill="#13ddfa"><path d="M443.1 171.6l3.3-0.2 3.3-1.1-3.3 0.6z"/><path d="M439.7 171.9l3.4 0.3 3.3-0.8-3.3 0.2z"/><path d="M436.4 171.9l3.3 1 3.4-0.7-3.4-0.3z"/><path d="M433.1 172l3.3 1.6 3.3-0.7-3.3-1z"/><path d="M429.8 172.2l3.3 2.2 3.3-0.8-3.3-1.6z"/></g>
<g fill="#0cebfc"><path d="M562.1 111.5l3.4 2 3.3-2-3.3-2.2z"/></g>
<g fill="#13ddfa"><path d="M558.8 114.1l3.3 1.5 3.4-2.1-3.4-2z"/><path d="M555.5 116.7l3.3 1.1 3.3-2.2-3.3-1.5z"/><path d="M552.2 119.3l3.3 0.6 3.3-2.1-3.3-1.1z"/><path d="M548.9 121.7l3.3 0.3 3.3-2.1-3.3-0.6z"/><path d="M545.6 123.9l3.3 0 3.3-1.9-3.3-0.3z"/><path d="M542.3 125.8l3.3-0.1 3.3-1.8-3.3 0z"/><path d="M539 127.6l3.3-0.2 3.3-1.7-3.3 0.1z"/><path d="M535.7 129.3l3.3-0.3 3.3-1.6-3.3 0.2z"/><path d="M532.4 130.9l3.3-0.3 3.3-1.6-3.3 0.3z"/><path d="M529.1 132.4l3.3-0.3 3.3-1.5-3.3 0.3z"/><path d="M525.8 133.8l3.3-0.2 3.3-1.5-3.3 0.3z"/><path d="M522.5 135.2l3.3-0.2 3.3-1.4-3.3 0.2z"/><path d="M519.1 136.3l3.4 0 3.3-1.3-3.3 0.2z"/><path d="M515.8 137.1l3.3 0.3 3.4-1.1-3.4 0z"/><path d="M512.5 137.5l3.3 0.7 3.3-0.8-3.3-0.3z"/><path d="M509.2 137.7l3.3 1.1 3.3-0.6-3.3-0.7z"/></g>
<g fill="#0cebfc"><path d="M505.9 137.9l3.3 1.6 3.3-0.7-3.3-1.1z"/><path d="M502.6 138.2l3.3 2 3.3-0.7-3.3-1.6z"/><path d="M499.3 139l3.3 2.3 3.3-1.1-3.3-2z"/><path d="M496 140.9l3.3 2.2 3.3-1.8-3.3-2.3z"/><path d="M492.7 143.5l3.3 1.9 3.3-2.3-3.3-2.2z"/><path d="M489.4 146.5l3.3 1.4 3.3-2.5-3.3-1.9z"/><path d="M486.1 149.5l3.3 0.9 3.3-2.5-3.3-1.4z"/></g>
<g fill="#13ddfa"><path d="M482.8 152.5l3.3 0.4 3.3-2.5-3.3-0.9z"/><path d="M479.4 155.1l3.4 0.1 3.3-2.3-3.3-0.4z"/><path d="M476.1 157.3l3.3 0 3.4-2.1-3.4-0.1z"/><path d="M472.8 159.3l3.3-0.2 3.3-1.8-3.3 0z"/><path d="M469.5 161.1l3.3-0.2 3.3-1.8-3.3 0.2z"/><path d="M466.2 162.9l3.3-0.3 3.3-1.7-3.3 0.2z"/><path d="M462.9 164.6l3.3-0.3 3.3-1.7-3.3 0.3z"/><path d="M459.6 166.1l3.3-0.3 3.3-1.5-3.3 0.3z"/><path d="M456.3 167.6l3.3-0.2 3.3-1.6-3.3 0.3z"/><path d="M453 169l3.3-0.1 3.3-1.5-3.3 0.2z"/><path d="M449.7 170.3l3.3 0 3.3-1.4-3.3 0.1z"/><path d="M446.4 171.4l3.3 0.3 3.3-1.4-3.3 0z"/><path d="M443.1 172.2l3.3 0.7 3.3-1.2-3.3-0.3z"/><path d="M439.7 172.9l3.4 1.2 3.3-1.2-3.3-0.7z"/><path d="M436.4 173.6l3.3 1.7 3.4-1.2-3.4-1.2z"/><path d="M433.1 174.4l3.3 2.1 3.3-1.2-3.3-1.7z"/></g>
<g fill="#0cebfc"><path d="M565.5 113.5l3.3 1.7 3.3-1.7-3.3-2z"/></g>
<g fill="#13ddfa"><path d="M562.1 115.6l3.4 1.4 3.3-1.8-3.3-1.7z"/><path d="M558.8 117.8l3.3 1.1 3.4-1.9-3.4-1.4z"/><path d="M555.5 119.9l3.3 0.8 3.3-1.8-3.3-1.1z"/><path d="M552.2 122l3.3 0.5 3.3-1.8-3.3-0.8z"/><path d="M548.9 123.9l3.3 0.3 3.3-1.7-3.3-0.5z"/><path d="M545.6 125.7l3.3 0.2 3.3-1.7-3.3-0.3z"/><path d="M542.3 127.4l3.3 0.2 3.3-1.7-3.3-0.2z"/><path d="M539 129l3.3 0.2 3.3-1.6-3.3-0.2z"/><path d="M535.7 130.6l3.3 0.1 3.3-1.5-3.3-0.2z"/><path d="M532.4 132.1l3.3 0.2 3.3-1.6-3.3-0.1z"/><path d="M529.1 133.6l3.3 0.2 3.3-1.5-3.3-0.2z"/><path d="M525.8 135l3.3 0.3 3.3-1.5-3.3-0.2z"/><path d="M522.5 136.3l3.3 0.4 3.3-1.4-3.3-0.3z"/><path d="M519.1 137.4l3.4 0.5 3.3-1.2-3.3-0.4z"/><path d="M515.8 138.2l3.3 0.8 3.4-1.1-3.4-0.5z"/></g>
<g fill="#0cebfc"><path d="M512.5 138.8l3.3 1.2 3.3-1-3.3-0.8z"/><path d="M509.2 139.5l3.3 1.5 3.3-1-3.3-1.2z"/><path d="M505.9 140.2l3.3 1.8 3.3-1-3.3-1.5z"/><path d="M502.6 141.3l3.3 1.9 3.3-1.2-3.3-1.8z"/><path d="M499.3 143.1l3.3 1.9 3.3-1.8-3.3-1.9z"/><path d="M496 145.4l3.3 1.6 3.3-2-3.3-1.9z"/><path d="M492.7 147.9l3.3 1.3 3.3-2.2-3.3-1.6z"/><path d="M489.4 150.4l3.3 1.1 3.3-2.3-3.3-1.3z"/></g>
<g fill="#13ddfa"><path d="M486.1 152.9l3.3 0.8 3.3-2.2-3.3-1.1z"/><path d="M482.8 155.2l3.3 0.5 3.3-2-3.3-0.8z"/><path d="M479.4 157.3l3.4 0.3 3.3-1.9-3.3-0.5z"/><path d="M476.1 159.1l3.3 0.3 3.4-1.8-3.4-0.3z"/><path d="M472.8 160.9l3.3 0.1 3.3-1.6-3.3-0.3z"/><path d="M469.5 162.6l3.3 0.1 3.3-1.7-3.3-0.1z"/><path d="M466.2 164.3l3.3 0.1 3.3-1.7-3.3-0.1z"/><path d="M462.9 165.8l3.3 0.2 3.3-1.6-3.3-0.1z"/><path d="M459.6 167.4l3.3 0.2 3.3-1.6-3.3-0.2z"/><path d="M456.3 168.9l3.3 0.3 3.3-1.6-3.3-0.2z"/><path d="M453 170.3l3.3 0.4 3.3-1.5-3.3-0.3z"/><path d="M449.7 171.7l3.3 0.6 3.3-1.6-3.3-0.4z"/><path d="M446.4 172.9l3.3 0.9 3.3-1.5-3.3-0.6z"/><path d="M443.1 174.1l3.3 1.2 3.3-1.5-3.3-0.9z"/><path d="M439.7 175.3l3.4 1.5 3.3-1.5-3.3-1.2z"/><path d="M436.4 176.5l3.3 1.8 3.4-1.5-3.4-1.5z"/></g>
<g fill="#0cebfc"><path d="M568.8 115.2l3.3 1.6 3.3-1.7-3.3-1.6z"/></g>
<g fill="#13ddfa"><path d="M565.5 117l3.3 1.6 3.3-1.8-3.3-1.6z"/><path d="M562.1 118.9l3.4 1.5 3.3-1.8-3.3-1.6z"/><path d="M558.8 120.7l3.3 1.5 3.4-1.8-3.4-1.5z"/><path d="M555.5 122.5l3.3 1.4 3.3-1.7-3.3-1.5z"/><path d="M552.2 124.2l3.3 1.4 3.3-1.7-3.3-1.4z"/><path d="M548.9 125.9l3.3 1.4 3.3-1.7-3.3-1.4z"/><path d="M545.6 127.6l3.3 1.3 3.3-1.6-3.3-1.4z"/><path d="M542.3 129.2l3.3 1.3 3.3-1.6-3.3-1.3z"/><path d="M539 130.7l3.3 1.4 3.3-1.6-3.3-1.3z"/><path d="M535.7 132.3l3.3 1.3 3.3-1.5-3.3-1.4z"/><path d="M532.4 133.8l3.3 1.4 3.3-1.6-3.3-1.3z"/><path d="M529.1 135.3l3.3 1.4 3.3-1.5-3.3-1.4z"/><path d="M525.8 136.7l3.3 1.4 3.3-1.4-3.3-1.4z"/><path d="M522.5 137.9l3.3 1.4 3.3-1.2-3.3-1.4z"/></g>
<g fill="#0cebfc"><path d="M519.1 139l3.4 1.5 3.3-1.2-3.3-1.4z"/><path d="M515.8 140l3.3 1.5 3.4-1-3.4-1.5z"/><path d="M512.5 141l3.3 1.5 3.3-1-3.3-1.5z"/><path d="M509.2 142l3.3 1.6 3.3-1.1-3.3-1.5z"/><path d="M505.9 143.2l3.3 1.7 3.3-1.3-3.3-1.6z"/><path d="M502.6 145l3.3 1.6 3.3-1.7-3.3-1.7z"/><path d="M499.3 147l3.3 1.6 3.3-2-3.3-1.6z"/><path d="M496 149.2l3.3 1.6 3.3-2.2-3.3-1.6z"/><path d="M492.7 151.5l3.3 1.4 3.3-2.1-3.3-1.6z"/><path d="M489.4 153.7l3.3 1.4 3.3-2.2-3.3-1.4z"/></g>
<g fill="#13ddfa"><path d="M486.1 155.7l3.3 1.4 3.3-2-3.3-1.4z"/><path d="M482.8 157.6l3.3 1.4 3.3-1.9-3.3-1.4z"/><path d="M479.4 159.4l3.4 1.3 3.3-1.7-3.3-1.4z"/><path d="M476.1 161l3.3 1.4 3.4-1.7-3.4-1.3z"/><path d="M472.8 162.7l3.3 1.4 3.3-1.7-3.3-1.4z"/><path d="M469.5 164.4l3.3 1.4 3.3-1.7-3.3-1.4z"/><path d="M466.2 166l3.3 1.4 3.3-1.6-3.3-1.4z"/><path d="M462.9 167.6l3.3 1.3 3.3-1.5-3.3-1.4z"/><path d="M459.6 169.2l3.3 1.3 3.3-1.6-3.3-1.3z"/><path d="M456.3 170.7l3.3 1.4 3.3-1.6-3.3-1.3z"/><path d="M453 172.3l3.3 1.4 3.3-1.6-3.3-1.4z"/><path d="M449.7 173.8l3.3 1.4 3.3-1.5-3.3-1.4z"/><path d="M446.4 175.3l3.3 1.5 3.3-1.6-3.3-1.4z"/><path d="M443.1 176.8l3.3 1.5 3.3-1.5-3.3-1.5z"/><path d="M439.7 178.3l3.4 1.6 3.3-1.6-3.3-1.5z"/></g>
<g fill="#0cebfc"><path d="M572.1 116.8l3.3 1.5 3.3-1.9-3.3-1.3z"/></g>
<g fill="#13ddfa"><path d="M568.8 118.6l3.3 1.8 3.3-2.1-3.3-1.5z"/><path d="M565.5 120.4l3.3 2 3.3-2-3.3-1.8z"/><path d="M562.1 122.2l3.4 2.3 3.3-2.1-3.3-2z"/><path d="M558.8 123.9l3.3 2.6 3.4-2-3.4-2.3z"/><path d="M555.5 125.6l3.3 2.7 3.3-1.8-3.3-2.6z"/><path d="M552.2 127.3l3.3 2.8 3.3-1.8-3.3-2.7z"/><path d="M548.9 128.9l3.3 2.9 3.3-1.7-3.3-2.8z"/><path d="M545.6 130.5l3.3 2.9 3.3-1.6-3.3-2.9z"/><path d="M542.3 132.1l3.3 2.9 3.3-1.6-3.3-2.9z"/><path d="M539 133.6l3.3 2.9 3.3-1.5-3.3-2.9z"/><path d="M535.7 135.2l3.3 2.8 3.3-1.5-3.3-2.9z"/><path d="M532.4 136.7l3.3 2.8 3.3-1.5-3.3-2.8z"/><path d="M529.1 138.1l3.3 2.7 3.3-1.3-3.3-2.8z"/><path d="M525.8 139.3l3.3 2.6 3.3-1.1-3.3-2.7z"/><path d="M522.5 140.5l3.3 2.3 3.3-0.9-3.3-2.6z"/></g>
<g fill="#0cebfc"><path d="M519.1 141.5l3.4 2 3.3-0.7-3.3-2.3z"/><path d="M515.8 142.5l3.3 1.8 3.4-0.8-3.4-2z"/><path d="M512.5 143.6l3.3 1.5 3.3-0.8-3.3-1.8z"/><path d="M509.2 144.9l3.3 1.3 3.3-1.1-3.3-1.5z"/><path d="M505.9 146.6l3.3 1.4 3.3-1.8-3.3-1.3z"/><path d="M502.6 148.6l3.3 1.6 3.3-2.2-3.3-1.4z"/><path d="M499.3 150.8l3.3 1.8 3.3-2.4-3.3-1.6z"/><path d="M496 152.9l3.3 2.2 3.3-2.5-3.3-1.8z"/><path d="M492.7 155.1l3.3 2.4 3.3-2.4-3.3-2.2z"/></g>
<g fill="#13ddfa"><path d="M489.4 157.1l3.3 2.6 3.3-2.2-3.3-2.4z"/><path d="M486.1 159l3.3 2.7 3.3-2-3.3-2.6z"/><path d="M482.8 160.7l3.3 2.8 3.3-1.8-3.3-2.7z"/><path d="M479.4 162.4l3.4 2.9 3.3-1.8-3.3-2.8z"/><path d="M476.1 164.1l3.3 2.9 3.4-1.7-3.4-2.9z"/><path d="M472.8 165.8l3.3 2.9 3.3-1.7-3.3-2.9z"/><path d="M469.5 167.4l3.3 2.9 3.3-1.6-3.3-2.9z"/><path d="M466.2 168.9l3.3 2.9 3.3-1.5-3.3-2.9z"/><path d="M462.9 170.5l3.3 2.8 3.3-1.5-3.3-2.9z"/><path d="M459.6 172.1l3.3 2.7 3.3-1.5-3.3-2.8z"/><path d="M456.3 173.7l3.3 2.5 3.3-1.4-3.3-2.7z"/><path d="M453 175.2l3.3 2.3 3.3-1.3-3.3-2.5z"/><path d="M449.7 176.8l3.3 2 3.3-1.3-3.3-2.3z"/><path d="M446.4 178.3l3.3 1.7 3.3-1.2-3.3-2z"/><path d="M443.1 179.9l3.3 1.4 3.3-1.3-3.3-1.7z"/></g>
<g fill="#0cebfc"><path d="M575.4 118.3l3.3 1.3 3.3-2.1-3.3-1.1z"/></g>
<g fill="#13ddfa"><path d="M572.1 120.4l3.3 1.7 3.3-2.5-3.3-1.3z"/><path d="M568.8 122.4l3.3 2.2 3.3-2.5-3.3-1.7z"/><path d="M565.5 124.5l3.3 2.5 3.3-2.4-3.3-2.2z"/><path d="M562.1 126.5l3.4 2.9 3.3-2.4-3.3-2.5z"/><path d="M558.8 128.3l3.3 3.2 3.4-2.1-3.4-2.9z"/><path d="M555.5 130.1l3.3 3.2 3.3-1.8-3.3-3.2z"/><path d="M552.2 131.8l3.3 3.3 3.3-1.8-3.3-3.2z"/><path d="M548.9 133.4l3.3 3.4 3.3-1.7-3.3-3.3z"/><path d="M545.6 135l3.3 3.4 3.3-1.6-3.3-3.4z"/><path d="M542.3 136.5l3.3 3.4 3.3-1.5-3.3-3.4z"/><path d="M539 138l3.3 3.3 3.3-1.4-3.3-3.4z"/><path d="M535.7 139.5l3.3 3.2 3.3-1.4-3.3-3.3z"/><path d="M532.4 140.8l3.3 3.1 3.3-1.2-3.3-3.2z"/><path d="M529.1 141.9l3.3 2.8 3.3-0.8-3.3-3.1z"/><path d="M525.8 142.8l3.3 2.5 3.3-0.6-3.3-2.8z"/><path d="M522.5 143.5l3.3 2.1 3.3-0.3-3.3-2.5z"/></g>
<g fill="#0cebfc"><path d="M519.1 144.3l3.4 1.6 3.3-0.3-3.3-2.1z"/><path d="M515.8 145.1l3.3 1.2 3.4-0.4-3.4-1.6z"/><path d="M512.5 146.2l3.3 1 3.3-0.9-3.3-1.2z"/><path d="M509.2 148l3.3 1 3.3-1.8-3.3-1z"/><path d="M505.9 150.2l3.3 1.4 3.3-2.6-3.3-1z"/><path d="M502.6 152.6l3.3 1.8 3.3-2.8-3.3-1.4z"/><path d="M499.3 155.1l3.3 2.2 3.3-2.9-3.3-1.8z"/></g>
<g fill="#13ddfa"><path d="M496 157.5l3.3 2.7 3.3-2.9-3.3-2.2z"/><path d="M492.7 159.7l3.3 3 3.3-2.5-3.3-2.7z"/><path d="M489.4 161.7l3.3 3.2 3.3-2.2-3.3-3z"/><path d="M486.1 163.5l3.3 3.3 3.3-1.9-3.3-3.2z"/><path d="M482.8 165.3l3.3 3.3 3.3-1.8-3.3-3.3z"/><path d="M479.4 167l3.4 3.3 3.3-1.7-3.3-3.3z"/><path d="M476.1 168.7l3.3 3.4 3.4-1.8-3.4-3.3z"/><path d="M472.8 170.3l3.3 3.3 3.3-1.5-3.3-3.4z"/><path d="M469.5 171.8l3.3 3.3 3.3-1.5-3.3-3.3z"/><path d="M466.2 173.3l3.3 3.2 3.3-1.4-3.3-3.3z"/><path d="M462.9 174.8l3.3 3.1 3.3-1.4-3.3-3.2z"/><path d="M459.6 176.2l3.3 2.8 3.3-1.1-3.3-3.1z"/><path d="M456.3 177.5l3.3 2.4 3.3-0.9-3.3-2.8z"/><path d="M453 178.8l3.3 2 3.3-0.9-3.3-2.4z"/><path d="M449.7 180l3.3 1.6 3.3-0.8-3.3-2z"/><path d="M446.4 181.3l3.3 1.2 3.3-0.9-3.3-1.6z"/></g>
<g fill="#0cebfc"><path d="M578.7 119.6l3.3 1.2 3.3-2.6-3.3-0.7z"/><path d="M575.4 122.1l3.3 1.7 3.3-3-3.3-1.2z"/></g>
<g fill="#13ddfa"><path d="M572.1 124.6l3.3 2.3 3.3-3.1-3.3-1.7z"/><path d="M568.8 127l3.3 3 3.3-3.1-3.3-2.3z"/><path d="M565.5 129.4l3.3 3.4 3.3-2.8-3.3-3z"/><path d="M562.1 131.5l3.4 3.7 3.3-2.4-3.3-3.4z"/><path d="M558.8 133.3l3.3 3.9 3.4-2-3.4-3.7z"/></g>
<g fill="#1bcff8"><path d="M555.5 135.1l3.3 4 3.3-1.9-3.3-3.9z"/><path d="M552.2 136.8l3.3 4.1 3.3-1.8-3.3-4z"/><path d="M548.9 138.4l3.3 4.2 3.3-1.7-3.3-4.1z"/><path d="M545.6 139.9l3.3 4.1 3.3-1.4-3.3-4.2z"/><path d="M542.3 141.3l3.3 4.1 3.3-1.4-3.3-4.1z"/></g>
<g fill="#13ddfa"><path d="M539 142.7l3.3 3.9 3.3-1.2-3.3-4.1z"/><path d="M535.7 143.9l3.3 3.7 3.3-1-3.3-3.9z"/><path d="M532.4 144.7l3.3 3.4 3.3-0.5-3.3-3.7z"/><path d="M529.1 145.3l3.3 2.8 3.3 0-3.3-3.4z"/><path d="M525.8 145.6l3.3 2.2 3.3 0.3-3.3-2.8z"/></g>
<g fill="#0cebfc"><path d="M522.5 145.9l3.3 1.6 3.3 0.3-3.3-2.2z"/><path d="M519.1 146.3l3.4 1.1 3.3 0.1-3.3-1.6z"/><path d="M515.8 147.2l3.3 0.8 3.4-0.6-3.4-1.1z"/><path d="M512.5 149l3.3 0.9 3.3-1.9-3.3-0.8z"/><path d="M509.2 151.6l3.3 1.3 3.3-3-3.3-0.9z"/><path d="M505.9 154.4l3.3 1.9 3.3-3.4-3.3-1.3z"/></g>
<g fill="#13ddfa"><path d="M502.6 157.3l3.3 2.5 3.3-3.5-3.3-1.9z"/><path d="M499.3 160.2l3.3 3 3.3-3.4-3.3-2.5z"/><path d="M496 162.7l3.3 3.5 3.3-3-3.3-3z"/><path d="M492.7 164.9l3.3 3.8 3.3-2.5-3.3-3.5z"/><path d="M489.4 166.8l3.3 4 3.3-2.1-3.3-3.8z"/></g>
<g fill="#1bcff8"><path d="M486.1 168.6l3.3 4.1 3.3-1.9-3.3-4z"/><path d="M482.8 170.3l3.3 4.2 3.3-1.8-3.3-4.1z"/><path d="M479.4 172.1l3.4 4.1 3.3-1.7-3.3-4.2z"/><path d="M476.1 173.6l3.3 4.1 3.4-1.5-3.4-4.1z"/><path d="M472.8 175.1l3.3 4 3.3-1.4-3.3-4.1z"/><path d="M469.5 176.5l3.3 3.9 3.3-1.3-3.3-4z"/></g>
<g fill="#13ddfa"><path d="M466.2 177.9l3.3 3.6 3.3-1.1-3.3-3.9z"/><path d="M462.9 179l3.3 3.3 3.3-0.8-3.3-3.6z"/><path d="M459.6 179.9l3.3 2.8 3.3-0.4-3.3-3.3z"/><path d="M456.3 180.8l3.3 2.2 3.3-0.3-3.3-2.8z"/><path d="M453 181.6l3.3 1.6 3.3-0.2-3.3-2.2z"/><path d="M449.7 182.5l3.3 1.1 3.3-0.4-3.3-1.6z"/></g>
<g fill="#0cebfc"><path d="M582 120.8l3.3 1.1 3.3-3-3.3-0.7z"/><path d="M578.7 123.8l3.3 1.9 3.3-3.8-3.3-1.1z"/></g>
<g fill="#13ddfa"><path d="M575.4 126.9l3.3 2.7 3.3-3.9-3.3-1.9z"/><path d="M572.1 130l3.3 3.5 3.3-3.9-3.3-2.7z"/></g>
<g fill="#1bcff8"><path d="M568.8 132.8l3.3 4.2 3.3-3.5-3.3-3.5z"/><path d="M565.5 135.2l3.3 4.6 3.3-2.8-3.3-4.2z"/><path d="M562.1 137.2l3.4 4.9 3.3-2.3-3.3-4.6z"/><path d="M558.8 139.1l3.3 5 3.4-2-3.4-4.9z"/><path d="M555.5 140.9l3.3 5.1 3.3-1.9-3.3-5z"/><path d="M552.2 142.6l3.3 5.1 3.3-1.7-3.3-5.1z"/><path d="M548.9 144l3.3 5.1 3.3-1.4-3.3-5.1z"/><path d="M545.6 145.4l3.3 5 3.3-1.3-3.3-5.1z"/><path d="M542.3 146.6l3.3 4.9 3.3-1.1-3.3-5z"/><path d="M539 147.6l3.3 4.5 3.3-0.6-3.3-4.9z"/><path d="M535.7 148.1l3.3 4.1 3.3-0.1-3.3-4.5z"/></g>
<g fill="#13ddfa"><path d="M532.4 148.1l3.3 3.5 3.3 0.6-3.3-4.1z"/><path d="M529.1 147.8l3.3 2.7 3.3 1.1-3.3-3.5z"/></g>
<g fill="#0cebfc"><path d="M525.8 147.5l3.3 1.9 3.3 1.1-3.3-2.7z"/><path d="M522.5 147.4l3.3 1.1 3.3 0.9-3.3-1.9z"/><path d="M519.1 148l3.4 0.6 3.3-0.1-3.3-1.1z"/><path d="M515.8 149.9l3.3 0.7 3.4-2-3.4-0.6z"/><path d="M512.5 152.9l3.3 1.4 3.3-3.7-3.3-0.7z"/><path d="M509.2 156.3l3.3 2.2 3.3-4.2-3.3-1.4z"/></g>
<g fill="#13ddfa"><path d="M505.9 159.8l3.3 3 3.3-4.3-3.3-2.2z"/><path d="M502.6 163.2l3.3 3.8 3.3-4.2-3.3-3z"/></g>
<g fill="#1bcff8"><path d="M499.3 166.2l3.3 4.4 3.3-3.6-3.3-3.8z"/><path d="M496 168.7l3.3 4.7 3.3-2.8-3.3-4.4z"/><path d="M492.7 170.8l3.3 4.9 3.3-2.3-3.3-4.7z"/><path d="M489.4 172.7l3.3 5 3.3-2-3.3-4.9z"/><path d="M486.1 174.5l3.3 5.1 3.3-1.9-3.3-5z"/><path d="M482.8 176.2l3.3 5.2 3.3-1.8-3.3-5.1z"/><path d="M479.4 177.7l3.4 5.1 3.3-1.4-3.3-5.2z"/><path d="M476.1 179.1l3.3 5 3.4-1.3-3.4-5.1z"/><path d="M472.8 180.4l3.3 4.9 3.3-1.2-3.3-5z"/><path d="M469.5 181.5l3.3 4.6 3.3-0.8-3.3-4.9z"/><path d="M466.2 182.3l3.3 4 3.3-0.2-3.3-4.6z"/><path d="M462.9 182.7l3.3 3.3 3.3 0.3-3.3-4z"/></g>
<g fill="#13ddfa"><path d="M459.6 183l3.3 2.5 3.3 0.5-3.3-3.3z"/><path d="M456.3 183.2l3.3 1.7 3.3 0.6-3.3-2.5z"/><path d="M453 183.6l3.3 0.9 3.3 0.4-3.3-1.7z"/></g>
<g fill="#0cebfc"><path d="M585.3 121.9l3.3 1.3 3.3-3.7-3.3-0.6z"/><path d="M582 125.7l3.3 2.4 3.3-4.9-3.3-1.3z"/></g>
<g fill="#13ddfa"><path d="M578.7 129.6l3.3 3.6 3.3-5.1-3.3-2.4z"/></g>
<g fill="#1bcff8"><path d="M575.4 133.5l3.3 4.7 3.3-5-3.3-3.6z"/><path d="M572.1 137l3.3 5.6 3.3-4.4-3.3-4.7z"/></g>
<g fill="#23c2f5"><path d="M568.8 139.8l3.3 6.2 3.3-3.4-3.3-5.6z"/><path d="M565.5 142.1l3.3 6.6 3.3-2.7-3.3-6.2z"/><path d="M562.1 144.1l3.4 6.8 3.3-2.2-3.3-6.6z"/><path d="M558.8 146l3.3 6.9 3.4-2-3.4-6.8z"/><path d="M555.5 147.7l3.3 7.1 3.3-1.9-3.3-6.9z"/><path d="M552.2 149.1l3.3 6.9 3.3-1.2-3.3-7.1z"/><path d="M548.9 150.4l3.3 6.7 3.3-1.1-3.3-6.9z"/><path d="M545.6 151.5l3.3 6.5 3.3-0.9-3.3-6.7z"/><path d="M542.3 152.1l3.3 6.2 3.3-0.3-3.3-6.5z"/></g>
<g fill="#1bcff8"><path d="M539 152.2l3.3 5.5 3.3 0.6-3.3-6.2z"/><path d="M535.7 151.6l3.3 4.5 3.3 1.6-3.3-5.5z"/></g>
<g fill="#13ddfa"><path d="M532.4 150.5l3.3 3.4 3.3 2.2-3.3-4.5z"/><path d="M529.1 149.4l3.3 2.2 3.3 2.3-3.3-3.4z"/></g>
<g fill="#0cebfc"><path d="M525.8 148.5l3.3 1.2 3.3 1.9-3.3-2.2z"/><path d="M522.5 148.6l3.3 0.5 3.3 0.6-3.3-1.2z"/></g>
<g fill="#04f8fe"><path d="M519.1 150.6l3.4 0.8 3.3-2.3-3.3-0.5z"/></g>
<g fill="#0cebfc"><path d="M515.8 154.3l3.3 1.6 3.4-4.5-3.4-0.8z"/><path d="M512.5 158.5l3.3 2.7 3.3-5.3-3.3-1.6z"/></g>
<g fill="#13ddfa"><path d="M509.2 162.8l3.3 3.9 3.3-5.5-3.3-2.7z"/></g>
<g fill="#1bcff8"><path d="M505.9 167l3.3 5 3.3-5.3-3.3-3.9z"/><path d="M502.6 170.6l3.3 5.8 3.3-4.4-3.3-5z"/></g>
<g fill="#23c2f5"><path d="M499.3 173.4l3.3 6.4 3.3-3.4-3.3-5.8z"/><path d="M496 175.7l3.3 6.7 3.3-2.6-3.3-6.4z"/><path d="M492.7 177.7l3.3 6.9 3.3-2.2-3.3-6.7z"/><path d="M489.4 179.6l3.3 7 3.3-2-3.3-6.9z"/><path d="M486.1 181.4l3.3 7 3.3-1.8-3.3-7z"/><path d="M482.8 182.8l3.3 6.9 3.3-1.3-3.3-7z"/><path d="M479.4 184.1l3.4 6.7 3.3-1.1-3.3-6.9z"/><path d="M476.1 185.3l3.3 6.5 3.4-1-3.4-6.7z"/><path d="M472.8 186.1l3.3 6.1 3.3-0.4-3.3-6.5z"/><path d="M469.5 186.3l3.3 5.4 3.3 0.5-3.3-6.1z"/></g>
<g fill="#1bcff8"><path d="M466.2 186l3.3 4.4 3.3 1.3-3.3-5.4z"/><path d="M462.9 185.5l3.3 3.2 3.3 1.7-3.3-4.4z"/></g>
<g fill="#13ddfa"><path d="M459.6 184.9l3.3 2.1 3.3 1.7-3.3-3.2z"/></g>
<g fill="#0cebfc"><path d="M456.3 184.5l3.3 1.1 3.3 1.4-3.3-2.1z"/><path d="M588.6 123.2l3.3 2 3.3-5-3.3-0.7z"/></g>
<g fill="#13ddfa"><path d="M585.3 128.1l3.3 3.8 3.3-6.7-3.3-2z"/></g>
<g fill="#1bcff8"><path d="M582 133.2l3.3 5.9 3.3-7.2-3.3-3.8z"/><path d="M578.7 138.2l3.3 7.9 3.3-7-3.3-5.9z"/></g>
<g fill="#23c2f5"><path d="M575.4 142.6l3.3 9.5 3.3-6-3.3-7.9z"/></g>
<g fill="#2bb4f3"><path d="M572.1 146l3.3 10.7 3.3-4.6-3.3-9.5z"/><path d="M568.8 148.7l3.3 11.3 3.3-3.3-3.3-10.7z"/></g>
<g fill="#32a6f1"><path d="M565.5 150.9l3.3 11.7 3.3-2.6-3.3-11.3z"/><path d="M562.1 152.9l3.4 11.9 3.3-2.2-3.3-11.7z"/><path d="M558.8 154.8l3.3 12 3.4-2-3.4-11.9z"/><path d="M555.5 156l3.3 11.9 3.3-1.1-3.3-12z"/><path d="M552.2 157.1l3.3 11.6 3.3-0.8-3.3-11.9z"/></g>
<g fill="#2bb4f3"><path d="M548.9 158l3.3 11.2 3.3-0.5-3.3-11.6z"/><path d="M545.6 158.3l3.3 10.5 3.3 0.4-3.3-11.2z"/><path d="M542.3 157.7l3.3 9.4 3.3 1.7-3.3-10.5z"/></g>
<g fill="#23c2f5"><path d="M539 156.1l3.3 7.7 3.3 3.3-3.3-9.4z"/></g>
<g fill="#1bcff8"><path d="M535.7 153.9l3.3 5.7 3.3 4.2-3.3-7.7z"/></g>
<g fill="#13ddfa"><path d="M532.4 151.6l3.3 3.7 3.3 4.3-3.3-5.7z"/></g>
<g fill="#0cebfc"><path d="M529.1 149.7l3.3 1.8 3.3 3.8-3.3-3.7z"/></g>
<g fill="#04f8fe"><path d="M525.8 149.1l3.3 0.6 3.3 1.8-3.3-1.8z"/><path d="M522.5 151.4l3.3 1 3.3-2.7-3.3-0.6z"/></g>
<g fill="#0cebfc"><path d="M519.1 155.9l3.4 2.5 3.3-6-3.3-1z"/></g>
<g fill="#13ddfa"><path d="M515.8 161.2l3.3 4.5 3.4-7.3-3.4-2.5z"/></g>
<g fill="#1bcff8"><path d="M512.5 166.7l3.3 6.6 3.3-7.6-3.3-4.5z"/></g>
<g fill="#23c2f5"><path d="M509.2 172l3.3 8.4 3.3-7.1-3.3-6.6z"/><path d="M505.9 176.4l3.3 9.9 3.3-5.9-3.3-8.4z"/></g>
<g fill="#2bb4f3"><path d="M502.6 179.8l3.3 10.8 3.3-4.3-3.3-9.9z"/><path d="M499.3 182.4l3.3 11.4 3.3-3.2-3.3-10.8z"/></g>
<g fill="#32a6f1"><path d="M496 184.6l3.3 11.7 3.3-2.5-3.3-11.4z"/><path d="M492.7 186.6l3.3 11.9 3.3-2.2-3.3-11.7z"/><path d="M489.4 188.4l3.3 12 3.3-1.9-3.3-11.9z"/><path d="M486.1 189.7l3.3 11.8 3.3-1.1-3.3-12z"/><path d="M482.8 190.8l3.3 11.6 3.3-0.9-3.3-11.8z"/></g>
<g fill="#2bb4f3"><path d="M479.4 191.8l3.4 11.1 3.3-0.5-3.3-11.6z"/><path d="M476.1 192.2l3.3 10.3 3.4 0.4-3.4-11.1z"/><path d="M472.8 191.7l3.3 9.2 3.3 1.6-3.3-10.3z"/></g>
<g fill="#23c2f5"><path d="M469.5 190.4l3.3 7.5 3.3 3-3.3-9.2z"/></g>
<g fill="#1bcff8"><path d="M466.2 188.7l3.3 5.4 3.3 3.8-3.3-7.5z"/></g>
<g fill="#13ddfa"><path d="M462.9 187l3.3 3.3 3.3 3.8-3.3-5.4z"/><path d="M459.6 185.6l3.3 1.6 3.3 3.1-3.3-3.3z"/></g>
<g fill="#0cebfc"><path d="M591.9 125.2l3.3 4.4 3.3-8.2-3.3-1.2z"/></g>
<g fill="#13ddfa"><path d="M588.6 131.9l3.3 9.1 3.3-11.4-3.3-4.4z"/></g>
<g fill="#23c2f5"><path d="M585.3 139.1l3.3 14.2 3.3-12.3-3.3-9.1z"/></g>
<g fill="#32a6f1"><path d="M582 146.1l3.3 19.2 3.3-12-3.3-14.2z"/></g>
<g fill="#3a99ef"><path d="M578.7 152.1l3.3 23.3 3.3-10.1-3.3-19.2z"/></g>
<g fill="#3a89ef"><path d="M575.4 156.7l3.3 26 3.3-7.3-3.3-23.3z"/></g>
<g fill="#3277f1"><path d="M572.1 160l3.3 27.6 3.3-4.9-3.3-26z"/><path d="M568.8 162.6l3.3 28.4 3.3-3.4-3.3-27.6z"/></g>
<g fill="#2b64f3"><path d="M565.5 164.8l3.3 29.1 3.3-2.9-3.3-28.4z"/><path d="M562.1 166.8l3.4 29.5 3.3-2.4-3.3-29.1z"/><path d="M558.8 167.9l3.3 29 3.4-0.6-3.4-29.5z"/></g>
<g fill="#3277f1"><path d="M555.5 168.7l3.3 28.4 3.3-0.2-3.3-29z"/><path d="M552.2 169.2l3.3 27.5 3.3 0.4-3.3-28.4z"/><path d="M548.9 168.8l3.3 25.8 3.3 2.1-3.3-27.5z"/></g>
<g fill="#3a89ef"><path d="M545.6 167.1l3.3 22.9 3.3 4.6-3.3-25.8z"/></g>
<g fill="#3a99ef"><path d="M542.3 163.8l3.3 18.7 3.3 7.5-3.3-22.9z"/></g>
<g fill="#2bb4f3"><path d="M539 159.6l3.3 13.6 3.3 9.3-3.3-18.7z"/></g>
<g fill="#1bcff8"><path d="M535.7 155.3l3.3 8.5 3.3 9.4-3.3-13.6z"/></g>
<g fill="#13ddfa"><path d="M532.4 151.5l3.3 3.9 3.3 8.4-3.3-8.5z"/></g>
<g fill="#04f8fe"><path d="M529.1 149.7l3.3 1.1 3.3 4.6-3.3-3.9z"/><path d="M525.8 152.4l3.3 1.9 3.3-3.5-3.3-1.1z"/></g>
<g fill="#0cebfc"><path d="M522.5 158.4l3.3 5.7 3.3-9.8-3.3-1.9z"/></g>
<g fill="#13ddfa"><path d="M519.1 165.7l3.4 10.7 3.3-12.3-3.3-5.7z"/></g>
<g fill="#23c2f5"><path d="M515.8 173.3l3.3 15.8 3.4-12.7-3.4-10.7z"/></g>
<g fill="#32a6f1"><path d="M512.5 180.4l3.3 20.6 3.3-11.9-3.3-15.8z"/></g>
<g fill="#3a99ef"><path d="M509.2 186.3l3.3 24.3 3.3-9.6-3.3-20.6z"/></g>
<g fill="#3a89ef"><path d="M505.9 190.6l3.3 26.6 3.3-6.6-3.3-24.3z"/></g>
<g fill="#3277f1"><path d="M502.6 193.8l3.3 27.9 3.3-4.5-3.3-26.6z"/><path d="M499.3 196.3l3.3 28.7 3.3-3.3-3.3-27.9z"/></g>
<g fill="#2b64f3"><path d="M496 198.5l3.3 29.2 3.3-2.7-3.3-28.7z"/><path d="M492.7 200.4l3.3 29.4 3.3-2.1-3.3-29.2z"/><path d="M489.4 201.5l3.3 29 3.3-0.7-3.3-29.4z"/></g>
<g fill="#3277f1"><path d="M486.1 202.4l3.3 28.3 3.3-0.2-3.3-29z"/><path d="M482.8 202.9l3.3 27.2 3.3 0.6-3.3-28.3z"/><path d="M479.4 202.5l3.4 25.5 3.3 2.1-3.3-27.2z"/></g>
<g fill="#3a89ef"><path d="M476.1 200.9l3.3 22.3 3.4 4.8-3.4-25.5z"/></g>
<g fill="#3a99ef"><path d="M472.8 197.9l3.3 17.9 3.3 7.4-3.3-22.3z"/></g>
<g fill="#2bb4f3"><path d="M469.5 194.1l3.3 12.9 3.3 8.8-3.3-17.9z"/></g>
<g fill="#23c2f5"><path d="M466.2 190.3l3.3 7.8 3.3 8.9-3.3-12.9z"/></g>
<g fill="#13ddfa"><path d="M462.9 187.2l3.3 3.3 3.3 7.6-3.3-7.8z"/></g>
<g fill="#0cebfc"><path d="M595.2 129.6l3.3 2.7 3.3-9.7-3.3-1.2z"/></g>
<g fill="#1bcff8"><path d="M591.9 141l3.3 5 3.3-13.7-3.3-2.7z"/></g>
<g fill="#2bb4f3"><path d="M588.6 153.3l3.3 7.5 3.3-14.8-3.3-5z"/></g>
<g fill="#3a89ef"><path d="M585.3 165.3l3.3 9.9 3.3-14.4-3.3-7.5z"/></g>
<g fill="#2b64f3"><path d="M582 175.4l3.3 11.9 3.3-12.1-3.3-9.9z"/></g>
<g fill="#1b40f8"><path d="M578.7 182.7l3.3 13.1 3.3-8.5-3.3-11.9z"/></g>
<g fill="#132efa"><path d="M575.4 187.6l3.3 13.9 3.3-5.7-3.3-13.1z"/><path d="M572.1 191l3.3 14.4 3.3-3.9-3.3-13.9z"/></g>
<g fill="#0c1bfc"><path d="M568.8 193.9l3.3 14.7 3.3-3.2-3.3-14.4z"/><path d="M565.5 196.3l3.3 14.8 3.3-2.5-3.3-14.7z"/><path d="M562.1 196.9l3.4 14.6 3.3-0.4-3.3-14.8z"/><path d="M558.8 197.1l3.3 14.4 3.4 0-3.4-14.6z"/></g>
<g fill="#132efa"><path d="M555.5 196.7l3.3 13.8 3.3 1-3.3-14.4z"/><path d="M552.2 194.6l3.3 13 3.3 2.9-3.3-13.8z"/></g>
<g fill="#2352f5"><path d="M548.9 190l3.3 11.7 3.3 5.9-3.3-13z"/></g>
<g fill="#2b64f3"><path d="M545.6 182.5l3.3 9.6 3.3 9.6-3.3-11.7z"/></g>
<g fill="#3a99ef"><path d="M542.3 173.2l3.3 7.2 3.3 11.7-3.3-9.6z"/></g>
<g fill="#2bb4f3"><path d="M539 163.8l3.3 4.7 3.3 11.9-3.3-7.2z"/></g>
<g fill="#13ddfa"><path d="M535.7 155.4l3.3 2.5 3.3 10.6-3.3-4.7z"/></g>
<g fill="#0cebfc"><path d="M532.4 150.8l3.3 1 3.3 6.1-3.3-2.5z"/></g>
<g fill="#04f8fe"><path d="M529.1 154.3l3.3 1.5 3.3-4-3.3-1z"/></g>
<g fill="#0cebfc"><path d="M525.8 164.1l3.3 3.4 3.3-11.7-3.3-1.5z"/></g>
<g fill="#1bcff8"><path d="M522.5 176.4l3.3 5.7 3.3-14.6-3.3-3.4z"/></g>
<g fill="#32a6f1"><path d="M519.1 189.1l3.4 8.2 3.3-15.2-3.3-5.7z"/></g>
<g fill="#3a89ef"><path d="M515.8 201l3.3 10.6 3.4-14.3-3.4-8.2z"/></g>
<g fill="#2b64f3"><path d="M512.5 210.6l3.3 12.3 3.3-11.3-3.3-10.6z"/></g>
<g fill="#1b40f8"><path d="M509.2 217.2l3.3 13.5 3.3-7.8-3.3-12.3z"/></g>
<g fill="#132efa"><path d="M505.9 221.7l3.3 14.1 3.3-5.1-3.3-13.5z"/><path d="M502.6 225l3.3 14.5 3.3-3.7-3.3-14.1z"/></g>
<g fill="#0c1bfc"><path d="M499.3 227.7l3.3 14.7 3.3-2.9-3.3-14.5z"/><path d="M496 229.8l3.3 14.8 3.3-2.2-3.3-14.7z"/><path d="M492.7 230.5l3.3 14.6 3.3-0.5-3.3-14.8z"/><path d="M489.4 230.7l3.3 14.3 3.3 0.1-3.3-14.6z"/></g>
<g fill="#132efa"><path d="M486.1 230.1l3.3 13.8 3.3 1.1-3.3-14.3z"/><path d="M482.8 228l3.3 12.9 3.3 3-3.3-13.8z"/></g>
<g fill="#2352f5"><path d="M479.4 223.2l3.4 11.4 3.3 6.3-3.3-12.9z"/></g>
<g fill="#2b64f3"><path d="M476.1 215.8l3.3 9.3 3.4 9.5-3.4-11.4z"/></g>
<g fill="#3a99ef"><path d="M472.8 207l3.3 6.8 3.3 11.3-3.3-9.3z"/></g>
<g fill="#2bb4f3"><path d="M469.5 198.1l3.3 4.4 3.3 11.3-3.3-6.8z"/></g>
<g fill="#1bcff8"><path d="M466.2 190.5l3.3 2.2 3.3 9.8-3.3-4.4z"/></g>
<g fill="#0cebfc"><path d="M598.5 132.3l3.3 1.5 3.4-10-3.4-1.2z"/></g>
<g fill="#1bcff8"><path d="M595.2 146l3.3 1.9 3.3-14.1-3.3-1.5z"/></g>
<g fill="#32a6f1"><path d="M591.9 160.8l3.3 2.3 3.3-15.2-3.3-1.9z"/></g>
<g fill="#3277f1"><path d="M588.6 175.2l3.3 2.8 3.3-14.9-3.3-2.3z"/></g>
<g fill="#2352f5"><path d="M585.3 187.3l3.3 3.1 3.3-12.4-3.3-2.8z"/></g>
<g fill="#132efa"><path d="M582 195.8l3.3 3.4 3.3-8.8-3.3-3.1z"/></g>
<g fill="#0c1bfc"><path d="M578.7 201.5l3.3 3.5 3.3-5.8-3.3-3.4z"/></g>
<g fill="#0409fe"><path d="M575.4 205.4l3.3 3.6 3.3-4-3.3-3.5z"/><path d="M572.1 208.6l3.3 3.6 3.3-3.2-3.3-3.6z"/><path d="M568.8 211.1l3.3 3.7 3.3-2.6-3.3-3.6z"/><path d="M565.5 211.5l3.3 3.7 3.3-0.4-3.3-3.7z"/><path d="M562.1 211.5l3.4 3.6 3.3 0.1-3.3-3.7z"/><path d="M558.8 210.5l3.3 3.6 3.4 1-3.4-3.6z"/></g>
<g fill="#0c1bfc"><path d="M555.5 207.6l3.3 3.4 3.3 3.1-3.3-3.6z"/></g>
<g fill="#132efa"><path d="M552.2 201.7l3.3 3.1 3.3 6.2-3.3-3.4z"/></g>
<g fill="#2352f5"><path d="M548.9 192.1l3.3 2.8 3.3 9.9-3.3-3.1z"/></g>
<g fill="#3a89ef"><path d="M545.6 180.4l3.3 2.3 3.3 12.2-3.3-2.8z"/></g>
<g fill="#2bb4f3"><path d="M542.3 168.5l3.3 1.8 3.3 12.4-3.3-2.3z"/></g>
<g fill="#1bcff8"><path d="M539 157.9l3.3 1.4 3.3 11-3.3-1.8z"/></g>
<g fill="#0cebfc"><path d="M535.7 151.8l3.3 1.2 3.3 6.3-3.3-1.4z"/></g>
<g fill="#04f8fe"><path d="M532.4 155.8l3.3 1.3 3.3-4.1-3.3-1.2z"/></g>
<g fill="#0cebfc"><path d="M529.1 167.5l3.3 1.6 3.3-12-3.3-1.3z"/></g>
<g fill="#23c2f5"><path d="M525.8 182.1l3.3 2.1 3.3-15.1-3.3-1.6z"/></g>
<g fill="#3a99ef"><path d="M522.5 197.3l3.3 2.5 3.3-15.6-3.3-2.1z"/></g>
<g fill="#3277f1"><path d="M519.1 211.6l3.4 2.9 3.3-14.7-3.3-2.5z"/></g>
<g fill="#1b40f8"><path d="M515.8 222.9l3.3 3.3 3.4-11.7-3.4-2.9z"/></g>
<g fill="#132efa"><path d="M512.5 230.7l3.3 3.4 3.3-7.9-3.3-3.3z"/></g>
<g fill="#0c1bfc"><path d="M509.2 235.8l3.3 3.6 3.3-5.3-3.3-3.4z"/></g>
<g fill="#0409fe"><path d="M505.9 239.5l3.3 3.6 3.3-3.7-3.3-3.6z"/><path d="M502.6 242.4l3.3 3.7 3.3-3-3.3-3.6z"/></g>
<g fill="#0000ff"><path d="M499.3 244.6l3.3 3.7 3.3-2.2-3.3-3.7z"/></g>
<g fill="#0409fe"><path d="M496 245.1l3.3 3.6 3.3-0.4-3.3-3.7z"/><path d="M492.7 245l3.3 3.6 3.3 0.1-3.3-3.6z"/><path d="M489.4 243.9l3.3 3.5 3.3 1.2-3.3-3.6z"/></g>
<g fill="#0c1bfc"><path d="M486.1 240.9l3.3 3.3 3.3 3.2-3.3-3.5z"/></g>
<g fill="#132efa"><path d="M482.8 234.6l3.3 3.1 3.3 6.5-3.3-3.3z"/></g>
<g fill="#2352f5"><path d="M479.4 225.1l3.4 2.7 3.3 9.9-3.3-3.1z"/></g>
<g fill="#3a89ef"><path d="M476.1 213.8l3.3 2.3 3.4 11.7-3.4-2.7z"/></g>
<g fill="#2bb4f3"><path d="M472.8 202.5l3.3 1.8 3.3 11.8-3.3-2.3z"/></g>
<g fill="#1bcff8"><path d="M469.5 192.7l3.3 1.4 3.3 10.2-3.3-1.8z"/></g>
<g fill="#0cebfc"><path d="M601.8 133.8l3.4 1.6 3.3-10.1-3.3-1.5z"/></g>
<g fill="#1bcff8"><path d="M598.5 147.9l3.3 1.7 3.4-14.2-3.4-1.6z"/></g>
<g fill="#32a6f1"><path d="M595.2 163.1l3.3 1.8 3.3-15.3-3.3-1.7z"/></g>
<g fill="#3277f1"><path d="M591.9 178l3.3 1.9 3.3-15-3.3-1.8z"/></g>
<g fill="#2352f5"><path d="M588.6 190.4l3.3 2 3.3-12.5-3.3-1.9z"/></g>
<g fill="#132efa"><path d="M585.3 199.2l3.3 2 3.3-8.8-3.3-2z"/></g>
<g fill="#0c1bfc"><path d="M582 205l3.3 2.1 3.3-5.9-3.3-2z"/></g>
<g fill="#0409fe"><path d="M578.7 209l3.3 2.1 3.3-4-3.3-2.1z"/><path d="M575.4 212.2l3.3 2.1 3.3-3.2-3.3-2.1z"/></g>
<g fill="#0000ff"><path d="M572.1 214.8l3.3 2.1 3.3-2.6-3.3-2.1z"/><path d="M568.8 215.2l3.3 2 3.3-0.3-3.3-2.1z"/></g>
<g fill="#0409fe"><path d="M565.5 215.1l3.3 2 3.3 0.1-3.3-2z"/><path d="M562.1 214.1l3.4 2 3.3 1-3.3-2z"/></g>
<g fill="#0c1bfc"><path d="M558.8 211l3.3 2 3.4 3.1-3.4-2z"/></g>
<g fill="#132efa"><path d="M555.5 204.8l3.3 1.9 3.3 6.3-3.3-2z"/></g>
<g fill="#2352f5"><path d="M552.2 194.9l3.3 1.8 3.3 10-3.3-1.9z"/></g>
<g fill="#3a89ef"><path d="M548.9 182.7l3.3 1.7 3.3 12.3-3.3-1.8z"/></g>
<g fill="#2bb4f3"><path d="M545.6 170.3l3.3 1.7 3.3 12.4-3.3-1.7z"/></g>
<g fill="#1bcff8"><path d="M542.3 159.3l3.3 1.6 3.3 11.1-3.3-1.7z"/></g>
<g fill="#0cebfc"><path d="M539 153l3.3 1.6 3.3 6.3-3.3-1.6z"/></g>
<g fill="#04f8fe"><path d="M535.7 157.1l3.3 1.6 3.3-4.1-3.3-1.6z"/></g>
<g fill="#0cebfc"><path d="M532.4 169.1l3.3 1.6 3.3-12-3.3-1.6z"/></g>
<g fill="#23c2f5"><path d="M529.1 184.2l3.3 1.7 3.3-15.2-3.3-1.6z"/></g>
<g fill="#3a99ef"><path d="M525.8 199.8l3.3 1.8 3.3-15.7-3.3-1.7z"/></g>
<g fill="#3277f1"><path d="M522.5 214.5l3.3 1.9 3.3-14.8-3.3-1.8z"/></g>
<g fill="#1b40f8"><path d="M519.1 226.2l3.4 2 3.3-11.8-3.3-1.9z"/></g>
<g fill="#0c1bfc"><path d="M515.8 234.1l3.3 2 3.4-7.9-3.4-2z"/></g>
<g fill="#0409fe"><path d="M512.5 239.4l3.3 2 3.3-5.3-3.3-2z"/><path d="M509.2 243.1l3.3 2 3.3-3.7-3.3-2z"/></g>
<g fill="#0000ff"><path d="M505.9 246.1l3.3 2.1 3.3-3.1-3.3-2z"/><path d="M502.6 248.3l3.3 2.1 3.3-2.2-3.3-2.1z"/><path d="M499.3 248.7l3.3 2.1 3.3-0.4-3.3-2.1z"/></g>
<g fill="#0409fe"><path d="M496 248.6l3.3 2 3.3 0.2-3.3-2.1z"/><path d="M492.7 247.4l3.3 2 3.3 1.2-3.3-2z"/></g>
<g fill="#0c1bfc"><path d="M489.4 244.2l3.3 2 3.3 3.2-3.3-2z"/></g>
<g fill="#132efa"><path d="M486.1 237.7l3.3 1.9 3.3 6.6-3.3-2z"/></g>
<g fill="#2352f5"><path d="M482.8 227.8l3.3 1.8 3.3 10-3.3-1.9z"/></g>
<g fill="#3a89ef"><path d="M479.4 216.1l3.4 1.7 3.3 11.8-3.3-1.8z"/></g>
<g fill="#2bb4f3"><path d="M476.1 204.3l3.3 1.6 3.4 11.9-3.4-1.7z"/></g>
<g fill="#1bcff8"><path d="M472.8 194.1l3.3 1.5 3.3 10.3-3.3-1.6z"/></g>
<g fill="#0cebfc"><path d="M605.2 135.4l3.3 1.6 3.3-9.8-3.3-1.9z"/></g>
<g fill="#1bcff8"><path d="M601.8 149.6l3.4 1.4 3.3-14-3.3-1.6z"/></g>
<g fill="#32a6f1"><path d="M598.5 164.9l3.3 1.1 3.4-15-3.4-1.4z"/></g>
<g fill="#3277f1"><path d="M595.2 179.9l3.3 0.8 3.3-14.7-3.3-1.1z"/></g>
<g fill="#2352f5"><path d="M591.9 192.4l3.3 0.6 3.3-12.3-3.3-0.8z"/></g>
<g fill="#132efa"><path d="M588.6 201.2l3.3 0.5 3.3-8.7-3.3-0.6z"/></g>
<g fill="#0c1bfc"><path d="M585.3 207.1l3.3 0.3 3.3-5.7-3.3-0.5z"/></g>
<g fill="#0409fe"><path d="M582 211.1l3.3 0.3 3.3-4-3.3-0.3z"/><path d="M578.7 214.3l3.3 0.3 3.3-3.2-3.3-0.3z"/></g>
<g fill="#0000ff"><path d="M575.4 216.9l3.3 0.2 3.3-2.5-3.3-0.3z"/><path d="M572.1 217.2l3.3 0.3 3.3-0.4-3.3-0.2z"/></g>
<g fill="#0409fe"><path d="M568.8 217.1l3.3 0.3 3.3 0.1-3.3-0.3z"/><path d="M565.5 216.1l3.3 0.4 3.3 0.9-3.3-0.3z"/></g>
<g fill="#0c1bfc"><path d="M562.1 213l3.4 0.5 3.3 3-3.3-0.4z"/></g>
<g fill="#132efa"><path d="M558.8 206.7l3.3 0.7 3.4 6.1-3.4-0.5z"/></g>
<g fill="#2352f5"><path d="M555.5 196.7l3.3 0.9 3.3 9.8-3.3-0.7z"/></g>
<g fill="#3a89ef"><path d="M552.2 184.4l3.3 1.2 3.3 12-3.3-0.9z"/></g>
<g fill="#2bb4f3"><path d="M548.9 172l3.3 1.4 3.3 12.2-3.3-1.2z"/></g>
<g fill="#1bcff8"><path d="M545.6 160.9l3.3 1.7 3.3 10.8-3.3-1.4z"/></g>
<g fill="#0cebfc"><path d="M542.3 154.6l3.3 1.8 3.3 6.2-3.3-1.7z"/></g>
<g fill="#04f8fe"><path d="M539 158.7l3.3 1.8 3.3-4.1-3.3-1.8z"/></g>
<g fill="#0cebfc"><path d="M535.7 170.7l3.3 1.6 3.3-11.8-3.3-1.8z"/></g>
<g fill="#23c2f5"><path d="M532.4 185.9l3.3 1.3 3.3-14.9-3.3-1.6z"/></g>
<g fill="#3a99ef"><path d="M529.1 201.6l3.3 1 3.3-15.4-3.3-1.3z"/></g>
<g fill="#3277f1"><path d="M525.8 216.4l3.3 0.7 3.3-14.5-3.3-1z"/></g>
<g fill="#1b40f8"><path d="M522.5 228.2l3.3 0.5 3.3-11.6-3.3-0.7z"/></g>
<g fill="#132efa"><path d="M519.1 236.1l3.4 0.4 3.3-7.8-3.3-0.5z"/></g>
<g fill="#0409fe"><path d="M515.8 241.4l3.3 0.3 3.4-5.2-3.4-0.4z"/><path d="M512.5 245.1l3.3 0.3 3.3-3.7-3.3-0.3z"/><path d="M509.2 248.2l3.3 0.3 3.3-3.1-3.3-0.3z"/></g>
<g fill="#0000ff"><path d="M505.9 250.4l3.3 0.3 3.3-2.2-3.3-0.3z"/><path d="M502.6 250.8l3.3 0.3 3.3-0.4-3.3-0.3z"/></g>
<g fill="#0409fe"><path d="M499.3 250.6l3.3 0.3 3.3 0.2-3.3-0.3z"/><path d="M496 249.4l3.3 0.4 3.3 1.1-3.3-0.3z"/></g>
<g fill="#0c1bfc"><path d="M492.7 246.2l3.3 0.5 3.3 3.1-3.3-0.4z"/></g>
<g fill="#132efa"><path d="M489.4 239.6l3.3 0.7 3.3 6.4-3.3-0.5z"/></g>
<g fill="#2352f5"><path d="M486.1 229.6l3.3 0.9 3.3 9.8-3.3-0.7z"/></g>
<g fill="#3a89ef"><path d="M482.8 217.8l3.3 1.2 3.3 11.5-3.3-0.9z"/></g>
<g fill="#2bb4f3"><path d="M479.4 205.9l3.4 1.5 3.3 11.6-3.3-1.2z"/></g>
<g fill="#1bcff8"><path d="M476.1 195.6l3.3 1.8 3.4 10-3.4-1.5z"/></g>
<g fill="#0cebfc"><path d="M608.5 137l3.3 1.6 3.3-9.3-3.3-2.1z"/></g>
<g fill="#1bcff8"><path d="M605.2 151l3.3 0.8 3.3-13.2-3.3-1.6z"/></g>
<g fill="#32a6f1"><path d="M601.8 166l3.4 0 3.3-14.2-3.3-0.8z"/></g>
<g fill="#3277f1"><path d="M598.5 180.7l3.3-0.8 3.4-13.9-3.4 0z"/></g>
<g fill="#2352f5"><path d="M595.2 193l3.3-1.4 3.3-11.7-3.3 0.8z"/></g>
<g fill="#132efa"><path d="M591.9 201.7l3.3-1.9 3.3-8.2-3.3 1.4z"/></g>
<g fill="#0c1bfc"><path d="M588.6 207.4l3.3-2.1 3.3-5.5-3.3 1.9z"/><path d="M585.3 211.4l3.3-2.2 3.3-3.9-3.3 2.1z"/></g>
<g fill="#0409fe"><path d="M582 214.6l3.3-2.4 3.3-3-3.3 2.2z"/><path d="M578.7 217.1l3.3-2.3 3.3-2.6-3.3 2.4z"/><path d="M575.4 217.5l3.3-2.3 3.3-0.4-3.3 2.3z"/><path d="M572.1 217.4l3.3-2.2 3.3 0-3.3 2.3z"/></g>
<g fill="#0c1bfc"><path d="M568.8 216.5l3.3-2.1 3.3 0.8-3.3 2.2z"/><path d="M565.5 213.5l3.3-1.8 3.3 2.7-3.3 2.1z"/></g>
<g fill="#1b40f8"><path d="M562.1 207.4l3.4-1.4 3.3 5.7-3.3 1.8z"/></g>
<g fill="#2352f5"><path d="M558.8 197.6l3.3-0.7 3.4 9.1-3.4 1.4z"/></g>
<g fill="#3a89ef"><path d="M555.5 185.6l3.3 0.1 3.3 11.2-3.3 0.7z"/></g>
<g fill="#2bb4f3"><path d="M552.2 173.4l3.3 1 3.3 11.3-3.3-0.1z"/></g>
<g fill="#1bcff8"><path d="M548.9 162.6l3.3 1.6 3.3 10.2-3.3-1z"/></g>
<g fill="#0cebfc"><path d="M545.6 156.4l3.3 2.1 3.3 5.7-3.3-1.6z"/></g>
<g fill="#04f8fe"><path d="M542.3 160.5l3.3 1.9 3.3-3.9-3.3-2.1z"/></g>
<g fill="#0cebfc"><path d="M539 172.3l3.3 1.4 3.3-11.3-3.3-1.9z"/></g>
<g fill="#23c2f5"><path d="M535.7 187.2l3.3 0.6 3.3-14.1-3.3-1.4z"/></g>
<g fill="#32a6f1"><path d="M532.4 202.6l3.3-0.2 3.3-14.6-3.3-0.6z"/></g>
<g fill="#3277f1"><path d="M529.1 217.1l3.3-0.9 3.3-13.8-3.3 0.2z"/></g>
<g fill="#2352f5"><path d="M525.8 228.7l3.3-1.6 3.3-10.9-3.3 0.9z"/></g>
<g fill="#132efa"><path d="M522.5 236.5l3.3-1.9 3.3-7.5-3.3 1.6z"/></g>
<g fill="#0c1bfc"><path d="M519.1 241.7l3.4-2.1 3.3-5-3.3 1.9z"/></g>
<g fill="#0409fe"><path d="M515.8 245.4l3.3-2.2 3.4-3.6-3.4 2.1z"/><path d="M512.5 248.5l3.3-2.4 3.3-2.9-3.3 2.2z"/><path d="M509.2 250.7l3.3-2.4 3.3-2.2-3.3 2.4z"/><path d="M505.9 251.1l3.3-2.3 3.3-0.5-3.3 2.4z"/><path d="M502.6 250.9l3.3-2.2 3.3 0.1-3.3 2.3z"/></g>
<g fill="#0c1bfc"><path d="M499.3 249.8l3.3-2 3.3 0.9-3.3 2.2z"/><path d="M496 246.7l3.3-1.8 3.3 2.9-3.3 2z"/></g>
<g fill="#1b40f8"><path d="M492.7 240.3l3.3-1.2 3.3 5.8-3.3 1.8z"/></g>
<g fill="#2b64f3"><path d="M489.4 230.5l3.3-0.5 3.3 9.1-3.3 1.2z"/></g>
<g fill="#3a89ef"><path d="M486.1 219l3.3 0.2 3.3 10.8-3.3 0.5z"/></g>
<g fill="#2bb4f3"><path d="M482.8 207.4l3.3 1 3.3 10.8-3.3-0.2z"/></g>
<g fill="#1bcff8"><path d="M479.4 197.4l3.4 1.7 3.3 9.3-3.3-1z"/></g>
<g fill="#0cebfc"><path d="M611.8 138.6l3.3-0.9 3.3-6.5-3.3-1.9z"/></g>
<g fill="#1bcff8"><path d="M608.5 151.8l3.3-5.2 3.3-8.9-3.3 0.9z"/></g>
<g fill="#2bb4f3"><path d="M605.2 166l3.3-9.9 3.3-9.5-3.3 5.2z"/></g>
<g fill="#3a99ef"><path d="M601.8 179.9l3.4-14.4 3.3-9.4-3.3 9.9z"/></g>
<g fill="#3277f1"><path d="M598.5 191.6l3.3-18.2 3.4-7.9-3.4 14.4z"/></g>
<g fill="#2b64f3"><path d="M595.2 199.8l3.3-20.6 3.3-5.8-3.3 18.2z"/></g>
<g fill="#2352f5"><path d="M591.9 205.3l3.3-22.1 3.3-4-3.3 20.6z"/></g>
<g fill="#1b40f8"><path d="M588.6 209.2l3.3-23 3.3-3-3.3 22.1z"/><path d="M585.3 212.2l3.3-23.4 3.3-2.6-3.3 23z"/><path d="M582 214.8l3.3-23.9 3.3-2.1-3.3 23.4z"/><path d="M578.7 215.2l3.3-23.4 3.3-0.9-3.3 23.9z"/><path d="M575.4 215.2l3.3-22.8 3.3-0.6-3.3 23.4z"/><path d="M572.1 214.4l3.3-22 3.3 0-3.3 22.8z"/></g>
<g fill="#2352f5"><path d="M568.8 211.7l3.3-20.5 3.3 1.2-3.3 22z"/></g>
<g fill="#2b64f3"><path d="M565.5 206l3.3-17.8 3.3 3-3.3 20.5z"/></g>
<g fill="#3a89ef"><path d="M562.1 196.9l3.4-14 3.3 5.3-3.3 17.8z"/></g>
<g fill="#32a6f1"><path d="M558.8 185.7l3.3-9.4 3.4 6.6-3.4 14z"/></g>
<g fill="#23c2f5"><path d="M555.5 174.4l3.3-4.8 3.3 6.7-3.3 9.4z"/></g>
<g fill="#13ddfa"><path d="M552.2 164.2l3.3-0.5 3.3 5.9-3.3 4.8z"/></g>
<g fill="#0cebfc"><path d="M548.9 158.5l3.3 2.1 3.3 3.1-3.3 0.5z"/></g>
<g fill="#04f8fe"><path d="M545.6 162.4l3.3 1.3 3.3-3.1-3.3-2.1z"/></g>
<g fill="#0cebfc"><path d="M542.3 173.7l3.3-2.2 3.3-7.8-3.3-1.3z"/></g>
<g fill="#1bcff8"><path d="M539 187.8l3.3-6.7 3.3-9.6-3.3 2.2z"/></g>
<g fill="#2bb4f3"><path d="M535.7 202.4l3.3-11.4 3.3-9.9-3.3 6.7z"/></g>
<g fill="#3a99ef"><path d="M532.4 216.2l3.3-15.8 3.3-9.4-3.3 11.4z"/></g>
<g fill="#3277f1"><path d="M529.1 227.1l3.3-19.1 3.3-7.6-3.3 15.8z"/></g>
<g fill="#2b64f3"><path d="M525.8 234.6l3.3-21.2 3.3-5.4-3.3 19.1z"/></g>
<g fill="#2352f5"><path d="M522.5 239.6l3.3-22.4 3.3-3.8-3.3 21.2z"/></g>
<g fill="#1b40f8"><path d="M519.1 243.2l3.4-23.2 3.3-2.8-3.3 22.4z"/><path d="M515.8 246.1l3.3-23.6 3.4-2.5-3.4 23.2z"/><path d="M512.5 248.3l3.3-23.8 3.3-2-3.3 23.6z"/><path d="M509.2 248.8l3.3-23.4 3.3-0.9-3.3 23.8z"/><path d="M505.9 248.7l3.3-22.7 3.3-0.6-3.3 23.4z"/></g>
<g fill="#2352f5"><path d="M502.6 247.8l3.3-21.8 3.3 0-3.3 22.7z"/><path d="M499.3 244.9l3.3-20.1 3.3 1.2-3.3 21.8z"/></g>
<g fill="#2b64f3"><path d="M496 239.1l3.3-17.4 3.3 3.1-3.3 20.1z"/></g>
<g fill="#3a89ef"><path d="M492.7 230l3.3-13.4 3.3 5.1-3.3 17.4z"/></g>
<g fill="#32a6f1"><path d="M489.4 219.2l3.3-8.7 3.3 6.1-3.3 13.4z"/></g>
<g fill="#23c2f5"><path d="M486.1 208.4l3.3-4 3.3 6.1-3.3 8.7z"/></g>
<g fill="#13ddfa"><path d="M482.8 199.1l3.3 0 3.3 5.3-3.3 4z"/></g>
<g fill="#0cebfc"><path d="M615.1 137.7l3.3-0.1 3.3-4.2-3.3-2.2z"/></g>
<g fill="#13ddfa"><path d="M611.8 146.6l3.3-3.4 3.3-5.6-3.3 0.1z"/></g>
<g fill="#1bcff8"><path d="M608.5 156.1l3.3-7 3.3-5.9-3.3 3.4z"/></g>
<g fill="#23c2f5"><path d="M605.2 165.5l3.3-10.7 3.3-5.7-3.3 7z"/></g>
<g fill="#32a6f1"><path d="M601.8 173.4l3.4-13.5 3.3-5.1-3.3 10.7z"/><path d="M598.5 179.2l3.3-15.5 3.4-3.8-3.4 13.5z"/></g>
<g fill="#3a99ef"><path d="M595.2 183.2l3.3-16.5 3.3-3-3.3 15.5z"/><path d="M591.9 186.2l3.3-17.2 3.3-2.3-3.3 16.5z"/><path d="M588.6 188.8l3.3-17.7 3.3-2.1-3.3 17.2z"/><path d="M585.3 190.9l3.3-17.9 3.3-1.9-3.3 17.7z"/><path d="M582 191.8l3.3-17.6 3.3-1.2-3.3 17.9z"/><path d="M578.7 192.4l3.3-17.2 3.3-1-3.3 17.6z"/><path d="M575.4 192.4l3.3-16.5 3.3-0.7-3.3 17.2z"/><path d="M572.1 191.2l3.3-15.2 3.3-0.1-3.3 16.5z"/></g>
<g fill="#32a6f1"><path d="M568.8 188.2l3.3-13.2 3.3 1-3.3 15.2z"/></g>
<g fill="#2bb4f3"><path d="M565.5 182.9l3.3-10.2 3.3 2.3-3.3 13.2z"/></g>
<g fill="#23c2f5"><path d="M562.1 176.3l3.4-6.6 3.3 3-3.3 10.2z"/></g>
<g fill="#1bcff8"><path d="M558.8 169.6l3.3-3 3.4 3.1-3.4 6.6z"/></g>
<g fill="#0cebfc"><path d="M555.5 163.7l3.3 0.3 3.3 2.6-3.3 3z"/></g>
<g fill="#04f8fe"><path d="M552.2 160.6l3.3 2.4 3.3 1-3.3-0.3z"/><path d="M548.9 163.7l3.3 1.7 3.3-2.4-3.3-2.4z"/></g>
<g fill="#0cebfc"><path d="M545.6 171.5l3.3-1 3.3-5.1-3.3-1.7z"/></g>
<g fill="#13ddfa"><path d="M542.3 181.1l3.3-4.5 3.3-6.1-3.3 1z"/></g>
<g fill="#1bcff8"><path d="M539 191l3.3-8.1 3.3-6.3-3.3 4.5z"/></g>
<g fill="#2bb4f3"><path d="M535.7 200.4l3.3-11.5 3.3-6-3.3 8.1z"/></g>
<g fill="#32a6f1"><path d="M532.4 208l3.3-14.2 3.3-4.9-3.3 11.5z"/><path d="M529.1 213.4l3.3-15.9 3.3-3.7-3.3 14.2z"/></g>
<g fill="#3a99ef"><path d="M525.8 217.2l3.3-16.8 3.3-2.9-3.3 15.9z"/><path d="M522.5 220l3.3-17.3 3.3-2.3-3.3 16.8z"/><path d="M519.1 222.5l3.4-17.7 3.3-2.1-3.3 17.3z"/><path d="M515.8 224.5l3.3-17.9 3.4-1.8-3.4 17.7z"/><path d="M512.5 225.4l3.3-17.6 3.3-1.2-3.3 17.9z"/><path d="M509.2 226l3.3-17.1 3.3-1.1-3.3 17.6z"/><path d="M505.9 226l3.3-16.3 3.3-0.8-3.3 17.1z"/><path d="M502.6 224.8l3.3-15 3.3-0.1-3.3 16.3z"/></g>
<g fill="#32a6f1"><path d="M499.3 221.7l3.3-12.8 3.3 0.9-3.3 15z"/></g>
<g fill="#2bb4f3"><path d="M496 216.6l3.3-9.7 3.3 2-3.3 12.8z"/></g>
<g fill="#23c2f5"><path d="M492.7 210.5l3.3-6.1 3.3 2.5-3.3 9.7z"/></g>
<g fill="#1bcff8"><path d="M489.4 204.4l3.3-2.5 3.3 2.5-3.3 6.1z"/></g>
<g fill="#13ddfa"><path d="M486.1 199.1l3.3 0.8 3.3 2-3.3 2.5z"/></g>
<g fill="#0cebfc"><path d="M618.4 137.6l3.3 1.7 3.3-3.3-3.3-2.6z"/></g>
<g fill="#13ddfa"><path d="M615.1 143.2l3.3 0.4 3.3-4.3-3.3-1.7z"/><path d="M611.8 149.1l3.3-1.1 3.3-4.4-3.3-0.4z"/></g>
<g fill="#1bcff8"><path d="M608.5 154.8l3.3-2.4 3.3-4.4-3.3 1.1z"/></g>
<g fill="#23c2f5"><path d="M605.2 159.9l3.3-3.6 3.3-3.9-3.3 2.4z"/><path d="M601.8 163.7l3.4-4.3 3.3-3.1-3.3 3.6z"/><path d="M598.5 166.7l3.3-4.8 3.4-2.5-3.4 4.3z"/></g>
<g fill="#2bb4f3"><path d="M595.2 169l3.3-5 3.3-2.1-3.3 4.8z"/><path d="M591.9 171.1l3.3-5.2 3.3-1.9-3.3 5z"/><path d="M588.6 173l3.3-5.3 3.3-1.8-3.3 5.2z"/><path d="M585.3 174.2l3.3-5.2 3.3-1.3-3.3 5.3z"/><path d="M582 175.2l3.3-5 3.3-1.2-3.3 5.2z"/><path d="M578.7 175.9l3.3-4.7 3.3-1-3.3 5z"/></g>
<g fill="#23c2f5"><path d="M575.4 176l3.3-4.3 3.3-0.5-3.3 4.7z"/><path d="M572.1 175l3.3-3.5 3.3 0.2-3.3 4.3z"/></g>
<g fill="#1bcff8"><path d="M568.8 172.7l3.3-2.3 3.3 1.1-3.3 3.5z"/><path d="M565.5 169.7l3.3-0.9 3.3 1.6-3.3 2.3z"/></g>
<g fill="#13ddfa"><path d="M562.1 166.6l3.4 0.6 3.3 1.6-3.3 0.9z"/></g>
<g fill="#0cebfc"><path d="M558.8 164l3.3 1.9 3.4 1.3-3.4-0.6z"/></g>
<g fill="#04f8fe"><path d="M555.5 163l3.3 2.6 3.3 0.3-3.3-1.9z"/><path d="M552.2 165.4l3.3 2.4 3.3-2.2-3.3-2.6z"/></g>
<g fill="#0cebfc"><path d="M548.9 170.5l3.3 1.3 3.3-4-3.3-2.4z"/><path d="M545.6 176.6l3.3-0.1 3.3-4.7-3.3-1.3z"/></g>
<g fill="#13ddfa"><path d="M542.3 182.9l3.3-1.5 3.3-4.9-3.3 0.1z"/></g>
<g fill="#1bcff8"><path d="M539 188.9l3.3-2.9 3.3-4.6-3.3 1.5z"/></g>
<g fill="#23c2f5"><path d="M535.7 193.8l3.3-3.8 3.3-4-3.3 2.9z"/><path d="M532.4 197.5l3.3-4.5 3.3-3-3.3 3.8z"/><path d="M529.1 200.4l3.3-4.9 3.3-2.5-3.3 4.5z"/></g>
<g fill="#2bb4f3"><path d="M525.8 202.7l3.3-5.1 3.3-2.1-3.3 4.9z"/><path d="M522.5 204.8l3.3-5.3 3.3-1.9-3.3 5.1z"/><path d="M519.1 206.6l3.4-5.3 3.3-1.8-3.3 5.3z"/><path d="M515.8 207.8l3.3-5.1 3.4-1.4-3.4 5.3z"/><path d="M512.5 208.9l3.3-5 3.3-1.2-3.3 5.1z"/><path d="M509.2 209.7l3.3-4.7 3.3-1.1-3.3 5z"/></g>
<g fill="#23c2f5"><path d="M505.9 209.8l3.3-4.2 3.3-0.6-3.3 4.7z"/><path d="M502.6 208.9l3.3-3.3 3.3 0-3.3 4.2z"/><path d="M499.3 206.9l3.3-2.1 3.3 0.8-3.3 3.3z"/></g>
<g fill="#1bcff8"><path d="M496 204.4l3.3-0.7 3.3 1.1-3.3 2.1z"/></g>
<g fill="#13ddfa"><path d="M492.7 201.9l3.3 0.7 3.3 1.1-3.3 0.7z"/></g>
<g fill="#0cebfc"><path d="M489.4 199.9l3.3 1.9 3.3 0.8-3.3-0.7z"/><path d="M621.7 139.3l3.3 2 3.3-2.7-3.3-2.6z"/><path d="M618.4 143.6l3.3 1.1 3.3-3.4-3.3-2z"/></g>
<g fill="#13ddfa"><path d="M615.1 148l3.3 0.2 3.3-3.5-3.3-1.1z"/><path d="M611.8 152.4l3.3-0.8 3.3-3.4-3.3-0.2z"/></g>
<g fill="#1bcff8"><path d="M608.5 156.3l3.3-1.6 3.3-3.1-3.3 0.8z"/><path d="M605.2 159.4l3.3-2.1 3.3-2.6-3.3 1.6z"/><path d="M601.8 161.9l3.4-2.4 3.3-2.2-3.3 2.1z"/></g>
<g fill="#23c2f5"><path d="M598.5 164l3.3-2.5 3.4-2-3.4 2.4z"/><path d="M595.2 165.9l3.3-2.6 3.3-1.8-3.3 2.5z"/><path d="M591.9 167.7l3.3-2.7 3.3-1.7-3.3 2.6z"/><path d="M588.6 169l3.3-2.6 3.3-1.4-3.3 2.7z"/><path d="M585.3 170.2l3.3-2.5 3.3-1.3-3.3 2.6z"/></g>
<g fill="#1bcff8"><path d="M582 171.2l3.3-2.3 3.3-1.2-3.3 2.5z"/><path d="M578.7 171.7l3.3-2 3.3-0.8-3.3 2.3z"/><path d="M575.4 171.5l3.3-1.5 3.3-0.3-3.3 2z"/><path d="M572.1 170.4l3.3-0.7 3.3 0.3-3.3 1.5z"/></g>
<g fill="#13ddfa"><path d="M568.8 168.8l3.3 0.3 3.3 0.6-3.3 0.7z"/><path d="M565.5 167.2l3.3 1.2 3.3 0.7-3.3-0.3z"/></g>
<g fill="#0cebfc"><path d="M562.1 165.9l3.4 2.1 3.3 0.4-3.3-1.2z"/><path d="M558.8 165.6l3.3 2.7 3.4-0.3-3.4-2.1z"/></g>
<g fill="#04f8fe"><path d="M555.5 167.8l3.3 2.5 3.3-2-3.3-2.7z"/></g>
<g fill="#0cebfc"><path d="M552.2 171.8l3.3 1.8 3.3-3.3-3.3-2.5z"/><path d="M548.9 176.5l3.3 0.9 3.3-3.8-3.3-1.8z"/></g>
<g fill="#13ddfa"><path d="M545.6 181.4l3.3-0.1 3.3-3.9-3.3-0.9z"/><path d="M542.3 186l3.3-1 3.3-3.7-3.3 0.1z"/></g>
<g fill="#1bcff8"><path d="M539 190l3.3-1.8 3.3-3.2-3.3 1z"/><path d="M535.7 193l3.3-2.1 3.3-2.7-3.3 1.8z"/><path d="M532.4 195.5l3.3-2.4 3.3-2.2-3.3 2.1z"/><path d="M529.1 197.6l3.3-2.6 3.3-1.9-3.3 2.4z"/></g>
<g fill="#23c2f5"><path d="M525.8 199.5l3.3-2.6 3.3-1.9-3.3 2.6z"/><path d="M522.5 201.3l3.3-2.7 3.3-1.7-3.3 2.6z"/><path d="M519.1 202.7l3.4-2.6 3.3-1.5-3.3 2.7z"/><path d="M515.8 203.9l3.3-2.5 3.4-1.3-3.4 2.6z"/></g>
<g fill="#1bcff8"><path d="M512.5 205l3.3-2.3 3.3-1.3-3.3 2.5z"/><path d="M509.2 205.6l3.3-2 3.3-0.9-3.3 2.3z"/><path d="M505.9 205.6l3.3-1.4 3.3-0.6-3.3 2z"/><path d="M502.6 204.8l3.3-0.5 3.3-0.1-3.3 1.4z"/></g>
<g fill="#13ddfa"><path d="M499.3 203.7l3.3 0.4 3.3 0.2-3.3 0.5z"/><path d="M496 202.6l3.3 1.4 3.3 0.1-3.3-0.4z"/></g>
<g fill="#0cebfc"><path d="M492.7 201.8l3.3 2.3 3.3-0.1-3.3-1.4z"/><path d="M625 141.3l3.3 2.1 3.3-2.3-3.3-2.5z"/><path d="M621.7 144.7l3.3 1.4 3.3-2.7-3.3-2.1z"/></g>
<g fill="#13ddfa"><path d="M618.4 148.2l3.3 0.7 3.3-2.8-3.3-1.4z"/><path d="M615.1 151.6l3.3 0 3.3-2.7-3.3-0.7z"/><path d="M611.8 154.7l3.3-0.5 3.3-2.6-3.3 0z"/></g>
<g fill="#1bcff8"><path d="M608.5 157.3l3.3-0.9 3.3-2.2-3.3 0.5z"/><path d="M605.2 159.5l3.3-1.1 3.3-2-3.3 0.9z"/><path d="M601.8 161.5l3.4-1.3 3.3-1.8-3.3 1.1z"/><path d="M598.5 163.3l3.3-1.4 3.4-1.7-3.4 1.3z"/><path d="M595.2 165l3.3-1.5 3.3-1.6-3.3 1.4z"/><path d="M591.9 166.4l3.3-1.4 3.3-1.5-3.3 1.5z"/><path d="M588.6 167.7l3.3-1.3 3.3-1.4-3.3 1.4z"/><path d="M585.3 168.9l3.3-1.2 3.3-1.3-3.3 1.3z"/><path d="M582 169.7l3.3-0.9 3.3-1.1-3.3 1.2z"/></g>
<g fill="#13ddfa"><path d="M578.7 170l3.3-0.5 3.3-0.7-3.3 0.9z"/><path d="M575.4 169.7l3.3 0.1 3.3-0.3-3.3 0.5z"/><path d="M572.1 169.1l3.3 0.8 3.3-0.1-3.3-0.1z"/></g>
<g fill="#0cebfc"><path d="M568.8 168.4l3.3 1.5 3.3 0-3.3-0.8z"/><path d="M565.5 168l3.3 2.1 3.3-0.2-3.3-1.5z"/><path d="M562.1 168.3l3.4 2.5 3.3-0.7-3.3-2.1z"/><path d="M558.8 170.3l3.3 2.4 3.4-1.9-3.4-2.5z"/><path d="M555.5 173.6l3.3 1.9 3.3-2.8-3.3-2.4z"/><path d="M552.2 177.4l3.3 1.2 3.3-3.1-3.3-1.9z"/></g>
<g fill="#13ddfa"><path d="M548.9 181.3l3.3 0.4 3.3-3.1-3.3-1.2z"/><path d="M545.6 185l3.3-0.2 3.3-3.1-3.3-0.4z"/><path d="M542.3 188.2l3.3-0.7 3.3-2.7-3.3 0.2z"/></g>
<g fill="#1bcff8"><path d="M539 190.9l3.3-1 3.3-2.4-3.3 0.7z"/><path d="M535.7 193.1l3.3-1.2 3.3-2-3.3 1z"/><path d="M532.4 195l3.3-1.3 3.3-1.8-3.3 1.2z"/><path d="M529.1 196.9l3.3-1.4 3.3-1.8-3.3 1.3z"/><path d="M525.8 198.6l3.3-1.4 3.3-1.7-3.3 1.4z"/><path d="M522.5 200.1l3.3-1.4 3.3-1.5-3.3 1.4z"/><path d="M519.1 201.4l3.4-1.2 3.3-1.5-3.3 1.4z"/><path d="M515.8 202.7l3.3-1.1 3.4-1.4-3.4 1.2z"/><path d="M512.5 203.6l3.3-0.8 3.3-1.2-3.3 1.1z"/><path d="M509.2 204.2l3.3-0.4 3.3-1-3.3 0.8z"/></g>
<g fill="#13ddfa"><path d="M505.9 204.3l3.3 0.2 3.3-0.7-3.3 0.4z"/><path d="M502.6 204.1l3.3 0.9 3.3-0.5-3.3-0.2z"/><path d="M499.3 204l3.3 1.6 3.3-0.6-3.3-0.9z"/><path d="M496 204.1l3.3 2.2 3.3-0.7-3.3-1.6z"/></g>
<g fill="#0cebfc"><path d="M628.3 143.4l3.3 2 3.3-2-3.3-2.3z"/><path d="M625 146.1l3.3 1.5 3.3-2.2-3.3-2z"/></g>
<g fill="#13ddfa"><path d="M621.7 148.9l3.3 1 3.3-2.3-3.3-1.5z"/><path d="M618.4 151.6l3.3 0.5 3.3-2.2-3.3-1z"/><path d="M615.1 154.2l3.3 0.1 3.3-2.2-3.3-0.5z"/><path d="M611.8 156.4l3.3-0.2 3.3-1.9-3.3-0.1z"/><path d="M608.5 158.4l3.3-0.3 3.3-1.9-3.3 0.2z"/><path d="M605.2 160.2l3.3-0.4 3.3-1.7-3.3 0.3z"/><path d="M601.8 161.9l3.4-0.4 3.3-1.7-3.3 0.4z"/><path d="M598.5 163.5l3.3-0.5 3.4-1.5-3.4 0.4z"/><path d="M595.2 165l3.3-0.4 3.3-1.6-3.3 0.5z"/><path d="M591.9 166.4l3.3-0.4 3.3-1.4-3.3 0.4z"/><path d="M588.6 167.7l3.3-0.3 3.3-1.4-3.3 0.4z"/><path d="M585.3 168.8l3.3-0.1 3.3-1.3-3.3 0.3z"/><path d="M582 169.5l3.3 0.2 3.3-1-3.3 0.1z"/><path d="M578.7 169.8l3.3 0.6 3.3-0.7-3.3-0.2z"/><path d="M575.4 169.9l3.3 1.1 3.3-0.6-3.3-0.6z"/></g>
<g fill="#0cebfc"><path d="M572.1 169.9l3.3 1.6 3.3-0.5-3.3-1.1z"/><path d="M568.8 170.1l3.3 2 3.3-0.6-3.3-1.6z"/><path d="M565.5 170.8l3.3 2.3 3.3-1-3.3-2z"/><path d="M562.1 172.7l3.4 2.2 3.3-1.8-3.3-2.3z"/><path d="M558.8 175.5l3.3 1.8 3.4-2.4-3.4-2.2z"/><path d="M555.5 178.6l3.3 1.3 3.3-2.6-3.3-1.8z"/><path d="M552.2 181.7l3.3 0.9 3.3-2.7-3.3-1.3z"/></g>
<g fill="#13ddfa"><path d="M548.9 184.8l3.3 0.4 3.3-2.6-3.3-0.9z"/><path d="M545.6 187.5l3.3 0.1 3.3-2.4-3.3-0.4z"/><path d="M542.3 189.9l3.3-0.3 3.3-2-3.3-0.1z"/><path d="M539 191.9l3.3-0.4 3.3-1.9-3.3 0.3z"/><path d="M535.7 193.7l3.3-0.4 3.3-1.8-3.3 0.4z"/><path d="M532.4 195.5l3.3-0.5 3.3-1.7-3.3 0.4z"/><path d="M529.1 197.2l3.3-0.5 3.3-1.7-3.3 0.5z"/><path d="M525.8 198.7l3.3-0.4 3.3-1.6-3.3 0.5z"/><path d="M522.5 200.2l3.3-0.4 3.3-1.5-3.3 0.4z"/><path d="M519.1 201.6l3.4-0.3 3.3-1.5-3.3 0.4z"/><path d="M515.8 202.8l3.3-0.1 3.4-1.4-3.4 0.3z"/><path d="M512.5 203.8l3.3 0.2 3.3-1.3-3.3 0.1z"/><path d="M509.2 204.5l3.3 0.6 3.3-1.1-3.3-0.2z"/><path d="M505.9 205l3.3 1.2 3.3-1.1-3.3-0.6z"/><path d="M502.6 205.6l3.3 1.6 3.3-1-3.3-1.2z"/><path d="M499.3 206.3l3.3 2.1 3.3-1.2-3.3-1.6z"/></g>
<g fill="#0cebfc"><path d="M631.6 145.4l3.3 1.8 3.3-1.8-3.3-2z"/></g>
<g fill="#13ddfa"><path d="M628.3 147.6l3.3 1.5 3.3-1.9-3.3-1.8z"/><path d="M625 149.9l3.3 1.1 3.3-1.9-3.3-1.5z"/><path d="M621.7 152.1l3.3 0.8 3.3-1.9-3.3-1.1z"/><path d="M618.4 154.3l3.3 0.4 3.3-1.8-3.3-0.8z"/><path d="M615.1 156.2l3.3 0.3 3.3-1.8-3.3-0.4z"/><path d="M611.8 158.1l3.3 0.1 3.3-1.7-3.3-0.3z"/><path d="M608.5 159.8l3.3 0.1 3.3-1.7-3.3-0.1z"/><path d="M605.2 161.5l3.3 0 3.3-1.6-3.3-0.1z"/><path d="M601.8 163l3.4 0.1 3.3-1.6-3.3 0z"/><path d="M598.5 164.6l3.3 0 3.4-1.5-3.4-0.1z"/><path d="M595.2 166l3.3 0.1 3.3-1.5-3.3 0z"/><path d="M591.9 167.4l3.3 0.2 3.3-1.5-3.3-0.1z"/><path d="M588.6 168.7l3.3 0.3 3.3-1.4-3.3-0.2z"/><path d="M585.3 169.7l3.3 0.5 3.3-1.2-3.3-0.3z"/><path d="M582 170.4l3.3 0.8 3.3-1-3.3-0.5z"/></g>
<g fill="#0cebfc"><path d="M578.7 171l3.3 1.1 3.3-0.9-3.3-0.8z"/><path d="M575.4 171.5l3.3 1.5 3.3-0.9-3.3-1.1z"/><path d="M572.1 172.1l3.3 1.9 3.3-1-3.3-1.5z"/><path d="M568.8 173.1l3.3 2.1 3.3-1.2-3.3-1.9z"/><path d="M565.5 174.9l3.3 2 3.3-1.7-3.3-2.1z"/><path d="M562.1 177.3l3.4 1.7 3.3-2.1-3.3-2z"/><path d="M558.8 179.9l3.3 1.4 3.4-2.3-3.4-1.7z"/><path d="M555.5 182.6l3.3 1 3.3-2.3-3.3-1.4z"/></g>
<g fill="#13ddfa"><path d="M552.2 185.2l3.3 0.6 3.3-2.2-3.3-1z"/><path d="M548.9 187.6l3.3 0.3 3.3-2.1-3.3-0.6z"/><path d="M545.6 189.6l3.3 0.3 3.3-2-3.3-0.3z"/><path d="M542.3 191.5l3.3 0.1 3.3-1.7-3.3-0.3z"/><path d="M539 193.3l3.3 0.1 3.3-1.8-3.3-0.1z"/><path d="M535.7 195l3.3 0 3.3-1.6-3.3-0.1z"/><path d="M532.4 196.7l3.3 0 3.3-1.7-3.3 0z"/><path d="M529.1 198.3l3.3 0 3.3-1.6-3.3 0z"/><path d="M525.8 199.8l3.3 0.1 3.3-1.6-3.3 0z"/><path d="M522.5 201.3l3.3 0.2 3.3-1.6-3.3-0.1z"/><path d="M519.1 202.7l3.4 0.3 3.3-1.5-3.3-0.2z"/><path d="M515.8 204l3.3 0.5 3.4-1.5-3.4-0.3z"/><path d="M512.5 205.1l3.3 0.8 3.3-1.4-3.3-0.5z"/><path d="M509.2 206.2l3.3 1.2 3.3-1.5-3.3-0.8z"/><path d="M505.9 207.2l3.3 1.6 3.3-1.4-3.3-1.2z"/><path d="M502.6 208.4l3.3 1.9 3.3-1.5-3.3-1.6z"/></g>
<g fill="#0cebfc"><path d="M634.9 147.2l3.3 1.6 3.3-1.7-3.3-1.7z"/></g>
<g fill="#13ddfa"><path d="M631.6 149.1l3.3 1.4 3.3-1.7-3.3-1.6z"/><path d="M628.3 151l3.3 1.3 3.3-1.8-3.3-1.4z"/><path d="M625 152.9l3.3 1.1 3.3-1.7-3.3-1.3z"/><path d="M621.7 154.7l3.3 1 3.3-1.7-3.3-1.1z"/><path d="M618.4 156.5l3.3 0.9 3.3-1.7-3.3-1z"/><path d="M615.1 158.2l3.3 0.9 3.3-1.7-3.3-0.9z"/><path d="M611.8 159.9l3.3 0.8 3.3-1.6-3.3-0.9z"/><path d="M608.5 161.5l3.3 0.8 3.3-1.6-3.3-0.8z"/><path d="M605.2 163.1l3.3 0.8 3.3-1.6-3.3-0.8z"/><path d="M601.8 164.6l3.4 0.8 3.3-1.5-3.3-0.8z"/><path d="M598.5 166.1l3.3 0.8 3.4-1.5-3.4-0.8z"/><path d="M595.2 167.6l3.3 0.8 3.3-1.5-3.3-0.8z"/><path d="M591.9 169l3.3 0.9 3.3-1.5-3.3-0.8z"/><path d="M588.6 170.2l3.3 1 3.3-1.3-3.3-0.9z"/></g>
<g fill="#0cebfc"><path d="M585.3 171.2l3.3 1.1 3.3-1.1-3.3-1z"/><path d="M582 172.1l3.3 1.3 3.3-1.1-3.3-1.1z"/><path d="M578.7 173l3.3 1.5 3.3-1.1-3.3-1.3z"/><path d="M575.4 174l3.3 1.6 3.3-1.1-3.3-1.5z"/><path d="M572.1 175.2l3.3 1.7 3.3-1.3-3.3-1.6z"/><path d="M568.8 176.9l3.3 1.7 3.3-1.7-3.3-1.7z"/><path d="M565.5 179l3.3 1.6 3.3-2-3.3-1.7z"/><path d="M562.1 181.3l3.4 1.4 3.3-2.1-3.3-1.6z"/><path d="M558.8 183.6l3.3 1.2 3.4-2.1-3.4-1.4z"/><path d="M555.5 185.8l3.3 1.1 3.3-2.1-3.3-1.2z"/></g>
<g fill="#13ddfa"><path d="M552.2 187.9l3.3 1 3.3-2-3.3-1.1z"/><path d="M548.9 189.9l3.3 0.9 3.3-1.9-3.3-1z"/><path d="M545.6 191.6l3.3 0.9 3.3-1.7-3.3-0.9z"/><path d="M542.3 193.4l3.3 0.8 3.3-1.7-3.3-0.9z"/><path d="M539 195l3.3 0.8 3.3-1.6-3.3-0.8z"/><path d="M535.7 196.7l3.3 0.8 3.3-1.7-3.3-0.8z"/><path d="M532.4 198.3l3.3 0.8 3.3-1.6-3.3-0.8z"/><path d="M529.1 199.9l3.3 0.8 3.3-1.6-3.3-0.8z"/><path d="M525.8 201.5l3.3 0.8 3.3-1.6-3.3-0.8z"/><path d="M522.5 203l3.3 0.9 3.3-1.6-3.3-0.8z"/><path d="M519.1 204.5l3.4 1 3.3-1.6-3.3-0.9z"/><path d="M515.8 205.9l3.3 1.2 3.4-1.6-3.4-1z"/><path d="M512.5 207.4l3.3 1.3 3.3-1.6-3.3-1.2z"/><path d="M509.2 208.8l3.3 1.5 3.3-1.6-3.3-1.3z"/><path d="M505.9 210.3l3.3 1.6 3.3-1.6-3.3-1.5z"/></g>
<g fill="#0cebfc"><path d="M638.2 148.8l3.3 1.6 3.4-1.9-3.4-1.4z"/></g>
<g fill="#13ddfa"><path d="M634.9 150.5l3.3 1.8 3.3-1.9-3.3-1.6z"/><path d="M631.6 152.3l3.3 2 3.3-2-3.3-1.8z"/><path d="M628.3 154l3.3 2.3 3.3-2-3.3-2z"/><path d="M625 155.7l3.3 2.5 3.3-1.9-3.3-2.3z"/><path d="M621.7 157.4l3.3 2.6 3.3-1.8-3.3-2.5z"/><path d="M618.4 159.1l3.3 2.6 3.3-1.7-3.3-2.6z"/><path d="M615.1 160.7l3.3 2.7 3.3-1.7-3.3-2.6z"/><path d="M611.8 162.3l3.3 2.7 3.3-1.6-3.3-2.7z"/><path d="M608.5 163.9l3.3 2.7 3.3-1.6-3.3-2.7z"/><path d="M605.2 165.4l3.3 2.8 3.3-1.6-3.3-2.7z"/><path d="M601.8 166.9l3.4 2.8 3.3-1.5-3.3-2.8z"/><path d="M598.5 168.4l3.3 2.7 3.4-1.4-3.4-2.8z"/><path d="M595.2 169.9l3.3 2.6 3.3-1.4-3.3-2.7z"/><path d="M591.9 171.2l3.3 2.4 3.3-1.1-3.3-2.6z"/><path d="M588.6 172.3l3.3 2.3 3.3-1-3.3-2.4z"/></g>
<g fill="#0cebfc"><path d="M585.3 173.4l3.3 2 3.3-0.8-3.3-2.3z"/><path d="M582 174.5l3.3 1.7 3.3-0.8-3.3-2z"/><path d="M578.7 175.6l3.3 1.5 3.3-0.9-3.3-1.7z"/><path d="M575.4 176.9l3.3 1.4 3.3-1.2-3.3-1.5z"/><path d="M572.1 178.6l3.3 1.4 3.3-1.7-3.3-1.4z"/><path d="M568.8 180.6l3.3 1.6 3.3-2.2-3.3-1.4z"/><path d="M565.5 182.7l3.3 1.9 3.3-2.4-3.3-1.6z"/><path d="M562.1 184.8l3.4 2.1 3.3-2.3-3.3-1.9z"/><path d="M558.8 186.9l3.3 2.4 3.4-2.4-3.4-2.1z"/></g>
<g fill="#13ddfa"><path d="M555.5 188.9l3.3 2.5 3.3-2.1-3.3-2.4z"/><path d="M552.2 190.8l3.3 2.6 3.3-2-3.3-2.5z"/><path d="M548.9 192.5l3.3 2.7 3.3-1.8-3.3-2.6z"/><path d="M545.6 194.2l3.3 2.7 3.3-1.7-3.3-2.7z"/><path d="M542.3 195.8l3.3 2.8 3.3-1.7-3.3-2.7z"/><path d="M539 197.5l3.3 2.8 3.3-1.7-3.3-2.8z"/><path d="M535.7 199.1l3.3 2.8 3.3-1.6-3.3-2.8z"/><path d="M532.4 200.7l3.3 2.7 3.3-1.5-3.3-2.8z"/><path d="M529.1 202.3l3.3 2.7 3.3-1.6-3.3-2.7z"/><path d="M525.8 203.9l3.3 2.6 3.3-1.5-3.3-2.7z"/><path d="M522.5 205.5l3.3 2.4 3.3-1.4-3.3-2.6z"/><path d="M519.1 207.1l3.4 2.2 3.3-1.4-3.3-2.4z"/><path d="M515.8 208.7l3.3 2 3.4-1.4-3.4-2.2z"/><path d="M512.5 210.3l3.3 1.7 3.3-1.3-3.3-2z"/><path d="M509.2 211.9l3.3 1.5 3.3-1.4-3.3-1.7z"/></g>
<g fill="#0cebfc"><path d="M641.5 150.4l3.4 1.3 3.3-2.1-3.3-1.1z"/></g>
<g fill="#13ddfa"><path d="M638.2 152.3l3.3 1.7 3.4-2.3-3.4-1.3z"/><path d="M634.9 154.3l3.3 2.1 3.3-2.4-3.3-1.7z"/><path d="M631.6 156.3l3.3 2.5 3.3-2.4-3.3-2.1z"/><path d="M628.3 158.2l3.3 2.8 3.3-2.2-3.3-2.5z"/><path d="M625 160l3.3 3 3.3-2-3.3-2.8z"/><path d="M621.7 161.7l3.3 3.2 3.3-1.9-3.3-3z"/><path d="M618.4 163.4l3.3 3.2 3.3-1.7-3.3-3.2z"/><path d="M615.1 165l3.3 3.3 3.3-1.7-3.3-3.2z"/><path d="M611.8 166.6l3.3 3.3 3.3-1.6-3.3-3.3z"/><path d="M608.5 168.2l3.3 3.2 3.3-1.5-3.3-3.3z"/><path d="M605.2 169.7l3.3 3.2 3.3-1.5-3.3-3.2z"/><path d="M601.8 171.1l3.4 3.1 3.3-1.3-3.3-3.2z"/><path d="M598.5 172.5l3.3 2.9 3.4-1.2-3.4-3.1z"/><path d="M595.2 173.6l3.3 2.8 3.3-1-3.3-2.9z"/><path d="M591.9 174.6l3.3 2.4 3.3-0.6-3.3-2.8z"/><path d="M588.6 175.4l3.3 2.1 3.3-0.5-3.3-2.4z"/></g>
<g fill="#0cebfc"><path d="M585.3 176.2l3.3 1.7 3.3-0.4-3.3-2.1z"/><path d="M582 177.1l3.3 1.3 3.3-0.5-3.3-1.7z"/><path d="M578.7 178.3l3.3 1.1 3.3-1-3.3-1.3z"/><path d="M575.4 180l3.3 1.2 3.3-1.8-3.3-1.1z"/><path d="M572.1 182.2l3.3 1.5 3.3-2.5-3.3-1.2z"/><path d="M568.8 184.6l3.3 1.8 3.3-2.7-3.3-1.5z"/><path d="M565.5 186.9l3.3 2.3 3.3-2.8-3.3-1.8z"/></g>
<g fill="#13ddfa"><path d="M562.1 189.3l3.4 2.6 3.3-2.7-3.3-2.3z"/><path d="M558.8 191.4l3.3 2.9 3.4-2.4-3.4-2.6z"/><path d="M555.5 193.4l3.3 3 3.3-2.1-3.3-2.9z"/><path d="M552.2 195.2l3.3 3.1 3.3-1.9-3.3-3z"/><path d="M548.9 196.9l3.3 3.2 3.3-1.8-3.3-3.1z"/><path d="M545.6 198.6l3.3 3.2 3.3-1.7-3.3-3.2z"/><path d="M542.3 200.3l3.3 3.3 3.3-1.8-3.3-3.2z"/><path d="M539 201.9l3.3 3.2 3.3-1.5-3.3-3.3z"/><path d="M535.7 203.4l3.3 3.2 3.3-1.5-3.3-3.2z"/><path d="M532.4 205l3.3 3.1 3.3-1.5-3.3-3.2z"/><path d="M529.1 206.5l3.3 2.9 3.3-1.3-3.3-3.1z"/><path d="M525.8 207.9l3.3 2.7 3.3-1.2-3.3-2.9z"/><path d="M522.5 209.3l3.3 2.4 3.3-1.1-3.3-2.7z"/><path d="M519.1 210.7l3.4 1.9 3.3-0.9-3.3-2.4z"/><path d="M515.8 212l3.3 1.6 3.4-1-3.4-1.9z"/><path d="M512.5 213.4l3.3 1.2 3.3-1-3.3-1.6z"/></g>
<g fill="#0cebfc"><path d="M644.9 151.7l3.3 1.2 3.3-2.4-3.3-0.9z"/><path d="M641.5 154l3.4 1.7 3.3-2.8-3.3-1.2z"/></g>
<g fill="#13ddfa"><path d="M638.2 156.4l3.3 2.3 3.4-3-3.4-1.7z"/><path d="M634.9 158.8l3.3 2.8 3.3-2.9-3.3-2.3z"/><path d="M631.6 161l3.3 3.2 3.3-2.6-3.3-2.8z"/><path d="M628.3 163l3.3 3.6 3.3-2.4-3.3-3.2z"/><path d="M625 164.9l3.3 3.7 3.3-2-3.3-3.6z"/><path d="M621.7 166.6l3.3 3.8 3.3-1.8-3.3-3.7z"/><path d="M618.4 168.3l3.3 3.9 3.3-1.8-3.3-3.8z"/><path d="M615.1 169.9l3.3 3.9 3.3-1.6-3.3-3.9z"/><path d="M611.8 171.4l3.3 3.9 3.3-1.5-3.3-3.9z"/><path d="M608.5 172.9l3.3 3.7 3.3-1.3-3.3-3.9z"/><path d="M605.2 174.2l3.3 3.7 3.3-1.3-3.3-3.7z"/><path d="M601.8 175.4l3.4 3.6 3.3-1.1-3.3-3.7z"/><path d="M598.5 176.4l3.3 3.2 3.4-0.6-3.4-3.6z"/><path d="M595.2 177l3.3 2.8 3.3-0.2-3.3-3.2z"/><path d="M591.9 177.5l3.3 2.1 3.3 0.2-3.3-2.8z"/></g>
<g fill="#0cebfc"><path d="M588.6 177.9l3.3 1.6 3.3 0.1-3.3-2.1z"/><path d="M585.3 178.4l3.3 1.2 3.3-0.1-3.3-1.6z"/><path d="M582 179.4l3.3 0.8 3.3-0.6-3.3-1.2z"/><path d="M578.7 181.2l3.3 0.9 3.3-1.9-3.3-0.8z"/><path d="M575.4 183.7l3.3 1.3 3.3-2.9-3.3-0.9z"/><path d="M572.1 186.4l3.3 1.8 3.3-3.2-3.3-1.3z"/><path d="M568.8 189.2l3.3 2.4 3.3-3.4-3.3-1.8z"/></g>
<g fill="#13ddfa"><path d="M565.5 191.9l3.3 2.9 3.3-3.2-3.3-2.4z"/><path d="M562.1 194.3l3.4 3.3 3.3-2.8-3.3-2.9z"/><path d="M558.8 196.4l3.3 3.6 3.4-2.4-3.4-3.3z"/><path d="M555.5 198.3l3.3 3.8 3.3-2.1-3.3-3.6z"/><path d="M552.2 200.1l3.3 3.8 3.3-1.8-3.3-3.8z"/><path d="M548.9 201.8l3.3 3.9 3.3-1.8-3.3-3.8z"/><path d="M545.6 203.6l3.3 3.9 3.3-1.8-3.3-3.9z"/><path d="M542.3 205.1l3.3 3.8 3.3-1.4-3.3-3.9z"/><path d="M539 206.6l3.3 3.8 3.3-1.5-3.3-3.8z"/><path d="M535.7 208.1l3.3 3.6 3.3-1.3-3.3-3.8z"/><path d="M532.4 209.4l3.3 3.5 3.3-1.2-3.3-3.6z"/><path d="M529.1 210.6l3.3 3.1 3.3-0.8-3.3-3.5z"/><path d="M525.8 211.7l3.3 2.5 3.3-0.5-3.3-3.1z"/><path d="M522.5 212.6l3.3 2 3.3-0.4-3.3-2.5z"/><path d="M519.1 213.6l3.4 1.4 3.3-0.4-3.3-2z"/><path d="M515.8 214.6l3.3 1 3.4-0.6-3.4-1.4z"/></g>
<g fill="#0cebfc"><path d="M648.2 152.9l3.3 1.1 3.3-2.9-3.3-0.6z"/><path d="M644.9 155.7l3.3 1.9 3.3-3.6-3.3-1.1z"/></g>
<g fill="#13ddfa"><path d="M641.5 158.7l3.4 2.6 3.3-3.7-3.3-1.9z"/><path d="M638.2 161.6l3.3 3.3 3.4-3.6-3.4-2.6z"/><path d="M634.9 164.2l3.3 4 3.3-3.3-3.3-3.3z"/></g>
<g fill="#1bcff8"><path d="M631.6 166.6l3.3 4.3 3.3-2.7-3.3-4z"/><path d="M628.3 168.6l3.3 4.6 3.3-2.3-3.3-4.3z"/><path d="M625 170.4l3.3 4.8 3.3-2-3.3-4.6z"/><path d="M621.7 172.2l3.3 4.8 3.3-1.8-3.3-4.8z"/><path d="M618.4 173.8l3.3 4.9 3.3-1.7-3.3-4.8z"/><path d="M615.1 175.3l3.3 4.8 3.3-1.4-3.3-4.9z"/><path d="M611.8 176.6l3.3 4.8 3.3-1.3-3.3-4.8z"/><path d="M608.5 177.9l3.3 4.6 3.3-1.1-3.3-4.8z"/><path d="M605.2 179l3.3 4.3 3.3-0.8-3.3-4.6z"/><path d="M601.8 179.6l3.4 3.9 3.3-0.2-3.3-4.3z"/></g>
<g fill="#13ddfa"><path d="M598.5 179.8l3.3 3.2 3.4 0.5-3.4-3.9z"/><path d="M595.2 179.6l3.3 2.6 3.3 0.8-3.3-3.2z"/></g>
<g fill="#0cebfc"><path d="M591.9 179.5l3.3 1.8 3.3 0.9-3.3-2.6z"/><path d="M588.6 179.6l3.3 1 3.3 0.7-3.3-1.8z"/><path d="M585.3 180.2l3.3 0.6 3.3-0.2-3.3-1z"/><path d="M582 182.1l3.3 0.8 3.3-2.1-3.3-0.6z"/><path d="M578.7 185l3.3 1.3 3.3-3.4-3.3-0.8z"/><path d="M575.4 188.2l3.3 2.1 3.3-4-3.3-1.3z"/></g>
<g fill="#13ddfa"><path d="M572.1 191.6l3.3 2.8 3.3-4.1-3.3-2.1z"/><path d="M568.8 194.8l3.3 3.6 3.3-4-3.3-2.8z"/><path d="M565.5 197.6l3.3 4.2 3.3-3.4-3.3-3.6z"/></g>
<g fill="#1bcff8"><path d="M562.1 200l3.4 4.5 3.3-2.7-3.3-4.2z"/><path d="M558.8 202.1l3.3 4.6 3.4-2.2-3.4-4.5z"/><path d="M555.5 203.9l3.3 4.8 3.3-2-3.3-4.6z"/><path d="M552.2 205.7l3.3 4.9 3.3-1.9-3.3-4.8z"/><path d="M548.9 207.5l3.3 4.8 3.3-1.7-3.3-4.9z"/><path d="M545.6 208.9l3.3 4.8 3.3-1.4-3.3-4.8z"/><path d="M542.3 210.4l3.3 4.7 3.3-1.4-3.3-4.8z"/><path d="M539 211.7l3.3 4.5 3.3-1.1-3.3-4.7z"/><path d="M535.7 212.9l3.3 4.2 3.3-0.9-3.3-4.5z"/><path d="M532.4 213.7l3.3 3.7 3.3-0.3-3.3-4.2z"/></g>
<g fill="#13ddfa"><path d="M529.1 214.2l3.3 3 3.3 0.2-3.3-3.7z"/><path d="M525.8 214.6l3.3 2.3 3.3 0.3-3.3-3z"/><path d="M522.5 215l3.3 1.5 3.3 0.4-3.3-2.3z"/></g>
<g fill="#0cebfc"><path d="M519.1 215.6l3.4 0.9 3.3 0-3.3-1.5z"/><path d="M651.5 154l3.3 1.3 3.3-3.6-3.3-0.6z"/><path d="M648.2 157.6l3.3 2.2 3.3-4.5-3.3-1.3z"/></g>
<g fill="#13ddfa"><path d="M644.9 161.3l3.3 3.2 3.3-4.7-3.3-2.2z"/></g>
<g fill="#1bcff8"><path d="M641.5 164.9l3.4 4.3 3.3-4.7-3.3-3.2z"/><path d="M638.2 168.2l3.3 5.2 3.4-4.2-3.4-4.3z"/><path d="M634.9 170.9l3.3 5.7 3.3-3.2-3.3-5.2z"/></g>
<g fill="#23c2f5"><path d="M631.6 173.2l3.3 6 3.3-2.6-3.3-5.7z"/><path d="M628.3 175.2l3.3 6.2 3.3-2.2-3.3-6z"/><path d="M625 177l3.3 6.3 3.3-1.9-3.3-6.2z"/><path d="M621.7 178.7l3.3 6.4 3.3-1.8-3.3-6.3z"/><path d="M618.4 180.1l3.3 6.3 3.3-1.3-3.3-6.4z"/><path d="M615.1 181.4l3.3 6.2 3.3-1.2-3.3-6.3z"/><path d="M611.8 182.5l3.3 6 3.3-0.9-3.3-6.2z"/><path d="M608.5 183.3l3.3 5.6 3.3-0.4-3.3-6z"/></g>
<g fill="#1bcff8"><path d="M605.2 183.5l3.3 5 3.3 0.4-3.3-5.6z"/><path d="M601.8 183l3.4 4.2 3.3 1.3-3.3-5z"/></g>
<g fill="#13ddfa"><path d="M598.5 182.2l3.3 3.1 3.4 1.9-3.4-4.2z"/><path d="M595.2 181.3l3.3 2.1 3.3 1.9-3.3-3.1z"/></g>
<g fill="#0cebfc"><path d="M591.9 180.6l3.3 1.2 3.3 1.6-3.3-2.1z"/><path d="M588.6 180.8l3.3 0.6 3.3 0.4-3.3-1.2z"/></g>
<g fill="#04f8fe"><path d="M585.3 182.9l3.3 0.7 3.3-2.2-3.3-0.6z"/></g>
<g fill="#0cebfc"><path d="M582 186.3l3.3 1.5 3.3-4.2-3.3-0.7z"/><path d="M578.7 190.3l3.3 2.5 3.3-5-3.3-1.5z"/></g>
<g fill="#13ddfa"><path d="M575.4 194.4l3.3 3.6 3.3-5.2-3.3-2.5z"/><path d="M572.1 198.4l3.3 4.5 3.3-4.9-3.3-3.6z"/></g>
<g fill="#1bcff8"><path d="M568.8 201.8l3.3 5.3 3.3-4.2-3.3-4.5z"/><path d="M565.5 204.5l3.3 5.8 3.3-3.2-3.3-5.3z"/></g>
<g fill="#23c2f5"><path d="M562.1 206.7l3.4 6.1 3.3-2.5-3.3-5.8z"/><path d="M558.8 208.7l3.3 6.3 3.4-2.2-3.4-6.1z"/><path d="M555.5 210.6l3.3 6.3 3.3-1.9-3.3-6.3z"/><path d="M552.2 212.3l3.3 6.4 3.3-1.8-3.3-6.3z"/><path d="M548.9 213.7l3.3 6.3 3.3-1.3-3.3-6.4z"/><path d="M545.6 215.1l3.3 6.1 3.3-1.2-3.3-6.3z"/><path d="M542.3 216.2l3.3 5.9 3.3-0.9-3.3-6.1z"/><path d="M539 217.1l3.3 5.4 3.3-0.4-3.3-5.9z"/></g>
<g fill="#1bcff8"><path d="M535.7 217.4l3.3 4.7 3.3 0.4-3.3-5.4z"/><path d="M532.4 217.2l3.3 3.8 3.3 1.1-3.3-4.7z"/></g>
<g fill="#13ddfa"><path d="M529.1 216.9l3.3 2.7 3.3 1.4-3.3-3.8z"/><path d="M525.8 216.5l3.3 1.7 3.3 1.4-3.3-2.7z"/></g>
<g fill="#0cebfc"><path d="M522.5 216.5l3.3 0.8 3.3 0.9-3.3-1.7z"/><path d="M654.8 155.3l3.3 1.6 3.3-4.5-3.3-0.7z"/></g>
<g fill="#13ddfa"><path d="M651.5 159.8l3.3 3.1 3.3-6-3.3-1.6z"/><path d="M648.2 164.5l3.3 4.7 3.3-6.3-3.3-3.1z"/></g>
<g fill="#1bcff8"><path d="M644.9 169.2l3.3 6.3 3.3-6.3-3.3-4.7z"/></g>
<g fill="#23c2f5"><path d="M641.5 173.4l3.4 7.5 3.3-5.4-3.3-6.3z"/><path d="M638.2 176.6l3.3 8.4 3.4-4.1-3.4-7.5z"/></g>
<g fill="#2bb4f3"><path d="M634.9 179.2l3.3 8.9 3.3-3.1-3.3-8.4z"/><path d="M631.6 181.4l3.3 9.1 3.3-2.4-3.3-8.9z"/><path d="M628.3 183.3l3.3 9.4 3.3-2.2-3.3-9.1z"/><path d="M625 185.1l3.3 9.5 3.3-1.9-3.3-9.4z"/><path d="M621.7 186.4l3.3 9.3 3.3-1.1-3.3-9.5z"/><path d="M618.4 187.6l3.3 9.1 3.3-1-3.3-9.3z"/><path d="M615.1 188.5l3.3 8.8 3.3-0.6-3.3-9.1z"/><path d="M611.8 188.9l3.3 8.3 3.3 0.1-3.3-8.8z"/></g>
<g fill="#23c2f5"><path d="M608.5 188.5l3.3 7.4 3.3 1.3-3.3-8.3z"/><path d="M605.2 187.2l3.3 6.1 3.3 2.6-3.3-7.4z"/></g>
<g fill="#1bcff8"><path d="M601.8 185.3l3.4 4.5 3.3 3.5-3.3-6.1z"/></g>
<g fill="#13ddfa"><path d="M598.5 183.4l3.3 2.9 3.4 3.5-3.4-4.5z"/></g>
<g fill="#0cebfc"><path d="M595.2 181.8l3.3 1.5 3.3 3-3.3-2.9z"/></g>
<g fill="#04f8fe"><path d="M591.9 181.4l3.3 0.6 3.3 1.3-3.3-1.5z"/><path d="M588.6 183.6l3.3 0.9 3.3-2.5-3.3-0.6z"/></g>
<g fill="#0cebfc"><path d="M585.3 187.8l3.3 2.1 3.3-5.4-3.3-0.9z"/><path d="M582 192.8l3.3 3.6 3.3-6.5-3.3-2.1z"/></g>
<g fill="#13ddfa"><path d="M578.7 198l3.3 5.2 3.3-6.8-3.3-3.6z"/></g>
<g fill="#1bcff8"><path d="M575.4 202.9l3.3 6.7 3.3-6.4-3.3-5.2z"/></g>
<g fill="#23c2f5"><path d="M572.1 207.1l3.3 7.8 3.3-5.3-3.3-6.7z"/><path d="M568.8 210.3l3.3 8.6 3.3-4-3.3-7.8z"/></g>
<g fill="#2bb4f3"><path d="M565.5 212.8l3.3 9 3.3-2.9-3.3-8.6z"/><path d="M562.1 215l3.4 9.2 3.3-2.4-3.3-9z"/><path d="M558.8 216.9l3.3 9.4 3.4-2.1-3.4-9.2z"/><path d="M555.5 218.7l3.3 9.4 3.3-1.8-3.3-9.4z"/><path d="M552.2 220l3.3 9.3 3.3-1.2-3.3-9.4z"/><path d="M548.9 221.2l3.3 9 3.3-0.9-3.3-9.3z"/><path d="M545.6 222.1l3.3 8.6 3.3-0.5-3.3-9z"/><path d="M542.3 222.5l3.3 8 3.3 0.2-3.3-8.6z"/></g>
<g fill="#23c2f5"><path d="M539 222.1l3.3 6.9 3.3 1.5-3.3-8z"/><path d="M535.7 221l3.3 5.4 3.3 2.6-3.3-6.9z"/></g>
<g fill="#1bcff8"><path d="M532.4 219.6l3.3 3.8 3.3 3-3.3-5.4z"/></g>
<g fill="#13ddfa"><path d="M529.1 218.2l3.3 2.3 3.3 2.9-3.3-3.8z"/></g>
<g fill="#0cebfc"><path d="M525.8 217.3l3.3 1 3.3 2.2-3.3-2.3z"/><path d="M658.1 156.9l3.3 4 3.3-7.4-3.3-1.1z"/></g>
<g fill="#13ddfa"><path d="M654.8 162.9l3.3 8.1 3.3-10.1-3.3-4z"/></g>
<g fill="#1bcff8"><path d="M651.5 169.2l3.3 12.8 3.3-11-3.3-8.1z"/></g>
<g fill="#2bb4f3"><path d="M648.2 175.5l3.3 17.2 3.3-10.7-3.3-12.8z"/></g>
<g fill="#32a6f1"><path d="M644.9 180.9l3.3 20.8 3.3-9-3.3-17.2z"/></g>
<g fill="#3a99ef"><path d="M641.5 185l3.4 23.2 3.3-6.5-3.3-20.8z"/></g>
<g fill="#3a89ef"><path d="M638.2 188.1l3.3 24.6 3.4-4.5-3.4-23.2z"/><path d="M634.9 190.5l3.3 25.5 3.3-3.3-3.3-24.6z"/><path d="M631.6 192.7l3.3 26 3.3-2.7-3.3-25.5z"/></g>
<g fill="#3277f1"><path d="M628.3 194.6l3.3 26.3 3.3-2.2-3.3-26z"/></g>
<g fill="#3a89ef"><path d="M625 195.7l3.3 26 3.3-0.8-3.3-26.3z"/><path d="M621.7 196.7l3.3 25.4 3.3-0.4-3.3-26z"/><path d="M618.4 197.3l3.3 24.6 3.3 0.2-3.3-25.4z"/><path d="M615.1 197.2l3.3 23.1 3.3 1.6-3.3-24.6z"/></g>
<g fill="#3a99ef"><path d="M611.8 195.9l3.3 20.5 3.3 3.9-3.3-23.1z"/></g>
<g fill="#32a6f1"><path d="M608.5 193.3l3.3 16.7 3.3 6.4-3.3-20.5z"/></g>
<g fill="#2bb4f3"><path d="M605.2 189.8l3.3 12.2 3.3 8-3.3-16.7z"/></g>
<g fill="#1bcff8"><path d="M601.8 186.3l3.4 7.6 3.3 8.1-3.3-12.2z"/></g>
<g fill="#13ddfa"><path d="M598.5 183.3l3.3 3.5 3.4 7.1-3.4-7.6z"/></g>
<g fill="#04f8fe"><path d="M595.2 182l3.3 0.9 3.3 3.9-3.3-3.5z"/><path d="M591.9 184.5l3.3 1.7 3.3-3.3-3.3-0.9z"/></g>
<g fill="#0cebfc"><path d="M588.6 189.9l3.3 5.1 3.3-8.8-3.3-1.7z"/></g>
<g fill="#13ddfa"><path d="M585.3 196.4l3.3 9.6 3.3-11-3.3-5.1z"/></g>
<g fill="#23c2f5"><path d="M582 203.2l3.3 14.1 3.3-11.3-3.3-9.6z"/></g>
<g fill="#2bb4f3"><path d="M578.7 209.6l3.3 18.4 3.3-10.7-3.3-14.1z"/></g>
<g fill="#32a6f1"><path d="M575.4 214.9l3.3 21.8 3.3-8.7-3.3-18.4z"/></g>
<g fill="#3a99ef"><path d="M572.1 218.9l3.3 23.7 3.3-5.9-3.3-21.8z"/></g>
<g fill="#3a89ef"><path d="M568.8 221.8l3.3 25 3.3-4.2-3.3-23.7z"/><path d="M565.5 224.2l3.3 25.7 3.3-3.1-3.3-25z"/><path d="M562.1 226.3l3.4 26.2 3.3-2.6-3.3-25.7z"/></g>
<g fill="#3277f1"><path d="M558.8 228.1l3.3 26.2 3.4-1.8-3.4-26.2z"/></g>
<g fill="#3a89ef"><path d="M555.5 229.3l3.3 25.7 3.3-0.7-3.3-26.2z"/><path d="M552.2 230.2l3.3 25.1 3.3-0.3-3.3-25.7z"/><path d="M548.9 230.7l3.3 24 3.3 0.6-3.3-25.1z"/><path d="M545.6 230.5l3.3 22 3.3 2.2-3.3-24z"/></g>
<g fill="#3a99ef"><path d="M542.3 229l3.3 18.9 3.3 4.6-3.3-22z"/></g>
<g fill="#32a6f1"><path d="M539 226.4l3.3 14.7 3.3 6.8-3.3-18.9z"/></g>
<g fill="#23c2f5"><path d="M535.7 223.4l3.3 10.2 3.3 7.5-3.3-14.7z"/></g>
<g fill="#1bcff8"><path d="M532.4 220.5l3.3 5.7 3.3 7.4-3.3-10.2z"/></g>
<g fill="#13ddfa"><path d="M529.1 218.3l3.3 2 3.3 5.9-3.3-5.7z"/></g>
<g fill="#0cebfc"><path d="M661.4 160.9l3.3 3.4 3.3-9.6-3.3-1.2z"/></g>
<g fill="#1bcff8"><path d="M658.1 171l3.3 6.9 3.3-13.6-3.3-3.4z"/></g>
<g fill="#2bb4f3"><path d="M654.8 182l3.3 10.5 3.3-14.6-3.3-6.9z"/></g>
<g fill="#3a99ef"><path d="M651.5 192.7l3.3 14.1 3.3-14.3-3.3-10.5z"/></g>
<g fill="#3277f1"><path d="M648.2 201.7l3.3 17 3.3-11.9-3.3-14.1z"/></g>
<g fill="#2352f5"><path d="M644.9 208.2l3.3 19 3.3-8.5-3.3-17z"/></g>
<g fill="#1b40f8"><path d="M641.5 212.7l3.4 20.1 3.3-5.6-3.3-19z"/></g>
<g fill="#132efa"><path d="M638.2 216l3.3 20.7 3.4-3.9-3.4-20.1z"/><path d="M634.9 218.7l3.3 21.1 3.3-3.1-3.3-20.7z"/><path d="M631.6 220.9l3.3 21.5 3.3-2.6-3.3-21.1z"/><path d="M628.3 221.7l3.3 21.1 3.3-0.4-3.3-21.5z"/><path d="M625 222.1l3.3 20.6 3.3 0.1-3.3-21.1z"/></g>
<g fill="#1b40f8"><path d="M621.7 221.9l3.3 19.9 3.3 0.9-3.3-20.6z"/><path d="M618.4 220.3l3.3 18.7 3.3 2.8-3.3-19.9z"/></g>
<g fill="#2352f5"><path d="M615.1 216.4l3.3 16.7 3.3 5.9-3.3-18.7z"/></g>
<g fill="#3277f1"><path d="M611.8 210l3.3 13.7 3.3 9.4-3.3-16.7z"/></g>
<g fill="#3a99ef"><path d="M608.5 202l3.3 10.1 3.3 11.6-3.3-13.7z"/></g>
<g fill="#2bb4f3"><path d="M605.2 193.9l3.3 6.5 3.3 11.7-3.3-10.1z"/></g>
<g fill="#13ddfa"><path d="M601.8 186.8l3.4 3.1 3.3 10.5-3.3-6.5z"/></g>
<g fill="#0cebfc"><path d="M598.5 182.9l3.3 1.1 3.4 5.9-3.4-3.1z"/></g>
<g fill="#04f8fe"><path d="M595.2 186.2l3.3 1.8 3.3-4-3.3-1.1z"/></g>
<g fill="#0cebfc"><path d="M591.9 195l3.3 4.5 3.3-11.5-3.3-1.8z"/></g>
<g fill="#1bcff8"><path d="M588.6 206l3.3 7.9 3.3-14.4-3.3-4.5z"/></g>
<g fill="#32a6f1"><path d="M585.3 217.3l3.3 11.6 3.3-15-3.3-7.9z"/></g>
<g fill="#3a89ef"><path d="M582 228l3.3 15.1 3.3-14.2-3.3-11.6z"/></g>
<g fill="#2b64f3"><path d="M578.7 236.7l3.3 17.7 3.3-11.3-3.3-15.1z"/></g>
<g fill="#2352f5"><path d="M575.4 242.6l3.3 19.4 3.3-7.6-3.3-17.7z"/></g>
<g fill="#1b40f8"><path d="M572.1 246.8l3.3 20.3 3.3-5.1-3.3-19.4z"/></g>
<g fill="#132efa"><path d="M568.8 249.9l3.3 20.8 3.3-3.6-3.3-20.3z"/><path d="M565.5 252.5l3.3 21.2 3.3-3-3.3-20.8z"/><path d="M562.1 254.3l3.4 21.2 3.3-1.8-3.3-21.2z"/><path d="M558.8 255l3.3 20.9 3.4-0.4-3.4-21.2z"/><path d="M555.5 255.3l3.3 20.3 3.3 0.3-3.3-20.9z"/></g>
<g fill="#1b40f8"><path d="M552.2 254.7l3.3 19.4 3.3 1.5-3.3-20.3z"/><path d="M548.9 252.5l3.3 17.8 3.3 3.8-3.3-19.4z"/></g>
<g fill="#2b64f3"><path d="M545.6 247.9l3.3 15.2 3.3 7.2-3.3-17.8z"/></g>
<g fill="#3a89ef"><path d="M542.3 241.1l3.3 11.8 3.3 10.2-3.3-15.2z"/></g>
<g fill="#32a6f1"><path d="M539 233.6l3.3 8.1 3.3 11.2-3.3-11.8z"/></g>
<g fill="#23c2f5"><path d="M535.7 226.2l3.3 4.5 3.3 11-3.3-8.1z"/></g>
<g fill="#13ddfa"><path d="M532.4 220.3l3.3 1.8 3.3 8.6-3.3-4.5z"/></g>
<g fill="#0cebfc"><path d="M664.7 164.3l3.3 1.5 3.3-9.9-3.3-1.2z"/></g>
<g fill="#1bcff8"><path d="M661.4 177.9l3.3 2 3.3-14.1-3.3-1.5z"/></g>
<g fill="#32a6f1"><path d="M658.1 192.5l3.3 2.5 3.3-15.1-3.3-2z"/></g>
<g fill="#3277f1"><path d="M654.8 206.8l3.3 3 3.3-14.8-3.3-2.5z"/></g>
<g fill="#2352f5"><path d="M651.5 218.7l3.3 3.4 3.3-12.3-3.3-3z"/></g>
<g fill="#132efa"><path d="M648.2 227.2l3.3 3.7 3.3-8.8-3.3-3.4z"/></g>
<g fill="#0c1bfc"><path d="M644.9 232.8l3.3 3.9 3.3-5.8-3.3-3.7z"/></g>
<g fill="#0409fe"><path d="M641.5 236.7l3.4 4 3.3-4-3.3-3.9z"/><path d="M638.2 239.8l3.3 4.1 3.4-3.2-3.4-4z"/><path d="M634.9 242.4l3.3 4 3.3-2.5-3.3-4.1z"/><path d="M631.6 242.8l3.3 4 3.3-0.4-3.3-4z"/><path d="M628.3 242.7l3.3 4 3.3 0.1-3.3-4z"/><path d="M625 241.8l3.3 3.9 3.3 1-3.3-4z"/></g>
<g fill="#0c1bfc"><path d="M621.7 239l3.3 3.7 3.3 3-3.3-3.9z"/></g>
<g fill="#132efa"><path d="M618.4 233.1l3.3 3.4 3.3 6.2-3.3-3.7z"/></g>
<g fill="#2352f5"><path d="M615.1 223.7l3.3 2.9 3.3 9.9-3.3-3.4z"/></g>
<g fill="#3a89ef"><path d="M611.8 212.1l3.3 2.5 3.3 12-3.3-2.9z"/></g>
<g fill="#2bb4f3"><path d="M608.5 200.4l3.3 1.9 3.3 12.3-3.3-2.5z"/></g>
<g fill="#1bcff8"><path d="M605.2 189.9l3.3 1.4 3.3 11-3.3-1.9z"/></g>
<g fill="#0cebfc"><path d="M601.8 184l3.4 1.1 3.3 6.2-3.3-1.4z"/></g>
<g fill="#04f8fe"><path d="M598.5 188l3.3 1.2 3.4-4.1-3.4-1.1z"/></g>
<g fill="#0cebfc"><path d="M595.2 199.5l3.3 1.6 3.3-11.9-3.3-1.2z"/></g>
<g fill="#23c2f5"><path d="M591.9 213.9l3.3 2.2 3.3-15-3.3-1.6z"/></g>
<g fill="#3a99ef"><path d="M588.6 228.9l3.3 2.7 3.3-15.5-3.3-2.2z"/></g>
<g fill="#3277f1"><path d="M585.3 243.1l3.3 3.2 3.3-14.7-3.3-2.7z"/></g>
<g fill="#1b40f8"><path d="M582 254.4l3.3 3.5 3.3-11.6-3.3-3.2z"/></g>
<g fill="#132efa"><path d="M578.7 262l3.3 3.8 3.3-7.9-3.3-3.5z"/></g>
<g fill="#0c1bfc"><path d="M575.4 267.1l3.3 3.9 3.3-5.2-3.3-3.8z"/></g>
<g fill="#0409fe"><path d="M572.1 270.7l3.3 4 3.3-3.7-3.3-3.9z"/><path d="M568.8 273.7l3.3 4 3.3-3-3.3-4z"/><path d="M565.5 275.5l3.3 4 3.3-1.8-3.3-4z"/><path d="M562.1 275.9l3.4 3.9 3.3-0.3-3.3-4z"/><path d="M558.8 275.6l3.3 3.9 3.4 0.3-3.4-3.9z"/></g>
<g fill="#0c1bfc"><path d="M555.5 274.1l3.3 3.7 3.3 1.7-3.3-3.9z"/></g>
<g fill="#132efa"><path d="M552.2 270.3l3.3 3.3 3.3 4.2-3.3-3.7z"/></g>
<g fill="#1b40f8"><path d="M548.9 263.1l3.3 2.8 3.3 7.7-3.3-3.3z"/></g>
<g fill="#2b64f3"><path d="M545.6 252.9l3.3 2.2 3.3 10.8-3.3-2.8z"/></g>
<g fill="#3a99ef"><path d="M542.3 241.7l3.3 1.7 3.3 11.7-3.3-2.2z"/></g>
<g fill="#23c2f5"><path d="M539 230.7l3.3 1.2 3.3 11.5-3.3-1.7z"/></g>
<g fill="#13ddfa"><path d="M535.7 222.1l3.3 1 3.3 8.8-3.3-1.2z"/></g>
<g fill="#0cebfc"><path d="M668 165.8l3.3 1.6 3.3-10.1-3.3-1.4z"/></g>
<g fill="#1bcff8"><path d="M664.7 179.9l3.3 1.7 3.3-14.2-3.3-1.6z"/></g>
<g fill="#32a6f1"><path d="M661.4 195l3.3 1.9 3.3-15.3-3.3-1.7z"/></g>
<g fill="#3277f1"><path d="M658.1 209.8l3.3 2.1 3.3-15-3.3-1.9z"/></g>
<g fill="#2352f5"><path d="M654.8 222.1l3.3 2.3 3.3-12.5-3.3-2.1z"/></g>
<g fill="#132efa"><path d="M651.5 230.9l3.3 2.4 3.3-8.9-3.3-2.3z"/></g>
<g fill="#0c1bfc"><path d="M648.2 236.7l3.3 2.4 3.3-5.8-3.3-2.4z"/></g>
<g fill="#0409fe"><path d="M644.9 240.7l3.3 2.4 3.3-4-3.3-2.4z"/><path d="M641.5 243.9l3.4 2.4 3.3-3.2-3.3-2.4z"/></g>
<g fill="#0000ff"><path d="M638.2 246.4l3.3 2.5 3.4-2.6-3.4-2.4z"/><path d="M634.9 246.8l3.3 2.5 3.3-0.4-3.3-2.5z"/></g>
<g fill="#0409fe"><path d="M631.6 246.7l3.3 2.5 3.3 0.1-3.3-2.5z"/><path d="M628.3 245.7l3.3 2.4 3.3 1.1-3.3-2.5z"/></g>
<g fill="#0c1bfc"><path d="M625 242.7l3.3 2.3 3.3 3.1-3.3-2.4z"/></g>
<g fill="#132efa"><path d="M621.7 236.5l3.3 2.3 3.3 6.2-3.3-2.3z"/></g>
<g fill="#2352f5"><path d="M618.4 226.6l3.3 2.1 3.3 10.1-3.3-2.3z"/></g>
<g fill="#3a89ef"><path d="M615.1 214.6l3.3 1.9 3.3 12.2-3.3-2.1z"/></g>
<g fill="#2bb4f3"><path d="M611.8 202.3l3.3 1.7 3.3 12.5-3.3-1.9z"/></g>
<g fill="#1bcff8"><path d="M608.5 191.3l3.3 1.6 3.3 11.1-3.3-1.7z"/></g>
<g fill="#0cebfc"><path d="M605.2 185.1l3.3 1.4 3.3 6.4-3.3-1.6z"/></g>
<g fill="#04f8fe"><path d="M601.8 189.2l3.4 1.5 3.3-4.2-3.3-1.4z"/></g>
<g fill="#0cebfc"><path d="M598.5 201.1l3.3 1.6 3.4-12-3.4-1.5z"/></g>
<g fill="#23c2f5"><path d="M595.2 216.1l3.3 1.8 3.3-15.2-3.3-1.6z"/></g>
<g fill="#3a99ef"><path d="M591.9 231.6l3.3 2 3.3-15.7-3.3-1.8z"/></g>
<g fill="#3277f1"><path d="M588.6 246.3l3.3 2.1 3.3-14.8-3.3-2z"/></g>
<g fill="#1b40f8"><path d="M585.3 257.9l3.3 2.3 3.3-11.8-3.3-2.1z"/></g>
<g fill="#0c1bfc"><path d="M582 265.8l3.3 2.4 3.3-8-3.3-2.3z"/></g>
<g fill="#0409fe"><path d="M578.7 271l3.3 2.4 3.3-5.2-3.3-2.4z"/><path d="M575.4 274.7l3.3 2.5 3.3-3.8-3.3-2.4z"/></g>
<g fill="#0000ff"><path d="M572.1 277.7l3.3 2.5 3.3-3-3.3-2.5z"/><path d="M568.8 279.5l3.3 2.5 3.3-1.8-3.3-2.5z"/><path d="M565.5 279.8l3.3 2.4 3.3-0.2-3.3-2.5z"/></g>
<g fill="#0409fe"><path d="M562.1 279.5l3.4 2.3 3.3 0.4-3.3-2.4z"/><path d="M558.8 277.8l3.3 2.2 3.4 1.8-3.4-2.3z"/></g>
<g fill="#0c1bfc"><path d="M555.5 273.6l3.3 2 3.3 4.4-3.3-2.2z"/></g>
<g fill="#1b40f8"><path d="M552.2 265.9l3.3 1.8 3.3 7.9-3.3-2z"/></g>
<g fill="#2b64f3"><path d="M548.9 255.1l3.3 1.5 3.3 11.1-3.3-1.8z"/></g>
<g fill="#3a99ef"><path d="M545.6 243.4l3.3 1.3 3.3 11.9-3.3-1.5z"/></g>
<g fill="#23c2f5"><path d="M542.3 231.9l3.3 1.2 3.3 11.6-3.3-1.3z"/></g>
<g fill="#13ddfa"><path d="M539 223.1l3.3 1.2 3.3 8.8-3.3-1.2z"/></g>
</g>
<text x="433.3" y="268.7" font-size="14" text-anchor="middle" font-family='"Liberation Serif","DejaVu Serif",serif' textLength="17.2" lengthAdjust="spacingAndGlyphs" >0.5</text>
<text x="468.5" y="283.0" font-size="14" text-anchor="middle" font-family='"Liberation Serif","DejaVu Serif",serif' >1</text>
<text x="501.3" y="300.9" font-size="14" text-anchor="middle" font-family='"Liberation Serif","DejaVu Serif",serif' textLength="17.2" lengthAdjust="spacingAndGlyphs" >1.5</text>
<text x="536.1" y="315.8" font-size="14" text-anchor="middle" font-family='"Liberation Serif","DejaVu Serif",serif' >2</text>
<text x="581.3" y="302.9" font-size="14" text-anchor="middle" font-family='"Liberation Serif","DejaVu Serif",serif' textLength="17.2" lengthAdjust="spacingAndGlyphs" >0.5</text>
<text x="613.5" y="283.9" font-size="14" text-anchor="middle" font-family='"Liberation Serif","DejaVu Serif",serif' >1</text>
<text x="649.2" y="269.6" font-size="14" text-anchor="middle" font-family='"Liberation Serif","DejaVu Serif",serif' textLength="17.2" lengthAdjust="spacingAndGlyphs" >1.5</text>
<text x="681.5" y="250.3" font-size="14" text-anchor="middle" font-family='"Liberation Serif","DejaVu Serif",serif' >2</text>
<text x="405.3" y="156.0" font-size="14" text-anchor="end" font-family='"Liberation Serif","DejaVu Serif",serif' >2</text>
<text x="405.3" y="196.1" font-size="14" text-anchor="end" font-family='"Liberation Serif","DejaVu Serif",serif' >0</text>
<text x="405.3" y="236.6" font-size="14" text-anchor="end" font-family='"Liberation Serif","DejaVu Serif",serif' textLength="16.4" lengthAdjust="spacingAndGlyphs" >−2</text>
<text x="450.7" y="312.6" font-size="14.5" text-anchor="middle" font-family='"Liberation Serif","DejaVu Serif",serif' textLength="26.6" lengthAdjust="spacingAndGlyphs" ><tspan font-style="italic">θ</tspan><tspan font-size="9.5" dy="2.6">1</tspan><tspan dy="-2.6">/</tspan><tspan font-style="italic">π</tspan></text>
<text x="633.5" y="312.9" font-size="14.5" text-anchor="middle" font-family='"Liberation Serif","DejaVu Serif",serif' textLength="26.6" lengthAdjust="spacingAndGlyphs" ><tspan font-style="italic">θ</tspan><tspan font-size="9.5" dy="2.6">2</tspan><tspan dy="-2.6">/</tspan><tspan font-style="italic">π</tspan></text>
<text transform="translate(375.7 191) rotate(-90)" font-size="14.5" text-anchor="middle" textLength="51.5" lengthAdjust="spacingAndGlyphs" font-family='"Liberation Serif","DejaVu Serif",serif'>Φ/(<tspan font-style="italic">k</tspan><tspan font-style="italic" font-size="9.5" dy="2.4">B</tspan><tspan font-style="italic" dy="-2.4">T</tspan>)</text>
<defs><linearGradient id="cba" x1="0" x2="1" y1="0" y2="0">
<stop offset="0.00" stop-color="#0000ff"/>
<stop offset="0.05" stop-color="#060ffd"/>
<stop offset="0.10" stop-color="#0c1dfc"/>
<stop offset="0.15" stop-color="#132cfa"/>
<stop offset="0.20" stop-color="#193af8"/>
<stop offset="0.25" stop-color="#1f49f6"/>
<stop offset="0.30" stop-color="#2558f5"/>
<stop offset="0.35" stop-color="#2b66f3"/>
<stop offset="0.40" stop-color="#3275f1"/>
<stop offset="0.45" stop-color="#3883f0"/>
<stop offset="0.50" stop-color="#3e92ee"/>
<stop offset="0.55" stop-color="#389df0"/>
<stop offset="0.60" stop-color="#32a8f1"/>
<stop offset="0.65" stop-color="#2bb3f3"/>
<stop offset="0.70" stop-color="#25bef5"/>
<stop offset="0.75" stop-color="#1fc8f6"/>
<stop offset="0.80" stop-color="#19d3f8"/>
<stop offset="0.85" stop-color="#13defa"/>
<stop offset="0.90" stop-color="#0ce9fc"/>
<stop offset="0.95" stop-color="#06f4fd"/>
<stop offset="1.00" stop-color="#00ffff"/>
</linearGradient></defs>
<rect x="50.6" y="332.2" width="265.7" height="19.100000000000023" fill="url(#cba)" stroke="#111" stroke-width="0.9"/>
<g stroke="#4a5a78" stroke-opacity="0.55" stroke-width="0.7">
<path d="M68.8 332.7v5M68.8 350.8v-5"/>
<path d="M107.0 332.7v5M107.0 350.8v-5"/>
<path d="M145.2 332.7v5M145.2 350.8v-5"/>
<path d="M184.0 332.7v5M184.0 350.8v-5"/>
<path d="M222.2 332.7v5M222.2 350.8v-5"/>
<path d="M260.4 332.7v5M260.4 350.8v-5"/>
<path d="M298.6 332.7v5M298.6 350.8v-5"/>
</g>
<text x="69.1" y="365.2" font-size="14" text-anchor="middle" font-family='"Liberation Serif","DejaVu Serif",serif' textLength="26.0" lengthAdjust="spacingAndGlyphs" >−1.5</text>
<text x="107.3" y="365.2" font-size="14" text-anchor="middle" font-family='"Liberation Serif","DejaVu Serif",serif' textLength="15.8" lengthAdjust="spacingAndGlyphs" >−1</text>
<text x="145.5" y="365.2" font-size="14" text-anchor="middle" font-family='"Liberation Serif","DejaVu Serif",serif' textLength="26.0" lengthAdjust="spacingAndGlyphs" >−0.5</text>
<text x="184.0" y="365.2" font-size="14" text-anchor="middle" font-family='"Liberation Serif","DejaVu Serif",serif' >0</text>
<text x="222.5" y="365.2" font-size="14" text-anchor="middle" font-family='"Liberation Serif","DejaVu Serif",serif' textLength="17.2" lengthAdjust="spacingAndGlyphs" >0.5</text>
<text x="260.4" y="365.2" font-size="14" text-anchor="middle" font-family='"Liberation Serif","DejaVu Serif",serif' >1</text>
<text x="298.9" y="365.2" font-size="14" text-anchor="middle" font-family='"Liberation Serif","DejaVu Serif",serif' textLength="17.2" lengthAdjust="spacingAndGlyphs" >1.5</text>
<defs><linearGradient id="cbb" x1="0" x2="1" y1="0" y2="0">
<stop offset="0.00" stop-color="#0000ff"/>
<stop offset="0.05" stop-color="#060ffd"/>
<stop offset="0.10" stop-color="#0c1dfc"/>
<stop offset="0.15" stop-color="#132cfa"/>
<stop offset="0.20" stop-color="#193af8"/>
<stop offset="0.25" stop-color="#1f49f6"/>
<stop offset="0.30" stop-color="#2558f5"/>
<stop offset="0.35" stop-color="#2b66f3"/>
<stop offset="0.40" stop-color="#3275f1"/>
<stop offset="0.45" stop-color="#3883f0"/>
<stop offset="0.50" stop-color="#3e92ee"/>
<stop offset="0.55" stop-color="#389df0"/>
<stop offset="0.60" stop-color="#32a8f1"/>
<stop offset="0.65" stop-color="#2bb3f3"/>
<stop offset="0.70" stop-color="#25bef5"/>
<stop offset="0.75" stop-color="#1fc8f6"/>
<stop offset="0.80" stop-color="#19d3f8"/>
<stop offset="0.85" stop-color="#13defa"/>
<stop offset="0.90" stop-color="#0ce9fc"/>
<stop offset="0.95" stop-color="#06f4fd"/>
<stop offset="1.00" stop-color="#00ffff"/>
</linearGradient></defs>
<rect x="409" y="332.2" width="266.5" height="19.100000000000023" fill="url(#cbb)" stroke="#111" stroke-width="0.9"/>
<g stroke="#4a5a78" stroke-opacity="0.55" stroke-width="0.7">
<path d="M470.5 332.7v5M470.5 350.8v-5"/>
<path d="M540.5 332.7v5M540.5 350.8v-5"/>
<path d="M610.5 332.7v5M610.5 350.8v-5"/>
</g>
<text x="470.8" y="365.2" font-size="14" text-anchor="middle" font-family='"Liberation Serif","DejaVu Serif",serif' textLength="15.8" lengthAdjust="spacingAndGlyphs" >−1</text>
<text x="540.5" y="365.2" font-size="14" text-anchor="middle" font-family='"Liberation Serif","DejaVu Serif",serif' >0</text>
<text x="610.5" y="365.2" font-size="14" text-anchor="middle" font-family='"Liberation Serif","DejaVu Serif",serif' >1</text>
<defs>
<radialGradient id="adg" cx="0.5" cy="0.5" r="0.5" fx="0.33" fy="0.2"><stop offset="0" stop-color="#6aa6ff"/><stop offset="0.16" stop-color="#0c54f0"/><stop offset="0.7" stop-color="#0446e8"/><stop offset="1" stop-color="#0232c0"/></radialGradient>
<radialGradient id="acg" cx="0.5" cy="0.5" r="0.5" fx="0.36" fy="0.3"><stop offset="0" stop-color="#d2feff"/><stop offset="0.2" stop-color="#60f2ff"/><stop offset="0.82" stop-color="#50ecff"/><stop offset="1" stop-color="#30cbee"/></radialGradient>
<radialGradient id="bdg" cx="0.5" cy="0.5" r="0.5" fx="0.33" fy="0.25"><stop offset="0" stop-color="#5a5cff"/><stop offset="0.15" stop-color="#0a0ed6"/><stop offset="0.7" stop-color="#0204c8"/><stop offset="1" stop-color="#000096"/></radialGradient>
<radialGradient id="bcg" cx="0.5" cy="0.5" r="0.5" fx="0.36" fy="0.3"><stop offset="0" stop-color="#3cffff"/><stop offset="0.8" stop-color="#0af8fb"/><stop offset="0.93" stop-color="#08e6ee"/><stop offset="1" stop-color="#04b4c8"/></radialGradient>
</defs>
<defs><circle id="ad" r="5.8" fill="url(#adg)"/><circle id="ac" r="5.8" fill="url(#acg)"/>
<clipPath id="adk"><rect x="24.299999999999997" y="9.799999999999997" width="91.0" height="45.9"/></clipPath>
<clipPath id="ack"><rect x="24.299999999999997" y="55.7" width="91.0" height="45.1"/></clipPath>
</defs>
<g clip-path="url(#ack)">
<use href="#ac" x="32.1" y="55.3"/>
<use href="#ac" x="32.3" y="58.8"/>
<use href="#ac" x="32.7" y="62.2"/>
<use href="#ac" x="33.5" y="65.6"/>
<use href="#ac" x="34.6" y="68.9"/>
<use href="#ac" x="36.1" y="72.1"/>
<use href="#ac" x="37.7" y="75.1"/>
<use href="#ac" x="39.7" y="78"/>
<use href="#ac" x="41.9" y="80.7"/>
<use href="#ac" x="44.4" y="83.2"/>
<use href="#ac" x="47.1" y="85.4"/>
<use href="#ac" x="50" y="87.4"/>
<use href="#ac" x="53" y="89"/>
<use href="#ac" x="56.2" y="90.5"/>
<use href="#ac" x="59.5" y="91.6"/>
<use href="#ac" x="62.9" y="92.4"/>
<use href="#ac" x="66.3" y="92.8"/>
<use href="#ac" x="69.8" y="93"/>
<use href="#ac" x="73.3" y="92.8"/>
<use href="#ac" x="76.7" y="92.4"/>
<use href="#ac" x="80.1" y="91.6"/>
<use href="#ac" x="83.4" y="90.5"/>
<use href="#ac" x="86.6" y="89"/>
<use href="#ac" x="89.6" y="87.4"/>
<use href="#ac" x="92.5" y="85.4"/>
<use href="#ac" x="95.2" y="83.2"/>
<use href="#ac" x="97.7" y="80.7"/>
<use href="#ac" x="99.9" y="78"/>
<use href="#ac" x="101.9" y="75.1"/>
<use href="#ac" x="103.5" y="72.1"/>
<use href="#ac" x="105" y="68.9"/>
<use href="#ac" x="106.1" y="65.6"/>
<use href="#ac" x="106.9" y="62.2"/>
<use href="#ac" x="107.3" y="58.8"/>
<use href="#ac" x="107.5" y="55.3"/>
<use href="#ac" x="66.4" y="92.8"/>
<use href="#ac" x="73.2" y="92.8"/>
<use href="#ac" x="66.7" y="92.8"/>
<use href="#ac" x="72.9" y="92.8"/>
<use href="#ac" x="63.1" y="92.4"/>
<use href="#ac" x="76.5" y="92.4"/>
<use href="#ac" x="67.2" y="92.8"/>
<use href="#ac" x="72.4" y="92.8"/>
<use href="#ac" x="59.8" y="91.6"/>
<use href="#ac" x="79.8" y="91.6"/>
<use href="#ac" x="67.8" y="92.8"/>
<use href="#ac" x="71.8" y="92.8"/>
<use href="#ac" x="63.7" y="92.4"/>
<use href="#ac" x="75.9" y="92.4"/>
<use href="#ac" x="68.6" y="92.8"/>
<use href="#ac" x="71" y="92.8"/>
<use href="#ac" x="56.6" y="90.5"/>
<use href="#ac" x="83" y="90.5"/>
<use href="#ac" x="69.4" y="92.8"/>
<use href="#ac" x="70.2" y="92.8"/>
<use href="#ac" x="53.5" y="89"/>
<use href="#ac" x="86.1" y="89"/>
<use href="#ac" x="64.6" y="92.4"/>
<use href="#ac" x="75" y="92.4"/>
<use href="#ac" x="50.5" y="87.4"/>
<use href="#ac" x="89.1" y="87.4"/>
<use href="#ac" x="60.7" y="91.6"/>
<use href="#ac" x="78.9" y="91.6"/>
<use href="#ac" x="47.7" y="85.4"/>
<use href="#ac" x="91.9" y="85.4"/>
<use href="#ac" x="65.9" y="92.4"/>
<use href="#ac" x="73.7" y="92.4"/>
<use href="#ac" x="45.1" y="83.2"/>
<use href="#ac" x="94.5" y="83.2"/>
<use href="#ac" x="57.7" y="90.5"/>
<use href="#ac" x="81.9" y="90.5"/>
<use href="#ac" x="67.3" y="92.4"/>
<use href="#ac" x="72.3" y="92.4"/>
<use href="#ac" x="42.7" y="80.7"/>
<use href="#ac" x="96.9" y="80.7"/>
<use href="#ac" x="62.1" y="91.6"/>
<use href="#ac" x="77.5" y="91.6"/>
<use href="#ac" x="69" y="92.4"/>
<use href="#ac" x="70.6" y="92.4"/>
<use href="#ac" x="40.6" y="78"/>
<use href="#ac" x="99" y="78"/>
<use href="#ac" x="38.7" y="75.1"/>
<use href="#ac" x="100.9" y="75.1"/>
<use href="#ac" x="54.9" y="89"/>
<use href="#ac" x="84.7" y="89"/>
<use href="#ac" x="37" y="72.1"/>
<use href="#ac" x="102.6" y="72.1"/>
<use href="#ac" x="35.7" y="68.9"/>
<use href="#ac" x="103.9" y="68.9"/>
<use href="#ac" x="63.9" y="91.6"/>
<use href="#ac" x="75.7" y="91.6"/>
<use href="#ac" x="34.6" y="65.6"/>
<use href="#ac" x="105" y="65.6"/>
<use href="#ac" x="33.8" y="62.2"/>
<use href="#ac" x="105.8" y="62.2"/>
<use href="#ac" x="33.4" y="58.8"/>
<use href="#ac" x="106.2" y="58.8"/>
<use href="#ac" x="33.2" y="55.3"/>
<use href="#ac" x="106.4" y="55.3"/>
<use href="#ac" x="59.6" y="90.5"/>
<use href="#ac" x="80" y="90.5"/>
<use href="#ac" x="52.2" y="87.4"/>
<use href="#ac" x="87.4" y="87.4"/>
<use href="#ac" x="66.1" y="91.6"/>
<use href="#ac" x="73.5" y="91.6"/>
<use href="#ac" x="68.6" y="91.6"/>
<use href="#ac" x="71" y="91.6"/>
<use href="#ac" x="49.7" y="85.4"/>
<use href="#ac" x="89.9" y="85.4"/>
<use href="#ac" x="57.2" y="89"/>
<use href="#ac" x="82.4" y="89"/>
<use href="#ac" x="62.1" y="90.5"/>
<use href="#ac" x="77.5" y="90.5"/>
<use href="#ac" x="47.3" y="83.2"/>
<use href="#ac" x="92.3" y="83.2"/>
<use href="#ac" x="65" y="90.5"/>
<use href="#ac" x="74.6" y="90.5"/>
<use href="#ac" x="45.1" y="80.7"/>
<use href="#ac" x="94.5" y="80.7"/>
<use href="#ac" x="54.9" y="87.4"/>
<use href="#ac" x="84.7" y="87.4"/>
<use href="#ac" x="68.2" y="90.5"/>
<use href="#ac" x="71.4" y="90.5"/>
<use href="#ac" x="60.3" y="89"/>
<use href="#ac" x="79.3" y="89"/>
<use href="#ac" x="43.2" y="78"/>
<use href="#ac" x="96.4" y="78"/>
<use href="#ac" x="41.4" y="75.1"/>
<use href="#ac" x="98.2" y="75.1"/>
<use href="#ac" x="52.8" y="85.4"/>
<use href="#ac" x="86.8" y="85.4"/>
<use href="#ac" x="39.9" y="72.1"/>
<use href="#ac" x="99.7" y="72.1"/>
<use href="#ac" x="63.8" y="89"/>
<use href="#ac" x="75.8" y="89"/>
<use href="#ac" x="58.5" y="87.4"/>
<use href="#ac" x="81.1" y="87.4"/>
<use href="#ac" x="38.7" y="68.9"/>
<use href="#ac" x="100.9" y="68.9"/>
<use href="#ac" x="67.8" y="89"/>
<use href="#ac" x="71.8" y="89"/>
<use href="#ac" x="50.8" y="83.2"/>
<use href="#ac" x="88.8" y="83.2"/>
<use href="#ac" x="37.7" y="65.6"/>
<use href="#ac" x="101.9" y="65.6"/>
<use href="#ac" x="37" y="62.2"/>
<use href="#ac" x="102.6" y="62.2"/>
<use href="#ac" x="36.6" y="58.8"/>
<use href="#ac" x="103" y="58.8"/>
<use href="#ac" x="36.4" y="55.3"/>
<use href="#ac" x="103.2" y="55.3"/>
<use href="#ac" x="48.9" y="80.7"/>
<use href="#ac" x="90.7" y="80.7"/>
<use href="#ac" x="62.8" y="87.4"/>
<use href="#ac" x="76.8" y="87.4"/>
<use href="#ac" x="56.9" y="85.4"/>
<use href="#ac" x="82.7" y="85.4"/>
<use href="#ac" x="67.4" y="87.4"/>
<use href="#ac" x="72.2" y="87.4"/>
<use href="#ac" x="47.3" y="78"/>
<use href="#ac" x="92.3" y="78"/>
<use href="#ac" x="55.4" y="83.2"/>
<use href="#ac" x="84.2" y="83.2"/>
<use href="#ac" x="61.7" y="85.4"/>
<use href="#ac" x="77.9" y="85.4"/>
<use href="#ac" x="45.8" y="75.1"/>
<use href="#ac" x="93.8" y="75.1"/>
<use href="#ac" x="44.5" y="72.1"/>
<use href="#ac" x="95.1" y="72.1"/>
<use href="#ac" x="67.1" y="85.4"/>
<use href="#ac" x="72.5" y="85.4"/>
<use href="#ac" x="54" y="80.7"/>
<use href="#ac" x="85.6" y="80.7"/>
<use href="#ac" x="43.5" y="68.9"/>
<use href="#ac" x="96.1" y="68.9"/>
<use href="#ac" x="60.8" y="83.2"/>
<use href="#ac" x="78.8" y="83.2"/>
<use href="#ac" x="42.7" y="65.6"/>
<use href="#ac" x="96.9" y="65.6"/>
<use href="#ac" x="42.1" y="62.2"/>
<use href="#ac" x="97.5" y="62.2"/>
<use href="#ac" x="52.7" y="78"/>
<use href="#ac" x="86.9" y="78"/>
<use href="#ac" x="41.7" y="58.8"/>
<use href="#ac" x="97.9" y="58.8"/>
<use href="#ac" x="41.6" y="55.3"/>
<use href="#ac" x="98" y="55.3"/>
<use href="#ac" x="66.7" y="83.2"/>
<use href="#ac" x="72.9" y="83.2"/>
<use href="#ac" x="59.9" y="80.7"/>
<use href="#ac" x="79.7" y="80.7"/>
<use href="#ac" x="51.6" y="75.1"/>
<use href="#ac" x="88" y="75.1"/>
<use href="#ac" x="66.4" y="80.7"/>
<use href="#ac" x="73.2" y="80.7"/>
<use href="#ac" x="50.6" y="72.1"/>
<use href="#ac" x="89" y="72.1"/>
<use href="#ac" x="59.1" y="78"/>
<use href="#ac" x="80.5" y="78"/>
<use href="#ac" x="49.8" y="68.9"/>
<use href="#ac" x="89.8" y="68.9"/>
<use href="#ac" x="49.2" y="65.6"/>
<use href="#ac" x="90.4" y="65.6"/>
<use href="#ac" x="66.2" y="78"/>
<use href="#ac" x="73.4" y="78"/>
<use href="#ac" x="58.4" y="75.1"/>
<use href="#ac" x="81.2" y="75.1"/>
<use href="#ac" x="48.7" y="62.2"/>
<use href="#ac" x="90.9" y="62.2"/>
<use href="#ac" x="48.5" y="58.8"/>
<use href="#ac" x="91.1" y="58.8"/>
<use href="#ac" x="48.4" y="55.3"/>
<use href="#ac" x="91.2" y="55.3"/>
<use href="#ac" x="57.8" y="72.1"/>
<use href="#ac" x="81.8" y="72.1"/>
<use href="#ac" x="65.9" y="75.1"/>
<use href="#ac" x="73.7" y="75.1"/>
<use href="#ac" x="57.3" y="68.9"/>
<use href="#ac" x="82.3" y="68.9"/>
<use href="#ac" x="65.7" y="72.1"/>
<use href="#ac" x="73.9" y="72.1"/>
<use href="#ac" x="56.9" y="65.6"/>
<use href="#ac" x="82.7" y="65.6"/>
<use href="#ac" x="56.7" y="62.2"/>
<use href="#ac" x="82.9" y="62.2"/>
<use href="#ac" x="65.6" y="68.9"/>
<use href="#ac" x="74" y="68.9"/>
<use href="#ac" x="56.5" y="58.8"/>
<use href="#ac" x="83.1" y="58.8"/>
<use href="#ac" x="56.4" y="55.3"/>
<use href="#ac" x="83.2" y="55.3"/>
<use href="#ac" x="65.4" y="65.6"/>
<use href="#ac" x="74.2" y="65.6"/>
<use href="#ac" x="65.3" y="62.2"/>
<use href="#ac" x="74.3" y="62.2"/>
<use href="#ac" x="65.3" y="58.8"/>
<use href="#ac" x="74.3" y="58.8"/>
<use href="#ac" x="65.3" y="55.3"/>
<use href="#ac" x="74.3" y="55.3"/>
</g>
<g clip-path="url(#adk)">
<use href="#ad" x="32.3" y="51.8"/>
<use href="#ad" x="32.7" y="48.4"/>
<use href="#ad" x="33.5" y="45"/>
<use href="#ad" x="34.6" y="41.7"/>
<use href="#ad" x="36.1" y="38.5"/>
<use href="#ad" x="37.7" y="35.5"/>
<use href="#ad" x="39.7" y="32.6"/>
<use href="#ad" x="41.9" y="29.9"/>
<use href="#ad" x="44.4" y="27.4"/>
<use href="#ad" x="47.1" y="25.2"/>
<use href="#ad" x="50" y="23.2"/>
<use href="#ad" x="53" y="21.6"/>
<use href="#ad" x="56.2" y="20.1"/>
<use href="#ad" x="59.5" y="19"/>
<use href="#ad" x="62.9" y="18.2"/>
<use href="#ad" x="66.3" y="17.8"/>
<use href="#ad" x="69.8" y="17.6"/>
<use href="#ad" x="73.3" y="17.8"/>
<use href="#ad" x="76.7" y="18.2"/>
<use href="#ad" x="80.1" y="19"/>
<use href="#ad" x="83.4" y="20.1"/>
<use href="#ad" x="86.6" y="21.6"/>
<use href="#ad" x="89.6" y="23.2"/>
<use href="#ad" x="92.5" y="25.2"/>
<use href="#ad" x="95.2" y="27.4"/>
<use href="#ad" x="97.7" y="29.9"/>
<use href="#ad" x="99.9" y="32.6"/>
<use href="#ad" x="101.9" y="35.5"/>
<use href="#ad" x="103.5" y="38.5"/>
<use href="#ad" x="105" y="41.7"/>
<use href="#ad" x="106.1" y="45"/>
<use href="#ad" x="106.9" y="48.4"/>
<use href="#ad" x="107.3" y="51.8"/>
<use href="#ad" x="66.4" y="17.8"/>
<use href="#ad" x="73.2" y="17.8"/>
<use href="#ad" x="66.7" y="17.8"/>
<use href="#ad" x="72.9" y="17.8"/>
<use href="#ad" x="63.1" y="18.2"/>
<use href="#ad" x="76.5" y="18.2"/>
<use href="#ad" x="67.2" y="17.8"/>
<use href="#ad" x="72.4" y="17.8"/>
<use href="#ad" x="59.8" y="19"/>
<use href="#ad" x="79.8" y="19"/>
<use href="#ad" x="67.8" y="17.8"/>
<use href="#ad" x="71.8" y="17.8"/>
<use href="#ad" x="63.7" y="18.2"/>
<use href="#ad" x="75.9" y="18.2"/>
<use href="#ad" x="68.6" y="17.8"/>
<use href="#ad" x="71" y="17.8"/>
<use href="#ad" x="56.6" y="20.1"/>
<use href="#ad" x="83" y="20.1"/>
<use href="#ad" x="69.4" y="17.8"/>
<use href="#ad" x="70.2" y="17.8"/>
<use href="#ad" x="53.5" y="21.6"/>
<use href="#ad" x="86.1" y="21.6"/>
<use href="#ad" x="64.6" y="18.2"/>
<use href="#ad" x="75" y="18.2"/>
<use href="#ad" x="50.5" y="23.2"/>
<use href="#ad" x="89.1" y="23.2"/>
<use href="#ad" x="60.7" y="19"/>
<use href="#ad" x="78.9" y="19"/>
<use href="#ad" x="47.7" y="25.2"/>
<use href="#ad" x="91.9" y="25.2"/>
<use href="#ad" x="65.9" y="18.2"/>
<use href="#ad" x="73.7" y="18.2"/>
<use href="#ad" x="45.1" y="27.4"/>
<use href="#ad" x="94.5" y="27.4"/>
<use href="#ad" x="57.7" y="20.1"/>
<use href="#ad" x="81.9" y="20.1"/>
<use href="#ad" x="67.3" y="18.2"/>
<use href="#ad" x="72.3" y="18.2"/>
<use href="#ad" x="42.7" y="29.9"/>
<use href="#ad" x="96.9" y="29.9"/>
<use href="#ad" x="62.1" y="19"/>
<use href="#ad" x="77.5" y="19"/>
<use href="#ad" x="69" y="18.2"/>
<use href="#ad" x="70.6" y="18.2"/>
<use href="#ad" x="40.6" y="32.6"/>
<use href="#ad" x="99" y="32.6"/>
<use href="#ad" x="38.7" y="35.5"/>
<use href="#ad" x="100.9" y="35.5"/>
<use href="#ad" x="54.9" y="21.6"/>
<use href="#ad" x="84.7" y="21.6"/>
<use href="#ad" x="37" y="38.5"/>
<use href="#ad" x="102.6" y="38.5"/>
<use href="#ad" x="35.7" y="41.7"/>
<use href="#ad" x="103.9" y="41.7"/>
<use href="#ad" x="63.9" y="19"/>
<use href="#ad" x="75.7" y="19"/>
<use href="#ad" x="34.6" y="45"/>
<use href="#ad" x="105" y="45"/>
<use href="#ad" x="33.8" y="48.4"/>
<use href="#ad" x="105.8" y="48.4"/>
<use href="#ad" x="33.4" y="51.8"/>
<use href="#ad" x="106.2" y="51.8"/>
<use href="#ad" x="59.6" y="20.1"/>
<use href="#ad" x="80" y="20.1"/>
<use href="#ad" x="52.2" y="23.2"/>
<use href="#ad" x="87.4" y="23.2"/>
<use href="#ad" x="66.1" y="19"/>
<use href="#ad" x="73.5" y="19"/>
<use href="#ad" x="68.6" y="19"/>
<use href="#ad" x="71" y="19"/>
<use href="#ad" x="49.7" y="25.2"/>
<use href="#ad" x="89.9" y="25.2"/>
<use href="#ad" x="57.2" y="21.6"/>
<use href="#ad" x="82.4" y="21.6"/>
<use href="#ad" x="62.1" y="20.1"/>
<use href="#ad" x="77.5" y="20.1"/>
<use href="#ad" x="47.3" y="27.4"/>
<use href="#ad" x="92.3" y="27.4"/>
<use href="#ad" x="65" y="20.1"/>
<use href="#ad" x="74.6" y="20.1"/>
<use href="#ad" x="45.1" y="29.9"/>
<use href="#ad" x="94.5" y="29.9"/>
<use href="#ad" x="54.9" y="23.2"/>
<use href="#ad" x="84.7" y="23.2"/>
<use href="#ad" x="68.2" y="20.1"/>
<use href="#ad" x="71.4" y="20.1"/>
<use href="#ad" x="60.3" y="21.6"/>
<use href="#ad" x="79.3" y="21.6"/>
<use href="#ad" x="43.2" y="32.6"/>
<use href="#ad" x="96.4" y="32.6"/>
<use href="#ad" x="41.4" y="35.5"/>
<use href="#ad" x="98.2" y="35.5"/>
<use href="#ad" x="52.8" y="25.2"/>
<use href="#ad" x="86.8" y="25.2"/>
<use href="#ad" x="39.9" y="38.5"/>
<use href="#ad" x="99.7" y="38.5"/>
<use href="#ad" x="63.8" y="21.6"/>
<use href="#ad" x="75.8" y="21.6"/>
<use href="#ad" x="58.5" y="23.2"/>
<use href="#ad" x="81.1" y="23.2"/>
<use href="#ad" x="38.7" y="41.7"/>
<use href="#ad" x="100.9" y="41.7"/>
<use href="#ad" x="67.8" y="21.6"/>
<use href="#ad" x="71.8" y="21.6"/>
<use href="#ad" x="50.8" y="27.4"/>
<use href="#ad" x="88.8" y="27.4"/>
<use href="#ad" x="37.7" y="45"/>
<use href="#ad" x="101.9" y="45"/>
<use href="#ad" x="37" y="48.4"/>
<use href="#ad" x="102.6" y="48.4"/>
<use href="#ad" x="36.6" y="51.8"/>
<use href="#ad" x="103" y="51.8"/>
<use href="#ad" x="48.9" y="29.9"/>
<use href="#ad" x="90.7" y="29.9"/>
<use href="#ad" x="62.8" y="23.2"/>
<use href="#ad" x="76.8" y="23.2"/>
<use href="#ad" x="56.9" y="25.2"/>
<use href="#ad" x="82.7" y="25.2"/>
<use href="#ad" x="67.4" y="23.2"/>
<use href="#ad" x="72.2" y="23.2"/>
<use href="#ad" x="47.3" y="32.6"/>
<use href="#ad" x="92.3" y="32.6"/>
<use href="#ad" x="55.4" y="27.4"/>
<use href="#ad" x="84.2" y="27.4"/>
<use href="#ad" x="61.7" y="25.2"/>
<use href="#ad" x="77.9" y="25.2"/>
<use href="#ad" x="45.8" y="35.5"/>
<use href="#ad" x="93.8" y="35.5"/>
<use href="#ad" x="44.5" y="38.5"/>
<use href="#ad" x="95.1" y="38.5"/>
<use href="#ad" x="67.1" y="25.2"/>
<use href="#ad" x="72.5" y="25.2"/>
<use href="#ad" x="54" y="29.9"/>
<use href="#ad" x="85.6" y="29.9"/>
<use href="#ad" x="43.5" y="41.7"/>
<use href="#ad" x="96.1" y="41.7"/>
<use href="#ad" x="60.8" y="27.4"/>
<use href="#ad" x="78.8" y="27.4"/>
<use href="#ad" x="42.7" y="45"/>
<use href="#ad" x="96.9" y="45"/>
<use href="#ad" x="42.1" y="48.4"/>
<use href="#ad" x="97.5" y="48.4"/>
<use href="#ad" x="52.7" y="32.6"/>
<use href="#ad" x="86.9" y="32.6"/>
<use href="#ad" x="41.7" y="51.8"/>
<use href="#ad" x="97.9" y="51.8"/>
<use href="#ad" x="66.7" y="27.4"/>
<use href="#ad" x="72.9" y="27.4"/>
<use href="#ad" x="59.9" y="29.9"/>
<use href="#ad" x="79.7" y="29.9"/>
<use href="#ad" x="51.6" y="35.5"/>
<use href="#ad" x="88" y="35.5"/>
<use href="#ad" x="66.4" y="29.9"/>
<use href="#ad" x="73.2" y="29.9"/>
<use href="#ad" x="50.6" y="38.5"/>
<use href="#ad" x="89" y="38.5"/>
<use href="#ad" x="59.1" y="32.6"/>
<use href="#ad" x="80.5" y="32.6"/>
<use href="#ad" x="49.8" y="41.7"/>
<use href="#ad" x="89.8" y="41.7"/>
<use href="#ad" x="49.2" y="45"/>
<use href="#ad" x="90.4" y="45"/>
<use href="#ad" x="66.2" y="32.6"/>
<use href="#ad" x="73.4" y="32.6"/>
<use href="#ad" x="58.4" y="35.5"/>
<use href="#ad" x="81.2" y="35.5"/>
<use href="#ad" x="48.7" y="48.4"/>
<use href="#ad" x="90.9" y="48.4"/>
<use href="#ad" x="48.5" y="51.8"/>
<use href="#ad" x="91.1" y="51.8"/>
<use href="#ad" x="57.8" y="38.5"/>
<use href="#ad" x="81.8" y="38.5"/>
<use href="#ad" x="65.9" y="35.5"/>
<use href="#ad" x="73.7" y="35.5"/>
<use href="#ad" x="57.3" y="41.7"/>
<use href="#ad" x="82.3" y="41.7"/>
<use href="#ad" x="65.7" y="38.5"/>
<use href="#ad" x="73.9" y="38.5"/>
<use href="#ad" x="56.9" y="45"/>
<use href="#ad" x="82.7" y="45"/>
<use href="#ad" x="56.7" y="48.4"/>
<use href="#ad" x="82.9" y="48.4"/>
<use href="#ad" x="65.6" y="41.7"/>
<use href="#ad" x="74" y="41.7"/>
<use href="#ad" x="56.5" y="51.8"/>
<use href="#ad" x="83.1" y="51.8"/>
<use href="#ad" x="65.4" y="45"/>
<use href="#ad" x="74.2" y="45"/>
<use href="#ad" x="65.3" y="48.4"/>
<use href="#ad" x="74.3" y="48.4"/>
<use href="#ad" x="65.3" y="51.8"/>
<use href="#ad" x="74.3" y="51.8"/>
</g>
<defs><circle id="bd" r="5.4" fill="url(#bdg)"/><circle id="bc" r="5.4" fill="url(#bcg)"/>
</defs>
<g>
<use href="#bc" x="399.4" y="98.1"/>
<use href="#bc" x="399.4" y="18.3"/>
<use href="#bc" x="408.6" y="18.3"/>
<use href="#bc" x="408.6" y="98.1"/>
<use href="#bc" x="404" y="98.4"/>
<use href="#bc" x="404" y="18"/>
<use href="#bc" x="399.4" y="98.1"/>
<use href="#bc" x="399.4" y="18.3"/>
<use href="#bc" x="408.6" y="18.3"/>
<use href="#bc" x="408.6" y="98.1"/>
<use href="#bc" x="394.8" y="97.3"/>
<use href="#bc" x="394.8" y="19.1"/>
<use href="#bc" x="413.2" y="97.3"/>
<use href="#bc" x="413.2" y="19.1"/>
<use href="#bc" x="390.3" y="96"/>
<use href="#bc" x="390.3" y="20.4"/>
<use href="#bc" x="417.7" y="96"/>
<use href="#bc" x="417.7" y="20.4"/>
<use href="#bc" x="399.6" y="98.1"/>
<use href="#bc" x="399.6" y="18.3"/>
<use href="#bc" x="408.4" y="18.3"/>
<use href="#bc" x="408.4" y="98.1"/>
<use href="#bc" x="386.1" y="94.1"/>
<use href="#bc" x="386.1" y="22.3"/>
<use href="#bc" x="421.9" y="94.1"/>
<use href="#bc" x="421.9" y="22.3"/>
<use href="#bc" x="382" y="24.6"/>
<use href="#bc" x="382" y="91.8"/>
<use href="#bc" x="426" y="91.8"/>
<use href="#bc" x="426" y="24.6"/>
<use href="#bc" x="400" y="98.1"/>
<use href="#bc" x="400" y="18.3"/>
<use href="#bc" x="408" y="18.3"/>
<use href="#bc" x="408" y="98.1"/>
<use href="#bc" x="378.3" y="89"/>
<use href="#bc" x="378.3" y="27.4"/>
<use href="#bc" x="429.7" y="27.4"/>
<use href="#bc" x="429.7" y="89"/>
<use href="#bc" x="395.2" y="97.3"/>
<use href="#bc" x="395.2" y="19.1"/>
<use href="#bc" x="412.8" y="97.3"/>
<use href="#bc" x="412.8" y="19.1"/>
<use href="#bc" x="374.9" y="30.6"/>
<use href="#bc" x="374.9" y="85.8"/>
<use href="#bc" x="433.1" y="85.8"/>
<use href="#bc" x="433.1" y="30.6"/>
<use href="#bc" x="400.5" y="98.1"/>
<use href="#bc" x="400.5" y="18.3"/>
<use href="#bc" x="407.5" y="18.3"/>
<use href="#bc" x="407.5" y="98.1"/>
<use href="#bc" x="371.9" y="82.2"/>
<use href="#bc" x="371.9" y="34.2"/>
<use href="#bc" x="436.1" y="82.2"/>
<use href="#bc" x="436.1" y="34.2"/>
<use href="#bc" x="369.4" y="38.1"/>
<use href="#bc" x="369.4" y="78.3"/>
<use href="#bc" x="438.6" y="78.3"/>
<use href="#bc" x="438.6" y="38.1"/>
<use href="#bc" x="401.3" y="98.1"/>
<use href="#bc" x="401.3" y="18.3"/>
<use href="#bc" x="406.7" y="18.3"/>
<use href="#bc" x="406.7" y="98.1"/>
<use href="#bc" x="390.9" y="96"/>
<use href="#bc" x="390.9" y="20.4"/>
<use href="#bc" x="417.1" y="96"/>
<use href="#bc" x="417.1" y="20.4"/>
<use href="#bc" x="402.1" y="98.1"/>
<use href="#bc" x="402.1" y="18.3"/>
<use href="#bc" x="405.9" y="18.3"/>
<use href="#bc" x="405.9" y="98.1"/>
<use href="#bc" x="403" y="98.1"/>
<use href="#bc" x="403" y="18.3"/>
<use href="#bc" x="405" y="18.3"/>
<use href="#bc" x="405" y="98.1"/>
<use href="#bc" x="396" y="97.3"/>
<use href="#bc" x="396" y="19.1"/>
<use href="#bc" x="412" y="97.3"/>
<use href="#bc" x="412" y="19.1"/>
<use href="#bc" x="404" y="98.1"/>
<use href="#bc" x="404" y="18.3"/>
<use href="#bc" x="386.8" y="94.1"/>
<use href="#bc" x="386.8" y="22.3"/>
<use href="#bc" x="421.2" y="94.1"/>
<use href="#bc" x="421.2" y="22.3"/>
<use href="#bc" x="397.1" y="97.3"/>
<use href="#bc" x="397.1" y="19.1"/>
<use href="#bc" x="410.9" y="97.3"/>
<use href="#bc" x="410.9" y="19.1"/>
<use href="#bc" x="383" y="24.6"/>
<use href="#bc" x="383" y="91.8"/>
<use href="#bc" x="425" y="91.8"/>
<use href="#bc" x="425" y="24.6"/>
<use href="#bc" x="392.1" y="96"/>
<use href="#bc" x="392.1" y="20.4"/>
<use href="#bc" x="415.9" y="96"/>
<use href="#bc" x="415.9" y="20.4"/>
<use href="#bc" x="398.6" y="97.3"/>
<use href="#bc" x="398.6" y="19.1"/>
<use href="#bc" x="409.4" y="97.3"/>
<use href="#bc" x="409.4" y="19.1"/>
<use href="#bc" x="379.4" y="89"/>
<use href="#bc" x="379.4" y="27.4"/>
<use href="#bc" x="428.6" y="27.4"/>
<use href="#bc" x="428.6" y="89"/>
<use href="#bc" x="400.2" y="97.3"/>
<use href="#bc" x="400.2" y="19.1"/>
<use href="#bc" x="407.8" y="97.3"/>
<use href="#bc" x="407.8" y="19.1"/>
<use href="#bc" x="388.4" y="94.1"/>
<use href="#bc" x="388.4" y="22.3"/>
<use href="#bc" x="419.6" y="94.1"/>
<use href="#bc" x="419.6" y="22.3"/>
<use href="#bc" x="376.2" y="30.6"/>
<use href="#bc" x="376.2" y="85.8"/>
<use href="#bc" x="431.8" y="85.8"/>
<use href="#bc" x="431.8" y="30.6"/>
<use href="#bc" x="402.1" y="97.3"/>
<use href="#bc" x="402.1" y="19.1"/>
<use href="#bc" x="405.9" y="97.3"/>
<use href="#bc" x="405.9" y="19.1"/>
<use href="#bc" x="393.8" y="96"/>
<use href="#bc" x="393.8" y="20.4"/>
<use href="#bc" x="414.2" y="96"/>
<use href="#bc" x="414.2" y="20.4"/>
<use href="#bc" x="404" y="97.3"/>
<use href="#bc" x="404" y="19.1"/>
<use href="#bc" x="373.3" y="82.2"/>
<use href="#bc" x="373.3" y="34.2"/>
<use href="#bc" x="434.7" y="82.2"/>
<use href="#bc" x="434.7" y="34.2"/>
<use href="#bc" x="370.9" y="38.1"/>
<use href="#bc" x="370.9" y="78.3"/>
<use href="#bc" x="437.1" y="78.3"/>
<use href="#bc" x="437.1" y="38.1"/>
<use href="#bc" x="384.9" y="24.6"/>
<use href="#bc" x="384.9" y="91.8"/>
<use href="#bc" x="423.1" y="91.8"/>
<use href="#bc" x="423.1" y="24.6"/>
<use href="#bc" x="395.9" y="96"/>
<use href="#bc" x="395.9" y="20.4"/>
<use href="#bc" x="412.1" y="96"/>
<use href="#bc" x="412.1" y="20.4"/>
<use href="#bc" x="390.6" y="94.1"/>
<use href="#bc" x="390.6" y="22.3"/>
<use href="#bc" x="417.4" y="94.1"/>
<use href="#bc" x="417.4" y="22.3"/>
<use href="#bc" x="398.4" y="96"/>
<use href="#bc" x="398.4" y="20.4"/>
<use href="#bc" x="409.6" y="96"/>
<use href="#bc" x="409.6" y="20.4"/>
<use href="#bc" x="381.6" y="89"/>
<use href="#bc" x="381.6" y="27.4"/>
<use href="#bc" x="426.4" y="27.4"/>
<use href="#bc" x="426.4" y="89"/>
<use href="#bc" x="401.1" y="96"/>
<use href="#bc" x="401.1" y="20.4"/>
<use href="#bc" x="406.9" y="96"/>
<use href="#bc" x="406.9" y="20.4"/>
<use href="#bc" x="404" y="96"/>
<use href="#bc" x="404" y="20.4"/>
<use href="#bc" x="393.4" y="94.1"/>
<use href="#bc" x="393.4" y="22.3"/>
<use href="#bc" x="414.6" y="94.1"/>
<use href="#bc" x="414.6" y="22.3"/>
<use href="#bc" x="378.7" y="30.6"/>
<use href="#bc" x="378.7" y="85.8"/>
<use href="#bc" x="429.3" y="85.8"/>
<use href="#bc" x="429.3" y="30.6"/>
<use href="#bc" x="387.6" y="24.6"/>
<use href="#bc" x="387.6" y="91.8"/>
<use href="#bc" x="420.4" y="91.8"/>
<use href="#bc" x="420.4" y="24.6"/>
<use href="#bc" x="376.1" y="82.2"/>
<use href="#bc" x="376.1" y="34.2"/>
<use href="#bc" x="431.9" y="82.2"/>
<use href="#bc" x="431.9" y="34.2"/>
<use href="#bc" x="396.7" y="94.1"/>
<use href="#bc" x="396.7" y="22.3"/>
<use href="#bc" x="411.3" y="94.1"/>
<use href="#bc" x="411.3" y="22.3"/>
<use href="#bc" x="384.8" y="89"/>
<use href="#bc" x="384.8" y="27.4"/>
<use href="#bc" x="423.2" y="27.4"/>
<use href="#bc" x="423.2" y="89"/>
<use href="#bc" x="373.9" y="38.1"/>
<use href="#bc" x="373.9" y="78.3"/>
<use href="#bc" x="434.1" y="78.3"/>
<use href="#bc" x="434.1" y="38.1"/>
<use href="#bc" x="400.2" y="94.1"/>
<use href="#bc" x="400.2" y="22.3"/>
<use href="#bc" x="407.8" y="94.1"/>
<use href="#bc" x="407.8" y="22.3"/>
<use href="#bc" x="391" y="24.6"/>
<use href="#bc" x="391" y="91.8"/>
<use href="#bc" x="417" y="91.8"/>
<use href="#bc" x="417" y="24.6"/>
<use href="#bc" x="404" y="94.1"/>
<use href="#bc" x="404" y="22.3"/>
<use href="#bc" x="382.3" y="30.6"/>
<use href="#bc" x="382.3" y="85.8"/>
<use href="#bc" x="425.7" y="85.8"/>
<use href="#bc" x="425.7" y="30.6"/>
<use href="#bc" x="395" y="24.6"/>
<use href="#bc" x="395" y="91.8"/>
<use href="#bc" x="413" y="91.8"/>
<use href="#bc" x="413" y="24.6"/>
<use href="#bc" x="388.8" y="89"/>
<use href="#bc" x="388.8" y="27.4"/>
<use href="#bc" x="419.2" y="27.4"/>
<use href="#bc" x="419.2" y="89"/>
<use href="#bc" x="380" y="82.2"/>
<use href="#bc" x="380" y="34.2"/>
<use href="#bc" x="428" y="82.2"/>
<use href="#bc" x="428" y="34.2"/>
<use href="#bc" x="399.4" y="24.6"/>
<use href="#bc" x="399.4" y="91.8"/>
<use href="#bc" x="408.6" y="91.8"/>
<use href="#bc" x="408.6" y="24.6"/>
<use href="#bc" x="404" y="91.8"/>
<use href="#bc" x="404" y="24.6"/>
<use href="#bc" x="378.1" y="78.3"/>
<use href="#bc" x="378.1" y="38.1"/>
<use href="#bc" x="429.9" y="78.3"/>
<use href="#bc" x="429.9" y="38.1"/>
<use href="#bc" x="393.5" y="89"/>
<use href="#bc" x="393.5" y="27.4"/>
<use href="#bc" x="414.5" y="27.4"/>
<use href="#bc" x="414.5" y="89"/>
<use href="#bc" x="386.8" y="30.6"/>
<use href="#bc" x="386.8" y="85.8"/>
<use href="#bc" x="421.2" y="85.8"/>
<use href="#bc" x="421.2" y="30.6"/>
<use href="#bc" x="398.6" y="89"/>
<use href="#bc" x="398.6" y="27.4"/>
<use href="#bc" x="409.4" y="27.4"/>
<use href="#bc" x="409.4" y="89"/>
<use href="#bc" x="404" y="89"/>
<use href="#bc" x="404" y="27.4"/>
<use href="#bc" x="385" y="82.2"/>
<use href="#bc" x="385" y="34.2"/>
<use href="#bc" x="423" y="82.2"/>
<use href="#bc" x="423" y="34.2"/>
<use href="#bc" x="392.1" y="30.6"/>
<use href="#bc" x="392.1" y="85.8"/>
<use href="#bc" x="415.9" y="85.8"/>
<use href="#bc" x="415.9" y="30.6"/>
<use href="#bc" x="383.5" y="78.3"/>
<use href="#bc" x="383.5" y="38.1"/>
<use href="#bc" x="424.5" y="78.3"/>
<use href="#bc" x="424.5" y="38.1"/>
<use href="#bc" x="397.9" y="30.6"/>
<use href="#bc" x="397.9" y="85.8"/>
<use href="#bc" x="410.1" y="85.8"/>
<use href="#bc" x="410.1" y="30.6"/>
<use href="#bc" x="404" y="85.8"/>
<use href="#bc" x="404" y="30.6"/>
<use href="#bc" x="390.9" y="82.2"/>
<use href="#bc" x="390.9" y="34.2"/>
<use href="#bc" x="417.1" y="82.2"/>
<use href="#bc" x="417.1" y="34.2"/>
<use href="#bc" x="397.3" y="82.2"/>
<use href="#bc" x="397.3" y="34.2"/>
<use href="#bc" x="410.7" y="82.2"/>
<use href="#bc" x="410.7" y="34.2"/>
<use href="#bc" x="389.8" y="38.1"/>
<use href="#bc" x="389.8" y="78.3"/>
<use href="#bc" x="418.2" y="78.3"/>
<use href="#bc" x="418.2" y="38.1"/>
<use href="#bc" x="404" y="82.2"/>
<use href="#bc" x="404" y="34.2"/>
<use href="#bc" x="396.8" y="78.3"/>
<use href="#bc" x="396.8" y="38.1"/>
<use href="#bc" x="411.2" y="78.3"/>
<use href="#bc" x="411.2" y="38.1"/>
<use href="#bc" x="404" y="78.3"/>
<use href="#bc" x="404" y="38.1"/>
</g>
<g>
<use href="#bd" x="366.8" y="74.3"/>
<use href="#bd" x="366.8" y="42.1"/>
<use href="#bd" x="441.2" y="74.3"/>
<use href="#bd" x="441.2" y="42.1"/>
<use href="#bd" x="365.2" y="69.9"/>
<use href="#bd" x="365.2" y="46.5"/>
<use href="#bd" x="442.8" y="69.9"/>
<use href="#bd" x="442.8" y="46.5"/>
<use href="#bd" x="364.1" y="51.1"/>
<use href="#bd" x="364.1" y="65.3"/>
<use href="#bd" x="443.9" y="65.3"/>
<use href="#bd" x="443.9" y="51.1"/>
<use href="#bd" x="363.6" y="60.6"/>
<use href="#bd" x="363.6" y="55.8"/>
<use href="#bd" x="444.4" y="60.6"/>
<use href="#bd" x="444.4" y="55.8"/>
<use href="#bd" x="368.5" y="74.3"/>
<use href="#bd" x="368.5" y="42.1"/>
<use href="#bd" x="439.5" y="74.3"/>
<use href="#bd" x="439.5" y="42.1"/>
<use href="#bd" x="366.9" y="69.9"/>
<use href="#bd" x="366.9" y="46.5"/>
<use href="#bd" x="441.1" y="69.9"/>
<use href="#bd" x="441.1" y="46.5"/>
<use href="#bd" x="365.9" y="51.1"/>
<use href="#bd" x="365.9" y="65.3"/>
<use href="#bd" x="442.1" y="65.3"/>
<use href="#bd" x="442.1" y="51.1"/>
<use href="#bd" x="365.4" y="60.6"/>
<use href="#bd" x="365.4" y="55.8"/>
<use href="#bd" x="442.6" y="60.6"/>
<use href="#bd" x="442.6" y="55.8"/>
<use href="#bd" x="371.6" y="74.3"/>
<use href="#bd" x="371.6" y="42.1"/>
<use href="#bd" x="436.4" y="74.3"/>
<use href="#bd" x="436.4" y="42.1"/>
<use href="#bd" x="370.2" y="69.9"/>
<use href="#bd" x="370.2" y="46.5"/>
<use href="#bd" x="437.8" y="69.9"/>
<use href="#bd" x="437.8" y="46.5"/>
<use href="#bd" x="369.3" y="51.1"/>
<use href="#bd" x="369.3" y="65.3"/>
<use href="#bd" x="438.7" y="65.3"/>
<use href="#bd" x="438.7" y="51.1"/>
<use href="#bd" x="368.8" y="60.6"/>
<use href="#bd" x="368.8" y="55.8"/>
<use href="#bd" x="439.2" y="60.6"/>
<use href="#bd" x="439.2" y="55.8"/>
<use href="#bd" x="376.2" y="74.3"/>
<use href="#bd" x="376.2" y="42.1"/>
<use href="#bd" x="431.8" y="74.3"/>
<use href="#bd" x="431.8" y="42.1"/>
<use href="#bd" x="375" y="69.9"/>
<use href="#bd" x="375" y="46.5"/>
<use href="#bd" x="433" y="69.9"/>
<use href="#bd" x="433" y="46.5"/>
<use href="#bd" x="374.2" y="51.1"/>
<use href="#bd" x="374.2" y="65.3"/>
<use href="#bd" x="433.8" y="65.3"/>
<use href="#bd" x="433.8" y="51.1"/>
<use href="#bd" x="373.8" y="60.6"/>
<use href="#bd" x="373.8" y="55.8"/>
<use href="#bd" x="434.2" y="60.6"/>
<use href="#bd" x="434.2" y="55.8"/>
<use href="#bd" x="382" y="74.3"/>
<use href="#bd" x="382" y="42.1"/>
<use href="#bd" x="426" y="74.3"/>
<use href="#bd" x="426" y="42.1"/>
<use href="#bd" x="381.1" y="69.9"/>
<use href="#bd" x="381.1" y="46.5"/>
<use href="#bd" x="426.9" y="69.9"/>
<use href="#bd" x="426.9" y="46.5"/>
<use href="#bd" x="380.4" y="51.1"/>
<use href="#bd" x="380.4" y="65.3"/>
<use href="#bd" x="427.6" y="65.3"/>
<use href="#bd" x="427.6" y="51.1"/>
<use href="#bd" x="380.1" y="60.6"/>
<use href="#bd" x="380.1" y="55.8"/>
<use href="#bd" x="427.9" y="60.6"/>
<use href="#bd" x="427.9" y="55.8"/>
<use href="#bd" x="388.8" y="74.3"/>
<use href="#bd" x="388.8" y="42.1"/>
<use href="#bd" x="419.2" y="74.3"/>
<use href="#bd" x="419.2" y="42.1"/>
<use href="#bd" x="388.1" y="69.9"/>
<use href="#bd" x="388.1" y="46.5"/>
<use href="#bd" x="419.9" y="69.9"/>
<use href="#bd" x="419.9" y="46.5"/>
<use href="#bd" x="396.2" y="74.3"/>
<use href="#bd" x="396.2" y="42.1"/>
<use href="#bd" x="411.8" y="74.3"/>
<use href="#bd" x="411.8" y="42.1"/>
<use href="#bd" x="387.7" y="51.1"/>
<use href="#bd" x="387.7" y="65.3"/>
<use href="#bd" x="420.3" y="65.3"/>
<use href="#bd" x="420.3" y="51.1"/>
<use href="#bd" x="387.5" y="60.6"/>
<use href="#bd" x="387.5" y="55.8"/>
<use href="#bd" x="420.5" y="60.6"/>
<use href="#bd" x="420.5" y="55.8"/>
<use href="#bd" x="404" y="74.3"/>
<use href="#bd" x="404" y="42.1"/>
<use href="#bd" x="395.9" y="69.9"/>
<use href="#bd" x="395.9" y="46.5"/>
<use href="#bd" x="412.1" y="69.9"/>
<use href="#bd" x="412.1" y="46.5"/>
<use href="#bd" x="404" y="69.9"/>
<use href="#bd" x="404" y="46.5"/>
<use href="#bd" x="395.7" y="51.1"/>
<use href="#bd" x="395.7" y="65.3"/>
<use href="#bd" x="412.3" y="65.3"/>
<use href="#bd" x="412.3" y="51.1"/>
<use href="#bd" x="395.6" y="60.6"/>
<use href="#bd" x="395.6" y="55.8"/>
<use href="#bd" x="412.4" y="60.6"/>
<use href="#bd" x="412.4" y="55.8"/>
<use href="#bd" x="404" y="65.3"/>
<use href="#bd" x="404" y="51.1"/>
<use href="#bd" x="404" y="60.6"/>
<use href="#bd" x="404" y="55.8"/>
</g>
<g fill="#4a90e2" stroke="#101010" stroke-width="0.5">
<circle cx="88.3" cy="628.6" r="2.6"/>
<circle cx="90.3" cy="626.7" r="2.6"/>
<circle cx="92.3" cy="625.5" r="2.6"/>
<circle cx="94.3" cy="623.5" r="2.6"/>
<circle cx="96.3" cy="622.1" r="2.6"/>
<circle cx="98.3" cy="620.5" r="2.6"/>
<circle cx="100.4" cy="618.4" r="2.6"/>
<circle cx="102.4" cy="617.2" r="2.6"/>
<circle cx="104.4" cy="615.6" r="2.6"/>
<circle cx="106.4" cy="613.8" r="2.6"/>
<circle cx="108.4" cy="612.0" r="2.6"/>
<circle cx="110.4" cy="610.7" r="2.6"/>
<circle cx="112.4" cy="608.9" r="2.6"/>
<circle cx="114.4" cy="607.6" r="2.6"/>
<circle cx="116.4" cy="605.9" r="2.6"/>
<circle cx="118.4" cy="604.3" r="2.6"/>
<circle cx="120.4" cy="602.9" r="2.6"/>
<circle cx="122.4" cy="601.3" r="2.6"/>
<circle cx="124.4" cy="599.7" r="2.6"/>
<circle cx="126.4" cy="597.7" r="2.6"/>
<circle cx="128.4" cy="596.1" r="2.6"/>
<circle cx="130.4" cy="594.5" r="2.6"/>
<circle cx="132.4" cy="592.8" r="2.6"/>
<circle cx="134.4" cy="591.5" r="2.6"/>
<circle cx="136.4" cy="589.5" r="2.6"/>
<circle cx="138.5" cy="587.8" r="2.6"/>
<circle cx="140.5" cy="586.1" r="2.6"/>
<circle cx="142.5" cy="584.8" r="2.6"/>
<circle cx="144.5" cy="583.1" r="2.6"/>
<circle cx="146.5" cy="581.9" r="2.6"/>
<circle cx="148.5" cy="579.9" r="2.6"/>
<circle cx="150.5" cy="578.6" r="2.6"/>
<circle cx="152.5" cy="576.8" r="2.6"/>
<circle cx="154.5" cy="574.6" r="2.6"/>
<circle cx="156.5" cy="573.8" r="2.6"/>
<circle cx="158.5" cy="571.4" r="2.6"/>
<circle cx="160.5" cy="569.9" r="2.6"/>
<circle cx="162.5" cy="568.5" r="2.6"/>
<circle cx="164.5" cy="566.6" r="2.6"/>
<circle cx="166.5" cy="565.0" r="2.6"/>
<circle cx="168.5" cy="563.3" r="2.6"/>
<circle cx="170.5" cy="561.9" r="2.6"/>
<circle cx="172.5" cy="560.4" r="2.6"/>
<circle cx="174.5" cy="558.8" r="2.6"/>
<circle cx="176.5" cy="557.2" r="2.6"/>
<circle cx="178.6" cy="555.4" r="2.6"/>
<circle cx="180.6" cy="553.9" r="2.6"/>
<circle cx="182.6" cy="551.9" r="2.6"/>
<circle cx="184.6" cy="550.9" r="2.6"/>
<circle cx="186.6" cy="549.1" r="2.6"/>
<circle cx="188.6" cy="547.4" r="2.6"/>
<circle cx="190.6" cy="546.1" r="2.6"/>
<circle cx="192.6" cy="543.5" r="2.6"/>
<circle cx="194.6" cy="542.9" r="2.6"/>
<circle cx="196.6" cy="540.8" r="2.6"/>
<circle cx="198.6" cy="539.2" r="2.6"/>
<circle cx="200.6" cy="537.1" r="2.6"/>
<circle cx="202.6" cy="536.3" r="2.6"/>
<circle cx="204.6" cy="534.0" r="2.6"/>
<circle cx="206.6" cy="532.8" r="2.6"/>
<circle cx="208.6" cy="531.0" r="2.6"/>
<circle cx="210.6" cy="529.5" r="2.6"/>
<circle cx="212.6" cy="527.6" r="2.6"/>
<circle cx="214.6" cy="526.3" r="2.6"/>
<circle cx="216.7" cy="524.5" r="2.6"/>
<circle cx="218.7" cy="522.7" r="2.6"/>
<circle cx="220.7" cy="520.8" r="2.6"/>
<circle cx="222.7" cy="520.1" r="2.6"/>
<circle cx="224.7" cy="517.6" r="2.6"/>
<circle cx="226.7" cy="516.1" r="2.6"/>
<circle cx="228.7" cy="514.8" r="2.6"/>
<circle cx="230.7" cy="513.0" r="2.6"/>
<circle cx="232.7" cy="511.5" r="2.6"/>
<circle cx="234.7" cy="509.4" r="2.6"/>
<circle cx="236.7" cy="508.1" r="2.6"/>
<circle cx="238.7" cy="506.6" r="2.6"/>
<circle cx="240.7" cy="505.0" r="2.6"/>
<circle cx="242.7" cy="503.3" r="2.6"/>
<circle cx="244.7" cy="501.7" r="2.6"/>
<circle cx="246.7" cy="500.3" r="2.6"/>
<circle cx="248.7" cy="497.9" r="2.6"/>
<circle cx="250.7" cy="497.2" r="2.6"/>
<circle cx="252.7" cy="496.0" r="2.6"/>
<circle cx="254.7" cy="493.6" r="2.6"/>
<circle cx="256.8" cy="491.9" r="2.6"/>
<circle cx="258.8" cy="490.2" r="2.6"/>
<circle cx="260.8" cy="488.7" r="2.6"/>
<circle cx="262.8" cy="487.1" r="2.6"/>
<circle cx="264.8" cy="485.3" r="2.6"/>
<circle cx="266.8" cy="483.6" r="2.6"/>
<circle cx="268.8" cy="482.3" r="2.6"/>
<circle cx="270.8" cy="480.6" r="2.6"/>
<circle cx="272.8" cy="478.4" r="2.6"/>
<circle cx="274.8" cy="477.1" r="2.6"/>
<circle cx="148.6" cy="579.7" r="2.6"/>
<circle cx="151.1" cy="576.6" r="2.6"/>
<circle cx="153.7" cy="573.6" r="2.6"/>
<circle cx="156.2" cy="571.0" r="2.6"/>
<circle cx="158.8" cy="568.7" r="2.6"/>
<circle cx="161.3" cy="566.8" r="2.6"/>
<circle cx="163.9" cy="565.4" r="2.6"/>
<circle cx="166.4" cy="564.2" r="2.6"/>
<circle cx="169.0" cy="563.1" r="2.6"/>
<circle cx="190.3" cy="545.8" r="2.6"/>
<circle cx="192.9" cy="544.7" r="2.6"/>
<circle cx="195.4" cy="543.4" r="2.6"/>
<circle cx="197.9" cy="542.0" r="2.6"/>
<circle cx="200.5" cy="540.2" r="2.6"/>
<circle cx="203.0" cy="538.2" r="2.6"/>
<circle cx="205.5" cy="535.8" r="2.6"/>
<circle cx="208.1" cy="533.2" r="2.6"/>
<circle cx="210.6" cy="530.3" r="2.6"/>
<circle cx="213.1" cy="527.3" r="2.6"/>
<circle cx="166.6" cy="565.0" r="2.6"/>
<circle cx="169.0" cy="562.6" r="2.6"/>
<circle cx="171.4" cy="560.2" r="2.6"/>
<circle cx="173.7" cy="557.9" r="2.6"/>
<circle cx="176.1" cy="555.7" r="2.6"/>
<circle cx="178.5" cy="553.6" r="2.6"/>
<circle cx="180.8" cy="551.6" r="2.6"/>
<circle cx="183.2" cy="549.7" r="2.6"/>
<circle cx="185.6" cy="548.0" r="2.6"/>
<circle cx="188.0" cy="546.4" r="2.6"/>
<circle cx="190.3" cy="544.8" r="2.6"/>
<circle cx="192.7" cy="543.4" r="2.6"/>
<circle cx="195.1" cy="542.0" r="2.6"/>
<circle cx="171.4" cy="561.2" r="2.6"/>
<circle cx="174.0" cy="559.8" r="2.6"/>
<circle cx="176.7" cy="558.2" r="2.6"/>
<circle cx="179.4" cy="556.5" r="2.6"/>
<circle cx="182.0" cy="554.5" r="2.6"/>
<circle cx="184.7" cy="552.2" r="2.6"/>
<circle cx="187.4" cy="549.6" r="2.6"/>
<circle cx="190.0" cy="546.8" r="2.6"/>
<circle cx="192.7" cy="543.9" r="2.6"/>
</g>
<path d="M38.5 669.0L323.2 438.0" stroke="#8a8a8a" stroke-width="1.35" stroke-dasharray="4.6 2.7" fill="none"/>
<rect x="38.5" y="438.0" width="284.7" height="231.0" fill="none" stroke="#111" stroke-width="1.3"/>
<g stroke="#444" stroke-width="0.7">
<path d="M85.9 669.0v-4.5M85.9 438.0v4.5M38.5 630.5h4.5M323.2 630.5h-4.5"/>
<path d="M133.4 669.0v-4.5M133.4 438.0v4.5M38.5 592.0h4.5M323.2 592.0h-4.5"/>
<path d="M180.8 669.0v-4.5M180.8 438.0v4.5M38.5 553.5h4.5M323.2 553.5h-4.5"/>
<path d="M228.3 669.0v-4.5M228.3 438.0v4.5M38.5 515.0h4.5M323.2 515.0h-4.5"/>
<path d="M275.8 669.0v-4.5M275.8 438.0v4.5M38.5 476.5h4.5M323.2 476.5h-4.5"/>
</g>
<text x="37.8" y="682.2" font-size="14" text-anchor="middle" font-family='"Liberation Serif","DejaVu Serif",serif' textLength="15.6" lengthAdjust="spacingAndGlyphs" fill="#2a2a2a">−3</text>
<text x="36.3" y="674.3" font-size="14" text-anchor="end" font-family='"Liberation Serif","DejaVu Serif",serif' textLength="15.6" lengthAdjust="spacingAndGlyphs" fill="#2a2a2a">−3</text>
<text x="85.2" y="682.2" font-size="14" text-anchor="middle" font-family='"Liberation Serif","DejaVu Serif",serif' textLength="15.6" lengthAdjust="spacingAndGlyphs" fill="#2a2a2a">−2</text>
<text x="36.3" y="635.8" font-size="14" text-anchor="end" font-family='"Liberation Serif","DejaVu Serif",serif' textLength="15.6" lengthAdjust="spacingAndGlyphs" fill="#2a2a2a">−2</text>
<text x="132.7" y="682.2" font-size="14" text-anchor="middle" font-family='"Liberation Serif","DejaVu Serif",serif' textLength="15.6" lengthAdjust="spacingAndGlyphs" fill="#2a2a2a">−1</text>
<text x="36.3" y="597.3" font-size="14" text-anchor="end" font-family='"Liberation Serif","DejaVu Serif",serif' textLength="15.6" lengthAdjust="spacingAndGlyphs" fill="#2a2a2a">−1</text>
<text x="180.2" y="682.2" font-size="14" text-anchor="middle" font-family='"Liberation Serif","DejaVu Serif",serif' fill="#2a2a2a">0</text>
<text x="36.3" y="558.8" font-size="14" text-anchor="end" font-family='"Liberation Serif","DejaVu Serif",serif' fill="#2a2a2a">0</text>
<text x="227.6" y="682.2" font-size="14" text-anchor="middle" font-family='"Liberation Serif","DejaVu Serif",serif' fill="#2a2a2a">1</text>
<text x="36.3" y="520.3" font-size="14" text-anchor="end" font-family='"Liberation Serif","DejaVu Serif",serif' fill="#2a2a2a">1</text>
<text x="275.1" y="682.2" font-size="14" text-anchor="middle" font-family='"Liberation Serif","DejaVu Serif",serif' fill="#2a2a2a">2</text>
<text x="36.3" y="481.8" font-size="14" text-anchor="end" font-family='"Liberation Serif","DejaVu Serif",serif' fill="#2a2a2a">2</text>
<text x="322.5" y="682.2" font-size="14" text-anchor="middle" font-family='"Liberation Serif","DejaVu Serif",serif' fill="#2a2a2a">3</text>
<text x="36.3" y="443.3" font-size="14" text-anchor="end" font-family='"Liberation Serif","DejaVu Serif",serif' fill="#2a2a2a">3</text>
<text x="180.0" y="698.2" font-size="15" text-anchor="middle" font-family='"Liberation Serif","DejaVu Serif",serif' textLength="128.0" lengthAdjust="spacingAndGlyphs" fill="#2a2a2a">Ground truth (<tspan font-style="italic">k</tspan><tspan font-style="italic" font-size="10.5" dy="2.4">B</tspan><tspan font-style="italic" dy="-2.4">T</tspan>)</text>
<text transform="translate(12.2 556.3) rotate(-90)" font-size="15" text-anchor="middle" fill="#2a2a2a" textLength="114.5" lengthAdjust="spacingAndGlyphs" font-family='"Liberation Serif","DejaVu Serif",serif'>Prediction (<tspan font-style="italic">k</tspan><tspan font-style="italic" font-size="10.5" dy="2.4">B</tspan><tspan font-style="italic" dy="-2.4">T</tspan>)</text>
<text x="306.8" y="649.8" font-size="16.2" text-anchor="end" font-family='"Liberation Serif","DejaVu Serif",serif' textLength="145.0" lengthAdjust="spacingAndGlyphs" fill="#1a1a1a">RMSE = 0.0198<tspan font-style="italic">k</tspan><tspan font-style="italic" font-size="11.5" dy="2.6">B</tspan><tspan font-style="italic" dy="-2.6">T</tspan></text>
<g fill="#4a90e2" stroke="#101010" stroke-width="0.5">
<circle cx="475.9" cy="606.9" r="2.6"/>
<circle cx="477.9" cy="605.3" r="2.6"/>
<circle cx="479.9" cy="603.2" r="2.6"/>
<circle cx="481.9" cy="602.3" r="2.6"/>
<circle cx="483.9" cy="600.2" r="2.6"/>
<circle cx="485.9" cy="599.0" r="2.6"/>
<circle cx="487.9" cy="596.6" r="2.6"/>
<circle cx="489.9" cy="595.2" r="2.6"/>
<circle cx="491.9" cy="593.3" r="2.6"/>
<circle cx="493.9" cy="592.1" r="2.6"/>
<circle cx="495.8" cy="590.3" r="2.6"/>
<circle cx="497.8" cy="588.8" r="2.6"/>
<circle cx="499.8" cy="587.3" r="2.6"/>
<circle cx="501.8" cy="585.4" r="2.6"/>
<circle cx="503.8" cy="584.1" r="2.6"/>
<circle cx="505.8" cy="582.3" r="2.6"/>
<circle cx="507.8" cy="580.4" r="2.6"/>
<circle cx="509.8" cy="579.0" r="2.6"/>
<circle cx="511.8" cy="577.4" r="2.6"/>
<circle cx="513.8" cy="575.2" r="2.6"/>
<circle cx="515.8" cy="574.1" r="2.6"/>
<circle cx="517.8" cy="572.6" r="2.6"/>
<circle cx="519.8" cy="570.8" r="2.6"/>
<circle cx="521.8" cy="569.3" r="2.6"/>
<circle cx="523.8" cy="567.7" r="2.6"/>
<circle cx="525.8" cy="566.0" r="2.6"/>
<circle cx="527.8" cy="563.9" r="2.6"/>
<circle cx="529.8" cy="562.7" r="2.6"/>
<circle cx="531.8" cy="561.0" r="2.6"/>
<circle cx="533.8" cy="559.3" r="2.6"/>
<circle cx="535.8" cy="557.3" r="2.6"/>
<circle cx="537.8" cy="556.2" r="2.6"/>
<circle cx="539.8" cy="554.7" r="2.6"/>
<circle cx="541.7" cy="552.4" r="2.6"/>
<circle cx="543.7" cy="551.6" r="2.6"/>
<circle cx="545.7" cy="549.8" r="2.6"/>
<circle cx="547.7" cy="547.9" r="2.6"/>
<circle cx="549.7" cy="545.9" r="2.6"/>
<circle cx="551.7" cy="545.0" r="2.6"/>
<circle cx="553.7" cy="543.7" r="2.6"/>
<circle cx="555.7" cy="541.4" r="2.6"/>
<circle cx="557.7" cy="540.0" r="2.6"/>
<circle cx="559.7" cy="538.4" r="2.6"/>
<circle cx="561.7" cy="536.6" r="2.6"/>
<circle cx="563.7" cy="535.0" r="2.6"/>
<circle cx="565.7" cy="533.3" r="2.6"/>
<circle cx="567.7" cy="531.9" r="2.6"/>
<circle cx="569.7" cy="529.9" r="2.6"/>
<circle cx="571.7" cy="528.2" r="2.6"/>
<circle cx="573.7" cy="526.9" r="2.6"/>
<circle cx="575.7" cy="525.4" r="2.6"/>
<circle cx="577.7" cy="523.5" r="2.6"/>
<circle cx="579.7" cy="521.9" r="2.6"/>
<circle cx="581.7" cy="520.6" r="2.6"/>
<circle cx="583.7" cy="518.9" r="2.6"/>
<circle cx="585.7" cy="516.9" r="2.6"/>
<circle cx="587.6" cy="515.5" r="2.6"/>
<circle cx="589.6" cy="514.0" r="2.6"/>
<circle cx="591.6" cy="512.2" r="2.6"/>
<circle cx="593.6" cy="510.6" r="2.6"/>
<circle cx="595.6" cy="509.0" r="2.6"/>
<circle cx="597.6" cy="507.8" r="2.6"/>
<circle cx="599.6" cy="505.3" r="2.6"/>
<circle cx="601.6" cy="504.1" r="2.6"/>
<circle cx="603.6" cy="502.7" r="2.6"/>
<circle cx="605.6" cy="500.6" r="2.6"/>
<circle cx="607.6" cy="499.2" r="2.6"/>
<circle cx="609.6" cy="497.6" r="2.6"/>
<circle cx="611.6" cy="495.7" r="2.6"/>
<circle cx="613.6" cy="493.8" r="2.6"/>
<circle cx="615.6" cy="492.6" r="2.6"/>
<circle cx="617.6" cy="490.7" r="2.6"/>
<circle cx="619.6" cy="489.0" r="2.6"/>
<circle cx="621.6" cy="488.1" r="2.6"/>
<circle cx="623.6" cy="486.3" r="2.6"/>
<circle cx="625.6" cy="484.4" r="2.6"/>
<circle cx="517.4" cy="572.8" r="2.6"/>
<circle cx="519.8" cy="570.3" r="2.6"/>
<circle cx="522.2" cy="567.9" r="2.6"/>
<circle cx="524.5" cy="565.6" r="2.6"/>
<circle cx="526.9" cy="563.4" r="2.6"/>
<circle cx="529.2" cy="561.3" r="2.6"/>
<circle cx="531.6" cy="559.3" r="2.6"/>
<circle cx="534.0" cy="557.4" r="2.6"/>
<circle cx="536.3" cy="555.7" r="2.6"/>
<circle cx="538.7" cy="554.1" r="2.6"/>
<circle cx="541.0" cy="552.5" r="2.6"/>
<circle cx="543.4" cy="551.1" r="2.6"/>
<circle cx="545.8" cy="549.6" r="2.6"/>
<circle cx="545.8" cy="549.6" r="2.6"/>
<circle cx="548.1" cy="548.4" r="2.6"/>
<circle cx="550.5" cy="547.0" r="2.6"/>
<circle cx="552.9" cy="545.6" r="2.6"/>
<circle cx="555.2" cy="544.1" r="2.6"/>
<circle cx="557.6" cy="542.3" r="2.6"/>
<circle cx="559.9" cy="540.4" r="2.6"/>
<circle cx="562.3" cy="538.3" r="2.6"/>
<circle cx="564.7" cy="536.0" r="2.6"/>
<circle cx="567.0" cy="533.6" r="2.6"/>
<circle cx="569.4" cy="531.1" r="2.6"/>
<circle cx="571.7" cy="528.5" r="2.6"/>
<circle cx="583.5" cy="518.9" r="2.6"/>
<circle cx="585.9" cy="516.7" r="2.6"/>
<circle cx="588.2" cy="514.6" r="2.6"/>
<circle cx="590.5" cy="512.4" r="2.6"/>
<circle cx="592.8" cy="510.3" r="2.6"/>
<circle cx="595.1" cy="508.3" r="2.6"/>
<circle cx="597.4" cy="506.2" r="2.6"/>
<circle cx="599.7" cy="504.2" r="2.6"/>
<circle cx="602.0" cy="502.3" r="2.6"/>
<circle cx="604.3" cy="500.4" r="2.6"/>
<circle cx="606.6" cy="498.5" r="2.6"/>
<circle cx="608.9" cy="496.7" r="2.6"/>
<circle cx="611.2" cy="494.9" r="2.6"/>
<circle cx="613.6" cy="493.2" r="2.6"/>
<circle cx="615.9" cy="491.5" r="2.6"/>
<circle cx="618.2" cy="489.8" r="2.6"/>
<circle cx="620.5" cy="488.2" r="2.6"/>
<circle cx="622.8" cy="486.6" r="2.6"/>
<circle cx="625.1" cy="485.0" r="2.6"/>
<circle cx="475.9" cy="606.6" r="2.6"/>
<circle cx="478.4" cy="605.0" r="2.6"/>
<circle cx="480.9" cy="603.3" r="2.6"/>
<circle cx="483.4" cy="601.5" r="2.6"/>
<circle cx="486.0" cy="599.6" r="2.6"/>
<circle cx="488.5" cy="597.5" r="2.6"/>
<circle cx="491.0" cy="595.3" r="2.6"/>
<circle cx="493.5" cy="593.0" r="2.6"/>
<circle cx="496.0" cy="590.6" r="2.6"/>
<circle cx="498.6" cy="588.1" r="2.6"/>
</g>
<path d="M399.4 669.0L682.7 438.0" stroke="#8a8a8a" stroke-width="1.35" stroke-dasharray="4.6 2.7" fill="none"/>
<rect x="399.4" y="438.0" width="283.30000000000007" height="231.0" fill="none" stroke="#111" stroke-width="1.3"/>
<g stroke="#444" stroke-width="0.7">
<path d="M446.6 669.0v-4.5M446.6 438.0v4.5M399.4 630.5h4.5M682.7 630.5h-4.5"/>
<path d="M493.8 669.0v-4.5M493.8 438.0v4.5M399.4 592.0h4.5M682.7 592.0h-4.5"/>
<path d="M541.0 669.0v-4.5M541.0 438.0v4.5M399.4 553.5h4.5M682.7 553.5h-4.5"/>
<path d="M588.3 669.0v-4.5M588.3 438.0v4.5M399.4 515.0h4.5M682.7 515.0h-4.5"/>
<path d="M635.5 669.0v-4.5M635.5 438.0v4.5M399.4 476.5h4.5M682.7 476.5h-4.5"/>
</g>
<text x="398.7" y="682.2" font-size="14" text-anchor="middle" font-family='"Liberation Serif","DejaVu Serif",serif' textLength="15.6" lengthAdjust="spacingAndGlyphs" fill="#2a2a2a">−3</text>
<text x="397.2" y="674.3" font-size="14" text-anchor="end" font-family='"Liberation Serif","DejaVu Serif",serif' textLength="15.6" lengthAdjust="spacingAndGlyphs" fill="#2a2a2a">−3</text>
<text x="445.9" y="682.2" font-size="14" text-anchor="middle" font-family='"Liberation Serif","DejaVu Serif",serif' textLength="15.6" lengthAdjust="spacingAndGlyphs" fill="#2a2a2a">−2</text>
<text x="397.2" y="635.8" font-size="14" text-anchor="end" font-family='"Liberation Serif","DejaVu Serif",serif' textLength="15.6" lengthAdjust="spacingAndGlyphs" fill="#2a2a2a">−2</text>
<text x="493.1" y="682.2" font-size="14" text-anchor="middle" font-family='"Liberation Serif","DejaVu Serif",serif' textLength="15.6" lengthAdjust="spacingAndGlyphs" fill="#2a2a2a">−1</text>
<text x="397.2" y="597.3" font-size="14" text-anchor="end" font-family='"Liberation Serif","DejaVu Serif",serif' textLength="15.6" lengthAdjust="spacingAndGlyphs" fill="#2a2a2a">−1</text>
<text x="540.3" y="682.2" font-size="14" text-anchor="middle" font-family='"Liberation Serif","DejaVu Serif",serif' fill="#2a2a2a">0</text>
<text x="397.2" y="558.8" font-size="14" text-anchor="end" font-family='"Liberation Serif","DejaVu Serif",serif' fill="#2a2a2a">0</text>
<text x="587.6" y="682.2" font-size="14" text-anchor="middle" font-family='"Liberation Serif","DejaVu Serif",serif' fill="#2a2a2a">1</text>
<text x="397.2" y="520.3" font-size="14" text-anchor="end" font-family='"Liberation Serif","DejaVu Serif",serif' fill="#2a2a2a">1</text>
<text x="634.8" y="682.2" font-size="14" text-anchor="middle" font-family='"Liberation Serif","DejaVu Serif",serif' fill="#2a2a2a">2</text>
<text x="397.2" y="481.8" font-size="14" text-anchor="end" font-family='"Liberation Serif","DejaVu Serif",serif' fill="#2a2a2a">2</text>
<text x="682.0" y="682.2" font-size="14" text-anchor="middle" font-family='"Liberation Serif","DejaVu Serif",serif' fill="#2a2a2a">3</text>
<text x="397.2" y="443.3" font-size="14" text-anchor="end" font-family='"Liberation Serif","DejaVu Serif",serif' fill="#2a2a2a">3</text>
<text x="540.2" y="698.2" font-size="15" text-anchor="middle" font-family='"Liberation Serif","DejaVu Serif",serif' textLength="128.0" lengthAdjust="spacingAndGlyphs" fill="#2a2a2a">Ground truth (<tspan font-style="italic">k</tspan><tspan font-style="italic" font-size="10.5" dy="2.4">B</tspan><tspan font-style="italic" dy="-2.4">T</tspan>)</text>
<text transform="translate(373.1 556.3) rotate(-90)" font-size="15" text-anchor="middle" fill="#2a2a2a" textLength="114.5" lengthAdjust="spacingAndGlyphs" font-family='"Liberation Serif","DejaVu Serif",serif'>Prediction (<tspan font-style="italic">k</tspan><tspan font-style="italic" font-size="10.5" dy="2.4">B</tspan><tspan font-style="italic" dy="-2.4">T</tspan>)</text>
<text x="672.3" y="649.8" font-size="16.2" text-anchor="end" font-family='"Liberation Serif","DejaVu Serif",serif' textLength="145.0" lengthAdjust="spacingAndGlyphs" fill="#1a1a1a">RMSE = 0.0134<tspan font-style="italic">k</tspan><tspan font-style="italic" font-size="11.5" dy="2.6">B</tspan><tspan font-style="italic" dy="-2.6">T</tspan></text>
</svg>
</body></html>
